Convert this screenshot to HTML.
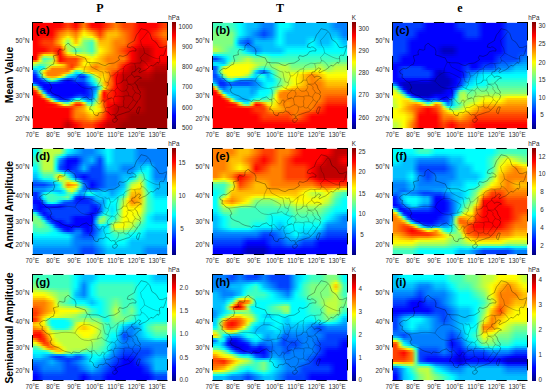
<!DOCTYPE html><html><head><meta charset="utf-8"><style>
*{margin:0;padding:0;box-sizing:border-box}
html,body{width:550px;height:392px;background:#fff;overflow:hidden}
body{position:relative;font-family:"Liberation Sans",sans-serif;color:#2a2a2a}
.t{position:absolute;white-space:nowrap}
.ttl{font-family:"Liberation Serif",serif;font-weight:bold;font-size:12px;color:#000}
.rl{font-weight:bold;font-size:10.35px;line-height:12px;color:#000;transform:translate(-50%,-50%) rotate(-90deg)}
.tk{font-size:6.3px;line-height:8px}
.pn{position:absolute;width:136px;height:107px;overflow:hidden}
.w{position:absolute;left:-4px;top:-2px;width:144px;height:111px;filter:blur(0.55px)}
.w div{position:absolute;left:0;width:144px;height:2px}
.cb{position:absolute;width:4.5px;height:107px}
.ov{position:absolute;left:0;top:0}
.ov polyline{fill:none;stroke-linejoin:round}
.bd{stroke:#000;stroke-width:0.55;stroke-opacity:0.6}
.pv{stroke:#000;stroke-width:0.45;stroke-opacity:0.5}
.fw{fill:none;stroke:#fff;stroke-width:1;stroke-opacity:0.8}
.fb{fill:none;stroke:#000;stroke-width:1}
.pl{position:absolute;font-weight:bold;font-size:11.5px;line-height:13px;color:#000}
</style></head><body><div class="t ttl" style="left:32px;top:1px;width:136px;text-align:center">P</div>
<div class="t ttl" style="left:212px;top:1px;width:136px;text-align:center">T</div>
<div class="t ttl" style="left:392px;top:1px;width:136px;text-align:center">e</div>
<div class="t rl" style="left:9.5px;top:75.2px">Mean Value</div>
<div class="t rl" style="left:9.5px;top:205.3px">Annual Amplitude</div>
<div class="t rl" style="left:9.5px;top:327.8px">Semiannual Amplitude</div>
<div class="pn" style="left:32px;top:22px"><div class="w"><div style="top:0px;background:linear-gradient(90deg,#ff0000 0px,#ff0000 4px,#ff0000 8px,#ff0000 12px,#ff0000 16px,#ff0000 20px,#ff0000 24px,#ff0000 28px,#ff0000 32px,#ff2000 36px,#ff4000 40px,#ff2000 44px,#ff0000 48px,#ff4000 52px,#ff8000 56px,#ff4000 60px,#ff0000 64px,#ff0000 68px,#ff0000 72px,#ff2000 76px,#ff4000 80px,#ff6000 84px,#ff8000 88px,#ff6000 92px,#ff4000 96px,#ff4000 100px,#ff4000 104px,#ff2000 108px,#ff0000 112px,#ff0000 116px,#ff0000 120px,#ff0000 124px,#ff0000 128px,#ff2000 132px,#ff4000 136px,#ff4000 140px,#ff4000 144px)"></div><div style="top:2px;background:linear-gradient(90deg,#ff0000 0px,#ff0000 4px,#ff0000 8px,#ff0000 12px,#ff0000 16px,#ff0000 20px,#ff0000 24px,#ff0000 28px,#ff0000 32px,#ff2000 36px,#ff4000 40px,#ff2000 44px,#ff0000 48px,#ff4000 52px,#ff8000 56px,#ff4000 60px,#ff0000 64px,#ff0000 68px,#ff0000 72px,#ff2000 76px,#ff4000 80px,#ff6000 84px,#ff8000 88px,#ff6000 92px,#ff4000 96px,#ff4000 100px,#ff4000 104px,#ff2000 108px,#ff0000 112px,#ff0000 116px,#ff0000 120px,#ff0000 124px,#ff0000 128px,#ff2000 132px,#ff4000 136px,#ff4000 140px,#ff4000 144px)"></div><div style="top:4px;background:linear-gradient(90deg,#ff0000 0px,#ff0000 4px,#ff0000 8px,#ff0000 12px,#ff0000 16px,#ff0000 20px,#ff0000 24px,#ff0000 28px,#ff0000 32px,#ff2000 36px,#ff4000 40px,#ff2000 44px,#ff0000 48px,#ff4000 52px,#ff8000 56px,#ff4000 60px,#ff0000 64px,#ff0000 68px,#ff0000 72px,#ff2000 76px,#ff4000 80px,#ff6000 84px,#ff8000 88px,#ff6000 92px,#ff4000 96px,#ff4000 100px,#ff4000 104px,#ff2000 108px,#ff0000 112px,#ff0000 116px,#ff0000 120px,#ff0000 124px,#ff0000 128px,#ff2000 132px,#ff4000 136px,#ff4000 140px,#ff4000 144px)"></div><div style="top:6px;background:linear-gradient(90deg,#ff0000 0px,#ff0000 4px,#ff0000 8px,#ff0000 12px,#ff0000 16px,#ff0000 20px,#ff0000 24px,#ff0400 28px,#ff0800 32px,#ff2800 36px,#ff4800 40px,#ff2800 44px,#ff0800 48px,#ff4800 52px,#ff8700 56px,#ff4a00 60px,#ff0c00 64px,#ff0800 68px,#ff0400 72px,#ff2600 76px,#ff4800 80px,#ff6600 84px,#ff8300 88px,#ff6400 92px,#ff4400 96px,#ff4200 100px,#ff4000 104px,#ff2000 108px,#ff0000 112px,#ff0000 116px,#ff0000 120px,#ff0200 124px,#ff0400 128px,#ff2400 132px,#ff4400 136px,#ff4400 140px,#ff4400 144px)"></div><div style="top:8px;background:linear-gradient(90deg,#ff0000 0px,#ff0000 4px,#ff0000 8px,#ff0000 12px,#ff0000 16px,#ff0000 20px,#ff0000 24px,#ff1400 28px,#ff2700 32px,#ff4700 36px,#ff6700 40px,#ff4700 44px,#ff2700 48px,#ff6700 52px,#ffa700 56px,#ff7100 60px,#ff3b00 64px,#ff2700 68px,#ff1400 72px,#ff3d00 76px,#ff6700 80px,#ff7d00 84px,#ff9300 88px,#ff7300 92px,#ff5300 96px,#ff4a00 100px,#ff4000 104px,#ff2000 108px,#ff0000 112px,#ff0000 116px,#ff0000 120px,#ff0a00 124px,#ff1400 128px,#ff3400 132px,#ff5300 136px,#ff5300 140px,#ff5300 144px)"></div><div style="top:10px;background:linear-gradient(90deg,#ff0000 0px,#ff0000 4px,#ff0000 8px,#ff0000 12px,#ff0000 16px,#ff0000 20px,#ff0000 24px,#ff2800 28px,#ff4f00 32px,#ff6f00 36px,#ff8f00 40px,#ff6f00 44px,#ff4f00 48px,#ff8f00 52px,#ffcf00 56px,#ffa300 60px,#ff7700 64px,#ff4f00 68px,#ff2800 72px,#ff5b00 76px,#ff8f00 80px,#ff9b00 84px,#ffa700 88px,#ff8700 92px,#ff6700 96px,#ff5400 100px,#ff4000 104px,#ff2000 108px,#ff0000 112px,#ff0000 116px,#ff0000 120px,#ff1400 124px,#ff2800 128px,#ff4700 132px,#ff6700 136px,#ff6700 140px,#ff6700 144px)"></div><div style="top:12px;background:linear-gradient(90deg,#ff0000 0px,#ff0000 4px,#ff0000 8px,#ff0000 12px,#ff0000 16px,#ff0000 20px,#ff0000 24px,#ff3900 28px,#ff7200 32px,#ff9200 36px,#ffb100 40px,#ff9200 44px,#ff7200 48px,#ffb100 52px,#fff100 56px,#ffce00 60px,#ffab00 64px,#ff7200 68px,#ff3900 72px,#ff7500 76px,#ffb100 80px,#ffb500 84px,#ffb800 88px,#ff9800 92px,#ff7900 96px,#ff5c00 100px,#ff4000 104px,#ff2000 108px,#ff0000 112px,#ff0000 116px,#ff0000 120px,#ff1c00 124px,#ff3900 128px,#ff5900 132px,#ff7900 136px,#ff7900 140px,#ff7900 144px)"></div><div style="top:14px;background:linear-gradient(90deg,#ff0000 0px,#ff0000 4px,#ff0000 8px,#ff0100 12px,#ff0300 16px,#ff0300 20px,#ff0300 24px,#ff4200 28px,#ff8200 32px,#ffa500 36px,#ffc700 40px,#ffa500 44px,#ff8200 48px,#ffc300 52px,#faff05 56px,#ffe700 60px,#ffca00 64px,#ff8800 68px,#ff4500 72px,#ff8200 76px,#ffbf00 80px,#ffbe00 84px,#ffbd00 88px,#ff9e00 92px,#ff8000 96px,#ff6000 100px,#ff4000 104px,#ff2000 108px,#ff0000 112px,#ff0000 116px,#ff0000 120px,#ff1f00 124px,#ff3d00 128px,#ff5d00 132px,#ff7d00 136px,#ff7d00 140px,#ff7d00 144px)"></div><div style="top:16px;background:linear-gradient(90deg,#ff0000 0px,#ff0000 4px,#ff0000 8px,#ff0900 12px,#ff1200 16px,#ff1200 20px,#ff1200 24px,#ff5100 28px,#ff9100 32px,#ffc300 36px,#fff400 40px,#ffc300 44px,#ff9100 48px,#ffda00 52px,#dcff23 56px,#eaff15 60px,#f8ff07 64px,#ffb400 68px,#ff6300 72px,#ff9100 76px,#ffbf00 80px,#ffb600 84px,#ffae00 88px,#ff9700 92px,#ff8000 96px,#ff6000 100px,#ff4000 104px,#ff2000 108px,#ff0000 112px,#ff0000 116px,#ff0000 120px,#ff1700 124px,#ff2e00 128px,#ff4e00 132px,#ff6e00 136px,#ff6e00 140px,#ff6e00 144px)"></div><div style="top:18px;background:linear-gradient(90deg,#ff0000 0px,#ff0000 4px,#ff0000 8px,#ff1300 12px,#ff2500 16px,#ff2500 20px,#ff2500 24px,#ff6500 28px,#ffa500 32px,#ffea00 36px,#cfff30 40px,#ffea00 44px,#ffa500 48px,#fff700 52px,#b4ff4b 56px,#afff50 60px,#aaff55 64px,#ffef00 68px,#ff8a00 72px,#ffa500 76px,#ffbf00 80px,#ffad00 84px,#ff9a00 88px,#ff8d00 92px,#ff8000 96px,#ff6000 100px,#ff4000 104px,#ff2000 108px,#ff0000 112px,#ff0000 116px,#ff0000 120px,#ff0d00 124px,#ff1a00 128px,#ff3a00 132px,#ff5a00 136px,#ff5a00 140px,#ff5a00 144px)"></div><div style="top:20px;background:linear-gradient(90deg,#ff0000 0px,#ff0000 4px,#ff0000 8px,#ff1c00 12px,#ff3700 16px,#ff3700 20px,#ff3700 24px,#ff7700 28px,#ffb700 32px,#f0ff0f 36px,#99ff66 40px,#f0ff0f 44px,#ffb700 48px,#ecff13 52px,#91ff6e 56px,#79ff86 60px,#62ff9d 64px,#d9ff26 68px,#ffae00 72px,#ffb700 76px,#ffbf00 80px,#ffa400 84px,#ff8800 88px,#ff8400 92px,#ff8000 96px,#ff6000 100px,#ff4000 104px,#ff2000 108px,#ff0000 112px,#ff0000 116px,#ff0000 120px,#ff0400 124px,#ff0900 128px,#ff2800 132px,#ff4800 136px,#ff4800 140px,#ff4800 144px)"></div><div style="top:22px;background:linear-gradient(90deg,#ff0000 0px,#ff0000 4px,#ff0000 8px,#ff1f00 12px,#ff3e00 16px,#ff3f00 20px,#ff4000 24px,#ff7d00 28px,#ffba00 32px,#e2ff1d 36px,#81ff7e 40px,#ddff22 44px,#ffc600 48px,#dcff23 52px,#80ff80 56px,#60ff9f 60px,#40ffbf 64px,#beff41 68px,#ffc100 72px,#ffc000 76px,#ffbf00 80px,#ff9f00 84px,#ff8000 88px,#ff7f00 92px,#ff7e00 96px,#ff5e00 100px,#ff3e00 104px,#ff1e00 108px,#fd0000 112px,#fd0000 116px,#fd0000 120px,#fe0000 124px,#ff0000 128px,#ff1f00 132px,#ff3e00 136px,#ff3e00 140px,#ff3e00 144px)"></div><div style="top:24px;background:linear-gradient(90deg,#ff0000 0px,#ff0000 4px,#ff0000 8px,#ff1800 12px,#ff3000 16px,#ff3800 20px,#ff4000 24px,#ff6800 28px,#ff9100 32px,#feff01 36px,#8fff70 40px,#c8ff37 44px,#fffd00 48px,#c0ff3f 52px,#80ff80 56px,#60ff9f 60px,#40ffbf 64px,#b7ff48 68px,#ffcf00 72px,#ffc700 76px,#ffbf00 80px,#ff9f00 84px,#ff8000 88px,#ff7800 92px,#ff7000 96px,#ff5000 100px,#ff3000 104px,#ff1000 108px,#ef0000 112px,#ef0000 116px,#ef0000 120px,#f70000 124px,#ff0000 128px,#ff1800 132px,#ff3000 136px,#ff3000 140px,#ff3000 144px)"></div><div style="top:26px;background:linear-gradient(90deg,#ff0000 0px,#ff0000 4px,#ff0000 8px,#ff0e00 12px,#ff1d00 16px,#ff2e00 20px,#ff4000 24px,#ff4b00 28px,#ff5600 32px,#ffd900 36px,#a2ff5d 40px,#abff54 44px,#b3ff4c 48px,#99ff66 52px,#80ff80 56px,#60ff9f 60px,#40ffbf 64px,#aeff51 68px,#ffe200 72px,#ffd100 76px,#ffbf00 80px,#ff9f00 84px,#ff8000 88px,#ff6e00 92px,#ff5d00 96px,#ff3d00 100px,#ff1d00 104px,#fc0000 108px,#dc0000 112px,#dc0000 116px,#dc0000 120px,#ee0000 124px,#ff0000 128px,#ff0e00 132px,#ff1d00 136px,#ff1d00 140px,#ff1d00 144px)"></div><div style="top:28px;background:linear-gradient(90deg,#ff0000 0px,#ff0000 4px,#ff0000 8px,#ff0500 12px,#ff0a00 16px,#ff2500 20px,#ff4000 24px,#ff2f00 28px,#ff1f00 32px,#ffb400 36px,#b5ff4a 40px,#8fff70 44px,#69ff96 48px,#74ff8b 52px,#80ff80 56px,#60ff9f 60px,#40ffbf 64px,#a5ff5a 68px,#fff500 72px,#ffda00 76px,#ffbf00 80px,#ff9f00 84px,#ff8000 88px,#ff6500 92px,#ff4a00 96px,#ff2a00 100px,#ff0a00 104px,#e90000 108px,#ca0000 112px,#ca0000 116px,#ca0000 120px,#e40000 124px,#ff0000 128px,#ff0500 132px,#ff0a00 136px,#ff0a00 140px,#ff0a00 144px)"></div><div style="top:30px;background:linear-gradient(90deg,#ff0000 0px,#ff0000 4px,#ff0000 8px,#ff0200 12px,#ff0500 16px,#ff2400 20px,#ff4300 24px,#ff2200 28px,#ff0000 32px,#ff9e00 36px,#c2ff3d 40px,#83ff7c 44px,#44ffbb 48px,#63ff9c 52px,#81ff7e 56px,#62ff9d 60px,#42ffbd 64px,#a1ff5e 68px,#fffe00 72px,#ffde00 76px,#ffbf00 80px,#ff9f00 84px,#ff8000 88px,#ff6000 92px,#ff4000 96px,#ff2000 100px,#ff0000 104px,#df0000 108px,#bf0000 112px,#bf0000 116px,#bf0000 120px,#df0000 124px,#ff0000 128px,#ff0000 132px,#ff0000 136px,#ff0000 140px,#ff0000 144px)"></div><div style="top:32px;background:linear-gradient(90deg,#ff0000 0px,#ff0000 4px,#ff0000 8px,#ff2f00 12px,#ff5e00 16px,#ff7100 20px,#ff8300 24px,#ff4200 28px,#ff0000 32px,#ff8400 36px,#f5ff0a 40px,#c3ff3c 44px,#91ff6e 48px,#9cff63 52px,#a8ff57 56px,#88ff77 60px,#68ff97 64px,#baff45 68px,#fff200 72px,#ffd200 76px,#ffb200 80px,#ff9900 84px,#ff8000 88px,#ff6600 92px,#ff4d00 96px,#ff2700 100px,#ff0000 104px,#df0000 108px,#bf0000 112px,#bf0000 116px,#bf0000 120px,#df0000 124px,#ff0000 128px,#ff0000 132px,#ff0000 136px,#ff0000 140px,#ff0000 144px)"></div><div style="top:34px;background:linear-gradient(90deg,#ff0000 0px,#ff0000 4px,#ff0000 8px,#ff7200 12px,#ffe500 16px,#ffe400 20px,#ffe300 24px,#ff7100 28px,#ff0000 32px,#ff5e00 36px,#ffbc00 40px,#ffdb00 44px,#fffa00 48px,#f3ff0c 52px,#e1ff1e 56px,#c2ff3d 60px,#a2ff5d 64px,#e1ff1e 68px,#ffde00 72px,#ffbe00 76px,#ff9f00 80px,#ff8f00 84px,#ff8000 88px,#ff7000 92px,#ff6000 96px,#ff3000 100px,#ff0000 104px,#df0000 108px,#bf0000 112px,#bf0000 116px,#bf0000 120px,#df0000 124px,#ff0000 128px,#ff0000 132px,#ff0000 136px,#ff0000 140px,#ff0000 144px)"></div><div style="top:36px;background:linear-gradient(90deg,#ff0000 0px,#ff0000 4px,#ff0000 8px,#ffb400 12px,#95ff6a 16px,#a9ff56 20px,#bcff43 24px,#ffa100 28px,#ff0000 32px,#ff3800 36px,#ff7100 40px,#ff7d00 44px,#ff8900 48px,#ffb600 52px,#ffe400 56px,#faff05 60px,#daff25 64px,#fff800 68px,#ffcb00 72px,#ffac00 76px,#ff8c00 80px,#ff8600 84px,#ff8000 88px,#ff7900 92px,#ff7300 96px,#ff3a00 100px,#ff0000 104px,#df0000 108px,#bf0000 112px,#bf0000 116px,#bf0000 120px,#df0000 124px,#ff0000 128px,#ff0000 132px,#ff0000 136px,#ff0000 140px,#ff0000 144px)"></div><div style="top:38px;background:linear-gradient(90deg,#ff0000 0px,#ff0000 4px,#ff0000 8px,#ffdf00 12px,#41ffbe 16px,#60ff9f 20px,#80ff7f 24px,#ffbf00 28px,#ff0000 32px,#ff2000 36px,#ff4000 40px,#ff4000 44px,#ff4000 48px,#ff8000 52px,#ffc000 56px,#ffdf00 60px,#ffff00 64px,#ffdf00 68px,#ffbf00 72px,#ff9f00 76px,#ff8000 80px,#ff8000 84px,#ff8000 88px,#ff7f00 92px,#ff7f00 96px,#ff4000 100px,#ff0000 104px,#df0000 108px,#bf0000 112px,#bf0000 116px,#bf0000 120px,#df0000 124px,#ff0000 128px,#ff0000 132px,#ff0000 136px,#ff0000 140px,#ff0000 144px)"></div><div style="top:40px;background:linear-gradient(90deg,#ff7400 0px,#ff7400 4px,#ff7400 8px,#f6ff09 12px,#62ff9d 16px,#88ff77 20px,#aeff51 24px,#ffae00 28px,#ff0c00 32px,#ff2600 36px,#ff4000 40px,#ff4600 44px,#ff4b00 48px,#ff9100 52px,#ffd600 56px,#ffeb00 60px,#ffff00 64px,#ffdf00 68px,#ffbf00 72px,#ff9f00 76px,#ff8000 80px,#ff8000 84px,#ff8000 88px,#ff7400 92px,#ff6800 96px,#ff2e00 100px,#f30000 104px,#d90000 108px,#bf0000 112px,#c50000 116px,#cb0000 120px,#df0000 124px,#f30000 128px,#f30000 132px,#f30000 136px,#f30000 140px,#f30000 144px)"></div><div style="top:42px;background:linear-gradient(90deg,#f2ff0d 0px,#f2ff0d 4px,#d8ff27 8px,#9dff62 12px,#7cff83 16px,#a1ff5e 20px,#cdff32 24px,#ffce00 28px,#ff6b00 32px,#ff6500 36px,#ff4c00 40px,#ff4600 44px,#ff5800 48px,#ffa400 52px,#fff600 56px,#fff700 60px,#ffe500 64px,#ffc600 68px,#ffb900 72px,#ffac00 76px,#ff8f00 80px,#ff8000 84px,#ff8000 88px,#ff6100 92px,#ff4300 96px,#ff1200 100px,#e10000 104px,#d00000 108px,#bf0000 112px,#ce0000 116px,#de0000 120px,#df0000 124px,#e10000 128px,#e10000 132px,#e10000 136px,#e10000 140px,#e10000 144px)"></div><div style="top:44px;background:linear-gradient(90deg,#bfff40 0px,#bfff40 4px,#81ff7e 8px,#48ffb7 12px,#59ffa6 16px,#89ff76 20px,#beff41 24px,#e9ff16 28px,#ffeb00 32px,#ffc000 36px,#ff6200 40px,#ff3a00 44px,#ff5f00 48px,#ffa800 52px,#fff600 56px,#ffef00 60px,#ffb600 64px,#ff9600 68px,#ffac00 72px,#ffbe00 76px,#ffa500 80px,#ff8000 84px,#ff8000 88px,#ff4e00 92px,#ff1c00 96px,#f40000 100px,#cd0000 104px,#c60000 108px,#bf0000 112px,#d80000 116px,#f10000 120px,#df0000 124px,#cd0000 128px,#cd0000 132px,#cd0000 136px,#cd0000 140px,#cd0000 144px)"></div><div style="top:46px;background:linear-gradient(90deg,#4affb5 0px,#4affb5 4px,#31ffce 8px,#00f2ff 12px,#1affe5 16px,#ceff31 20px,#ffc300 24px,#ffbd00 28px,#ffb700 32px,#ffa500 36px,#ff6600 40px,#ff3a00 44px,#ff8d00 48px,#ffcd00 52px,#ffc500 56px,#ffc500 60px,#ff9900 64px,#ff7900 68px,#ff9f00 72px,#ffac00 76px,#ff8e00 80px,#ff8000 84px,#ff8000 88px,#ff4100 92px,#ff0200 96px,#e10000 100px,#c00000 104px,#c00000 108px,#bf0000 112px,#df0000 116px,#fe0000 120px,#df0000 124px,#c00000 128px,#c00000 132px,#c00000 136px,#c00000 140px,#c00000 144px)"></div><div style="top:48px;background:linear-gradient(90deg,#00daff 0px,#00daff 4px,#00e6ff 8px,#00f8ff 12px,#57ffa8 16px,#ffe600 20px,#ff8000 24px,#ff8000 28px,#ff8000 32px,#ff8000 36px,#ff6600 40px,#ff7100 44px,#ffe300 48px,#f4ff0b 52px,#ffd800 56px,#ffc500 60px,#ffa600 64px,#ff8c00 68px,#ffa600 72px,#ffa600 76px,#ff8400 80px,#ff7600 84px,#ff6c00 88px,#ff3100 92px,#f50000 96px,#da0000 100px,#bf0000 104px,#bf0000 108px,#bf0000 112px,#da0000 116px,#f50000 120px,#d80000 124px,#ba0000 128px,#ba0000 132px,#ba0000 136px,#ba0000 140px,#ba0000 144px)"></div><div style="top:50px;background:linear-gradient(90deg,#0065ff 0px,#0065ff 4px,#0098ff 8px,#47ffb8 12px,#fff700 16px,#ff9800 20px,#ff8000 24px,#ff8000 28px,#ff8000 32px,#ff8000 36px,#ff7900 40px,#f1ff0e 44px,#44ffbb 48px,#6bff94 52px,#d8ff27 56px,#ffd900 60px,#ffb900 64px,#ffb300 68px,#ffb900 72px,#ffb900 76px,#ff9400 80px,#ff6300 84px,#ff4700 88px,#ff1600 92px,#e30000 96px,#d10000 100px,#bf0000 104px,#bf0000 108px,#bf0000 112px,#d10000 116px,#e30000 120px,#ca0000 124px,#b10000 128px,#b10000 132px,#b10000 136px,#b10000 140px,#b10000 144px)"></div><div style="top:52px;background:linear-gradient(90deg,#0033ff 0px,#0033ff 4px,#006dff 8px,#41ffbe 12px,#ffd200 16px,#ff8000 20px,#ff8000 24px,#ff8000 28px,#ff8600 32px,#ff9e00 36px,#ffca00 40px,#8eff71 44px,#00ecff 48px,#08fff7 52px,#6fff90 56px,#d5ff2a 60px,#fff100 64px,#ffd200 68px,#ffbf00 72px,#ffc500 76px,#ff9e00 80px,#ff5000 84px,#ff2000 88px,#f70000 92px,#cf0000 96px,#c70000 100px,#bf0000 104px,#bf0000 108px,#bf0000 112px,#c70000 116px,#cf0000 120px,#bb0000 124px,#a70000 128px,#a70000 132px,#a70000 136px,#a70000 140px,#a70000 144px)"></div><div style="top:54px;background:linear-gradient(90deg,#000cff 0px,#000cff 4px,#0032ff 8px,#00deff 12px,#f2ff0d 16px,#ff8000 20px,#ff8000 24px,#ff8000 28px,#ff9900 32px,#feff01 36px,#4affb5 40px,#00f1ff 44px,#00b2ff 48px,#0057ff 52px,#0070ff 56px,#00e9ff 60px,#71ff8e 64px,#f2ff0d 68px,#ffbf00 72px,#ffd900 76px,#ffae00 80px,#ff4200 84px,#ff0400 88px,#e20000 92px,#c10000 96px,#c00000 100px,#bf0000 104px,#bf0000 108px,#bf0000 112px,#c00000 116px,#c10000 120px,#b10000 124px,#a00000 128px,#a00000 132px,#a00000 136px,#a00000 140px,#a00000 144px)"></div><div style="top:56px;background:linear-gradient(90deg,#0000ff 0px,#0000ff 4px,#001aff 8px,#00a0ff 12px,#95ff6a 16px,#ffca00 20px,#ffb100 24px,#ffc300 28px,#fffc00 32px,#89ff76 36px,#00ceff 40px,#00a0ff 44px,#0093ff 48px,#002cff 52px,#002cff 56px,#00a6ff 60px,#33ffcc 64px,#c6ff39 68px,#ffd200 72px,#ffdf00 76px,#ffaf00 80px,#ff4400 84px,#ff0000 88px,#df0000 92px,#bf0000 96px,#bf0000 100px,#bf0000 104px,#bd0000 108px,#bb0000 112px,#bb0000 116px,#bb0000 120px,#ad0000 124px,#9f0000 128px,#9f0000 132px,#9f0000 136px,#9f0000 140px,#9f0000 144px)"></div><div style="top:58px;background:linear-gradient(90deg,#0000ff 0px,#0000ff 4px,#0006ff 8px,#003fff 12px,#00aaff 16px,#4affb5 20px,#b1ff4e 24px,#64ff9b 28px,#00dcff 32px,#0076ff 36px,#0031ff 40px,#003fff 44px,#006cff 48px,#0053ff 52px,#0053ff 56px,#00b9ff 60px,#0cfff3 64px,#78ff87 68px,#f2ff0d 72px,#ffdf00 76px,#ffa300 80px,#ff4d00 84px,#ff0000 88px,#df0000 92px,#bf0000 96px,#bf0000 100px,#bf0000 104px,#b90000 108px,#b20000 112px,#b20000 116px,#b20000 120px,#a90000 124px,#9f0000 128px,#9f0000 132px,#9f0000 136px,#9f0000 140px,#9f0000 144px)"></div><div style="top:60px;background:linear-gradient(90deg,#0019ff 0px,#0019ff 4px,#000cff 8px,#001aff 12px,#004dff 16px,#00ceff 20px,#35ffca 24px,#00e7ff 28px,#0067ff 32px,#001aff 36px,#0000ff 40px,#001aff 44px,#004dff 48px,#004dff 52px,#0053ff 56px,#00adff 60px,#00f3ff 64px,#53ffac 68px,#d3ff2c 72px,#ffd900 76px,#ff9800 80px,#ff5600 84px,#ff0000 88px,#df0000 92px,#bf0000 96px,#bf0000 100px,#bf0000 104px,#b40000 108px,#a90000 112px,#a90000 116px,#a90000 120px,#a40000 124px,#9f0000 128px,#9f0000 132px,#9f0000 136px,#9f0000 140px,#9f0000 144px)"></div><div style="top:62px;background:linear-gradient(90deg,#0067ff 0px,#0067ff 4px,#0033ff 8px,#0006ff 12px,#0013ff 16px,#0031ff 20px,#004aff 24px,#0038ff 28px,#0019ff 32px,#0006ff 36px,#0000ff 40px,#0006ff 44px,#0013ff 48px,#0013ff 52px,#002cff 56px,#0072ff 60px,#00ccff 64px,#2cffd3 68px,#acff53 72px,#ffc500 76px,#ff7c00 80px,#ff5e00 84px,#ff0000 88px,#df0000 92px,#bf0000 96px,#bf0000 100px,#bf0000 104px,#b00000 108px,#a10000 112px,#a10000 116px,#a10000 120px,#a00000 124px,#9f0000 128px,#9f0000 132px,#9f0000 136px,#9f0000 140px,#9f0000 144px)"></div><div style="top:64px;background:linear-gradient(90deg,#00efff 0px,#00efff 4px,#0096ff 8px,#001fff 12px,#0000ff 16px,#0000ff 20px,#0000ff 24px,#0000ff 28px,#0000ff 32px,#0000ff 36px,#0000ff 40px,#0000ff 44px,#0000ff 48px,#0000ff 52px,#001aff 56px,#0053ff 60px,#00a7ff 64px,#01fffe 68px,#87ff78 72px,#ffd200 76px,#ff7a00 80px,#ff5900 84px,#ff0000 88px,#df0000 92px,#bf0000 96px,#bf0000 100px,#bf0000 104px,#b10000 108px,#a30000 112px,#a10000 116px,#9f0000 120px,#9f0000 124px,#9f0000 128px,#9f0000 132px,#9f0000 136px,#9f0000 140px,#9f0000 144px)"></div><div style="top:66px;background:linear-gradient(90deg,#ffaf00 0px,#ffaf00 4px,#a9ff56 8px,#0080ff 12px,#0000ff 16px,#0000ff 20px,#0000ff 24px,#0000ff 28px,#0000ff 32px,#0000ff 36px,#0000ff 40px,#0000ff 44px,#0000ff 48px,#0000ff 52px,#0006ff 56px,#002cff 60px,#0058ff 64px,#009eff 68px,#39ffc6 72px,#f2ff0d 76px,#ff9200 80px,#ff4800 84px,#ff0000 88px,#df0000 92px,#bf0000 96px,#bf0000 100px,#bf0000 104px,#b50000 108px,#ab0000 112px,#a50000 116px,#9f0000 120px,#9f0000 124px,#9f0000 128px,#9f0000 132px,#9f0000 136px,#9f0000 140px,#9f0000 144px)"></div><div style="top:68px;background:linear-gradient(90deg,#ff3300 0px,#ff3300 4px,#ffd400 8px,#00e3ff 12px,#001fff 16px,#0000ff 20px,#0000ff 24px,#0000ff 28px,#0000ff 32px,#0000ff 36px,#0000ff 40px,#0000ff 44px,#0000ff 48px,#0000ff 52px,#0000ff 56px,#0020ff 60px,#0046ff 64px,#008cff 68px,#4bffb4 72px,#ffe700 76px,#ff8600 80px,#ff3400 84px,#ff0000 88px,#df0000 92px,#bf0000 96px,#bf0000 100px,#bf0000 104px,#ba0000 108px,#b50000 112px,#aa0000 116px,#9f0000 120px,#9f0000 124px,#9f0000 128px,#9f0000 132px,#9f0000 136px,#9f0000 140px,#9f0000 144px)"></div><div style="top:70px;background:linear-gradient(90deg,#ff0c00 0px,#ff0c00 4px,#ff4b00 8px,#bbff44 12px,#0080ff 16px,#0000ff 20px,#0000ff 24px,#0000ff 28px,#0000ff 32px,#0000ff 36px,#0000ff 40px,#0000ff 44px,#0000ff 48px,#0000ff 52px,#0000ff 56px,#0020ff 60px,#0059ff 64px,#00b3ff 68px,#d4ff2b 72px,#ff3800 76px,#ff5000 80px,#ff2400 84px,#ff0000 88px,#df0000 92px,#bf0000 96px,#bf0000 100px,#bf0000 104px,#be0000 108px,#bd0000 112px,#ae0000 116px,#9f0000 120px,#9f0000 124px,#9f0000 128px,#9f0000 132px,#9f0000 136px,#9f0000 140px,#9f0000 144px)"></div><div style="top:72px;background:linear-gradient(90deg,#ff0000 0px,#ff0000 4px,#ff1a00 8px,#ffd400 12px,#00e3ff 16px,#0025ff 20px,#0006ff 24px,#0000ff 28px,#0000ff 32px,#0000ff 36px,#0000ff 40px,#0000ff 44px,#0006ff 48px,#000cff 52px,#0006ff 56px,#0020ff 60px,#0060ff 64px,#00ccff 68px,#fff300 72px,#ff0000 76px,#ff3b00 80px,#ff2000 84px,#ff0000 88px,#df0000 92px,#bf0000 96px,#bf0000 100px,#bf0000 104px,#bf0000 108px,#bf0000 112px,#af0000 116px,#9f0000 120px,#9f0000 124px,#9f0000 128px,#9f0000 132px,#9f0000 136px,#9f0000 140px,#9f0000 144px)"></div><div style="top:74px;background:linear-gradient(90deg,#ff0000 0px,#ff0000 4px,#ff0600 8px,#ff4b00 12px,#bbff44 16px,#009aff 20px,#001aff 24px,#0000ff 28px,#0000ff 32px,#0000ff 36px,#0000ff 40px,#0000ff 44px,#001aff 48px,#0033ff 52px,#001aff 56px,#0020ff 60px,#0060ff 64px,#00f3ff 68px,#ffcc00 72px,#ff0000 76px,#ff2b00 80px,#ff2000 84px,#ff0000 88px,#df0000 92px,#bf0000 96px,#bf0000 100px,#bf0000 104px,#bf0000 108px,#bf0000 112px,#af0000 116px,#9f0000 120px,#9f0000 124px,#9f0000 128px,#9f0000 132px,#9f0000 136px,#9f0000 140px,#9f0000 144px)"></div><div style="top:76px;background:linear-gradient(90deg,#ff0000 0px,#ff0000 4px,#ff0000 8px,#ff1a00 12px,#ffce00 16px,#1dffe2 20px,#006aff 24px,#001fff 28px,#0006ff 32px,#0006ff 36px,#000cff 40px,#001fff 44px,#0057ff 48px,#0071ff 52px,#003fff 56px,#0032ff 60px,#006cff 64px,#13ffec 68px,#ffb900 72px,#ff0600 76px,#ff2100 80px,#ff2000 84px,#ff0000 88px,#df0000 92px,#bf0000 96px,#bf0000 100px,#bf0000 104px,#bf0000 108px,#bf0000 112px,#af0000 116px,#9f0000 120px,#9f0000 124px,#9f0000 128px,#9f0000 132px,#9f0000 136px,#9f0000 140px,#9f0000 144px)"></div><div style="top:78px;background:linear-gradient(90deg,#ff0000 0px,#ff0000 4px,#ff0000 8px,#ff0600 12px,#ff3100 16px,#ffbc00 20px,#55ffaa 24px,#0080ff 28px,#001aff 32px,#001aff 36px,#0033ff 40px,#0080ff 44px,#08fff7 48px,#0efff1 52px,#00a0ff 56px,#006dff 60px,#0093ff 64px,#4dffb2 68px,#ffa600 72px,#ff1a00 76px,#ff1200 80px,#ff2000 84px,#ff0000 88px,#df0000 92px,#bf0000 96px,#bf0000 100px,#bf0000 104px,#bf0000 108px,#bf0000 112px,#af0000 116px,#9f0000 120px,#9f0000 124px,#9f0000 128px,#9f0000 132px,#9f0000 136px,#9f0000 140px,#9f0000 144px)"></div><div style="top:80px;background:linear-gradient(90deg,#ff0000 0px,#ff0000 4px,#ff0000 8px,#ff0000 12px,#ff0000 16px,#ff4d00 20px,#e3ff1c 24px,#10ffef 28px,#008fff 32px,#0070ff 36px,#007eff 40px,#00f0ff 44px,#90ff6f 48px,#90ff6f 52px,#11ffee 56px,#00abff 60px,#00beff 64px,#72ff8d 68px,#ffac00 72px,#ff2c00 76px,#ff0c00 80px,#ff1c00 84px,#fb0000 88px,#dd0000 92px,#bf0000 96px,#bf0000 100px,#bf0000 104px,#bf0000 108px,#bf0000 112px,#af0000 116px,#9f0000 120px,#9f0000 124px,#9f0000 128px,#9f0000 132px,#9f0000 136px,#9f0000 140px,#9f0000 144px)"></div><div style="top:82px;background:linear-gradient(90deg,#ff0000 0px,#ff0000 4px,#ff0000 8px,#ff0000 12px,#ff0000 16px,#ff1300 20px,#ff4400 24px,#ff8f00 28px,#efff10 32px,#6fff90 36px,#42ffbd 40px,#eeff11 44px,#ff7000 48px,#ff7000 52px,#fff000 56px,#34ffcb 60px,#21ffde 64px,#adff52 68px,#ffd300 72px,#ff5300 76px,#ff0900 80px,#ff0d00 84px,#ec0000 88px,#d60000 92px,#bf0000 96px,#bf0000 100px,#bf0000 104px,#bf0000 108px,#bf0000 112px,#af0000 116px,#9f0000 120px,#9f0000 124px,#9f0000 128px,#9f0000 132px,#9f0000 136px,#9f0000 140px,#9f0000 144px)"></div><div style="top:84px;background:linear-gradient(90deg,#ff0000 0px,#ff0000 4px,#ff0000 8px,#ff0000 12px,#ff0000 16px,#ff0000 20px,#ff0000 24px,#ff1a00 28px,#ff8000 32px,#fdff02 36px,#caff35 40px,#ff9a00 44px,#ff2600 48px,#ff2c00 52px,#ff9900 56px,#7fff80 60px,#5fffa0 64px,#d2ff2d 68px,#ffd300 72px,#ff5900 76px,#ff0500 80px,#f80000 84px,#d80000 88px,#cc0000 92px,#bf0000 96px,#bf0000 100px,#bf0000 104px,#bf0000 108px,#bf0000 112px,#af0000 116px,#9f0000 120px,#9f0000 124px,#9f0000 128px,#9f0000 132px,#9f0000 136px,#9f0000 140px,#9f0000 144px)"></div><div style="top:86px;background:linear-gradient(90deg,#ff0000 0px,#ff0000 4px,#ff0000 8px,#ff0000 12px,#ff0000 16px,#ff0400 20px,#ff0900 24px,#ff1400 28px,#ff2a00 32px,#ff3e00 36px,#ff4700 40px,#ff4500 44px,#ff6400 48px,#ff7f00 52px,#ffa900 56px,#e4ff1b 60px,#baff45 64px,#f6ff09 68px,#ffd000 72px,#ff6000 76px,#ff0400 80px,#e70000 84px,#c70000 88px,#c30000 92px,#bf0000 96px,#bf0000 100px,#bf0000 104px,#bf0000 108px,#bf0000 112px,#af0000 116px,#9f0000 120px,#9f0000 124px,#9f0000 128px,#9f0000 132px,#9f0000 136px,#9f0000 140px,#9f0000 144px)"></div><div style="top:88px;background:linear-gradient(90deg,#ff0000 0px,#ff0000 4px,#ff0000 8px,#ff0000 12px,#ff0000 16px,#ff0000 20px,#ff0000 24px,#ff0000 28px,#ff0000 32px,#ff0000 36px,#ff0000 40px,#ff3300 44px,#ff7300 48px,#ff9200 52px,#ffb100 56px,#fffc00 60px,#c9ff36 64px,#f0ff0f 68px,#ffe800 72px,#ff7100 76px,#ff0000 80px,#df0000 84px,#bf0000 88px,#bf0000 92px,#bf0000 96px,#bf0000 100px,#be0000 104px,#be0000 108px,#be0000 112px,#af0000 116px,#9f0000 120px,#9f0000 124px,#9f0000 128px,#9f0000 132px,#9f0000 136px,#9f0000 140px,#9f0000 144px)"></div><div style="top:90px;background:linear-gradient(90deg,#ff0000 0px,#ff0000 4px,#ff0000 8px,#ff0000 12px,#ff0000 16px,#ff0000 20px,#ff0000 24px,#ff0000 28px,#ff0000 32px,#ff0000 36px,#ff0000 40px,#ff4000 44px,#ff8000 48px,#ff9700 52px,#ffae00 56px,#ffe600 60px,#e1ff1e 64px,#fffd00 68px,#ffdd00 72px,#ff6f00 76px,#ff0000 80px,#df0000 84px,#bf0000 88px,#bf0000 92px,#bf0000 96px,#bb0000 100px,#b70000 104px,#b70000 108px,#b70000 112px,#ab0000 116px,#9f0000 120px,#9f0000 124px,#9f0000 128px,#9f0000 132px,#9f0000 136px,#9f0000 140px,#9f0000 144px)"></div><div style="top:92px;background:linear-gradient(90deg,#ff0000 0px,#ff0000 4px,#ff0000 8px,#ff0000 12px,#ff0000 16px,#ff0000 20px,#ff0000 24px,#ff0000 28px,#ff0000 32px,#ff0000 36px,#ff0000 40px,#ff4000 44px,#ff8000 48px,#ff8d00 52px,#ff9b00 56px,#ffc800 60px,#fff600 64px,#ffd600 68px,#ffb600 72px,#ff5b00 76px,#ff0000 80px,#df0000 84px,#bf0000 88px,#bf0000 92px,#bf0000 96px,#b60000 100px,#ad0000 104px,#ad0000 108px,#ad0000 112px,#a60000 116px,#9f0000 120px,#9f0000 124px,#9f0000 128px,#9f0000 132px,#9f0000 136px,#9f0000 140px,#9f0000 144px)"></div><div style="top:94px;background:linear-gradient(90deg,#ff0000 0px,#ff0000 4px,#ff0000 8px,#ff0000 12px,#ff0000 16px,#ff0000 20px,#ff0000 24px,#ff0000 28px,#ff0000 32px,#ff0000 36px,#ff0000 40px,#ff4000 44px,#ff8000 48px,#ff8400 52px,#ff8900 56px,#ffad00 60px,#ffd200 64px,#ffb200 68px,#ff9200 72px,#ff4900 76px,#ff0000 80px,#df0000 84px,#bf0000 88px,#bf0000 92px,#bf0000 96px,#b20000 100px,#a40000 104px,#a40000 108px,#a40000 112px,#a20000 116px,#9f0000 120px,#9f0000 124px,#9f0000 128px,#9f0000 132px,#9f0000 136px,#9f0000 140px,#9f0000 144px)"></div><div style="top:96px;background:linear-gradient(90deg,#ff0000 0px,#ff0000 4px,#ff0000 8px,#ff0000 12px,#ff0000 16px,#ff0000 20px,#ff0000 24px,#ff0000 28px,#ff0000 32px,#fe0000 36px,#fe0000 40px,#ff3e00 44px,#ff7d00 48px,#ff7e00 52px,#ff7e00 56px,#ff9d00 60px,#ffbd00 64px,#ff9d00 68px,#ff7d00 72px,#ff3e00 76px,#fe0000 80px,#de0000 84px,#bf0000 88px,#bf0000 92px,#bf0000 96px,#af0000 100px,#9f0000 104px,#9f0000 108px,#9f0000 112px,#9f0000 116px,#9f0000 120px,#9f0000 124px,#9f0000 128px,#9f0000 132px,#9f0000 136px,#9f0000 140px,#9f0000 144px)"></div><div style="top:98px;background:linear-gradient(90deg,#ff0000 0px,#ff0000 4px,#ff0000 8px,#ff0000 12px,#ff0000 16px,#ff0000 20px,#ff0000 24px,#ff0000 28px,#ff0000 32px,#f80000 36px,#f00000 40px,#ff2a00 44px,#ff6200 48px,#ff6900 52px,#ff7100 56px,#ff8900 60px,#ffa200 64px,#ff8200 68px,#ff6200 72px,#ff2a00 76px,#f00000 80px,#d80000 84px,#bf0000 88px,#bc0000 92px,#b80000 96px,#ac0000 100px,#9f0000 104px,#9f0000 108px,#9f0000 112px,#9f0000 116px,#9f0000 120px,#9f0000 124px,#9f0000 128px,#9f0000 132px,#9f0000 136px,#9f0000 140px,#9f0000 144px)"></div><div style="top:100px;background:linear-gradient(90deg,#ff0000 0px,#ff0000 4px,#ff0000 8px,#ff0000 12px,#ff0000 16px,#ff0000 20px,#ff0000 24px,#ff0000 28px,#ff0000 32px,#ee0000 36px,#dd0000 40px,#ff0c00 44px,#ff3b00 48px,#ff4c00 52px,#ff5d00 56px,#ff6c00 60px,#ff7b00 64px,#ff5b00 68px,#ff3b00 72px,#ff0c00 76px,#dd0000 80px,#ce0000 84px,#bf0000 88px,#b70000 92px,#ae0000 96px,#a70000 100px,#9f0000 104px,#9f0000 108px,#9f0000 112px,#9f0000 116px,#9f0000 120px,#9f0000 124px,#9f0000 128px,#9f0000 132px,#9f0000 136px,#9f0000 140px,#9f0000 144px)"></div><div style="top:102px;background:linear-gradient(90deg,#ff0000 0px,#ff0000 4px,#ff0000 8px,#ff0000 12px,#ff0000 16px,#ff0000 20px,#ff0000 24px,#ff0000 28px,#ff0000 32px,#e50000 36px,#ca0000 40px,#f00000 44px,#ff1600 48px,#ff3000 52px,#ff4b00 56px,#ff5000 60px,#ff5600 64px,#ff3600 68px,#ff1600 72px,#f00000 76px,#ca0000 80px,#c50000 84px,#bf0000 88px,#b20000 92px,#a50000 96px,#a20000 100px,#9f0000 104px,#9f0000 108px,#9f0000 112px,#9f0000 116px,#9f0000 120px,#9f0000 124px,#9f0000 128px,#9f0000 132px,#9f0000 136px,#9f0000 140px,#9f0000 144px)"></div><div style="top:104px;background:linear-gradient(90deg,#ff0000 0px,#ff0000 4px,#ff0000 8px,#ff0000 12px,#ff0000 16px,#ff0000 20px,#ff0000 24px,#ff0000 28px,#ff0000 32px,#df0000 36px,#bf0000 40px,#df0000 44px,#ff0000 48px,#ff2000 52px,#ff4000 56px,#ff4000 60px,#ff4000 64px,#ff2000 68px,#ff0000 72px,#df0000 76px,#bf0000 80px,#bf0000 84px,#bf0000 88px,#af0000 92px,#9f0000 96px,#9f0000 100px,#9f0000 104px,#9f0000 108px,#9f0000 112px,#9f0000 116px,#9f0000 120px,#9f0000 124px,#9f0000 128px,#9f0000 132px,#9f0000 136px,#9f0000 140px,#9f0000 144px)"></div><div style="top:106px;background:linear-gradient(90deg,#ff0000 0px,#ff0000 4px,#ff0000 8px,#ff0000 12px,#ff0000 16px,#ff0000 20px,#ff0000 24px,#ff0000 28px,#ff0000 32px,#df0000 36px,#bf0000 40px,#df0000 44px,#ff0000 48px,#ff2000 52px,#ff4000 56px,#ff4000 60px,#ff4000 64px,#ff2000 68px,#ff0000 72px,#df0000 76px,#bf0000 80px,#bf0000 84px,#bf0000 88px,#af0000 92px,#9f0000 96px,#9f0000 100px,#9f0000 104px,#9f0000 108px,#9f0000 112px,#9f0000 116px,#9f0000 120px,#9f0000 124px,#9f0000 128px,#9f0000 132px,#9f0000 136px,#9f0000 140px,#9f0000 144px)"></div><div style="top:108px;background:linear-gradient(90deg,#ff0000 0px,#ff0000 4px,#ff0000 8px,#ff0000 12px,#ff0000 16px,#ff0000 20px,#ff0000 24px,#ff0000 28px,#ff0000 32px,#df0000 36px,#bf0000 40px,#df0000 44px,#ff0000 48px,#ff2000 52px,#ff4000 56px,#ff4000 60px,#ff4000 64px,#ff2000 68px,#ff0000 72px,#df0000 76px,#bf0000 80px,#bf0000 84px,#bf0000 88px,#af0000 92px,#9f0000 96px,#9f0000 100px,#9f0000 104px,#9f0000 108px,#9f0000 112px,#9f0000 116px,#9f0000 120px,#9f0000 124px,#9f0000 128px,#9f0000 132px,#9f0000 136px,#9f0000 140px,#9f0000 144px)"></div><div style="top:110px;background:linear-gradient(90deg,#ff0000 0px,#ff0000 4px,#ff0000 8px,#ff0000 12px,#ff0000 16px,#ff0000 20px,#ff0000 24px,#ff0000 28px,#ff0000 32px,#df0000 36px,#bf0000 40px,#df0000 44px,#ff0000 48px,#ff2000 52px,#ff4000 56px,#ff4000 60px,#ff4000 64px,#ff2000 68px,#ff0000 72px,#df0000 76px,#bf0000 80px,#bf0000 84px,#bf0000 88px,#af0000 92px,#9f0000 96px,#9f0000 100px,#9f0000 104px,#9f0000 108px,#9f0000 112px,#9f0000 116px,#9f0000 120px,#9f0000 124px,#9f0000 128px,#9f0000 132px,#9f0000 136px,#9f0000 140px,#9f0000 144px)"></div></div><svg class="ov" width="136" height="107" viewBox="0 0 136 107"><polyline points="109.1,6.7 114.7,8.1 117.8,11.5 119.9,17.5 124.1,20.4 127.2,25.4 130.3,25.7 135.1,23.6 133.8,27.3 133.0,30.0 131.5,33.6 129.0,33.0 127.4,34.5 127.8,39.4 126.3,41.4 125.5,39.9 124.3,41.4 122.8,42.5 121.1,44.1 118.9,43.3 116.8,45.5 113.4,48.0 110.5,49.1 107.6,50.9 106.8,49.3 108.9,46.9 106.4,45.8 104.3,48.0 102.8,49.6 100.1,50.1 99.5,52.0 101.8,54.4 102.2,55.4 104.9,54.1 107.4,54.6 109.5,56.0 107.4,56.5 104.9,58.5 102.6,61.1 104.9,62.9 106.2,67.1 108.0,69.1 108.3,71.3 107.4,72.2 108.7,73.7 107.6,77.0 106.0,78.6 104.9,80.5 103.5,82.4 102.2,84.5 100.6,86.3 98.7,88.1 97.0,89.7 94.9,90.1 92.4,91.0 90.8,91.5 88.3,92.4 85.6,93.1 84.3,94.4 83.9,95.7 83.3,94.2 82.7,92.8 80.6,92.6 79.4,93.1 77.3,91.7 76.6,90.1 74.8,89.7 73.7,89.0 72.1,90.1 70.8,90.8 69.4,90.4 67.7,90.8 66.5,91.0 66.0,93.5 64.4,93.5 63.1,93.1 61.7,91.7 61.3,89.7 60.2,88.1 58.6,87.2 57.7,87.7 58.1,85.4 59.8,83.1 60.0,79.4 59.4,77.7 57.3,77.5 55.7,75.8 54.4,74.9 52.3,75.6 50.2,76.3 47.3,78.6 45.3,78.6 43.0,78.2 40.9,77.9 39.6,79.8 38.0,78.4 35.1,77.9 32.6,77.2 29.9,76.0 27.0,73.9 23.8,72.9 21.3,71.7 19.1,70.3 18.6,68.6 18.0,67.1 19.9,66.1 18.6,62.9 16.8,60.1 13.9,59.1 11.8,56.5 9.9,55.7 10.5,52.3 8.5,51.7 7.6,49.3 8.7,48.0 11.8,46.3 13.9,46.9 16.6,45.2 19.1,43.0 21.6,42.2 22.0,39.7 22.8,39.1 22.0,36.5 21.3,33.9 24.7,33.0 26.5,32.7 25.9,30.0 27.4,27.3 31.1,28.2 32.8,27.6 33.0,23.6 35.3,22.0 36.3,21.0 37.8,22.9 40.7,24.8 42.6,25.7 44.0,29.1 43.6,33.0 47.1,33.9 50.9,35.3 53.2,35.9 55.2,40.2 59.6,40.8 63.8,40.8 66.5,41.1 70.0,42.8 73.1,43.6 76.9,41.6 82.1,41.1 85.0,39.4 87.5,37.7 86.4,35.6 87.5,33.6 91.0,34.5 95.4,32.7 97.4,29.7 100.8,28.8 103.7,29.1 104.1,27.3 101.2,25.1 99.7,24.8 98.7,25.7 95.2,25.1 96.0,22.3 99.9,20.1 102.6,18.5 102.8,17.2 104.5,12.9 106.8,10.2 109.1,6.7" class="bd"/><polyline points="106.4,84.9 108.3,85.1 107.6,87.4 106.2,91.9 104.7,90.6 104.5,88.6 106.4,84.9" class="bd"/><polyline points="83.9,96.2 85.6,97.1 84.5,99.3 82.7,100.4 80.8,99.7 80.6,97.9 82.1,96.4 83.9,96.2" class="bd"/><polyline points="16.8,60.1 21.1,59.6 25.3,59.3 29.5,58.5 33.6,58.3 37.8,58.5 43.0,59.1" class="pv"/><polyline points="43.0,59.1 45.0,55.2 49.2,51.7 51.9,50.7 52.3,46.6 55.2,40.2" class="pv"/><polyline points="43.0,59.1 46.1,62.4 49.2,64.9 52.3,66.1 56.5,66.6 58.6,66.1 60.0,68.1 60.4,72.2 60.0,75.8 59.4,77.7" class="pv"/><polyline points="51.9,50.7 57.5,50.7 61.7,52.5 65.8,54.6 69.0,56.7 67.9,59.8 65.8,62.9 65.8,64.9" class="pv"/><polyline points="58.6,66.1 60.6,65.4 64.8,65.1 65.8,64.9 67.9,64.1 70.0,63.6 71.7,65.6 74.2,66.8" class="pv"/><polyline points="56.9,40.2 59.6,45.2 62.7,46.6 67.9,49.3 71.0,50.1 71.7,54.6 73.1,59.8 76.2,60.6 78.5,54.6 77.1,49.9 75.2,50.7 72.7,49.3" class="pv"/><polyline points="76.2,60.6 76.4,62.4 74.2,65.6 74.2,66.8" class="pv"/><polyline points="78.5,53.9 80.8,53.9 84.5,50.1 86.0,49.1 88.3,47.4 91.4,46.6 92.9,43.9 96.0,42.5 98.9,41.1 102.6,41.6 105.3,41.1 108.5,41.1 109.5,38.5 108.5,35.3 111.0,33.0 112.6,30.9 111.6,26.0 109.5,23.2 108.5,18.5 111.6,15.2 115.7,9.8" class="pv"/><polyline points="112.6,30.9 116.8,33.3 120.9,35.3 125.1,36.8 127.6,36.5" class="pv"/><polyline points="109.5,38.5 111.6,39.1 114.7,41.9 116.8,45.2" class="pv"/><polyline points="102.8,49.6 103.9,46.6 103.3,43.9 102.6,41.6" class="pv"/><polyline points="84.5,62.1 84.3,56.5 85.8,52.0 86.0,49.1" class="pv"/><polyline points="91.4,46.6 91.8,47.4 91.0,51.2 91.4,54.9 91.2,57.8 89.3,60.6 86.6,61.6 84.5,62.1" class="pv"/><polyline points="74.2,66.8 77.3,68.1 80.4,68.1 82.5,69.1 83.9,67.1 85.6,65.4 84.5,62.1" class="pv"/><polyline points="89.3,60.6 91.8,58.0 94.9,58.3 96.2,62.1 94.9,63.6 96.0,64.9 94.5,67.8 92.9,69.1 89.7,69.3 86.6,67.1 85.6,65.4" class="pv"/><polyline points="94.9,58.3 94.7,56.5 96.6,54.4 99.5,52.5" class="pv"/><polyline points="96.2,62.1 99.1,62.1 101.4,62.1 102.6,61.1" class="pv"/><polyline points="96.2,62.1 99.1,63.1 101.2,64.9 100.8,67.3 102.6,68.6 103.1,70.5 105.3,71.3 107.0,71.7" class="pv"/><polyline points="103.1,70.5 101.2,73.4 100.6,75.3 101.2,77.7 103.3,79.1 104.9,80.3" class="pv"/><polyline points="93.7,67.8 96.0,70.5 97.0,73.9 99.1,74.6 100.6,75.3" class="pv"/><polyline points="97.0,73.9 92.9,73.9 91.8,74.6 92.2,77.0 91.4,79.4 91.8,82.1 91.6,84.0 92.2,85.6 94.3,86.1 96.0,85.4 97.0,83.3 98.5,81.5 100.1,79.4 101.2,77.7" class="pv"/><polyline points="96.0,85.4 98.5,88.3" class="pv"/><polyline points="82.5,74.6 86.6,74.1 89.5,74.6 91.8,74.6" class="pv"/><polyline points="82.5,74.6 84.1,72.2 83.5,69.8 82.7,69.1" class="pv"/><polyline points="82.5,74.6 81.4,77.0 82.1,80.5 82.5,82.8 84.5,83.1 86.2,84.7 88.7,85.1 90.8,84.5 91.6,84.0" class="pv"/><polyline points="86.2,84.7 86.6,87.4 85.6,90.1 83.1,92.8" class="pv"/><polyline points="82.5,82.8 80.0,84.0 77.3,85.6 74.4,85.4 73.1,87.0 74.2,89.0" class="pv"/><polyline points="73.1,86.3 72.1,84.0 71.7,81.5 73.1,79.1 75.2,77.5 77.7,76.3 79.8,75.8 81.4,77.0" class="pv"/><polyline points="59.4,77.7 61.9,76.3 63.3,77.7 65.2,80.3 66.9,82.1 69.0,81.0 70.0,78.2 72.1,78.2 72.1,80.5" class="pv"/><polyline points="79.8,75.8 76.2,77.0 75.2,74.6 75.8,72.2 78.3,69.8 80.4,68.1" class="pv"/><rect x="0.5" y="0.5" width="135" height="106" class="fw"/><path d="M0.3 0.5H10.7M0.3 106.5H10.7M21.1 0.5H31.5M21.1 106.5H31.5M41.9 0.5H52.3M41.9 106.5H52.3M62.7 0.5H73.1M62.7 106.5H73.1M83.5 0.5H93.9M83.5 106.5H93.9M104.3 0.5H114.7M104.3 106.5H114.7M125.1 0.5H135.5M125.1 106.5H135.5M0.5 0.0V18.5M135.5 0.0V18.5M0.5 33.9V48.0M135.5 33.9V48.0M0.5 61.1V73.4M135.5 61.1V73.4M0.5 85.1V96.4M135.5 85.1V96.4" class="fb"/></svg></div>
<div class="cb" style="left:171.5px;top:22px;background:linear-gradient(180deg,#800000 0.00%,#9f0000 3.12%,#bf0000 6.25%,#df0000 9.38%,#ff0000 12.50%,#ff2000 15.62%,#ff4000 18.75%,#ff6000 21.88%,#ff8000 25.00%,#ff9f00 28.12%,#ffbf00 31.25%,#ffdf00 34.38%,#ffff00 37.50%,#dfff20 40.62%,#bfff40 43.75%,#9fff60 46.88%,#80ff80 50.00%,#60ff9f 53.12%,#40ffbf 56.25%,#20ffdf 59.38%,#00ffff 62.50%,#00dfff 65.62%,#00bfff 68.75%,#009fff 71.88%,#0080ff 75.00%,#0060ff 78.12%,#0040ff 81.25%,#0020ff 84.38%,#0000ff 87.50%,#0000df 90.62%,#0000bf 93.75%,#00009f 96.88%,#000080 100.00%)"></div>
<div class="t tk" style="left:163.8px;top:14.4px;width:20px;text-align:center">hPa</div>
<div class="t tk" style="left:178.6px;top:22.5px;width:14.0px;text-align:right">1000</div>
<div class="t tk" style="left:178.6px;top:42.9px;width:14.0px;text-align:right">900</div>
<div class="t tk" style="left:178.6px;top:63.1px;width:14.0px;text-align:right">800</div>
<div class="t tk" style="left:178.6px;top:83.4px;width:14.0px;text-align:right">700</div>
<div class="t tk" style="left:178.6px;top:103.7px;width:14.0px;text-align:right">600</div>
<div class="t tk" style="left:178.6px;top:124.0px;width:14.0px;text-align:right">500</div>
<div class="t tk" style="left:15.5px;top:37.0px;width:14px;text-align:right">50°N</div>
<div class="t tk" style="left:15.5px;top:65.8px;width:14px;text-align:right">40°N</div>
<div class="t tk" style="left:15.5px;top:91.8px;width:14px;text-align:right">30°N</div>
<div class="t tk" style="left:15.5px;top:114.9px;width:14px;text-align:right">20°N</div>
<div class="t tk" style="left:17.4px;top:130.8px;width:30px;text-align:center">70°E</div>
<div class="t tk" style="left:38.2px;top:130.8px;width:30px;text-align:center">80°E</div>
<div class="t tk" style="left:59.0px;top:130.8px;width:30px;text-align:center">90°E</div>
<div class="t tk" style="left:79.8px;top:130.8px;width:30px;text-align:center">100°E</div>
<div class="t tk" style="left:100.6px;top:130.8px;width:30px;text-align:center">110°E</div>
<div class="t tk" style="left:121.3px;top:130.8px;width:30px;text-align:center">120°E</div>
<div class="t tk" style="left:142.2px;top:130.8px;width:30px;text-align:center">130°E</div>
<div class="t pl" style="left:35.5px;top:23.5px">(a)</div>
<div class="pn" style="left:212px;top:22px"><div class="w"><div style="top:0px;background:linear-gradient(90deg,#40ffbf 0px,#40ffbf 4px,#40ffbf 8px,#40ffbf 12px,#40ffbf 16px,#40ffbf 20px,#40ffbf 24px,#20ffdf 28px,#00ffff 32px,#00dfff 36px,#00bfff 40px,#00bfff 44px,#00bfff 48px,#009fff 52px,#0080ff 56px,#0080ff 60px,#0080ff 64px,#00bfff 68px,#00ffff 72px,#00ffff 76px,#00ffff 80px,#00dfff 84px,#00bfff 88px,#00bfff 92px,#00bfff 96px,#00bfff 100px,#00bfff 104px,#00bfff 108px,#00bfff 112px,#00bfff 116px,#00bfff 120px,#009fff 124px,#0080ff 128px,#0080ff 132px,#0080ff 136px,#0080ff 140px,#0080ff 144px)"></div><div style="top:2px;background:linear-gradient(90deg,#40ffbf 0px,#40ffbf 4px,#40ffbf 8px,#40ffbf 12px,#40ffbf 16px,#40ffbf 20px,#40ffbf 24px,#20ffdf 28px,#00ffff 32px,#00dfff 36px,#00bfff 40px,#00bfff 44px,#00bfff 48px,#009fff 52px,#0080ff 56px,#0080ff 60px,#0080ff 64px,#00bfff 68px,#00ffff 72px,#00ffff 76px,#00ffff 80px,#00dfff 84px,#00bfff 88px,#00bfff 92px,#00bfff 96px,#00bfff 100px,#00bfff 104px,#00bfff 108px,#00bfff 112px,#00bfff 116px,#00bfff 120px,#009fff 124px,#0080ff 128px,#0080ff 132px,#0080ff 136px,#0080ff 140px,#0080ff 144px)"></div><div style="top:4px;background:linear-gradient(90deg,#40ffbf 0px,#40ffbf 4px,#40ffbf 8px,#40ffbf 12px,#40ffbf 16px,#40ffbf 20px,#40ffbf 24px,#20ffdf 28px,#00ffff 32px,#00dfff 36px,#00bfff 40px,#00bfff 44px,#00bfff 48px,#009fff 52px,#0080ff 56px,#0080ff 60px,#0080ff 64px,#00bfff 68px,#00ffff 72px,#00ffff 76px,#00ffff 80px,#00dfff 84px,#00bfff 88px,#00bfff 92px,#00bfff 96px,#00bfff 100px,#00bfff 104px,#00bfff 108px,#00bfff 112px,#00bfff 116px,#00bfff 120px,#009fff 124px,#0080ff 128px,#0080ff 132px,#0080ff 136px,#0080ff 140px,#0080ff 144px)"></div><div style="top:6px;background:linear-gradient(90deg,#44ffbb 0px,#44ffbb 4px,#44ffbb 8px,#44ffbb 12px,#44ffbb 16px,#44ffbb 20px,#44ffbb 24px,#22ffdd 28px,#00ffff 32px,#00dfff 36px,#00bfff 40px,#00bdff 44px,#00bbff 48px,#009bff 52px,#007cff 56px,#007eff 60px,#0080ff 64px,#00bfff 68px,#00ffff 72px,#00fdff 76px,#00fbff 80px,#00ddff 84px,#00bfff 88px,#00bfff 92px,#00bfff 96px,#00bfff 100px,#00bfff 104px,#00bfff 108px,#00bfff 112px,#00bfff 116px,#00bfff 120px,#00a1ff 124px,#0083ff 128px,#0081ff 132px,#0080ff 136px,#0080ff 140px,#0080ff 144px)"></div><div style="top:8px;background:linear-gradient(90deg,#53ffac 0px,#53ffac 4px,#53ffac 8px,#53ffac 12px,#53ffac 16px,#53ffac 20px,#53ffac 24px,#2affd5 28px,#00ffff 32px,#00dfff 36px,#00bfff 40px,#00b5ff 44px,#00acff 48px,#008cff 52px,#006cff 56px,#0076ff 60px,#0080ff 64px,#00bfff 68px,#00ffff 72px,#00f5ff 76px,#00ebff 80px,#00d5ff 84px,#00bfff 88px,#00bfff 92px,#00bfff 96px,#00bfff 100px,#00bfff 104px,#00bfff 108px,#00bfff 112px,#00bfff 116px,#00bfff 120px,#00a9ff 124px,#0093ff 128px,#0089ff 132px,#0080ff 136px,#0080ff 140px,#0080ff 144px)"></div><div style="top:10px;background:linear-gradient(90deg,#67ff98 0px,#67ff98 4px,#67ff98 8px,#67ff98 12px,#67ff98 16px,#67ff98 20px,#67ff98 24px,#34ffcb 28px,#00ffff 32px,#00dfff 36px,#00bfff 40px,#00abff 44px,#0098ff 48px,#0078ff 52px,#0058ff 56px,#006cff 60px,#0080ff 64px,#00bfff 68px,#00ffff 72px,#00ebff 76px,#00d7ff 80px,#00cbff 84px,#00bfff 88px,#00bfff 92px,#00bfff 96px,#00bfff 100px,#00bfff 104px,#00bfff 108px,#00bfff 112px,#00bfff 116px,#00bfff 120px,#00b3ff 124px,#00a7ff 128px,#0093ff 132px,#0080ff 136px,#0080ff 140px,#0080ff 144px)"></div><div style="top:12px;background:linear-gradient(90deg,#79ff86 0px,#79ff86 4px,#79ff86 8px,#79ff86 12px,#79ff86 16px,#79ff86 20px,#79ff86 24px,#3cffc3 28px,#00ffff 32px,#00dfff 36px,#00bfff 40px,#00a3ff 44px,#0086ff 48px,#0067ff 52px,#0047ff 56px,#0063ff 60px,#0080ff 64px,#00bfff 68px,#00ffff 72px,#00e3ff 76px,#00c6ff 80px,#00c3ff 84px,#00bfff 88px,#00bfff 92px,#00bfff 96px,#00bfff 100px,#00bfff 104px,#00bfff 108px,#00bfff 112px,#00bfff 116px,#00bfff 120px,#00bcff 124px,#00b8ff 128px,#009cff 132px,#0080ff 136px,#0080ff 140px,#0080ff 144px)"></div><div style="top:14px;background:linear-gradient(90deg,#80ff80 0px,#80ff80 4px,#80ff80 8px,#80ff80 12px,#80ff80 16px,#80ff80 20px,#80ff80 24px,#3dffc2 28px,#00faff 32px,#00daff 36px,#00baff 40px,#009eff 44px,#0082ff 48px,#0064ff 52px,#0045ff 56px,#0064ff 60px,#0082ff 64px,#00c1ff 68px,#00ffff 72px,#00dfff 76px,#00bfff 80px,#00bfff 84px,#00bfff 88px,#00bfff 92px,#00bfff 96px,#00c1ff 100px,#00c2ff 104px,#00c1ff 108px,#00bfff 112px,#00bfff 116px,#00bfff 120px,#00c1ff 124px,#00c2ff 128px,#00a2ff 132px,#0082ff 136px,#0082ff 140px,#0082ff 144px)"></div><div style="top:16px;background:linear-gradient(90deg,#80ff80 0px,#80ff80 4px,#80ff80 8px,#80ff80 12px,#80ff80 16px,#80ff80 20px,#80ff80 24px,#2effd1 28px,#00dcff 32px,#00bcff 36px,#009cff 40px,#0097ff 44px,#0091ff 48px,#007aff 52px,#0063ff 56px,#007aff 60px,#0091ff 64px,#00c8ff 68px,#00ffff 72px,#00dfff 76px,#00bfff 80px,#00bfff 84px,#00bfff 88px,#00bfff 92px,#00bfff 96px,#00c8ff 100px,#00d1ff 104px,#00c8ff 108px,#00bfff 112px,#00bfff 116px,#00bfff 120px,#00c8ff 124px,#00d1ff 128px,#00b1ff 132px,#0091ff 136px,#0091ff 140px,#0091ff 144px)"></div><div style="top:18px;background:linear-gradient(90deg,#80ff80 0px,#80ff80 4px,#80ff80 8px,#80ff80 12px,#80ff80 16px,#80ff80 20px,#80ff80 24px,#1affe5 28px,#00b4ff 32px,#0095ff 36px,#0075ff 40px,#008dff 44px,#00a5ff 48px,#0098ff 52px,#008aff 56px,#0098ff 60px,#00a5ff 64px,#00d2ff 68px,#00ffff 72px,#00dfff 76px,#00bfff 80px,#00bfff 84px,#00bfff 88px,#00bfff 92px,#00bfff 96px,#00d2ff 100px,#00e5ff 104px,#00d2ff 108px,#00bfff 112px,#00bfff 116px,#00bfff 120px,#00d2ff 124px,#00e5ff 128px,#00c5ff 132px,#00a5ff 136px,#00a5ff 140px,#00a5ff 144px)"></div><div style="top:20px;background:linear-gradient(90deg,#80ff80 0px,#80ff80 4px,#80ff80 8px,#80ff80 12px,#80ff80 16px,#80ff80 20px,#80ff80 24px,#09fff6 28px,#0091ff 32px,#0071ff 36px,#0051ff 40px,#0084ff 44px,#00b7ff 48px,#00b2ff 52px,#00aeff 56px,#00b2ff 60px,#00b7ff 64px,#00dbff 68px,#00ffff 72px,#00dfff 76px,#00bfff 80px,#00bfff 84px,#00bfff 88px,#00bfff 92px,#00bfff 96px,#00dbff 100px,#00f6ff 104px,#00dbff 108px,#00bfff 112px,#00bfff 116px,#00bfff 120px,#00dbff 124px,#00f6ff 128px,#00d7ff 132px,#00b7ff 136px,#00b7ff 140px,#00b7ff 144px)"></div><div style="top:22px;background:linear-gradient(90deg,#81ff7e 0px,#81ff7e 4px,#81ff7e 8px,#80ff7f 12px,#80ff80 16px,#7fff80 20px,#7eff81 24px,#02fffd 28px,#0084ff 32px,#0064ff 36px,#0043ff 40px,#0080ff 44px,#00beff 48px,#00beff 52px,#00bfff 56px,#00bfff 60px,#00bfff 64px,#00deff 68px,#00fdff 72px,#00dfff 76px,#00c1ff 80px,#00c1ff 84px,#00c1ff 88px,#00c1ff 92px,#00c1ff 96px,#00e0ff 100px,#00ffff 104px,#00e0ff 108px,#00c1ff 112px,#00c1ff 116px,#00c1ff 120px,#00e0ff 124px,#00ffff 128px,#00e0ff 132px,#00c1ff 136px,#00c1ff 140px,#00c1ff 144px)"></div><div style="top:24px;background:linear-gradient(90deg,#8fff70 0px,#8fff70 4px,#8fff70 8px,#87ff78 12px,#80ff80 16px,#78ff87 20px,#70ff8f 24px,#10ffef 28px,#00aeff 32px,#0086ff 36px,#005fff 40px,#0087ff 44px,#00b0ff 48px,#00b7ff 52px,#00bfff 56px,#00bfff 60px,#00bfff 64px,#00d7ff 68px,#00efff 72px,#00dfff 76px,#00cfff 80px,#00cfff 84px,#00cfff 88px,#00cfff 92px,#00cfff 96px,#00e7ff 100px,#00ffff 104px,#00e7ff 108px,#00cfff 112px,#00cfff 116px,#00cfff 120px,#00e7ff 124px,#00ffff 128px,#00e7ff 132px,#00cfff 136px,#00cfff 140px,#00cfff 144px)"></div><div style="top:26px;background:linear-gradient(90deg,#a2ff5d 0px,#a2ff5d 4px,#a2ff5d 8px,#91ff6e 12px,#80ff80 16px,#6eff91 20px,#5dffa2 24px,#23ffdc 28px,#00e8ff 32px,#00b7ff 36px,#0086ff 40px,#0091ff 44px,#009cff 48px,#00aeff 52px,#00bfff 56px,#00bfff 60px,#00bfff 64px,#00ceff 68px,#00dcff 72px,#00dfff 76px,#00e2ff 80px,#00e2ff 84px,#00e2ff 88px,#00e2ff 92px,#00e2ff 96px,#00f1ff 100px,#00ffff 104px,#00f1ff 108px,#00e2ff 112px,#00e2ff 116px,#00e2ff 120px,#00f1ff 124px,#00ffff 128px,#00f1ff 132px,#00e2ff 136px,#00e2ff 140px,#00e2ff 144px)"></div><div style="top:28px;background:linear-gradient(90deg,#b5ff4a 0px,#b5ff4a 4px,#b5ff4a 8px,#9aff65 12px,#80ff80 16px,#65ff9a 20px,#4affb5 24px,#35ffca 28px,#21ffde 32px,#00e5ff 36px,#00abff 40px,#009aff 44px,#008aff 48px,#00a5ff 52px,#00bfff 56px,#00bfff 60px,#00bfff 64px,#00c4ff 68px,#00caff 72px,#00dfff 76px,#00f5ff 80px,#00f5ff 84px,#00f5ff 88px,#00f5ff 92px,#00f5ff 96px,#00faff 100px,#00ffff 104px,#00faff 108px,#00f5ff 112px,#00f5ff 116px,#00f5ff 120px,#00faff 124px,#00ffff 128px,#00faff 132px,#00f5ff 136px,#00f5ff 140px,#00f5ff 144px)"></div><div style="top:30px;background:linear-gradient(90deg,#bbff44 0px,#bbff44 4px,#bbff44 8px,#9cff63 12px,#7eff81 16px,#5fffa0 20px,#40ffbf 24px,#40ffbf 28px,#40ffbf 32px,#02fffd 36px,#00c2ff 40px,#00a2ff 44px,#0082ff 48px,#00a2ff 52px,#00c1ff 56px,#00c1ff 60px,#00c1ff 64px,#00c1ff 68px,#00c1ff 72px,#00e0ff 76px,#01fffe 80px,#01fffe 84px,#01fffe 88px,#01fffe 92px,#01fffe 96px,#01fffe 100px,#01fffe 104px,#01fffe 108px,#01fffe 112px,#01fffe 116px,#01fffe 120px,#01fffe 124px,#01fffe 128px,#01fffe 132px,#01fffe 136px,#01fffe 140px,#01fffe 144px)"></div><div style="top:32px;background:linear-gradient(90deg,#6eff91 0px,#6eff91 4px,#6eff91 8px,#63ff9c 12px,#57ffa8 16px,#4bffb4 20px,#40ffbf 24px,#46ffb9 28px,#4dffb2 32px,#22ffdd 36px,#00f5ff 40px,#00d5ff 44px,#00b5ff 48px,#00cfff 52px,#00e8ff 56px,#00e1ff 60px,#00daff 64px,#00daff 68px,#00daff 72px,#00f3ff 76px,#0dfff2 80px,#0dfff2 84px,#0dfff2 88px,#0dfff2 92px,#0dfff2 96px,#0dfff2 100px,#0dfff2 104px,#0dfff2 108px,#0dfff2 112px,#0dfff2 116px,#0dfff2 120px,#0dfff2 124px,#0dfff2 128px,#0dfff2 132px,#0dfff2 136px,#0dfff2 140px,#0dfff2 144px)"></div><div style="top:34px;background:linear-gradient(90deg,#00faff 0px,#00faff 4px,#00faff 8px,#0cfff3 12px,#1effe1 16px,#2fffd0 20px,#40ffbf 24px,#50ffaf 28px,#60ff9f 32px,#52ffad 36px,#43ffbc 40px,#23ffdc 44px,#03fffc 48px,#13ffec 52px,#22ffdd 56px,#12ffed 60px,#02fffd 64px,#02fffd 68px,#02fffd 72px,#11ffee 76px,#21ffde 80px,#21ffde 84px,#21ffde 88px,#21ffde 92px,#21ffde 96px,#21ffde 100px,#21ffde 104px,#21ffde 108px,#21ffde 112px,#21ffde 116px,#21ffde 120px,#21ffde 124px,#21ffde 128px,#21ffde 132px,#21ffde 136px,#21ffde 140px,#21ffde 144px)"></div><div style="top:36px;background:linear-gradient(90deg,#0089ff 0px,#0089ff 4px,#0089ff 8px,#00b6ff 12px,#00e4ff 16px,#12ffed 20px,#40ffbf 24px,#5affa5 28px,#73ff8c 32px,#81ff7e 36px,#8eff71 40px,#6fff90 44px,#4fffb0 48px,#55ffaa 52px,#5bffa4 56px,#41ffbe 60px,#27ffd8 64px,#27ffd8 68px,#27ffd8 72px,#2dffd2 76px,#34ffcb 80px,#34ffcb 84px,#34ffcb 88px,#34ffcb 92px,#34ffcb 96px,#34ffcb 100px,#34ffcb 104px,#34ffcb 108px,#34ffcb 112px,#34ffcb 116px,#34ffcb 120px,#34ffcb 124px,#34ffcb 128px,#34ffcb 132px,#34ffcb 136px,#34ffcb 140px,#34ffcb 144px)"></div><div style="top:38px;background:linear-gradient(90deg,#0040ff 0px,#0040ff 4px,#0040ff 8px,#0080ff 12px,#00c0ff 16px,#00ffff 20px,#40ffbf 24px,#60ff9f 28px,#7fff80 32px,#9fff60 36px,#bfff40 40px,#9fff60 44px,#7fff80 48px,#7fff80 52px,#7fff80 56px,#5fffa0 60px,#40ffbf 64px,#40ffbf 68px,#40ffbf 72px,#40ffbf 76px,#40ffbf 80px,#40ffbf 84px,#40ffbf 88px,#40ffbf 92px,#40ffbf 96px,#40ffbf 100px,#40ffbf 104px,#40ffbf 108px,#40ffbf 112px,#40ffbf 116px,#40ffbf 120px,#40ffbf 124px,#40ffbf 128px,#40ffbf 132px,#40ffbf 136px,#40ffbf 140px,#40ffbf 144px)"></div><div style="top:40px;background:linear-gradient(90deg,#0085ff 0px,#0085ff 4px,#0085ff 8px,#009cff 12px,#00b4ff 16px,#0cfff3 20px,#62ff9d 24px,#7dff82 28px,#97ff68 32px,#b1ff4e 36px,#cbff34 40px,#abff54 44px,#8bff74 48px,#8bff74 52px,#8bff74 56px,#6bff94 60px,#4bffb4 64px,#4bffb4 68px,#4bffb4 72px,#4bffb4 76px,#4bffb4 80px,#4bffb4 84px,#4bffb4 88px,#4bffb4 92px,#4bffb4 96px,#4bffb4 100px,#4bffb4 104px,#51ffae 108px,#57ffa8 112px,#51ffae 116px,#4bffb4 120px,#51ffae 124px,#57ffa8 128px,#57ffa8 132px,#57ffa8 136px,#57ffa8 140px,#57ffa8 144px)"></div><div style="top:42px;background:linear-gradient(90deg,#00deff 0px,#00deff 4px,#00e4ff 8px,#00cfff 12px,#00baff 16px,#32ffcd 20px,#a8ff57 24px,#bcff43 28px,#caff35 32px,#d7ff28 36px,#e4ff1b 40px,#cbff34 44px,#abff54 48px,#9eff61 52px,#98ff67 56px,#7eff81 60px,#6bff94 64px,#72ff8d 68px,#72ff8d 72px,#72ff8d 76px,#6eff91 80px,#5effa1 84px,#5effa1 88px,#5effa1 92px,#5effa1 96px,#5effa1 100px,#5effa1 104px,#6dff92 108px,#7cff83 112px,#6dff92 116px,#5effa1 120px,#6dff92 124px,#7cff83 128px,#7cff83 132px,#7cff83 136px,#7cff83 140px,#7cff83 144px)"></div><div style="top:44px;background:linear-gradient(90deg,#00d6ff 0px,#00d6ff 4px,#00e9ff 8px,#00f2ff 12px,#00fbff 16px,#6fff90 20px,#dfff20 24px,#f1ff0e 28px,#f4ff0b 32px,#f7ff08 36px,#f9ff06 40px,#e9ff16 44px,#c5ff3a 48px,#9fff60 52px,#8cff73 56px,#83ff7c 60px,#89ff76 64px,#9cff63 68px,#a0ff5f 72px,#a0ff5f 76px,#97ff68 80px,#71ff8e 84px,#71ff8e 88px,#71ff8e 92px,#71ff8e 96px,#71ff8e 100px,#71ff8e 104px,#8aff75 108px,#a3ff5c 112px,#8aff75 116px,#71ff8e 120px,#8aff75 124px,#a3ff5c 128px,#a3ff5c 132px,#a3ff5c 136px,#a3ff5c 140px,#a3ff5c 144px)"></div><div style="top:46px;background:linear-gradient(90deg,#004cff 0px,#004cff 4px,#006cff 8px,#14ffeb 12px,#baff45 16px,#e6ff19 20px,#f9ff06 24px,#ffff00 28px,#ffff00 32px,#ffff00 36px,#ffff00 40px,#e5ff1a 44px,#acff53 48px,#6cff93 52px,#4cffb3 56px,#66ff99 60px,#86ff79 64px,#a6ff59 68px,#bfff40 72px,#bfff40 76px,#b2ff4d 80px,#7fff80 84px,#7fff80 88px,#7fff80 92px,#7fff80 96px,#7fff80 100px,#7fff80 104px,#9eff61 108px,#bdff42 112px,#9eff61 116px,#7fff80 120px,#9eff61 124px,#bdff42 128px,#bdff42 132px,#bdff42 136px,#bdff42 140px,#bdff42 144px)"></div><div style="top:48px;background:linear-gradient(90deg,#0040ff 0px,#0040ff 4px,#0066ff 8px,#2cffd3 12px,#e5ff1a 16px,#ffff00 20px,#ffff00 24px,#ffff00 28px,#ffff00 32px,#ffff00 36px,#ffff00 40px,#cdff32 44px,#74ff8b 48px,#2effd1 52px,#0efff1 56px,#3bffc4 60px,#6dff92 64px,#93ff6c 68px,#b9ff46 72px,#bfff40 76px,#b6ff49 80px,#93ff6c 84px,#93ff6c 88px,#98ff67 92px,#9dff62 96px,#a2ff5d 100px,#a6ff59 104px,#bdff42 108px,#d3ff2c 112px,#b3ff4c 116px,#93ff6c 120px,#aeff51 124px,#c9ff36 128px,#c9ff36 132px,#c9ff36 136px,#c9ff36 140px,#c9ff36 144px)"></div><div style="top:50px;background:linear-gradient(90deg,#0040ff 0px,#0040ff 4px,#0079ff 8px,#53ffac 12px,#f9ff06 16px,#ffff00 20px,#ffff00 24px,#ffff00 28px,#ffff00 32px,#ffff00 36px,#ffff00 40px,#92ff6d 44px,#00eaff 48px,#0091ff 52px,#0071ff 56px,#00c4ff 60px,#32ffcd 64px,#6cff93 68px,#a6ff59 72px,#bfff40 76px,#beff41 80px,#b8ff47 84px,#b8ff47 88px,#c6ff39 92px,#d4ff2b 96px,#e2ff1d 100px,#f0ff0f 104px,#f3ff0c 108px,#f7ff08 112px,#d7ff28 116px,#b8ff47 120px,#c9ff36 124px,#dbff24 128px,#dbff24 132px,#dbff24 136px,#dbff24 140px,#dbff24 144px)"></div><div style="top:52px;background:linear-gradient(90deg,#0040ff 0px,#0040ff 4px,#0073ff 8px,#3bffc4 12px,#e6ff19 16px,#ffff00 20px,#ffff00 24px,#ffff00 28px,#ffff00 32px,#f9ff06 36px,#ecff13 40px,#6dff92 44px,#00c5ff 48px,#008bff 52px,#006bff 56px,#00a6ff 60px,#1affe5 64px,#60ff9f 68px,#9fff60 72px,#bfff40 76px,#c6ff39 80px,#dfff20 84px,#dfff20 88px,#f6ff09 92px,#fff000 96px,#ffd800 100px,#ffc000 104px,#ffd000 108px,#ffe000 112px,#feff01 116px,#dfff20 120px,#e7ff18 124px,#efff10 128px,#efff10 132px,#efff10 136px,#efff10 140px,#efff10 144px)"></div><div style="top:54px;background:linear-gradient(90deg,#0040ff 0px,#0040ff 4px,#004cff 8px,#00c4ff 12px,#98ff67 16px,#ffff00 20px,#ffff00 24px,#ffff00 28px,#ffff00 32px,#e5ff1a 36px,#b2ff4d 40px,#32ffcd 44px,#00d9ff 48px,#15ffea 52px,#00f4ff 56px,#00b9ff 60px,#06fff9 64px,#60ff9f 68px,#9fff60 72px,#bfff40 76px,#cbff34 80px,#fbff04 84px,#fbff04 88px,#ffe400 92px,#ffc500 96px,#ffa600 100px,#ff8700 104px,#ffa500 108px,#ffc300 112px,#ffe300 116px,#fbff04 120px,#fcff03 124px,#fdff02 128px,#fdff02 132px,#fdff02 136px,#fdff02 140px,#fdff02 144px)"></div><div style="top:56px;background:linear-gradient(90deg,#004cff 0px,#004cff 4px,#0046ff 8px,#008dff 12px,#48ffb7 16px,#ceff31 20px,#daff25 24px,#c1ff3e 28px,#b5ff4a 32px,#9bff64 36px,#68ff97 40px,#01fffe 44px,#00d3ff 48px,#2dffd2 52px,#1affe5 56px,#00c5ff 60px,#00f9ff 64px,#53ffac 68px,#93ff6c 72px,#b9ff46 76px,#caff35 80px,#fbff04 84px,#ffff00 88px,#ffdf00 92px,#ffbf00 96px,#ff9f00 100px,#ff8000 104px,#ff9b00 108px,#ffb700 112px,#ffd700 116px,#fff700 120px,#fff700 124px,#fff700 128px,#fff700 132px,#fff700 136px,#fff700 140px,#fff700 144px)"></div><div style="top:58px;background:linear-gradient(90deg,#0073ff 0px,#0073ff 4px,#0059ff 8px,#0052ff 12px,#0097ff 16px,#31ffce 20px,#65ff9a 24px,#00fdff 28px,#00caff 32px,#00c3ff 36px,#00b7ff 40px,#009eff 44px,#00acff 48px,#00f2ff 52px,#06fff9 56px,#00d9ff 60px,#00e5ff 64px,#2cffd3 68px,#6cff93 72px,#a6ff59 76px,#c7ff38 80px,#f2ff0d 84px,#ffff00 88px,#ffdf00 92px,#ffbf00 96px,#ff9f00 100px,#ff8000 104px,#ff9300 108px,#ffa600 112px,#ffc500 116px,#ffe500 120px,#ffe500 124px,#ffe500 128px,#ffe500 132px,#ffe500 136px,#ffe500 140px,#ffe500 144px)"></div><div style="top:60px;background:linear-gradient(90deg,#0098ff 0px,#0098ff 4px,#006cff 8px,#003aff 12px,#0053ff 16px,#00daff 20px,#0efff1 24px,#00a7ff 28px,#0073ff 32px,#0073ff 36px,#0073ff 40px,#0079ff 44px,#0099ff 48px,#00d3ff 52px,#00f9ff 56px,#00e5ff 60px,#00e5ff 64px,#20ffdf 68px,#60ff9f 72px,#9fff60 76px,#c3ff3c 80px,#e8ff17 84px,#ffff00 88px,#ffdf00 92px,#ffbf00 96px,#ff9f00 100px,#ff8000 104px,#ff8900 108px,#ff9200 112px,#ffb200 116px,#ffd200 120px,#ffd200 124px,#ffd200 128px,#ffd200 132px,#ffd200 136px,#ffd200 140px,#ffd200 144px)"></div><div style="top:62px;background:linear-gradient(90deg,#00e6ff 0px,#00e6ff 4px,#0093ff 8px,#0026ff 12px,#002cff 16px,#0065ff 20px,#0071ff 24px,#0058ff 28px,#004cff 32px,#004cff 36px,#004cff 40px,#0066ff 44px,#0086ff 48px,#00acff 52px,#00e5ff 56px,#00f9ff 60px,#00f9ff 64px,#20ffdf 68px,#60ff9f 72px,#9fff60 76px,#c0ff3f 80px,#e1ff1e 84px,#ffff00 88px,#ffdf00 92px,#ffbf00 96px,#ff9f00 100px,#ff8000 104px,#ff8100 108px,#ff8300 112px,#ffa200 116px,#ffc200 120px,#ffc200 124px,#ffc200 128px,#ffc200 132px,#ffc200 136px,#ffc200 140px,#ffc200 144px)"></div><div style="top:64px;background:linear-gradient(90deg,#63ff9c 0px,#63ff9c 4px,#00ddff 8px,#0032ff 12px,#002cff 16px,#0052ff 20px,#0058ff 24px,#0058ff 28px,#0058ff 32px,#0058ff 36px,#0058ff 40px,#006cff 44px,#0086ff 48px,#00a6ff 52px,#00dfff 56px,#00ffff 60px,#06fff9 64px,#2cffd3 68px,#6cff93 72px,#acff53 76px,#cdff32 80px,#efff10 84px,#fff200 88px,#ffd600 92px,#ffb900 96px,#ff9c00 100px,#ff7f00 104px,#ff7f00 108px,#ff7f00 112px,#ff9c00 116px,#ffb900 120px,#ffb900 124px,#ffb900 128px,#ffb900 132px,#ffb900 136px,#ffb900 140px,#ffb900 144px)"></div><div style="top:66px;background:linear-gradient(90deg,#ff6300 0px,#ff6300 4px,#a1ff5e 8px,#006dff 12px,#0053ff 16px,#008dff 20px,#00a7ff 24px,#00a7ff 28px,#00a7ff 32px,#00a7ff 36px,#00a7ff 40px,#0093ff 44px,#0099ff 48px,#00b9ff 52px,#00dfff 56px,#00ffff 60px,#1affe5 64px,#53ffac 68px,#93ff6c 72px,#d3ff2c 76px,#f6ff09 80px,#ffe400 84px,#ffd000 88px,#ffbc00 92px,#ffa800 96px,#ff9400 100px,#ff8000 104px,#ff8000 108px,#ff8000 112px,#ff9400 116px,#ffa800 120px,#ffa800 124px,#ffa800 128px,#ffa800 132px,#ffa800 136px,#ffa800 140px,#ffa800 144px)"></div><div style="top:68px;background:linear-gradient(90deg,#ff0000 0px,#ff0000 4px,#ffe700 8px,#00caff 12px,#0072ff 16px,#009fff 20px,#00bfff 24px,#00bfff 28px,#00bfff 32px,#00bfff 36px,#00bfff 40px,#009fff 44px,#00a6ff 48px,#00ccff 52px,#00e5ff 56px,#00ffff 60px,#20ffdf 64px,#72ff8d 68px,#c4ff3b 72px,#feff01 76px,#ffde00 80px,#ffb300 84px,#ffa800 88px,#ff9e00 92px,#ff9400 96px,#ff8a00 100px,#ff8000 104px,#ff8000 108px,#ff8000 112px,#ff8a00 116px,#ff9400 120px,#ff9400 124px,#ff9400 128px,#ff9400 132px,#ff9400 136px,#ff9400 140px,#ff9400 144px)"></div><div style="top:70px;background:linear-gradient(90deg,#ff0000 0px,#ff0000 4px,#ff3800 8px,#b5ff4a 12px,#00adff 16px,#009fff 20px,#00bfff 24px,#00bfff 28px,#00bfff 32px,#00bfff 36px,#00bfff 40px,#009fff 44px,#00b9ff 48px,#00f3ff 52px,#00f9ff 56px,#00ffff 60px,#20ffdf 64px,#adff52 68px,#ffc400 72px,#ff9e00 76px,#ff9600 80px,#ff8b00 84px,#ff8800 88px,#ff8600 92px,#ff8400 96px,#ff8200 100px,#ff8000 104px,#ff8000 108px,#ff8000 112px,#ff8200 116px,#ff8400 120px,#ff8400 124px,#ff8400 128px,#ff8400 132px,#ff8400 136px,#ff8400 140px,#ff8400 144px)"></div><div style="top:72px;background:linear-gradient(90deg,#ff0000 0px,#ff0000 4px,#ff0000 8px,#ffce00 12px,#0afff5 16px,#00b8ff 20px,#00bfff 24px,#00bfff 28px,#00bfff 32px,#00bfff 36px,#00bfff 40px,#00a6ff 44px,#00c5ff 48px,#00ffff 52px,#00ffff 56px,#06fff9 60px,#2cffd3 64px,#ccff33 68px,#ff9900 72px,#ff8000 76px,#ff8000 80px,#ff8000 84px,#ff8000 88px,#ff8000 92px,#ff8000 96px,#ff8000 100px,#ff8000 104px,#ff8000 108px,#ff8000 112px,#ff7d00 116px,#ff7b00 120px,#ff7b00 124px,#ff7b00 128px,#ff7b00 132px,#ff7b00 136px,#ff7b00 140px,#ff7b00 144px)"></div><div style="top:74px;background:linear-gradient(90deg,#ff0000 0px,#ff0000 4px,#ff0000 8px,#ff3100 12px,#f5ff0a 16px,#07fff8 20px,#00bfff 24px,#00bfff 28px,#00bfff 32px,#00bfff 36px,#00bfff 40px,#00b9ff 44px,#00d9ff 48px,#00ffff 52px,#00ffff 56px,#1affe5 60px,#53ffac 64px,#f3ff0c 68px,#ff8600 72px,#ff8000 76px,#ff8000 80px,#ff8000 84px,#ff8000 88px,#ff8000 92px,#ff8000 96px,#ff8000 100px,#ff8000 104px,#ff8000 108px,#ff8000 112px,#ff7500 116px,#ff6a00 120px,#ff6a00 124px,#ff6a00 128px,#ff6a00 132px,#ff6a00 136px,#ff6a00 140px,#ff6a00 144px)"></div><div style="top:76px;background:linear-gradient(90deg,#ff0000 0px,#ff0000 4px,#ff0000 8px,#ff0000 12px,#ff9a00 16px,#70ff8f 20px,#00f1ff 24px,#00c5ff 28px,#00b9ff 32px,#00b9ff 36px,#00bfff 40px,#00ccff 44px,#00f2ff 48px,#0cfff3 52px,#0cfff3 56px,#2cffd3 60px,#6cff93 64px,#ffff00 68px,#ff8600 72px,#ff8000 76px,#ff8000 80px,#ff8000 84px,#ff8000 88px,#ff8000 92px,#ff8000 96px,#ff8000 100px,#ff8000 104px,#ff8000 108px,#ff8000 112px,#ff6b00 116px,#ff5600 120px,#ff5600 124px,#ff5600 128px,#ff5600 132px,#ff5600 136px,#ff5600 140px,#ff5600 144px)"></div><div style="top:78px;background:linear-gradient(90deg,#ff0000 0px,#ff0000 4px,#ff0000 8px,#ff0000 12px,#ff2500 16px,#ff9000 20px,#8eff71 24px,#00d9ff 28px,#00a6ff 32px,#00a6ff 36px,#00bfff 40px,#00f3ff 44px,#2dffd2 48px,#33ffcc 52px,#33ffcc 56px,#53ffac 60px,#93ff6c 64px,#ffff00 68px,#ff9900 72px,#ff8000 76px,#ff8000 80px,#ff8000 84px,#ff8000 88px,#ff8000 92px,#ff8000 96px,#ff8000 100px,#ff8000 104px,#ff8000 108px,#ff8000 112px,#ff6300 116px,#ff4600 120px,#ff4600 124px,#ff4600 128px,#ff4600 132px,#ff4600 136px,#ff4600 140px,#ff4600 144px)"></div><div style="top:80px;background:linear-gradient(90deg,#ff0000 0px,#ff0000 4px,#ff0000 8px,#ff0000 12px,#ff0000 16px,#ff3300 20px,#fdff02 24px,#43ffbc 28px,#00e9ff 32px,#00beff 36px,#00ccff 40px,#31ffce 44px,#96ff69 48px,#90ff6f 52px,#7eff81 56px,#7fff80 60px,#acff53 64px,#fff900 68px,#ff9f00 72px,#ff8000 76px,#ff8400 80px,#ff8000 84px,#ff8000 88px,#ff8000 92px,#ff8000 96px,#ff8000 100px,#ff8000 104px,#ff7e00 108px,#ff7c00 112px,#ff5c00 116px,#ff3c00 120px,#ff3c00 124px,#ff3c00 128px,#ff3c00 132px,#ff3c00 136px,#ff3c00 140px,#ff3c00 144px)"></div><div style="top:82px;background:linear-gradient(90deg,#ff0000 0px,#ff0000 4px,#ff0000 8px,#ff0000 12px,#ff0000 16px,#ff0c00 20px,#ff3e00 24px,#ff8300 28px,#d5ff2a 32px,#21ffde 36px,#00f3ff 40px,#ceff31 44px,#ff5600 48px,#ff7000 52px,#ffbd00 56px,#e0ff1f 60px,#d3ff2c 64px,#ffe500 68px,#ff9f00 72px,#ff8000 76px,#ff9400 80px,#ff8000 84px,#ff8000 88px,#ff8000 92px,#ff8000 96px,#ff8000 100px,#ff8000 104px,#ff7600 108px,#ff6c00 112px,#ff4d00 116px,#ff2d00 120px,#ff2d00 124px,#ff2d00 128px,#ff2d00 132px,#ff2d00 136px,#ff2d00 140px,#ff2d00 144px)"></div><div style="top:84px;background:linear-gradient(90deg,#ff0000 0px,#ff0000 4px,#ff0000 8px,#ff0000 12px,#ff0000 16px,#ff0000 20px,#ff0000 24px,#ff1a00 28px,#ffb400 32px,#96ff69 36px,#63ff9c 40px,#ffce00 44px,#ff0000 48px,#ff1a00 52px,#ff6d00 56px,#ffe600 60px,#ebff14 64px,#ffdf00 68px,#ff9f00 72px,#ff8000 76px,#ff9400 80px,#ff8000 84px,#ff8000 88px,#ff8000 92px,#ff8000 96px,#ff8000 100px,#ff8000 104px,#ff6c00 108px,#ff5900 112px,#ff3900 116px,#ff1900 120px,#ff1900 124px,#ff1900 128px,#ff1900 132px,#ff1900 136px,#ff1900 140px,#ff1900 144px)"></div><div style="top:86px;background:linear-gradient(90deg,#ff0000 0px,#ff0000 4px,#ff0000 8px,#ff0000 12px,#ff0000 16px,#ff0700 20px,#ff0f00 24px,#ff1600 28px,#ff2f00 32px,#ff4a00 36px,#ff5300 40px,#ff3f00 44px,#ff2b00 48px,#ff2e00 52px,#ff4700 56px,#ff9a00 60px,#ffe300 64px,#ffd800 68px,#ffaf00 72px,#ff8e00 76px,#ff8200 80px,#ff8000 84px,#ff8000 88px,#ff8000 92px,#ff8000 96px,#ff8000 100px,#ff8000 104px,#ff6300 108px,#ff4700 112px,#ff2700 116px,#ff0700 120px,#ff0700 124px,#ff0700 128px,#ff0700 132px,#ff0700 136px,#ff0700 140px,#ff0700 144px)"></div><div style="top:88px;background:linear-gradient(90deg,#ff0000 0px,#ff0000 4px,#ff0000 8px,#ff0000 12px,#ff0000 16px,#ff0000 20px,#ff0000 24px,#ff0000 28px,#ff0000 32px,#ff0000 36px,#ff0000 40px,#ff1900 44px,#ff3100 48px,#ff3200 52px,#ff3900 56px,#ff7e00 60px,#ffc200 64px,#ffc200 68px,#ffb500 72px,#ff9600 76px,#ff7e00 80px,#ff7e00 84px,#ff8000 88px,#ff7e00 92px,#ff7d00 96px,#ff7c00 100px,#ff7b00 104px,#ff5c00 108px,#ff3d00 112px,#ff1f00 116px,#ff0000 120px,#ff0000 124px,#ff0000 128px,#ff0000 132px,#ff0000 136px,#ff0000 140px,#ff0000 144px)"></div><div style="top:90px;background:linear-gradient(90deg,#ff0000 0px,#ff0000 4px,#ff0000 8px,#ff0000 12px,#ff0000 16px,#ff0000 20px,#ff0000 24px,#ff0000 28px,#ff0000 32px,#ff0000 36px,#ff0000 40px,#ff1700 44px,#ff2f00 48px,#ff3700 52px,#ff4000 56px,#ff6f00 60px,#ff9d00 64px,#ff9d00 68px,#ff9d00 72px,#ff8600 76px,#ff6f00 80px,#ff7700 84px,#ff8000 88px,#ff7700 92px,#ff6f00 96px,#ff6600 100px,#ff5e00 104px,#ff4600 108px,#ff2f00 112px,#ff1700 116px,#ff0000 120px,#ff0000 124px,#ff0000 128px,#ff0000 132px,#ff0000 136px,#ff0000 140px,#ff0000 144px)"></div><div style="top:92px;background:linear-gradient(90deg,#ff0000 0px,#ff0000 4px,#ff0000 8px,#ff0000 12px,#ff0000 16px,#ff0000 20px,#ff0000 24px,#ff0000 28px,#ff0000 32px,#ff0000 36px,#ff0000 40px,#ff0e00 44px,#ff1b00 48px,#ff2d00 52px,#ff4000 56px,#ff5b00 60px,#ff7600 64px,#ff7600 68px,#ff7600 72px,#ff6900 76px,#ff5b00 80px,#ff6d00 84px,#ff8000 88px,#ff6d00 92px,#ff5b00 96px,#ff4900 100px,#ff3600 104px,#ff2900 108px,#ff1b00 112px,#ff0e00 116px,#ff0000 120px,#ff0000 124px,#ff0000 128px,#ff0000 132px,#ff0000 136px,#ff0000 140px,#ff0000 144px)"></div><div style="top:94px;background:linear-gradient(90deg,#ff0000 0px,#ff0000 4px,#ff0000 8px,#ff0000 12px,#ff0000 16px,#ff0000 20px,#ff0000 24px,#ff0000 28px,#ff0000 32px,#ff0000 36px,#ff0000 40px,#ff0500 44px,#ff0900 48px,#ff2400 52px,#ff4000 56px,#ff4900 60px,#ff5200 64px,#ff5200 68px,#ff5200 72px,#ff4d00 76px,#ff4900 80px,#ff6400 84px,#ff8000 88px,#ff6400 92px,#ff4900 96px,#ff2e00 100px,#ff1200 104px,#ff0e00 108px,#ff0900 112px,#ff0500 116px,#ff0000 120px,#ff0000 124px,#ff0000 128px,#ff0000 132px,#ff0000 136px,#ff0000 140px,#ff0000 144px)"></div><div style="top:96px;background:linear-gradient(90deg,#ff0000 0px,#ff0000 4px,#ff0000 8px,#ff0000 12px,#ff0000 16px,#ff0000 20px,#ff0000 24px,#ff0000 28px,#ff0000 32px,#ff0000 36px,#ff0000 40px,#ff0000 44px,#ff0000 48px,#ff1f00 52px,#ff3e00 56px,#ff3e00 60px,#ff3e00 64px,#ff3e00 68px,#ff3e00 72px,#ff3e00 76px,#ff3e00 80px,#ff5e00 84px,#ff7d00 88px,#ff5e00 92px,#ff3e00 96px,#ff1f00 100px,#ff0000 104px,#ff0000 108px,#ff0000 112px,#ff0000 116px,#ff0000 120px,#ff0000 124px,#ff0000 128px,#ff0000 132px,#ff0000 136px,#ff0000 140px,#ff0000 144px)"></div><div style="top:98px;background:linear-gradient(90deg,#ff0000 0px,#ff0000 4px,#ff0000 8px,#ff0000 12px,#ff0000 16px,#ff0000 20px,#ff0000 24px,#ff0000 28px,#ff0000 32px,#ff0000 36px,#ff0000 40px,#ff0000 44px,#ff0000 48px,#ff1800 52px,#ff3100 56px,#ff3100 60px,#ff3100 64px,#ff3100 68px,#ff3100 72px,#ff3100 76px,#ff3100 80px,#ff4900 84px,#ff6200 88px,#ff4900 92px,#ff3100 96px,#ff1800 100px,#ff0000 104px,#ff0000 108px,#ff0000 112px,#ff0000 116px,#ff0000 120px,#ff0000 124px,#ff0000 128px,#ff0000 132px,#ff0000 136px,#ff0000 140px,#ff0000 144px)"></div><div style="top:100px;background:linear-gradient(90deg,#ff0000 0px,#ff0000 4px,#ff0000 8px,#ff0000 12px,#ff0000 16px,#ff0000 20px,#ff0000 24px,#ff0000 28px,#ff0000 32px,#ff0000 36px,#ff0000 40px,#ff0000 44px,#ff0000 48px,#ff0f00 52px,#ff1e00 56px,#ff1e00 60px,#ff1e00 64px,#ff1e00 68px,#ff1e00 72px,#ff1e00 76px,#ff1e00 80px,#ff2c00 84px,#ff3b00 88px,#ff2c00 92px,#ff1e00 96px,#ff0f00 100px,#ff0000 104px,#ff0000 108px,#ff0000 112px,#ff0000 116px,#ff0000 120px,#ff0000 124px,#ff0000 128px,#ff0000 132px,#ff0000 136px,#ff0000 140px,#ff0000 144px)"></div><div style="top:102px;background:linear-gradient(90deg,#ff0000 0px,#ff0000 4px,#ff0000 8px,#ff0000 12px,#ff0000 16px,#ff0000 20px,#ff0000 24px,#ff0000 28px,#ff0000 32px,#ff0000 36px,#ff0000 40px,#ff0000 44px,#ff0000 48px,#ff0500 52px,#ff0b00 56px,#ff0b00 60px,#ff0b00 64px,#ff0b00 68px,#ff0b00 72px,#ff0b00 76px,#ff0b00 80px,#ff1000 84px,#ff1600 88px,#ff1000 92px,#ff0b00 96px,#ff0500 100px,#ff0000 104px,#ff0000 108px,#ff0000 112px,#ff0000 116px,#ff0000 120px,#ff0000 124px,#ff0000 128px,#ff0000 132px,#ff0000 136px,#ff0000 140px,#ff0000 144px)"></div><div style="top:104px;background:linear-gradient(90deg,#ff0000 0px,#ff0000 4px,#ff0000 8px,#ff0000 12px,#ff0000 16px,#ff0000 20px,#ff0000 24px,#ff0000 28px,#ff0000 32px,#ff0000 36px,#ff0000 40px,#ff0000 44px,#ff0000 48px,#ff0000 52px,#ff0000 56px,#ff0000 60px,#ff0000 64px,#ff0000 68px,#ff0000 72px,#ff0000 76px,#ff0000 80px,#ff0000 84px,#ff0000 88px,#ff0000 92px,#ff0000 96px,#ff0000 100px,#ff0000 104px,#ff0000 108px,#ff0000 112px,#ff0000 116px,#ff0000 120px,#ff0000 124px,#ff0000 128px,#ff0000 132px,#ff0000 136px,#ff0000 140px,#ff0000 144px)"></div><div style="top:106px;background:linear-gradient(90deg,#ff0000 0px,#ff0000 4px,#ff0000 8px,#ff0000 12px,#ff0000 16px,#ff0000 20px,#ff0000 24px,#ff0000 28px,#ff0000 32px,#ff0000 36px,#ff0000 40px,#ff0000 44px,#ff0000 48px,#ff0000 52px,#ff0000 56px,#ff0000 60px,#ff0000 64px,#ff0000 68px,#ff0000 72px,#ff0000 76px,#ff0000 80px,#ff0000 84px,#ff0000 88px,#ff0000 92px,#ff0000 96px,#ff0000 100px,#ff0000 104px,#ff0000 108px,#ff0000 112px,#ff0000 116px,#ff0000 120px,#ff0000 124px,#ff0000 128px,#ff0000 132px,#ff0000 136px,#ff0000 140px,#ff0000 144px)"></div><div style="top:108px;background:linear-gradient(90deg,#ff0000 0px,#ff0000 4px,#ff0000 8px,#ff0000 12px,#ff0000 16px,#ff0000 20px,#ff0000 24px,#ff0000 28px,#ff0000 32px,#ff0000 36px,#ff0000 40px,#ff0000 44px,#ff0000 48px,#ff0000 52px,#ff0000 56px,#ff0000 60px,#ff0000 64px,#ff0000 68px,#ff0000 72px,#ff0000 76px,#ff0000 80px,#ff0000 84px,#ff0000 88px,#ff0000 92px,#ff0000 96px,#ff0000 100px,#ff0000 104px,#ff0000 108px,#ff0000 112px,#ff0000 116px,#ff0000 120px,#ff0000 124px,#ff0000 128px,#ff0000 132px,#ff0000 136px,#ff0000 140px,#ff0000 144px)"></div><div style="top:110px;background:linear-gradient(90deg,#ff0000 0px,#ff0000 4px,#ff0000 8px,#ff0000 12px,#ff0000 16px,#ff0000 20px,#ff0000 24px,#ff0000 28px,#ff0000 32px,#ff0000 36px,#ff0000 40px,#ff0000 44px,#ff0000 48px,#ff0000 52px,#ff0000 56px,#ff0000 60px,#ff0000 64px,#ff0000 68px,#ff0000 72px,#ff0000 76px,#ff0000 80px,#ff0000 84px,#ff0000 88px,#ff0000 92px,#ff0000 96px,#ff0000 100px,#ff0000 104px,#ff0000 108px,#ff0000 112px,#ff0000 116px,#ff0000 120px,#ff0000 124px,#ff0000 128px,#ff0000 132px,#ff0000 136px,#ff0000 140px,#ff0000 144px)"></div></div><svg class="ov" width="136" height="107" viewBox="0 0 136 107"><polyline points="109.1,6.7 114.7,8.1 117.8,11.5 119.9,17.5 124.1,20.4 127.2,25.4 130.3,25.7 135.1,23.6 133.8,27.3 133.0,30.0 131.5,33.6 129.0,33.0 127.4,34.5 127.8,39.4 126.3,41.4 125.5,39.9 124.3,41.4 122.8,42.5 121.1,44.1 118.9,43.3 116.8,45.5 113.4,48.0 110.5,49.1 107.6,50.9 106.8,49.3 108.9,46.9 106.4,45.8 104.3,48.0 102.8,49.6 100.1,50.1 99.5,52.0 101.8,54.4 102.2,55.4 104.9,54.1 107.4,54.6 109.5,56.0 107.4,56.5 104.9,58.5 102.6,61.1 104.9,62.9 106.2,67.1 108.0,69.1 108.3,71.3 107.4,72.2 108.7,73.7 107.6,77.0 106.0,78.6 104.9,80.5 103.5,82.4 102.2,84.5 100.6,86.3 98.7,88.1 97.0,89.7 94.9,90.1 92.4,91.0 90.8,91.5 88.3,92.4 85.6,93.1 84.3,94.4 83.9,95.7 83.3,94.2 82.7,92.8 80.6,92.6 79.4,93.1 77.3,91.7 76.6,90.1 74.8,89.7 73.7,89.0 72.1,90.1 70.8,90.8 69.4,90.4 67.7,90.8 66.5,91.0 66.0,93.5 64.4,93.5 63.1,93.1 61.7,91.7 61.3,89.7 60.2,88.1 58.6,87.2 57.7,87.7 58.1,85.4 59.8,83.1 60.0,79.4 59.4,77.7 57.3,77.5 55.7,75.8 54.4,74.9 52.3,75.6 50.2,76.3 47.3,78.6 45.3,78.6 43.0,78.2 40.9,77.9 39.6,79.8 38.0,78.4 35.1,77.9 32.6,77.2 29.9,76.0 27.0,73.9 23.8,72.9 21.3,71.7 19.1,70.3 18.6,68.6 18.0,67.1 19.9,66.1 18.6,62.9 16.8,60.1 13.9,59.1 11.8,56.5 9.9,55.7 10.5,52.3 8.5,51.7 7.6,49.3 8.7,48.0 11.8,46.3 13.9,46.9 16.6,45.2 19.1,43.0 21.6,42.2 22.0,39.7 22.8,39.1 22.0,36.5 21.3,33.9 24.7,33.0 26.5,32.7 25.9,30.0 27.4,27.3 31.1,28.2 32.8,27.6 33.0,23.6 35.3,22.0 36.3,21.0 37.8,22.9 40.7,24.8 42.6,25.7 44.0,29.1 43.6,33.0 47.1,33.9 50.9,35.3 53.2,35.9 55.2,40.2 59.6,40.8 63.8,40.8 66.5,41.1 70.0,42.8 73.1,43.6 76.9,41.6 82.1,41.1 85.0,39.4 87.5,37.7 86.4,35.6 87.5,33.6 91.0,34.5 95.4,32.7 97.4,29.7 100.8,28.8 103.7,29.1 104.1,27.3 101.2,25.1 99.7,24.8 98.7,25.7 95.2,25.1 96.0,22.3 99.9,20.1 102.6,18.5 102.8,17.2 104.5,12.9 106.8,10.2 109.1,6.7" class="bd"/><polyline points="106.4,84.9 108.3,85.1 107.6,87.4 106.2,91.9 104.7,90.6 104.5,88.6 106.4,84.9" class="bd"/><polyline points="83.9,96.2 85.6,97.1 84.5,99.3 82.7,100.4 80.8,99.7 80.6,97.9 82.1,96.4 83.9,96.2" class="bd"/><polyline points="16.8,60.1 21.1,59.6 25.3,59.3 29.5,58.5 33.6,58.3 37.8,58.5 43.0,59.1" class="pv"/><polyline points="43.0,59.1 45.0,55.2 49.2,51.7 51.9,50.7 52.3,46.6 55.2,40.2" class="pv"/><polyline points="43.0,59.1 46.1,62.4 49.2,64.9 52.3,66.1 56.5,66.6 58.6,66.1 60.0,68.1 60.4,72.2 60.0,75.8 59.4,77.7" class="pv"/><polyline points="51.9,50.7 57.5,50.7 61.7,52.5 65.8,54.6 69.0,56.7 67.9,59.8 65.8,62.9 65.8,64.9" class="pv"/><polyline points="58.6,66.1 60.6,65.4 64.8,65.1 65.8,64.9 67.9,64.1 70.0,63.6 71.7,65.6 74.2,66.8" class="pv"/><polyline points="56.9,40.2 59.6,45.2 62.7,46.6 67.9,49.3 71.0,50.1 71.7,54.6 73.1,59.8 76.2,60.6 78.5,54.6 77.1,49.9 75.2,50.7 72.7,49.3" class="pv"/><polyline points="76.2,60.6 76.4,62.4 74.2,65.6 74.2,66.8" class="pv"/><polyline points="78.5,53.9 80.8,53.9 84.5,50.1 86.0,49.1 88.3,47.4 91.4,46.6 92.9,43.9 96.0,42.5 98.9,41.1 102.6,41.6 105.3,41.1 108.5,41.1 109.5,38.5 108.5,35.3 111.0,33.0 112.6,30.9 111.6,26.0 109.5,23.2 108.5,18.5 111.6,15.2 115.7,9.8" class="pv"/><polyline points="112.6,30.9 116.8,33.3 120.9,35.3 125.1,36.8 127.6,36.5" class="pv"/><polyline points="109.5,38.5 111.6,39.1 114.7,41.9 116.8,45.2" class="pv"/><polyline points="102.8,49.6 103.9,46.6 103.3,43.9 102.6,41.6" class="pv"/><polyline points="84.5,62.1 84.3,56.5 85.8,52.0 86.0,49.1" class="pv"/><polyline points="91.4,46.6 91.8,47.4 91.0,51.2 91.4,54.9 91.2,57.8 89.3,60.6 86.6,61.6 84.5,62.1" class="pv"/><polyline points="74.2,66.8 77.3,68.1 80.4,68.1 82.5,69.1 83.9,67.1 85.6,65.4 84.5,62.1" class="pv"/><polyline points="89.3,60.6 91.8,58.0 94.9,58.3 96.2,62.1 94.9,63.6 96.0,64.9 94.5,67.8 92.9,69.1 89.7,69.3 86.6,67.1 85.6,65.4" class="pv"/><polyline points="94.9,58.3 94.7,56.5 96.6,54.4 99.5,52.5" class="pv"/><polyline points="96.2,62.1 99.1,62.1 101.4,62.1 102.6,61.1" class="pv"/><polyline points="96.2,62.1 99.1,63.1 101.2,64.9 100.8,67.3 102.6,68.6 103.1,70.5 105.3,71.3 107.0,71.7" class="pv"/><polyline points="103.1,70.5 101.2,73.4 100.6,75.3 101.2,77.7 103.3,79.1 104.9,80.3" class="pv"/><polyline points="93.7,67.8 96.0,70.5 97.0,73.9 99.1,74.6 100.6,75.3" class="pv"/><polyline points="97.0,73.9 92.9,73.9 91.8,74.6 92.2,77.0 91.4,79.4 91.8,82.1 91.6,84.0 92.2,85.6 94.3,86.1 96.0,85.4 97.0,83.3 98.5,81.5 100.1,79.4 101.2,77.7" class="pv"/><polyline points="96.0,85.4 98.5,88.3" class="pv"/><polyline points="82.5,74.6 86.6,74.1 89.5,74.6 91.8,74.6" class="pv"/><polyline points="82.5,74.6 84.1,72.2 83.5,69.8 82.7,69.1" class="pv"/><polyline points="82.5,74.6 81.4,77.0 82.1,80.5 82.5,82.8 84.5,83.1 86.2,84.7 88.7,85.1 90.8,84.5 91.6,84.0" class="pv"/><polyline points="86.2,84.7 86.6,87.4 85.6,90.1 83.1,92.8" class="pv"/><polyline points="82.5,82.8 80.0,84.0 77.3,85.6 74.4,85.4 73.1,87.0 74.2,89.0" class="pv"/><polyline points="73.1,86.3 72.1,84.0 71.7,81.5 73.1,79.1 75.2,77.5 77.7,76.3 79.8,75.8 81.4,77.0" class="pv"/><polyline points="59.4,77.7 61.9,76.3 63.3,77.7 65.2,80.3 66.9,82.1 69.0,81.0 70.0,78.2 72.1,78.2 72.1,80.5" class="pv"/><polyline points="79.8,75.8 76.2,77.0 75.2,74.6 75.8,72.2 78.3,69.8 80.4,68.1" class="pv"/><rect x="0.5" y="0.5" width="135" height="106" class="fw"/><path d="M0.3 0.5H10.7M0.3 106.5H10.7M21.1 0.5H31.5M21.1 106.5H31.5M41.9 0.5H52.3M41.9 106.5H52.3M62.7 0.5H73.1M62.7 106.5H73.1M83.5 0.5H93.9M83.5 106.5H93.9M104.3 0.5H114.7M104.3 106.5H114.7M125.1 0.5H135.5M125.1 106.5H135.5M0.5 0.0V18.5M135.5 0.0V18.5M0.5 33.9V48.0M135.5 33.9V48.0M0.5 61.1V73.4M135.5 61.1V73.4M0.5 85.1V96.4M135.5 85.1V96.4" class="fb"/></svg></div>
<div class="cb" style="left:351.5px;top:22px;background:linear-gradient(180deg,#800000 0.00%,#9f0000 3.12%,#bf0000 6.25%,#df0000 9.38%,#ff0000 12.50%,#ff2000 15.62%,#ff4000 18.75%,#ff6000 21.88%,#ff8000 25.00%,#ff9f00 28.12%,#ffbf00 31.25%,#ffdf00 34.38%,#ffff00 37.50%,#dfff20 40.62%,#bfff40 43.75%,#9fff60 46.88%,#80ff80 50.00%,#60ff9f 53.12%,#40ffbf 56.25%,#20ffdf 59.38%,#00ffff 62.50%,#00dfff 65.62%,#00bfff 68.75%,#009fff 71.88%,#0080ff 75.00%,#0060ff 78.12%,#0040ff 81.25%,#0020ff 84.38%,#0000ff 87.50%,#0000df 90.62%,#0000bf 93.75%,#00009f 96.88%,#000080 100.00%)"></div>
<div class="t tk" style="left:343.8px;top:14.4px;width:20px;text-align:center">K</div>
<div class="t tk" style="left:358.6px;top:24.8px;width:10.5px;text-align:center">300</div>
<div class="t tk" style="left:358.6px;top:47.2px;width:10.5px;text-align:center">290</div>
<div class="t tk" style="left:358.6px;top:69.3px;width:10.5px;text-align:center">280</div>
<div class="t tk" style="left:358.6px;top:91.4px;width:10.5px;text-align:center">270</div>
<div class="t tk" style="left:358.6px;top:113.8px;width:10.5px;text-align:center">260</div>
<div class="t tk" style="left:195.5px;top:37.0px;width:14px;text-align:right">50°N</div>
<div class="t tk" style="left:195.5px;top:65.8px;width:14px;text-align:right">40°N</div>
<div class="t tk" style="left:195.5px;top:91.8px;width:14px;text-align:right">30°N</div>
<div class="t tk" style="left:195.5px;top:114.9px;width:14px;text-align:right">20°N</div>
<div class="t tk" style="left:197.3px;top:130.8px;width:30px;text-align:center">70°E</div>
<div class="t tk" style="left:218.2px;top:130.8px;width:30px;text-align:center">80°E</div>
<div class="t tk" style="left:238.9px;top:130.8px;width:30px;text-align:center">90°E</div>
<div class="t tk" style="left:259.8px;top:130.8px;width:30px;text-align:center">100°E</div>
<div class="t tk" style="left:280.6px;top:130.8px;width:30px;text-align:center">110°E</div>
<div class="t tk" style="left:301.4px;top:130.8px;width:30px;text-align:center">120°E</div>
<div class="t tk" style="left:322.1px;top:130.8px;width:30px;text-align:center">130°E</div>
<div class="t pl" style="left:215.5px;top:23.5px">(b)</div>
<div class="pn" style="left:392px;top:22px"><div class="w"><div style="top:0px;background:linear-gradient(90deg,#0040ff 0px,#0040ff 4px,#0040ff 8px,#0040ff 12px,#0040ff 16px,#0040ff 20px,#0040ff 24px,#0040ff 28px,#0040ff 32px,#0020ff 36px,#0000ff 40px,#0000ff 44px,#0000ff 48px,#0000ff 52px,#0000ff 56px,#0000ff 60px,#0000ff 64px,#0020ff 68px,#0040ff 72px,#0040ff 76px,#0040ff 80px,#0040ff 84px,#0040ff 88px,#0020ff 92px,#0000ff 96px,#0000ff 100px,#0000ff 104px,#0000ff 108px,#0000ff 112px,#0020ff 116px,#0040ff 120px,#0040ff 124px,#0040ff 128px,#0040ff 132px,#0040ff 136px,#0040ff 140px,#0040ff 144px)"></div><div style="top:2px;background:linear-gradient(90deg,#0040ff 0px,#0040ff 4px,#0040ff 8px,#0040ff 12px,#0040ff 16px,#0040ff 20px,#0040ff 24px,#0040ff 28px,#0040ff 32px,#0020ff 36px,#0000ff 40px,#0000ff 44px,#0000ff 48px,#0000ff 52px,#0000ff 56px,#0000ff 60px,#0000ff 64px,#0020ff 68px,#0040ff 72px,#0040ff 76px,#0040ff 80px,#0040ff 84px,#0040ff 88px,#0020ff 92px,#0000ff 96px,#0000ff 100px,#0000ff 104px,#0000ff 108px,#0000ff 112px,#0020ff 116px,#0040ff 120px,#0040ff 124px,#0040ff 128px,#0040ff 132px,#0040ff 136px,#0040ff 140px,#0040ff 144px)"></div><div style="top:4px;background:linear-gradient(90deg,#0040ff 0px,#0040ff 4px,#0040ff 8px,#0040ff 12px,#0040ff 16px,#0040ff 20px,#0040ff 24px,#0040ff 28px,#0040ff 32px,#0020ff 36px,#0000ff 40px,#0000ff 44px,#0000ff 48px,#0000ff 52px,#0000ff 56px,#0000ff 60px,#0000ff 64px,#0020ff 68px,#0040ff 72px,#0040ff 76px,#0040ff 80px,#0040ff 84px,#0040ff 88px,#0020ff 92px,#0000ff 96px,#0000ff 100px,#0000ff 104px,#0000ff 108px,#0000ff 112px,#0020ff 116px,#0040ff 120px,#0040ff 124px,#0040ff 128px,#0040ff 132px,#0040ff 136px,#0040ff 140px,#0040ff 144px)"></div><div style="top:6px;background:linear-gradient(90deg,#0040ff 0px,#0040ff 4px,#0040ff 8px,#0040ff 12px,#0040ff 16px,#0040ff 20px,#0040ff 24px,#003eff 28px,#003cff 32px,#001eff 36px,#0000ff 40px,#0000ff 44px,#0000ff 48px,#0000ff 52px,#0000ff 56px,#0000ff 60px,#0000ff 64px,#001eff 68px,#003cff 72px,#003eff 76px,#0040ff 80px,#0040ff 84px,#0040ff 88px,#0020ff 92px,#0000ff 96px,#0000ff 100px,#0000ff 104px,#0000ff 108px,#0000ff 112px,#0020ff 116px,#0040ff 120px,#0040ff 124px,#0040ff 128px,#0040ff 132px,#0040ff 136px,#0040ff 140px,#0040ff 144px)"></div><div style="top:8px;background:linear-gradient(90deg,#0040ff 0px,#0040ff 4px,#0040ff 8px,#0040ff 12px,#0040ff 16px,#0040ff 20px,#0040ff 24px,#0036ff 28px,#002cff 32px,#0016ff 36px,#0000ff 40px,#0000ff 44px,#0000ff 48px,#0000ff 52px,#0000ff 56px,#0000ff 60px,#0000ff 64px,#0016ff 68px,#002cff 72px,#0036ff 76px,#0040ff 80px,#0040ff 84px,#0040ff 88px,#0020ff 92px,#0000ff 96px,#0000ff 100px,#0000ff 104px,#0000ff 108px,#0000ff 112px,#0020ff 116px,#0040ff 120px,#0040ff 124px,#0040ff 128px,#0040ff 132px,#0040ff 136px,#0040ff 140px,#0040ff 144px)"></div><div style="top:10px;background:linear-gradient(90deg,#0040ff 0px,#0040ff 4px,#0040ff 8px,#0040ff 12px,#0040ff 16px,#0040ff 20px,#0040ff 24px,#002cff 28px,#0018ff 32px,#000cff 36px,#0000ff 40px,#0000ff 44px,#0000ff 48px,#0000ff 52px,#0000ff 56px,#0000ff 60px,#0000ff 64px,#000cff 68px,#0018ff 72px,#002cff 76px,#0040ff 80px,#0040ff 84px,#0040ff 88px,#0020ff 92px,#0000ff 96px,#0000ff 100px,#0000ff 104px,#0000ff 108px,#0000ff 112px,#0020ff 116px,#0040ff 120px,#0040ff 124px,#0040ff 128px,#0040ff 132px,#0040ff 136px,#0040ff 140px,#0040ff 144px)"></div><div style="top:12px;background:linear-gradient(90deg,#0040ff 0px,#0040ff 4px,#0040ff 8px,#0040ff 12px,#0040ff 16px,#0040ff 20px,#0040ff 24px,#0023ff 28px,#0007ff 32px,#0003ff 36px,#0000ff 40px,#0000ff 44px,#0000ff 48px,#0000ff 52px,#0000ff 56px,#0000ff 60px,#0000ff 64px,#0003ff 68px,#0007ff 72px,#0023ff 76px,#0040ff 80px,#0040ff 84px,#0040ff 88px,#0020ff 92px,#0000ff 96px,#0000ff 100px,#0000ff 104px,#0000ff 108px,#0000ff 112px,#0020ff 116px,#0040ff 120px,#0040ff 124px,#0040ff 128px,#0040ff 132px,#0040ff 136px,#0040ff 140px,#0040ff 144px)"></div><div style="top:14px;background:linear-gradient(90deg,#0040ff 0px,#0040ff 4px,#0040ff 8px,#0040ff 12px,#0040ff 16px,#003eff 20px,#003dff 24px,#001fff 28px,#0000ff 32px,#0000ff 36px,#0000ff 40px,#0000ff 44px,#0000ff 48px,#0000ff 52px,#0000ff 56px,#0000ff 60px,#0000ff 64px,#0000ff 68px,#0000ff 72px,#001fff 76px,#003dff 80px,#003dff 84px,#003dff 88px,#001fff 92px,#0000ff 96px,#0000ff 100px,#0000ff 104px,#0000ff 108px,#0000ff 112px,#0020ff 116px,#0040ff 120px,#0040ff 124px,#0040ff 128px,#0040ff 132px,#0040ff 136px,#0040ff 140px,#0040ff 144px)"></div><div style="top:16px;background:linear-gradient(90deg,#0040ff 0px,#0040ff 4px,#0040ff 8px,#0040ff 12px,#0040ff 16px,#0037ff 20px,#002eff 24px,#0017ff 28px,#0000ff 32px,#0000ff 36px,#0000ff 40px,#0000ff 44px,#0000ff 48px,#0000ff 52px,#0000ff 56px,#0000ff 60px,#0000ff 64px,#0000ff 68px,#0000ff 72px,#0017ff 76px,#002eff 80px,#002eff 84px,#002eff 88px,#0017ff 92px,#0000ff 96px,#0000ff 100px,#0000ff 104px,#0000ff 108px,#0000ff 112px,#0020ff 116px,#0040ff 120px,#0040ff 124px,#0040ff 128px,#0040ff 132px,#0040ff 136px,#0040ff 140px,#0040ff 144px)"></div><div style="top:18px;background:linear-gradient(90deg,#0040ff 0px,#0040ff 4px,#0040ff 8px,#0040ff 12px,#0040ff 16px,#002dff 20px,#001aff 24px,#000dff 28px,#0000ff 32px,#0000ff 36px,#0000ff 40px,#0000ff 44px,#0000ff 48px,#0000ff 52px,#0000ff 56px,#0000ff 60px,#0000ff 64px,#0000ff 68px,#0000ff 72px,#000dff 76px,#001aff 80px,#001aff 84px,#001aff 88px,#000dff 92px,#0000ff 96px,#0000ff 100px,#0000ff 104px,#0000ff 108px,#0000ff 112px,#0020ff 116px,#0040ff 120px,#0040ff 124px,#0040ff 128px,#0040ff 132px,#0040ff 136px,#0040ff 140px,#0040ff 144px)"></div><div style="top:20px;background:linear-gradient(90deg,#0040ff 0px,#0040ff 4px,#0040ff 8px,#0040ff 12px,#0040ff 16px,#0024ff 20px,#0009ff 24px,#0004ff 28px,#0000ff 32px,#0000ff 36px,#0000ff 40px,#0000ff 44px,#0000ff 48px,#0000ff 52px,#0000ff 56px,#0000ff 60px,#0000ff 64px,#0000ff 68px,#0000ff 72px,#0004ff 76px,#0009ff 80px,#0009ff 84px,#0009ff 88px,#0004ff 92px,#0000ff 96px,#0000ff 100px,#0000ff 104px,#0000ff 108px,#0000ff 112px,#0020ff 116px,#0040ff 120px,#0040ff 124px,#0040ff 128px,#0040ff 132px,#0040ff 136px,#0040ff 140px,#0040ff 144px)"></div><div style="top:22px;background:linear-gradient(90deg,#0040ff 0px,#0040ff 4px,#0040ff 8px,#0040ff 12px,#0040ff 16px,#0020ff 20px,#0000ff 24px,#0000ff 28px,#0000ff 32px,#0000ff 36px,#0000ff 40px,#0000ff 44px,#0000ff 48px,#0000fe 52px,#0000fd 56px,#0000fd 60px,#0000fd 64px,#0000fe 68px,#0000ff 72px,#0000ff 76px,#0000ff 80px,#0000ff 84px,#0000ff 88px,#0000ff 92px,#0000ff 96px,#0000ff 100px,#0000ff 104px,#0000ff 108px,#0000ff 112px,#0020ff 116px,#0040ff 120px,#0040ff 124px,#0040ff 128px,#0040ff 132px,#0040ff 136px,#0040ff 140px,#0040ff 144px)"></div><div style="top:24px;background:linear-gradient(90deg,#0040ff 0px,#0040ff 4px,#0040ff 8px,#0040ff 12px,#0040ff 16px,#0020ff 20px,#0000ff 24px,#0000ff 28px,#0000ff 32px,#0000ff 36px,#0000ff 40px,#0000ff 44px,#0000ff 48px,#0000f7 52px,#0000ef 56px,#0000ef 60px,#0000ef 64px,#0000f7 68px,#0000ff 72px,#0000ff 76px,#0000ff 80px,#0000ff 84px,#0000ff 88px,#0000ff 92px,#0000ff 96px,#0000ff 100px,#0000ff 104px,#0000ff 108px,#0000ff 112px,#0020ff 116px,#0040ff 120px,#0040ff 124px,#0040ff 128px,#0040ff 132px,#0040ff 136px,#0040ff 140px,#0040ff 144px)"></div><div style="top:26px;background:linear-gradient(90deg,#0040ff 0px,#0040ff 4px,#0040ff 8px,#0040ff 12px,#0040ff 16px,#0020ff 20px,#0000ff 24px,#0000ff 28px,#0000ff 32px,#0000ff 36px,#0000ff 40px,#0000ff 44px,#0000ff 48px,#0000ee 52px,#0000dc 56px,#0000dc 60px,#0000dc 64px,#0000ee 68px,#0000ff 72px,#0000ff 76px,#0000ff 80px,#0000ff 84px,#0000ff 88px,#0000ff 92px,#0000ff 96px,#0000ff 100px,#0000ff 104px,#0000ff 108px,#0000ff 112px,#0020ff 116px,#0040ff 120px,#0040ff 124px,#0040ff 128px,#0040ff 132px,#0040ff 136px,#0040ff 140px,#0040ff 144px)"></div><div style="top:28px;background:linear-gradient(90deg,#0040ff 0px,#0040ff 4px,#0040ff 8px,#0040ff 12px,#0040ff 16px,#0020ff 20px,#0000ff 24px,#0000ff 28px,#0000ff 32px,#0000ff 36px,#0000ff 40px,#0000ff 44px,#0000ff 48px,#0000e4 52px,#0000ca 56px,#0000ca 60px,#0000ca 64px,#0000e4 68px,#0000ff 72px,#0000ff 76px,#0000ff 80px,#0000ff 84px,#0000ff 88px,#0000ff 92px,#0000ff 96px,#0000ff 100px,#0000ff 104px,#0000ff 108px,#0000ff 112px,#0020ff 116px,#0040ff 120px,#0040ff 124px,#0040ff 128px,#0040ff 132px,#0040ff 136px,#0040ff 140px,#0040ff 144px)"></div><div style="top:30px;background:linear-gradient(90deg,#0040ff 0px,#0040ff 4px,#0040ff 8px,#003fff 12px,#003fff 16px,#0020ff 20px,#0000ff 24px,#0000ff 28px,#0000ff 32px,#0000ff 36px,#0000ff 40px,#0000ff 44px,#0000ff 48px,#0000df 52px,#0000c0 56px,#0000c0 60px,#0000c0 64px,#0000df 68px,#0000ff 72px,#0000ff 76px,#0000ff 80px,#0000ff 84px,#0000ff 88px,#0000ff 92px,#0000ff 96px,#0000ff 100px,#0000ff 104px,#0000ff 108px,#0001ff 112px,#0020ff 116px,#0040ff 120px,#0040ff 124px,#0040ff 128px,#0040ff 132px,#0040ff 136px,#0040ff 140px,#0040ff 144px)"></div><div style="top:32px;background:linear-gradient(90deg,#0040ff 0px,#0040ff 4px,#0040ff 8px,#0039ff 12px,#0032ff 16px,#0019ff 20px,#0000ff 24px,#0000ff 28px,#0000ff 32px,#0000ff 36px,#0000ff 40px,#0000ff 44px,#0000ff 48px,#0000e6 52px,#0000cd 56px,#0000cd 60px,#0000cd 64px,#0000e6 68px,#0000ff 72px,#0000ff 76px,#0000ff 80px,#0000ff 84px,#0000ff 88px,#0000ff 92px,#0000ff 96px,#0000ff 100px,#0000ff 104px,#0007ff 108px,#000dff 112px,#0027ff 116px,#0040ff 120px,#0040ff 124px,#0040ff 128px,#0046ff 132px,#004dff 136px,#004dff 140px,#004dff 144px)"></div><div style="top:34px;background:linear-gradient(90deg,#0040ff 0px,#0040ff 4px,#0040ff 8px,#002fff 12px,#001fff 16px,#0010ff 20px,#0000ff 24px,#0000ff 28px,#0000ff 32px,#0000ff 36px,#0000ff 40px,#0000ff 44px,#0000ff 48px,#0000ef 52px,#0000e0 56px,#0000e0 60px,#0000e0 64px,#0000ef 68px,#0000ff 72px,#0000ff 76px,#0000ff 80px,#0000ff 84px,#0000ff 88px,#0000ff 92px,#0000ff 96px,#0000ff 100px,#0000ff 104px,#0010ff 108px,#0021ff 112px,#0030ff 116px,#0040ff 120px,#0040ff 124px,#0040ff 128px,#0050ff 132px,#0060ff 136px,#0060ff 140px,#0060ff 144px)"></div><div style="top:36px;background:linear-gradient(90deg,#0040ff 0px,#0040ff 4px,#0040ff 8px,#0026ff 12px,#000cff 16px,#0006ff 20px,#0000ff 24px,#0000ff 28px,#0000ff 32px,#0000ff 36px,#0000ff 40px,#0000ff 44px,#0000ff 48px,#0000f9 52px,#0000f3 56px,#0000f3 60px,#0000f3 64px,#0000f9 68px,#0000ff 72px,#0000ff 76px,#0000ff 80px,#0000ff 84px,#0000ff 88px,#0000ff 92px,#0000ff 96px,#0000ff 100px,#0000ff 104px,#001aff 108px,#0034ff 112px,#003aff 116px,#0040ff 120px,#0040ff 124px,#0040ff 128px,#005aff 132px,#0073ff 136px,#0073ff 140px,#0073ff 144px)"></div><div style="top:38px;background:linear-gradient(90deg,#0040ff 0px,#0040ff 4px,#0040ff 8px,#0020ff 12px,#0000ff 16px,#0000ff 20px,#0000ff 24px,#0000ff 28px,#0000ff 32px,#0000ff 36px,#0000ff 40px,#0000ff 44px,#0000ff 48px,#0000ff 52px,#0000ff 56px,#0000ff 60px,#0000ff 64px,#0000ff 68px,#0000ff 72px,#0000ff 76px,#0000ff 80px,#0000ff 84px,#0000ff 88px,#0000ff 92px,#0000ff 96px,#0000ff 100px,#0000ff 104px,#0020ff 108px,#0040ff 112px,#0040ff 116px,#0040ff 120px,#0040ff 124px,#0040ff 128px,#0060ff 132px,#007fff 136px,#007fff 140px,#007fff 144px)"></div><div style="top:40px;background:linear-gradient(90deg,#0034ff 0px,#0034ff 4px,#0034ff 8px,#001aff 12px,#0000ff 16px,#0000ff 20px,#0000ff 24px,#0000ff 28px,#0000ff 32px,#0000ff 36px,#0000ff 40px,#0000ff 44px,#0000ff 48px,#0000ff 52px,#0000ff 56px,#0000ff 60px,#0000ff 64px,#0000ff 68px,#0000ff 72px,#0000ff 76px,#0000ff 80px,#0000ff 84px,#0000ff 88px,#0006ff 92px,#000cff 96px,#000cff 100px,#000cff 104px,#002bff 108px,#004bff 112px,#004bff 116px,#004bff 120px,#0051ff 124px,#0057ff 128px,#0071ff 132px,#008bff 136px,#008bff 140px,#008bff 144px)"></div><div style="top:42px;background:linear-gradient(90deg,#001bff 0px,#001bff 4px,#001bff 8px,#000dff 12px,#0000ff 16px,#0000ff 20px,#0000ff 24px,#0000ff 28px,#0000ff 32px,#0000ff 36px,#0000ff 40px,#0000ff 44px,#0000ff 48px,#0000ff 52px,#0000ff 56px,#0000ff 60px,#0000ff 64px,#0000ff 68px,#0000ff 72px,#0006ff 76px,#000aff 80px,#0000ff 84px,#0000ff 88px,#000fff 92px,#001eff 96px,#001eff 100px,#001eff 104px,#003eff 108px,#005eff 112px,#005eff 116px,#005eff 120px,#006dff 124px,#007cff 128px,#008dff 132px,#009eff 136px,#009eff 140px,#009eff 144px)"></div><div style="top:44px;background:linear-gradient(90deg,#0006ff 0px,#0006ff 4px,#0006ff 8px,#0007ff 12px,#0007ff 16px,#0007ff 20px,#0007ff 24px,#0007ff 28px,#0007ff 32px,#0004ff 36px,#0000ff 40px,#0000ff 44px,#0000ff 48px,#0000ff 52px,#0000ff 56px,#0000ff 60px,#0000ff 64px,#0000ff 68px,#0000ff 72px,#0013ff 76px,#001fff 80px,#0000ff 84px,#0000ff 88px,#0019ff 92px,#0032ff 96px,#0032ff 100px,#0032ff 104px,#0051ff 108px,#0071ff 112px,#0071ff 116px,#0071ff 120px,#008aff 124px,#00a3ff 128px,#00aaff 132px,#00b1ff 136px,#00b1ff 140px,#00b1ff 144px)"></div><div style="top:46px;background:linear-gradient(90deg,#0000ff 0px,#0000ff 4px,#0000ff 8px,#001aff 12px,#0033ff 16px,#0033ff 20px,#0033ff 24px,#0033ff 28px,#0033ff 32px,#001aff 36px,#0000ff 40px,#0000ff 44px,#0000ff 48px,#0000ff 52px,#0000ff 56px,#0000ff 60px,#0000ff 64px,#0000ff 68px,#0000ff 72px,#0020ff 76px,#0033ff 80px,#0000ff 84px,#0000ff 88px,#001fff 92px,#003fff 96px,#003fff 100px,#003fff 104px,#005fff 108px,#007fff 112px,#007fff 116px,#007fff 120px,#009eff 124px,#00bdff 128px,#00beff 132px,#00beff 136px,#00beff 140px,#00beff 144px)"></div><div style="top:48px;background:linear-gradient(90deg,#0000ff 0px,#0000ff 4px,#0000ff 8px,#0020ff 12px,#0040ff 16px,#0040ff 20px,#0040ff 24px,#0040ff 28px,#0040ff 32px,#0026ff 36px,#000cff 40px,#0006ff 44px,#0000f9 48px,#0000f3 52px,#0000f9 56px,#0000ff 60px,#0000ff 64px,#0000ff 68px,#0000ff 72px,#0020ff 76px,#003cff 80px,#0018ff 84px,#001dff 88px,#003dff 92px,#005dff 96px,#005dff 100px,#005dff 104px,#0078ff 108px,#0093ff 112px,#0093ff 116px,#0093ff 120px,#00aeff 124px,#00c9ff 128px,#00c9ff 132px,#00c9ff 136px,#00c9ff 140px,#00c9ff 144px)"></div><div style="top:50px;background:linear-gradient(90deg,#0000ff 0px,#0000ff 4px,#0000ff 8px,#0020ff 12px,#0040ff 16px,#0040ff 20px,#0040ff 24px,#0040ff 28px,#0040ff 32px,#003aff 36px,#0033ff 40px,#001aff 44px,#0000e5 48px,#0000cc 52px,#0000e5 56px,#0000ff 60px,#0000ff 64px,#0000ff 68px,#0000ff 72px,#0020ff 76px,#0053ff 80px,#0046ff 84px,#0054ff 88px,#0074ff 92px,#0094ff 96px,#0094ff 100px,#0094ff 104px,#00a6ff 108px,#00b8ff 112px,#00b8ff 116px,#00b8ff 120px,#00c9ff 124px,#00dbff 128px,#00dbff 132px,#00dbff 136px,#00dbff 140px,#00dbff 144px)"></div><div style="top:52px;background:linear-gradient(90deg,#0000ff 0px,#0000ff 4px,#0000ff 8px,#0020ff 12px,#0040ff 16px,#0040ff 20px,#0040ff 24px,#0040ff 28px,#0040ff 32px,#0040ff 36px,#0040ff 40px,#0020ff 44px,#0000df 48px,#0000bf 52px,#0000d9 56px,#0000f9 60px,#0000ff 64px,#0000ff 68px,#0000ff 72px,#0020ff 76px,#0060ff 80px,#0077ff 84px,#008fff 88px,#00afff 92px,#00ceff 96px,#00ceff 100px,#00ceff 104px,#00d7ff 108px,#00dfff 112px,#00dfff 116px,#00dfff 120px,#00e7ff 124px,#00efff 128px,#00efff 132px,#00efff 136px,#00efff 140px,#00efff 144px)"></div><div style="top:54px;background:linear-gradient(90deg,#0000ff 0px,#0000ff 4px,#0000ff 8px,#0020ff 12px,#0040ff 16px,#0040ff 20px,#0040ff 24px,#0040ff 28px,#0040ff 32px,#0040ff 36px,#0040ff 40px,#0020ff 44px,#0000df 48px,#0000bf 52px,#0000c5 56px,#0000e5 60px,#0000ff 64px,#0000ff 68px,#0000ff 72px,#0020ff 76px,#0065ff 80px,#009aff 84px,#00b9ff 88px,#00d9ff 92px,#00f9ff 96px,#00f9ff 100px,#00f9ff 104px,#00faff 108px,#00fbff 112px,#00fbff 116px,#00fbff 120px,#00fcff 124px,#00fdff 128px,#00fdff 132px,#00fdff 136px,#00fdff 140px,#00fdff 144px)"></div><div style="top:56px;background:linear-gradient(90deg,#0000ff 0px,#0000ff 4px,#0000ff 8px,#001aff 12px,#0033ff 16px,#0033ff 20px,#0033ff 24px,#0033ff 28px,#0033ff 32px,#0033ff 36px,#0033ff 40px,#0014ff 44px,#0000d9 48px,#0000bf 52px,#0000bf 56px,#0000d9 60px,#0000f9 64px,#0000ff 68px,#0006ff 72px,#002cff 76px,#0071ff 80px,#00a7ff 84px,#00c7ff 88px,#00e3ff 92px,#00ffff 96px,#04fffb 100px,#08fff7 104px,#08fff7 108px,#08fff7 112px,#08fff7 116px,#08fff7 120px,#08fff7 124px,#08fff7 128px,#08fff7 132px,#08fff7 136px,#08fff7 140px,#08fff7 144px)"></div><div style="top:58px;background:linear-gradient(90deg,#0000ff 0px,#0000ff 4px,#0000ff 8px,#0006ff 12px,#000cff 16px,#000cff 20px,#000cff 24px,#000cff 28px,#000cff 32px,#000cff 36px,#000cff 40px,#0000eb 44px,#0000c5 48px,#0000bf 52px,#0000bf 56px,#0000c5 60px,#0000e5 64px,#0000ff 68px,#001aff 72px,#0053ff 76px,#0094ff 80px,#00b9ff 84px,#00d9ff 88px,#00ecff 92px,#00ffff 96px,#0dfff2 100px,#1affe5 104px,#1affe5 108px,#1affe5 112px,#1affe5 116px,#1affe5 120px,#1affe5 124px,#1affe5 128px,#1affe5 132px,#1affe5 136px,#1affe5 140px,#1affe5 144px)"></div><div style="top:60px;background:linear-gradient(90deg,#0019ff 0px,#0019ff 4px,#000cff 8px,#0000f9 12px,#0000f3 16px,#0000f3 20px,#0000f3 24px,#0000f3 28px,#0000f3 32px,#0000f3 36px,#0000f3 40px,#0000d9 44px,#0000bf 48px,#0000bf 52px,#0000bf 56px,#0000bf 60px,#0000df 64px,#0000ff 68px,#0020ff 72px,#0066ff 76px,#00acff 80px,#00cdff 84px,#00edff 88px,#00f6ff 92px,#00ffff 96px,#17ffe8 100px,#2dffd2 104px,#2dffd2 108px,#2dffd2 112px,#2dffd2 116px,#2dffd2 120px,#2dffd2 124px,#2dffd2 128px,#2dffd2 132px,#2dffd2 136px,#2dffd2 140px,#2dffd2 144px)"></div><div style="top:62px;background:linear-gradient(90deg,#0067ff 0px,#0067ff 4px,#0033ff 8px,#0000e5 12px,#0000cc 16px,#0000cc 20px,#0000cc 24px,#0000cc 28px,#0000cc 32px,#0000cc 36px,#0000cc 40px,#0000c5 44px,#0000bf 48px,#0000bf 52px,#0000bf 56px,#0000bf 60px,#0000df 64px,#0000ff 68px,#0020ff 72px,#0079ff 76px,#00ceff 80px,#00dcff 84px,#00fcff 88px,#00fdff 92px,#00ffff 96px,#1effe1 100px,#3dffc2 104px,#3dffc2 108px,#3dffc2 112px,#3dffc2 116px,#3dffc2 120px,#3dffc2 124px,#3dffc2 128px,#3dffc2 132px,#3dffc2 136px,#3dffc2 140px,#3dffc2 144px)"></div><div style="top:64px;background:linear-gradient(90deg,#00bdff 0px,#00bdff 4px,#0071ff 8px,#0000f8 12px,#0000c5 16px,#0000bf 20px,#0000bf 24px,#0000bf 28px,#0000bf 32px,#0000bf 36px,#0000bf 40px,#0000bf 44px,#0000bf 48px,#0000bf 52px,#0000bf 56px,#0000c5 60px,#0000e5 64px,#0006ff 68px,#0032ff 72px,#0092ff 76px,#00e0ff 80px,#00ecff 84px,#0dfff2 88px,#0dfff2 92px,#0dfff2 96px,#29ffd6 100px,#46ffb9 104px,#46ffb9 108px,#46ffb9 112px,#46ffb9 116px,#46ffb9 120px,#46ffb9 124px,#46ffb9 128px,#46ffb9 132px,#46ffb9 136px,#46ffb9 140px,#46ffb9 144px)"></div><div style="top:66px;background:linear-gradient(90deg,#81ff7e 0px,#81ff7e 4px,#0efff1 8px,#0047ff 12px,#0000d9 16px,#0000bf 20px,#0000bf 24px,#0000bf 28px,#0000bf 32px,#0000bf 36px,#0000bf 40px,#0000bf 44px,#0000bf 48px,#0000bf 52px,#0000bf 56px,#0000d9 60px,#0000f9 64px,#001aff 68px,#006dff 72px,#00cdff 76px,#00f7ff 80px,#0ffff0 84px,#2fffd0 88px,#2fffd0 92px,#2fffd0 96px,#43ffbc 100px,#57ffa8 104px,#57ffa8 108px,#57ffa8 112px,#57ffa8 116px,#57ffa8 120px,#57ffa8 124px,#57ffa8 128px,#57ffa8 132px,#57ffa8 136px,#57ffa8 140px,#57ffa8 144px)"></div><div style="top:68px;background:linear-gradient(90deg,#ccff33 0px,#ccff33 4px,#5fffa0 8px,#0091ff 12px,#0000fe 16px,#0000c5 20px,#0000bf 24px,#0000bf 28px,#0000bf 32px,#0000bf 36px,#0000bf 40px,#0000bf 44px,#0000bf 48px,#0000bf 52px,#0000c5 56px,#0000e5 60px,#0000ff 64px,#0039ff 68px,#00b1ff 72px,#05fffa 76px,#13ffec 80px,#37ffc8 84px,#57ffa8 88px,#57ffa8 92px,#57ffa8 96px,#61ff9e 100px,#6bff94 104px,#6bff94 108px,#6bff94 112px,#6bff94 116px,#6bff94 120px,#6bff94 124px,#6bff94 128px,#6bff94 132px,#6bff94 136px,#6bff94 140px,#6bff94 144px)"></div><div style="top:70px;background:linear-gradient(90deg,#f3ff0c 0px,#f3ff0c 4px,#c0ff3f 8px,#2effd1 12px,#0061ff 16px,#0000d9 20px,#0000bf 24px,#0000bf 28px,#0000bf 32px,#0000bf 36px,#0000bf 40px,#0000bf 44px,#0000bf 48px,#0000bf 52px,#0000d9 56px,#0000f9 60px,#0000ff 64px,#0087ff 68px,#4effb1 72px,#7aff85 76px,#49ffb6 80px,#57ffa8 84px,#77ff88 88px,#77ff88 92px,#77ff88 96px,#79ff86 100px,#7bff84 104px,#7bff84 108px,#7bff84 112px,#7bff84 116px,#7bff84 120px,#7bff84 124px,#7bff84 128px,#7bff84 132px,#7bff84 136px,#7bff84 140px,#7bff84 144px)"></div><div style="top:72px;background:linear-gradient(90deg,#ffff00 0px,#ffff00 4px,#e5ff1a 8px,#7fff80 12px,#00b7ff 16px,#000bff 20px,#0000d2 24px,#0000c5 28px,#0000bf 32px,#0000bf 36px,#0000bf 40px,#0000c5 44px,#0000cc 48px,#0000cc 52px,#0000e5 56px,#0000ff 60px,#0006ff 64px,#00acff 68px,#86ff79 72px,#a6ff59 76px,#64ff9b 80px,#65ff9a 84px,#84ff7b 88px,#87ff78 92px,#89ff76 96px,#89ff76 100px,#89ff76 104px,#89ff76 108px,#89ff76 112px,#8cff73 116px,#8eff71 120px,#8eff71 124px,#8eff71 128px,#8eff71 132px,#8eff71 136px,#8eff71 140px,#8eff71 144px)"></div><div style="top:74px;background:linear-gradient(90deg,#ffff00 0px,#ffff00 4px,#f9ff06 8px,#e0ff1f 12px,#68ff97 16px,#0094ff 20px,#000dff 24px,#0000d9 28px,#0000bf 32px,#0000bf 36px,#0000bf 40px,#0000d9 44px,#0000f3 48px,#0000f3 52px,#0000f9 56px,#0000ff 60px,#001aff 64px,#00d3ff 68px,#99ff66 72px,#b9ff46 76px,#87ff78 80px,#75ff8a 84px,#95ff6a 88px,#9fff60 92px,#aaff55 96px,#aaff55 100px,#aaff55 104px,#aaff55 108px,#aaff55 112px,#b5ff4a 116px,#bfff40 120px,#bfff40 124px,#bfff40 128px,#bfff40 132px,#bfff40 136px,#bfff40 140px,#bfff40 144px)"></div><div style="top:76px;background:linear-gradient(90deg,#f3ff0c 0px,#f3ff0c 4px,#f9ff06 8px,#ffff00 12px,#b8ff47 16px,#04fffb 20px,#006aff 24px,#001eff 28px,#0000f1 32px,#0000de 36px,#0000d8 40px,#0000f8 44px,#0013ff 48px,#0006ff 52px,#0000ff 56px,#0006ff 60px,#0039ff 64px,#00f2ff 68px,#9fff60 72px,#bfff40 76px,#94ff6b 80px,#89ff76 84px,#a9ff56 88px,#bdff42 92px,#d2ff2d 96px,#d2ff2d 100px,#d2ff2d 104px,#d2ff2d 108px,#d2ff2d 112px,#e6ff19 116px,#fbff04 120px,#fbff04 124px,#fbff04 128px,#fbff04 132px,#fbff04 136px,#fbff04 140px,#fbff04 144px)"></div><div style="top:78px;background:linear-gradient(90deg,#ccff33 0px,#ccff33 4px,#e5ff1a 8px,#ffff00 12px,#fff800 16px,#dbff24 20px,#55ffaa 24px,#00e1ff 28px,#008eff 32px,#0041ff 36px,#0027ff 40px,#0047ff 44px,#004dff 48px,#001aff 52px,#0000ff 56px,#001aff 60px,#0087ff 64px,#2dffd2 68px,#9fff60 72px,#bfff40 76px,#98ff67 80px,#9aff65 84px,#b9ff46 88px,#d6ff29 92px,#f3ff0c 96px,#f3ff0c 100px,#f3ff0c 104px,#f3ff0c 108px,#f3ff0c 112px,#ffee00 116px,#ffd100 120px,#ffd100 124px,#ffd100 128px,#ffd100 132px,#ffd100 136px,#ffd100 140px,#ffd100 144px)"></div><div style="top:80px;background:linear-gradient(90deg,#bfff40 0px,#bfff40 4px,#dfff20 8px,#ffff00 12px,#ffdf00 16px,#ffd900 20px,#c4ff3b 24px,#64ff9b 28px,#11ffee 32px,#00aaff 36px,#0071ff 40px,#00a4ff 44px,#00c9ff 48px,#0089ff 52px,#003eff 56px,#0032ff 60px,#00a6ff 64px,#3affc5 68px,#93ff6c 72px,#b9ff46 76px,#9fff60 80px,#a6ff59 84px,#c6ff39 88px,#e6ff19 92px,#fff800 96px,#fff800 100px,#fff800 104px,#fff800 108px,#fff800 112px,#ffda00 116px,#ffbc00 120px,#ffbc00 124px,#ffbc00 128px,#ffbc00 132px,#ffbc00 136px,#ffbc00 140px,#ffbc00 144px)"></div><div style="top:82px;background:linear-gradient(90deg,#bfff40 0px,#bfff40 4px,#dfff20 8px,#ffff00 12px,#ffdf00 16px,#ffc500 20px,#ffc400 24px,#ffc300 28px,#fff000 32px,#95ff6a 36px,#0efff1 40px,#7bff84 44px,#ffe800 48px,#d6ff29 52px,#02fffd 56px,#006dff 60px,#00b9ff 64px,#26ffd9 68px,#6cff93 72px,#a6ff59 76px,#b5ff4a 80px,#c5ff3a 84px,#e5ff1a 88px,#fff900 92px,#ffd900 96px,#ffd900 100px,#ffd900 104px,#ffd900 108px,#ffd900 112px,#ffc300 116px,#ffac00 120px,#ffac00 124px,#ffac00 128px,#ffac00 132px,#ffac00 136px,#ffac00 140px,#ffac00 144px)"></div><div style="top:84px;background:linear-gradient(90deg,#b3ff4c 0px,#b3ff4c 4px,#d3ff2c 8px,#f9ff06 12px,#ffdf00 16px,#ffb900 20px,#ff9900 24px,#ff7900 28px,#ff8d00 32px,#ffed00 36px,#96ff69 40px,#f7ff08 44px,#ff7300 48px,#ffad00 52px,#52ffad 56px,#008cff 60px,#00c5ff 64px,#20ffdf 68px,#60ff9f 72px,#a6ff59 76px,#ccff33 80px,#edff12 84px,#fff100 88px,#ffd100 92px,#ffb100 96px,#ffb100 100px,#ffb100 104px,#ffb100 108px,#ffb100 112px,#ffa500 116px,#ff9800 120px,#ff9800 124px,#ff9800 128px,#ff9800 132px,#ff9800 136px,#ff9800 140px,#ff9800 144px)"></div><div style="top:86px;background:linear-gradient(90deg,#baff45 0px,#baff45 4px,#cdff32 8px,#fcff03 12px,#ffd200 16px,#ffa300 20px,#ff8300 24px,#ff6b00 28px,#ff5a00 32px,#ff4f00 36px,#ff4900 40px,#ff5500 44px,#ff5900 48px,#ff8300 52px,#ceff31 56px,#26ffd9 60px,#16ffe9 64px,#4dffb2 68px,#80ff7f 72px,#c2ff3d 76px,#f1ff0e 80px,#ffee00 84px,#ffce00 88px,#ffae00 92px,#ff8e00 96px,#ff8e00 100px,#ff8e00 104px,#ff8e00 108px,#ff8e00 112px,#ff8b00 116px,#ff8700 120px,#ff8700 124px,#ff8700 128px,#ff8700 132px,#ff8700 136px,#ff8700 140px,#ff8700 144px)"></div><div style="top:88px;background:linear-gradient(90deg,#e5ff1a 0px,#e5ff1a 4px,#ecff13 8px,#ffed00 12px,#ffc700 16px,#ffa100 20px,#ff8100 24px,#ff6000 28px,#ff3e00 32px,#ff1f00 36px,#ff0000 40px,#ff1f00 44px,#ff3e00 48px,#ff7700 52px,#ffdd00 56px,#aaff55 60px,#67ff98 64px,#8bff74 68px,#b0ff4f 72px,#dcff23 76px,#fffb00 80px,#ffda00 84px,#ffbb00 88px,#ff9c00 92px,#ff7d00 96px,#ff7d00 100px,#ff7d00 104px,#ff7d00 108px,#ff7d00 112px,#ff7d00 116px,#ff7d00 120px,#ff7d00 124px,#ff7d00 128px,#ff7d00 132px,#ff7d00 136px,#ff7d00 140px,#ff7d00 144px)"></div><div style="top:90px;background:linear-gradient(90deg,#ffff00 0px,#ffff00 4px,#ffff00 8px,#ffe800 12px,#ffd000 16px,#ffb000 20px,#ff9000 24px,#ff6000 28px,#ff2f00 32px,#ff1700 36px,#ff0000 40px,#ff1700 44px,#ff2f00 48px,#ff6f00 52px,#ffae00 56px,#fff500 60px,#c3ff3c 64px,#d2ff2d 68px,#e1ff1e 72px,#fffd00 76px,#ffdd00 80px,#ffbd00 84px,#ff9d00 88px,#ff8600 92px,#ff6f00 96px,#ff6f00 100px,#ff6f00 104px,#ff6f00 108px,#ff6f00 112px,#ff6f00 116px,#ff6f00 120px,#ff6f00 124px,#ff6f00 128px,#ff6f00 132px,#ff6f00 136px,#ff6f00 140px,#ff6f00 144px)"></div><div style="top:92px;background:linear-gradient(90deg,#ffff00 0px,#ffff00 4px,#ffff00 8px,#fff100 12px,#ffe400 16px,#ffc400 20px,#ffa400 24px,#ff6000 28px,#ff1b00 32px,#ff0e00 36px,#ff0000 40px,#ff0e00 44px,#ff1b00 48px,#ff5b00 52px,#ff9b00 56px,#ffc400 60px,#ffec00 64px,#fff100 68px,#fff600 72px,#ffd600 76px,#ffb600 80px,#ff9600 84px,#ff7600 88px,#ff6900 92px,#ff5b00 96px,#ff5b00 100px,#ff5b00 104px,#ff5b00 108px,#ff5b00 112px,#ff5b00 116px,#ff5b00 120px,#ff5b00 124px,#ff5b00 128px,#ff5b00 132px,#ff5b00 136px,#ff5b00 140px,#ff5b00 144px)"></div><div style="top:94px;background:linear-gradient(90deg,#ffff00 0px,#ffff00 4px,#ffff00 8px,#fffa00 12px,#fff600 16px,#ffd600 20px,#ffb600 24px,#ff6000 28px,#ff0900 32px,#ff0500 36px,#ff0000 40px,#ff0500 44px,#ff0900 48px,#ff4900 52px,#ff8900 56px,#ff9600 60px,#ffa400 64px,#ffbb00 68px,#ffd200 72px,#ffb200 76px,#ff9200 80px,#ff7200 84px,#ff5200 88px,#ff4d00 92px,#ff4900 96px,#ff4900 100px,#ff4900 104px,#ff4900 108px,#ff4900 112px,#ff4900 116px,#ff4900 120px,#ff4900 124px,#ff4900 128px,#ff4900 132px,#ff4900 136px,#ff4900 140px,#ff4900 144px)"></div><div style="top:96px;background:linear-gradient(90deg,#feff01 0px,#feff01 4px,#feff01 8px,#feff01 12px,#ffff00 16px,#ffde00 20px,#ffbe00 24px,#ff5f00 28px,#ff0000 32px,#ff0000 36px,#ff0000 40px,#ff0000 44px,#ff0000 48px,#ff3f00 52px,#ff7e00 56px,#ff7e00 60px,#ff7d00 64px,#ff9d00 68px,#ffbd00 72px,#ff9d00 76px,#ff7e00 80px,#ff5e00 84px,#ff3e00 88px,#ff3e00 92px,#ff3e00 96px,#ff3e00 100px,#ff3e00 104px,#ff3e00 108px,#ff3e00 112px,#ff3e00 116px,#ff3e00 120px,#ff3e00 124px,#ff3e00 128px,#ff3e00 132px,#ff3e00 136px,#ff3e00 140px,#ff3e00 144px)"></div><div style="top:98px;background:linear-gradient(90deg,#f0ff0f 0px,#f0ff0f 4px,#f0ff0f 8px,#f8ff07 12px,#ffff00 16px,#ffd800 20px,#ffb000 24px,#ff5800 28px,#ff0000 32px,#ff0000 36px,#ff0000 40px,#ff0000 44px,#ff0000 48px,#ff3800 52px,#ff7100 56px,#ff6900 60px,#ff6200 64px,#ff8200 68px,#ffa200 72px,#ff8900 76px,#ff7100 80px,#ff5100 84px,#ff3100 88px,#ff3100 92px,#ff3100 96px,#ff3100 100px,#ff3100 104px,#ff3100 108px,#ff3100 112px,#ff3100 116px,#ff3100 120px,#ff3100 124px,#ff3100 128px,#ff3100 132px,#ff3100 136px,#ff3100 140px,#ff3100 144px)"></div><div style="top:100px;background:linear-gradient(90deg,#ddff22 0px,#ddff22 4px,#ddff22 8px,#eeff11 12px,#ffff00 16px,#ffce00 20px,#ff9d00 24px,#ff4f00 28px,#ff0000 32px,#ff0000 36px,#ff0000 40px,#ff0000 44px,#ff0000 48px,#ff2f00 52px,#ff5d00 56px,#ff4c00 60px,#ff3b00 64px,#ff5b00 68px,#ff7b00 72px,#ff6c00 76px,#ff5d00 80px,#ff3d00 84px,#ff1e00 88px,#ff1e00 92px,#ff1e00 96px,#ff1e00 100px,#ff1e00 104px,#ff1e00 108px,#ff1e00 112px,#ff1e00 116px,#ff1e00 120px,#ff1e00 124px,#ff1e00 128px,#ff1e00 132px,#ff1e00 136px,#ff1e00 140px,#ff1e00 144px)"></div><div style="top:102px;background:linear-gradient(90deg,#caff35 0px,#caff35 4px,#caff35 8px,#e5ff1a 12px,#ffff00 16px,#ffc500 20px,#ff8a00 24px,#ff4500 28px,#ff0000 32px,#ff0000 36px,#ff0000 40px,#ff0000 44px,#ff0000 48px,#ff2500 52px,#ff4b00 56px,#ff3000 60px,#ff1600 64px,#ff3600 68px,#ff5600 72px,#ff5000 76px,#ff4b00 80px,#ff2b00 84px,#ff0b00 88px,#ff0b00 92px,#ff0b00 96px,#ff0b00 100px,#ff0b00 104px,#ff0b00 108px,#ff0b00 112px,#ff0b00 116px,#ff0b00 120px,#ff0b00 124px,#ff0b00 128px,#ff0b00 132px,#ff0b00 136px,#ff0b00 140px,#ff0b00 144px)"></div><div style="top:104px;background:linear-gradient(90deg,#bfff40 0px,#bfff40 4px,#bfff40 8px,#dfff20 12px,#ffff00 16px,#ffbf00 20px,#ff8000 24px,#ff4000 28px,#ff0000 32px,#ff0000 36px,#ff0000 40px,#ff0000 44px,#ff0000 48px,#ff2000 52px,#ff4000 56px,#ff2000 60px,#ff0000 64px,#ff2000 68px,#ff4000 72px,#ff4000 76px,#ff4000 80px,#ff2000 84px,#ff0000 88px,#ff0000 92px,#ff0000 96px,#ff0000 100px,#ff0000 104px,#ff0000 108px,#ff0000 112px,#ff0000 116px,#ff0000 120px,#ff0000 124px,#ff0000 128px,#ff0000 132px,#ff0000 136px,#ff0000 140px,#ff0000 144px)"></div><div style="top:106px;background:linear-gradient(90deg,#bfff40 0px,#bfff40 4px,#bfff40 8px,#dfff20 12px,#ffff00 16px,#ffbf00 20px,#ff8000 24px,#ff4000 28px,#ff0000 32px,#ff0000 36px,#ff0000 40px,#ff0000 44px,#ff0000 48px,#ff2000 52px,#ff4000 56px,#ff2000 60px,#ff0000 64px,#ff2000 68px,#ff4000 72px,#ff4000 76px,#ff4000 80px,#ff2000 84px,#ff0000 88px,#ff0000 92px,#ff0000 96px,#ff0000 100px,#ff0000 104px,#ff0000 108px,#ff0000 112px,#ff0000 116px,#ff0000 120px,#ff0000 124px,#ff0000 128px,#ff0000 132px,#ff0000 136px,#ff0000 140px,#ff0000 144px)"></div><div style="top:108px;background:linear-gradient(90deg,#bfff40 0px,#bfff40 4px,#bfff40 8px,#dfff20 12px,#ffff00 16px,#ffbf00 20px,#ff8000 24px,#ff4000 28px,#ff0000 32px,#ff0000 36px,#ff0000 40px,#ff0000 44px,#ff0000 48px,#ff2000 52px,#ff4000 56px,#ff2000 60px,#ff0000 64px,#ff2000 68px,#ff4000 72px,#ff4000 76px,#ff4000 80px,#ff2000 84px,#ff0000 88px,#ff0000 92px,#ff0000 96px,#ff0000 100px,#ff0000 104px,#ff0000 108px,#ff0000 112px,#ff0000 116px,#ff0000 120px,#ff0000 124px,#ff0000 128px,#ff0000 132px,#ff0000 136px,#ff0000 140px,#ff0000 144px)"></div><div style="top:110px;background:linear-gradient(90deg,#bfff40 0px,#bfff40 4px,#bfff40 8px,#dfff20 12px,#ffff00 16px,#ffbf00 20px,#ff8000 24px,#ff4000 28px,#ff0000 32px,#ff0000 36px,#ff0000 40px,#ff0000 44px,#ff0000 48px,#ff2000 52px,#ff4000 56px,#ff2000 60px,#ff0000 64px,#ff2000 68px,#ff4000 72px,#ff4000 76px,#ff4000 80px,#ff2000 84px,#ff0000 88px,#ff0000 92px,#ff0000 96px,#ff0000 100px,#ff0000 104px,#ff0000 108px,#ff0000 112px,#ff0000 116px,#ff0000 120px,#ff0000 124px,#ff0000 128px,#ff0000 132px,#ff0000 136px,#ff0000 140px,#ff0000 144px)"></div></div><svg class="ov" width="136" height="107" viewBox="0 0 136 107"><polyline points="109.1,6.7 114.7,8.1 117.8,11.5 119.9,17.5 124.1,20.4 127.2,25.4 130.3,25.7 135.1,23.6 133.8,27.3 133.0,30.0 131.5,33.6 129.0,33.0 127.4,34.5 127.8,39.4 126.3,41.4 125.5,39.9 124.3,41.4 122.8,42.5 121.1,44.1 118.9,43.3 116.8,45.5 113.4,48.0 110.5,49.1 107.6,50.9 106.8,49.3 108.9,46.9 106.4,45.8 104.3,48.0 102.8,49.6 100.1,50.1 99.5,52.0 101.8,54.4 102.2,55.4 104.9,54.1 107.4,54.6 109.5,56.0 107.4,56.5 104.9,58.5 102.6,61.1 104.9,62.9 106.2,67.1 108.0,69.1 108.3,71.3 107.4,72.2 108.7,73.7 107.6,77.0 106.0,78.6 104.9,80.5 103.5,82.4 102.2,84.5 100.6,86.3 98.7,88.1 97.0,89.7 94.9,90.1 92.4,91.0 90.8,91.5 88.3,92.4 85.6,93.1 84.3,94.4 83.9,95.7 83.3,94.2 82.7,92.8 80.6,92.6 79.4,93.1 77.3,91.7 76.6,90.1 74.8,89.7 73.7,89.0 72.1,90.1 70.8,90.8 69.4,90.4 67.7,90.8 66.5,91.0 66.0,93.5 64.4,93.5 63.1,93.1 61.7,91.7 61.3,89.7 60.2,88.1 58.6,87.2 57.7,87.7 58.1,85.4 59.8,83.1 60.0,79.4 59.4,77.7 57.3,77.5 55.7,75.8 54.4,74.9 52.3,75.6 50.2,76.3 47.3,78.6 45.3,78.6 43.0,78.2 40.9,77.9 39.6,79.8 38.0,78.4 35.1,77.9 32.6,77.2 29.9,76.0 27.0,73.9 23.8,72.9 21.3,71.7 19.1,70.3 18.6,68.6 18.0,67.1 19.9,66.1 18.6,62.9 16.8,60.1 13.9,59.1 11.8,56.5 9.9,55.7 10.5,52.3 8.5,51.7 7.6,49.3 8.7,48.0 11.8,46.3 13.9,46.9 16.6,45.2 19.1,43.0 21.6,42.2 22.0,39.7 22.8,39.1 22.0,36.5 21.3,33.9 24.7,33.0 26.5,32.7 25.9,30.0 27.4,27.3 31.1,28.2 32.8,27.6 33.0,23.6 35.3,22.0 36.3,21.0 37.8,22.9 40.7,24.8 42.6,25.7 44.0,29.1 43.6,33.0 47.1,33.9 50.9,35.3 53.2,35.9 55.2,40.2 59.6,40.8 63.8,40.8 66.5,41.1 70.0,42.8 73.1,43.6 76.9,41.6 82.1,41.1 85.0,39.4 87.5,37.7 86.4,35.6 87.5,33.6 91.0,34.5 95.4,32.7 97.4,29.7 100.8,28.8 103.7,29.1 104.1,27.3 101.2,25.1 99.7,24.8 98.7,25.7 95.2,25.1 96.0,22.3 99.9,20.1 102.6,18.5 102.8,17.2 104.5,12.9 106.8,10.2 109.1,6.7" class="bd"/><polyline points="106.4,84.9 108.3,85.1 107.6,87.4 106.2,91.9 104.7,90.6 104.5,88.6 106.4,84.9" class="bd"/><polyline points="83.9,96.2 85.6,97.1 84.5,99.3 82.7,100.4 80.8,99.7 80.6,97.9 82.1,96.4 83.9,96.2" class="bd"/><polyline points="16.8,60.1 21.1,59.6 25.3,59.3 29.5,58.5 33.6,58.3 37.8,58.5 43.0,59.1" class="pv"/><polyline points="43.0,59.1 45.0,55.2 49.2,51.7 51.9,50.7 52.3,46.6 55.2,40.2" class="pv"/><polyline points="43.0,59.1 46.1,62.4 49.2,64.9 52.3,66.1 56.5,66.6 58.6,66.1 60.0,68.1 60.4,72.2 60.0,75.8 59.4,77.7" class="pv"/><polyline points="51.9,50.7 57.5,50.7 61.7,52.5 65.8,54.6 69.0,56.7 67.9,59.8 65.8,62.9 65.8,64.9" class="pv"/><polyline points="58.6,66.1 60.6,65.4 64.8,65.1 65.8,64.9 67.9,64.1 70.0,63.6 71.7,65.6 74.2,66.8" class="pv"/><polyline points="56.9,40.2 59.6,45.2 62.7,46.6 67.9,49.3 71.0,50.1 71.7,54.6 73.1,59.8 76.2,60.6 78.5,54.6 77.1,49.9 75.2,50.7 72.7,49.3" class="pv"/><polyline points="76.2,60.6 76.4,62.4 74.2,65.6 74.2,66.8" class="pv"/><polyline points="78.5,53.9 80.8,53.9 84.5,50.1 86.0,49.1 88.3,47.4 91.4,46.6 92.9,43.9 96.0,42.5 98.9,41.1 102.6,41.6 105.3,41.1 108.5,41.1 109.5,38.5 108.5,35.3 111.0,33.0 112.6,30.9 111.6,26.0 109.5,23.2 108.5,18.5 111.6,15.2 115.7,9.8" class="pv"/><polyline points="112.6,30.9 116.8,33.3 120.9,35.3 125.1,36.8 127.6,36.5" class="pv"/><polyline points="109.5,38.5 111.6,39.1 114.7,41.9 116.8,45.2" class="pv"/><polyline points="102.8,49.6 103.9,46.6 103.3,43.9 102.6,41.6" class="pv"/><polyline points="84.5,62.1 84.3,56.5 85.8,52.0 86.0,49.1" class="pv"/><polyline points="91.4,46.6 91.8,47.4 91.0,51.2 91.4,54.9 91.2,57.8 89.3,60.6 86.6,61.6 84.5,62.1" class="pv"/><polyline points="74.2,66.8 77.3,68.1 80.4,68.1 82.5,69.1 83.9,67.1 85.6,65.4 84.5,62.1" class="pv"/><polyline points="89.3,60.6 91.8,58.0 94.9,58.3 96.2,62.1 94.9,63.6 96.0,64.9 94.5,67.8 92.9,69.1 89.7,69.3 86.6,67.1 85.6,65.4" class="pv"/><polyline points="94.9,58.3 94.7,56.5 96.6,54.4 99.5,52.5" class="pv"/><polyline points="96.2,62.1 99.1,62.1 101.4,62.1 102.6,61.1" class="pv"/><polyline points="96.2,62.1 99.1,63.1 101.2,64.9 100.8,67.3 102.6,68.6 103.1,70.5 105.3,71.3 107.0,71.7" class="pv"/><polyline points="103.1,70.5 101.2,73.4 100.6,75.3 101.2,77.7 103.3,79.1 104.9,80.3" class="pv"/><polyline points="93.7,67.8 96.0,70.5 97.0,73.9 99.1,74.6 100.6,75.3" class="pv"/><polyline points="97.0,73.9 92.9,73.9 91.8,74.6 92.2,77.0 91.4,79.4 91.8,82.1 91.6,84.0 92.2,85.6 94.3,86.1 96.0,85.4 97.0,83.3 98.5,81.5 100.1,79.4 101.2,77.7" class="pv"/><polyline points="96.0,85.4 98.5,88.3" class="pv"/><polyline points="82.5,74.6 86.6,74.1 89.5,74.6 91.8,74.6" class="pv"/><polyline points="82.5,74.6 84.1,72.2 83.5,69.8 82.7,69.1" class="pv"/><polyline points="82.5,74.6 81.4,77.0 82.1,80.5 82.5,82.8 84.5,83.1 86.2,84.7 88.7,85.1 90.8,84.5 91.6,84.0" class="pv"/><polyline points="86.2,84.7 86.6,87.4 85.6,90.1 83.1,92.8" class="pv"/><polyline points="82.5,82.8 80.0,84.0 77.3,85.6 74.4,85.4 73.1,87.0 74.2,89.0" class="pv"/><polyline points="73.1,86.3 72.1,84.0 71.7,81.5 73.1,79.1 75.2,77.5 77.7,76.3 79.8,75.8 81.4,77.0" class="pv"/><polyline points="59.4,77.7 61.9,76.3 63.3,77.7 65.2,80.3 66.9,82.1 69.0,81.0 70.0,78.2 72.1,78.2 72.1,80.5" class="pv"/><polyline points="79.8,75.8 76.2,77.0 75.2,74.6 75.8,72.2 78.3,69.8 80.4,68.1" class="pv"/><rect x="0.5" y="0.5" width="135" height="106" class="fw"/><path d="M0.3 0.5H10.7M0.3 106.5H10.7M21.1 0.5H31.5M21.1 106.5H31.5M41.9 0.5H52.3M41.9 106.5H52.3M62.7 0.5H73.1M62.7 106.5H73.1M83.5 0.5H93.9M83.5 106.5H93.9M104.3 0.5H114.7M104.3 106.5H114.7M125.1 0.5H135.5M125.1 106.5H135.5M0.5 0.0V18.5M135.5 0.0V18.5M0.5 33.9V48.0M135.5 33.9V48.0M0.5 61.1V73.4M135.5 61.1V73.4M0.5 85.1V96.4M135.5 85.1V96.4" class="fb"/></svg></div>
<div class="cb" style="left:531.5px;top:22px;background:linear-gradient(180deg,#800000 0.00%,#9f0000 3.12%,#bf0000 6.25%,#df0000 9.38%,#ff0000 12.50%,#ff2000 15.62%,#ff4000 18.75%,#ff6000 21.88%,#ff8000 25.00%,#ff9f00 28.12%,#ffbf00 31.25%,#ffdf00 34.38%,#ffff00 37.50%,#dfff20 40.62%,#bfff40 43.75%,#9fff60 46.88%,#80ff80 50.00%,#60ff9f 53.12%,#40ffbf 56.25%,#20ffdf 59.38%,#00ffff 62.50%,#00dfff 65.62%,#00bfff 68.75%,#009fff 71.88%,#0080ff 75.00%,#0060ff 78.12%,#0040ff 81.25%,#0020ff 84.38%,#0000ff 87.50%,#0000df 90.62%,#0000bf 93.75%,#00009f 96.88%,#000080 100.00%)"></div>
<div class="t tk" style="left:523.8px;top:14.4px;width:20px;text-align:center">hPa</div>
<div class="t tk" style="left:538.6px;top:21.7px;width:7.0px;text-align:center">30</div>
<div class="t tk" style="left:538.6px;top:40.1px;width:7.0px;text-align:center">25</div>
<div class="t tk" style="left:538.6px;top:58.5px;width:7.0px;text-align:center">20</div>
<div class="t tk" style="left:538.6px;top:76.3px;width:7.0px;text-align:center">15</div>
<div class="t tk" style="left:538.6px;top:93.8px;width:7.0px;text-align:center">10</div>
<div class="t tk" style="left:538.6px;top:110.7px;width:7.0px;text-align:center">5</div>
<div class="t tk" style="left:375.5px;top:37.0px;width:14px;text-align:right">50°N</div>
<div class="t tk" style="left:375.5px;top:65.8px;width:14px;text-align:right">40°N</div>
<div class="t tk" style="left:375.5px;top:91.8px;width:14px;text-align:right">30°N</div>
<div class="t tk" style="left:375.5px;top:114.9px;width:14px;text-align:right">20°N</div>
<div class="t tk" style="left:377.4px;top:130.8px;width:30px;text-align:center">70°E</div>
<div class="t tk" style="left:398.2px;top:130.8px;width:30px;text-align:center">80°E</div>
<div class="t tk" style="left:419.0px;top:130.8px;width:30px;text-align:center">90°E</div>
<div class="t tk" style="left:439.8px;top:130.8px;width:30px;text-align:center">100°E</div>
<div class="t tk" style="left:460.6px;top:130.8px;width:30px;text-align:center">110°E</div>
<div class="t tk" style="left:481.4px;top:130.8px;width:30px;text-align:center">120°E</div>
<div class="t tk" style="left:502.2px;top:130.8px;width:30px;text-align:center">130°E</div>
<div class="t pl" style="left:395.5px;top:23.5px">(c)</div>
<div class="pn" style="left:32px;top:148px"><div class="w"><div style="top:0px;background:linear-gradient(90deg,#00ffff 0px,#00ffff 4px,#00ffff 8px,#60ff9f 12px,#bfff40 16px,#bfff40 20px,#bfff40 24px,#bfff40 28px,#bfff40 32px,#60ff9f 36px,#00ffff 40px,#00dfff 44px,#00bfff 48px,#009fff 52px,#0080ff 56px,#0080ff 60px,#0080ff 64px,#009fff 68px,#00bfff 72px,#00dfff 76px,#00ffff 80px,#00dfff 84px,#00bfff 88px,#00bfff 92px,#00bfff 96px,#00bfff 100px,#00bfff 104px,#009fff 108px,#0080ff 112px,#0080ff 116px,#0080ff 120px,#0080ff 124px,#0080ff 128px,#0080ff 132px,#0080ff 136px,#0080ff 140px,#0080ff 144px)"></div><div style="top:2px;background:linear-gradient(90deg,#00ffff 0px,#00ffff 4px,#00ffff 8px,#60ff9f 12px,#bfff40 16px,#bfff40 20px,#bfff40 24px,#bfff40 28px,#bfff40 32px,#60ff9f 36px,#00ffff 40px,#00dfff 44px,#00bfff 48px,#009fff 52px,#0080ff 56px,#0080ff 60px,#0080ff 64px,#009fff 68px,#00bfff 72px,#00dfff 76px,#00ffff 80px,#00dfff 84px,#00bfff 88px,#00bfff 92px,#00bfff 96px,#00bfff 100px,#00bfff 104px,#009fff 108px,#0080ff 112px,#0080ff 116px,#0080ff 120px,#0080ff 124px,#0080ff 128px,#0080ff 132px,#0080ff 136px,#0080ff 140px,#0080ff 144px)"></div><div style="top:4px;background:linear-gradient(90deg,#00ffff 0px,#00ffff 4px,#00ffff 8px,#60ff9f 12px,#bfff40 16px,#bfff40 20px,#bfff40 24px,#bfff40 28px,#bfff40 32px,#60ff9f 36px,#00ffff 40px,#00dfff 44px,#00bfff 48px,#009fff 52px,#0080ff 56px,#0080ff 60px,#0080ff 64px,#009fff 68px,#00bfff 72px,#00dfff 76px,#00ffff 80px,#00dfff 84px,#00bfff 88px,#00bfff 92px,#00bfff 96px,#00bfff 100px,#00bfff 104px,#009fff 108px,#0080ff 112px,#0080ff 116px,#0080ff 120px,#0080ff 124px,#0080ff 128px,#0080ff 132px,#0080ff 136px,#0080ff 140px,#0080ff 144px)"></div><div style="top:6px;background:linear-gradient(90deg,#04fffb 0px,#04fffb 4px,#04fffb 8px,#62ff9d 12px,#bfff40 16px,#bfff40 20px,#bfff40 24px,#b5ff4a 28px,#abff54 32px,#4effb1 36px,#00efff 40px,#00d1ff 44px,#00b3ff 48px,#0099ff 52px,#0080ff 56px,#0081ff 60px,#0083ff 64px,#009dff 68px,#00b7ff 72px,#00dbff 76px,#00ffff 80px,#00dfff 84px,#00bfff 88px,#00bfff 92px,#00bfff 96px,#00bfff 100px,#00bfff 104px,#009fff 108px,#0080ff 112px,#0080ff 116px,#0080ff 120px,#0080ff 124px,#0080ff 128px,#0080ff 132px,#0080ff 136px,#0080ff 140px,#0080ff 144px)"></div><div style="top:8px;background:linear-gradient(90deg,#14ffeb 0px,#14ffeb 4px,#14ffeb 8px,#69ff96 12px,#bfff40 16px,#bfff40 20px,#bfff40 24px,#8eff71 28px,#5dffa2 32px,#07fff8 36px,#00b0ff 40px,#009aff 44px,#0084ff 48px,#0082ff 52px,#0080ff 56px,#0089ff 60px,#0093ff 64px,#0096ff 68px,#0098ff 72px,#00cbff 76px,#00ffff 80px,#00dfff 84px,#00bfff 88px,#00bfff 92px,#00bfff 96px,#00bfff 100px,#00bfff 104px,#009fff 108px,#0080ff 112px,#0080ff 116px,#0080ff 120px,#0080ff 124px,#0080ff 128px,#0080ff 132px,#0080ff 136px,#0080ff 140px,#0080ff 144px)"></div><div style="top:10px;background:linear-gradient(90deg,#28ffd7 0px,#28ffd7 4px,#28ffd7 8px,#73ff8c 12px,#bfff40 16px,#bfff40 20px,#bfff40 24px,#5cffa3 28px,#00f8ff 32px,#00adff 36px,#0061ff 40px,#0055ff 44px,#0049ff 48px,#0064ff 52px,#0080ff 56px,#0093ff 60px,#00a7ff 64px,#008cff 68px,#0070ff 72px,#00b8ff 76px,#00ffff 80px,#00dfff 84px,#00bfff 88px,#00bfff 92px,#00bfff 96px,#00bfff 100px,#00bfff 104px,#009fff 108px,#0080ff 112px,#0080ff 116px,#0080ff 120px,#0080ff 124px,#0080ff 128px,#0080ff 132px,#0080ff 136px,#0080ff 140px,#0080ff 144px)"></div><div style="top:12px;background:linear-gradient(90deg,#39ffc6 0px,#39ffc6 4px,#39ffc6 8px,#7cff83 12px,#bfff40 16px,#bfff40 20px,#bfff40 24px,#31ffce 28px,#00a2ff 32px,#005fff 36px,#001cff 40px,#0018ff 44px,#0015ff 48px,#004aff 52px,#0080ff 56px,#009cff 60px,#00b8ff 64px,#0083ff 68px,#004eff 72px,#00a6ff 76px,#00ffff 80px,#00dfff 84px,#00bfff 88px,#00bfff 92px,#00bfff 96px,#00bfff 100px,#00bfff 104px,#009fff 108px,#0080ff 112px,#0080ff 116px,#0080ff 120px,#0080ff 124px,#0080ff 128px,#0080ff 132px,#0080ff 136px,#0080ff 140px,#0080ff 144px)"></div><div style="top:14px;background:linear-gradient(90deg,#3dffc2 0px,#3dffc2 4px,#3dffc2 8px,#7eff81 12px,#bfff40 16px,#bfff40 20px,#bfff40 24px,#1fffe0 28px,#007dff 32px,#003eff 36px,#0000ff 40px,#0001ff 44px,#0003ff 48px,#0042ff 52px,#0082ff 56px,#009eff 60px,#00baff 64px,#007dff 68px,#0040ff 72px,#009eff 76px,#00fcff 80px,#00deff 84px,#00bfff 88px,#00beff 92px,#00bdff 96px,#00bdff 100px,#00bdff 104px,#009fff 108px,#0082ff 112px,#0084ff 116px,#0085ff 120px,#0082ff 124px,#0080ff 128px,#0080ff 132px,#0080ff 136px,#0080ff 140px,#0080ff 144px)"></div><div style="top:16px;background:linear-gradient(90deg,#2effd1 0px,#2effd1 4px,#2effd1 8px,#77ff88 12px,#bfff40 16px,#bfff40 20px,#bfff40 24px,#17ffe8 28px,#006eff 32px,#0037ff 36px,#0000ff 40px,#0009ff 44px,#0012ff 48px,#0051ff 52px,#0091ff 56px,#0097ff 60px,#009cff 64px,#006eff 68px,#0040ff 72px,#0097ff 76px,#00edff 80px,#00d6ff 84px,#00bfff 88px,#00b6ff 92px,#00aeff 96px,#00aeff 100px,#00aeff 104px,#009fff 108px,#0091ff 112px,#009aff 116px,#00a3ff 120px,#0091ff 124px,#0080ff 128px,#0080ff 132px,#0080ff 136px,#0080ff 140px,#0080ff 144px)"></div><div style="top:18px;background:linear-gradient(90deg,#1affe5 0px,#1affe5 4px,#1affe5 8px,#6dff92 12px,#bfff40 16px,#bfff40 20px,#bfff40 24px,#0dfff2 28px,#005aff 32px,#002dff 36px,#0000ff 40px,#0013ff 44px,#0025ff 48px,#0065ff 52px,#00a5ff 56px,#008dff 60px,#0075ff 64px,#005aff 68px,#0040ff 72px,#008dff 76px,#00daff 80px,#00ccff 84px,#00bfff 88px,#00adff 92px,#009aff 96px,#009aff 100px,#009aff 104px,#009fff 108px,#00a5ff 112px,#00b7ff 116px,#00caff 120px,#00a5ff 124px,#0080ff 128px,#0080ff 132px,#0080ff 136px,#0080ff 140px,#0080ff 144px)"></div><div style="top:20px;background:linear-gradient(90deg,#09fff6 0px,#09fff6 4px,#09fff6 8px,#64ff9b 12px,#bfff40 16px,#bfff40 20px,#bfff40 24px,#04fffb 28px,#0048ff 32px,#0024ff 36px,#0000ff 40px,#001cff 44px,#0037ff 48px,#0077ff 52px,#00b7ff 56px,#0084ff 60px,#0051ff 64px,#0048ff 68px,#0040ff 72px,#0084ff 76px,#00c8ff 80px,#00c4ff 84px,#00bfff 88px,#00a4ff 92px,#0088ff 96px,#0088ff 100px,#0088ff 104px,#009fff 108px,#00b7ff 112px,#00d2ff 116px,#00eeff 120px,#00b7ff 124px,#0080ff 128px,#0080ff 132px,#0080ff 136px,#0080ff 140px,#0080ff 144px)"></div><div style="top:22px;background:linear-gradient(90deg,#00fdff 0px,#00fdff 4px,#00fdff 8px,#5dffa2 12px,#bcff43 16px,#bcff43 20px,#bcff43 24px,#05fffa 28px,#004dff 32px,#002aff 36px,#0008ff 40px,#0024ff 44px,#0040ff 48px,#007dff 52px,#00baff 56px,#007dff 60px,#0040ff 64px,#0040ff 68px,#0040ff 72px,#007fff 76px,#00beff 80px,#00beff 84px,#00beff 88px,#009fff 92px,#0081ff 96px,#0081ff 100px,#0081ff 104px,#00a3ff 108px,#00c4ff 112px,#00e2ff 116px,#00ffff 120px,#00bfff 124px,#0080ff 128px,#0080ff 132px,#0080ff 136px,#0080ff 140px,#0080ff 144px)"></div><div style="top:24px;background:linear-gradient(90deg,#00efff 0px,#00efff 4px,#00efff 8px,#48ffb7 12px,#a0ff5f 16px,#a0ff5f 20px,#a0ff5f 24px,#2fffd0 28px,#00bcff 32px,#0085ff 36px,#004eff 40px,#0047ff 44px,#0040ff 48px,#0068ff 52px,#0091ff 56px,#0068ff 60px,#0040ff 64px,#0040ff 68px,#0040ff 72px,#0078ff 76px,#00b0ff 80px,#00b0ff 84px,#00b0ff 88px,#009fff 92px,#008fff 96px,#008fff 100px,#008fff 104px,#00beff 108px,#00eeff 112px,#00f6ff 116px,#00ffff 120px,#00bfff 124px,#0080ff 128px,#0080ff 132px,#0080ff 136px,#0080ff 140px,#0080ff 144px)"></div><div style="top:26px;background:linear-gradient(90deg,#00dcff 0px,#00dcff 4px,#00dcff 8px,#2bffd4 12px,#79ff86 16px,#79ff86 20px,#79ff86 24px,#69ff96 28px,#59ffa6 32px,#04fffb 36px,#00afff 40px,#0077ff 44px,#0040ff 48px,#004bff 52px,#0056ff 56px,#004bff 60px,#0040ff 64px,#0040ff 68px,#0040ff 72px,#006eff 76px,#009cff 80px,#009cff 84px,#009cff 88px,#009fff 92px,#00a2ff 96px,#00a2ff 100px,#00a2ff 104px,#00e5ff 108px,#29ffd6 112px,#15ffea 116px,#00ffff 120px,#00bfff 124px,#0080ff 128px,#0080ff 132px,#0080ff 136px,#0080ff 140px,#0080ff 144px)"></div><div style="top:28px;background:linear-gradient(90deg,#00caff 0px,#00caff 4px,#00caff 8px,#0ffff0 12px,#54ffab 16px,#54ffab 20px,#54ffab 24px,#a0ff5f 28px,#ecff13 32px,#7cff83 36px,#0cfff3 40px,#00a5ff 44px,#0040ff 48px,#002fff 52px,#001fff 56px,#002fff 60px,#0040ff 64px,#0040ff 68px,#0040ff 72px,#0065ff 76px,#008aff 80px,#008aff 84px,#008aff 88px,#009fff 92px,#00b5ff 96px,#00b5ff 100px,#00b5ff 104px,#0bfff4 108px,#61ff9e 112px,#30ffcf 116px,#00ffff 120px,#00bfff 124px,#0080ff 128px,#0080ff 132px,#0080ff 136px,#0080ff 140px,#0080ff 144px)"></div><div style="top:30px;background:linear-gradient(90deg,#00beff 0px,#00beff 4px,#00beff 8px,#00fdff 12px,#3dffc2 16px,#3dffc2 20px,#3effc1 24px,#bdff42 28px,#ffc300 32px,#bfff40 36px,#43ffbc 40px,#00c4ff 44px,#0045ff 48px,#0023ff 52px,#0001ff 56px,#0020ff 60px,#003fff 64px,#003fff 68px,#0040ff 72px,#0060ff 76px,#0080ff 80px,#0080ff 84px,#0080ff 88px,#009fff 92px,#00bfff 96px,#00c1ff 100px,#00c2ff 104px,#22ffdd 108px,#81ff7e 112px,#40ffbf 116px,#00ffff 120px,#00c0ff 124px,#0080ff 128px,#0080ff 132px,#0080ff 136px,#0080ff 140px,#0080ff 144px)"></div><div style="top:32px;background:linear-gradient(90deg,#00a4ff 0px,#00a4ff 4px,#00a4ff 8px,#00d7ff 12px,#0afff5 16px,#11ffee 20px,#17ffe8 24px,#89ff76 28px,#fbff04 32px,#bfff40 36px,#83ff7c 40px,#18ffe7 44px,#00acff 48px,#0063ff 52px,#001bff 56px,#0027ff 60px,#0032ff 64px,#0039ff 68px,#0040ff 72px,#0060ff 76px,#0080ff 80px,#0080ff 84px,#0080ff 88px,#009fff 92px,#00bfff 96px,#00daff 100px,#00f5ff 104px,#48ffb7 108px,#9aff65 112px,#4dffb2 116px,#00ffff 120px,#00c6ff 124px,#008dff 128px,#008dff 132px,#008dff 136px,#008dff 140px,#008dff 144px)"></div><div style="top:34px;background:linear-gradient(90deg,#007eff 0px,#007eff 4px,#007eff 8px,#009dff 12px,#00bcff 16px,#00ccff 20px,#00ddff 24px,#3dffc2 28px,#9cff63 32px,#bfff40 36px,#e3ff1c 40px,#94ff6b 44px,#46ffb9 48px,#00c3ff 52px,#0041ff 56px,#0030ff 60px,#001fff 64px,#002fff 68px,#0040ff 72px,#0060ff 76px,#0080ff 80px,#0080ff 84px,#0080ff 88px,#009fff 92px,#00bfff 96px,#02fffd 100px,#43ffbc 104px,#82ff7d 108px,#c1ff3e 112px,#60ff9f 116px,#00ffff 120px,#00d0ff 124px,#00a0ff 128px,#00a0ff 132px,#00a0ff 136px,#00a0ff 140px,#00a0ff 144px)"></div><div style="top:36px;background:linear-gradient(90deg,#0058ff 0px,#0058ff 4px,#0058ff 8px,#0064ff 12px,#0071ff 16px,#008aff 20px,#00a4ff 24px,#00f0ff 28px,#3dffc2 32px,#bfff40 36px,#ffbc00 40px,#ffef00 44px,#ddff22 48px,#23ffdc 52px,#0067ff 56px,#003aff 60px,#000cff 64px,#0026ff 68px,#0040ff 72px,#0060ff 76px,#0080ff 80px,#0080ff 84px,#0080ff 88px,#009fff 92px,#00bfff 96px,#27ffd8 100px,#8eff71 104px,#bbff44 108px,#e7ff18 112px,#73ff8c 116px,#00ffff 120px,#00d9ff 124px,#00b3ff 128px,#00b3ff 132px,#00b3ff 136px,#00b3ff 140px,#00b3ff 144px)"></div><div style="top:38px;background:linear-gradient(90deg,#0040ff 0px,#0040ff 4px,#0040ff 8px,#0040ff 12px,#0040ff 16px,#0060ff 20px,#0080ff 24px,#00c0ff 28px,#01fffe 32px,#bfff40 36px,#ff8000 40px,#ffa000 44px,#ffc000 48px,#5fffa0 52px,#007fff 56px,#0040ff 60px,#0000ff 64px,#0020ff 68px,#0040ff 72px,#0060ff 76px,#0080ff 80px,#0080ff 84px,#0080ff 88px,#009fff 92px,#00bfff 96px,#40ffbf 100px,#bfff40 104px,#dfff20 108px,#ffff00 112px,#7fff80 116px,#00ffff 120px,#00dfff 124px,#00bfff 128px,#00bfff 132px,#00bfff 136px,#00bfff 140px,#00bfff 144px)"></div><div style="top:40px;background:linear-gradient(90deg,#0062ff 0px,#0062ff 4px,#0062ff 8px,#0068ff 12px,#006eff 16px,#0088ff 20px,#00a2ff 24px,#00d6ff 28px,#0cfff3 32px,#a8ff57 36px,#ffb900 40px,#ffd900 44px,#fff900 48px,#3dffc2 52px,#0074ff 56px,#0040ff 60px,#000cff 64px,#002bff 68px,#004bff 72px,#0065ff 76px,#0080ff 80px,#0085ff 84px,#008bff 88px,#00abff 92px,#00cbff 96px,#51ffae 100px,#d6ff29 104px,#f0ff0f 108px,#fff300 112px,#8bff74 116px,#0cfff3 120px,#00e5ff 124px,#00bfff 128px,#00bfff 132px,#00bfff 136px,#00bfff 140px,#00bfff 144px)"></div><div style="top:42px;background:linear-gradient(90deg,#0089ff 0px,#0089ff 4px,#0089ff 8px,#008eff 12px,#0094ff 16px,#00aeff 20px,#00c2ff 24px,#00d6ff 28px,#00f1ff 32px,#55ffaa 36px,#dfff20 40px,#ecff13 44px,#acff53 48px,#00f0ff 52px,#006eff 56px,#0066ff 60px,#0045ff 64px,#0058ff 68px,#0078ff 72px,#0085ff 76px,#008fff 80px,#008fff 84px,#009eff 88px,#00beff 92px,#00deff 96px,#6dff92 100px,#fcff03 104px,#fff100 108px,#ffe100 112px,#9eff61 116px,#1effe1 120px,#00eeff 124px,#00bfff 128px,#00bfff 132px,#00bfff 136px,#00bfff 140px,#00bfff 144px)"></div><div style="top:44px;background:linear-gradient(90deg,#007bff 0px,#007bff 4px,#0078ff 8px,#007dff 12px,#008aff 16px,#00b0ff 20px,#00c2ff 24px,#00b4ff 28px,#00b6ff 32px,#00f6ff 36px,#9aff65 40px,#e9ff16 44px,#75ff8a 48px,#00b0ff 52px,#0082ff 56px,#00b6ff 60px,#00a1ff 64px,#0097ff 68px,#00b0ff 72px,#00b6ff 76px,#00adff 80px,#0098ff 84px,#00b1ff 88px,#00d1ff 92px,#00f1ff 96px,#8aff75 100px,#ffdc00 104px,#ffd400 108px,#ffcd00 112px,#b1ff4e 116px,#32ffcd 120px,#00f8ff 124px,#00bfff 128px,#00bfff 132px,#00bfff 136px,#00bfff 140px,#00bfff 144px)"></div><div style="top:46px;background:linear-gradient(90deg,#0040ff 0px,#0040ff 4px,#0026ff 8px,#006dff 12px,#00e7ff 16px,#0efff1 20px,#15ffea 24px,#00f4ff 28px,#00daff 32px,#00ecff 36px,#58ffa7 40px,#7eff81 44px,#0bfff4 48px,#009fff 52px,#00b9ff 56px,#1affe5 60px,#14ffeb 64px,#00d9ff 68px,#00c5ff 72px,#00dfff 76px,#00ccff 80px,#009fff 84px,#00beff 88px,#00deff 92px,#00feff 96px,#9eff61 100px,#ffc100 104px,#ffc100 108px,#ffc000 112px,#beff41 116px,#3fffc0 120px,#00ffff 124px,#00bfff 128px,#00bfff 132px,#00bfff 136px,#00bfff 140px,#00bfff 144px)"></div><div style="top:48px;background:linear-gradient(90deg,#0040ff 0px,#0040ff 4px,#0020ff 8px,#0079ff 12px,#1affe5 16px,#40ffbf 20px,#40ffbf 24px,#26ffd9 28px,#0cfff3 32px,#13ffec 36px,#4cffb3 40px,#2dffd2 44px,#00baff 48px,#0080ff 52px,#00a0ff 56px,#00f4ff 60px,#00faff 64px,#00d9ff 68px,#00c5ff 72px,#00d9ff 76px,#00d0ff 80px,#00aeff 84px,#00c9ff 88px,#00f3ff 92px,#1dffe2 96px,#b3ff4c 100px,#ffb600 104px,#ffba00 108px,#ffbf00 112px,#bfff40 116px,#40ffbf 120px,#05fffa 124px,#00c9ff 128px,#00c9ff 132px,#00c9ff 136px,#00c9ff 140px,#00c9ff 144px)"></div><div style="top:50px;background:linear-gradient(90deg,#0040ff 0px,#0040ff 4px,#0020ff 8px,#0066ff 12px,#06fff9 16px,#40ffbf 20px,#40ffbf 24px,#3affc5 28px,#33ffcc 32px,#4dffb2 36px,#73ff8c 40px,#00f2ff 44px,#0045ff 48px,#001fff 52px,#003fff 56px,#006bff 60px,#0085ff 64px,#00c5ff 68px,#00d9ff 72px,#00c5ff 76px,#00d7ff 80px,#00c9ff 84px,#00dbff 88px,#18ffe7 92px,#54ffab 96px,#d7ff28 100px,#ffa300 104px,#ffb100 108px,#ffbf00 112px,#bfff40 116px,#40ffbf 120px,#0efff1 124px,#00dbff 128px,#00dbff 132px,#00dbff 136px,#00dbff 140px,#00dbff 144px)"></div><div style="top:52px;background:linear-gradient(90deg,#0033ff 0px,#0033ff 4px,#001aff 8px,#004dff 12px,#00e6ff 16px,#3affc5 20px,#40ffbf 24px,#3affc5 28px,#27ffd8 32px,#2effd1 36px,#42ffbd 40px,#00c0ff 44px,#0020ff 48px,#0006ff 52px,#0020ff 56px,#003aff 60px,#0059ff 64px,#00b3ff 68px,#00d3ff 72px,#00b9ff 76px,#00e4ff 80px,#00e7ff 84px,#00efff 88px,#3fffc0 92px,#8fff70 96px,#feff01 100px,#ff9000 104px,#ffa700 108px,#ffbf00 112px,#bfff40 116px,#40ffbf 120px,#18ffe7 124px,#00efff 128px,#00efff 132px,#00efff 136px,#00efff 140px,#00efff 144px)"></div><div style="top:54px;background:linear-gradient(90deg,#000cff 0px,#000cff 4px,#0006ff 8px,#0013ff 12px,#0098ff 16px,#26ffd9 20px,#40ffbf 24px,#26ffd9 28px,#00d8ff 32px,#0091ff 36px,#007eff 40px,#005fff 44px,#0020ff 48px,#001aff 52px,#0020ff 56px,#0026ff 60px,#0046ff 64px,#008cff 68px,#00acff 72px,#00a6ff 76px,#00f9ff 80px,#00fcff 84px,#00fdff 88px,#5cffa3 92px,#b9ff46 96px,#ffe300 100px,#ff8100 104px,#ffa000 108px,#ffbf00 112px,#bfff40 116px,#40ffbf 120px,#1fffe0 124px,#00fdff 128px,#00fdff 132px,#00fdff 136px,#00fdff 140px,#00fdff 144px)"></div><div style="top:56px;background:linear-gradient(90deg,#000cff 0px,#000cff 4px,#0006ff 8px,#0000ff 12px,#0067ff 16px,#00e7ff 20px,#02fffd 24px,#00e7ff 28px,#009aff 32px,#0053ff 36px,#0040ff 40px,#0040ff 44px,#0026ff 48px,#0026ff 52px,#0026ff 56px,#0026ff 60px,#003aff 64px,#006dff 68px,#0093ff 72px,#00a6ff 76px,#00fdff 80px,#00fbff 84px,#00ffff 88px,#64ff9b 92px,#c7ff38 96px,#ffe300 100px,#ff8f00 104px,#ffab00 108px,#ffc700 112px,#bbff44 116px,#40ffbf 120px,#20ffdf 124px,#00ffff 128px,#00ffff 132px,#00ffff 136px,#00ffff 140px,#00ffff 144px)"></div><div style="top:58px;background:linear-gradient(90deg,#0033ff 0px,#0033ff 4px,#001aff 8px,#0000ff 12px,#0019ff 16px,#0038ff 20px,#003eff 24px,#0038ff 28px,#0025ff 32px,#002cff 36px,#0040ff 40px,#0040ff 44px,#003aff 48px,#003aff 52px,#003aff 56px,#003aff 60px,#0026ff 64px,#0032ff 68px,#006cff 72px,#00b9ff 76px,#00faff 80px,#00f2ff 84px,#00ffff 88px,#6cff93 92px,#d9ff26 96px,#ffec00 100px,#ffb300 104px,#ffc600 108px,#ffd900 112px,#b2ff4d 116px,#40ffbf 120px,#20ffdf 124px,#00ffff 128px,#00ffff 132px,#00ffff 136px,#00ffff 140px,#00ffff 144px)"></div><div style="top:60px;background:linear-gradient(90deg,#0040ff 0px,#0040ff 4px,#0020ff 8px,#0000ff 12px,#0006ff 16px,#000cff 20px,#000cff 24px,#000cff 28px,#000cff 32px,#0026ff 36px,#0040ff 40px,#0040ff 44px,#0040ff 48px,#0040ff 52px,#0040ff 56px,#0040ff 60px,#0020ff 64px,#001aff 68px,#0059ff 72px,#00bfff 76px,#00fbff 80px,#00e8ff 84px,#00ffff 88px,#76ff89 92px,#edff12 96px,#fff600 100px,#ffda00 104px,#ffe400 108px,#ffed00 112px,#a9ff56 116px,#40ffbf 120px,#20ffdf 124px,#00ffff 128px,#00ffff 132px,#00ffff 136px,#00ffff 140px,#00ffff 144px)"></div><div style="top:62px;background:linear-gradient(90deg,#0040ff 0px,#0040ff 4px,#0020ff 8px,#0000ff 12px,#001aff 16px,#0033ff 20px,#0033ff 24px,#0033ff 28px,#0033ff 32px,#003aff 36px,#0040ff 40px,#0040ff 44px,#0040ff 48px,#0040ff 52px,#0040ff 56px,#0040ff 60px,#0020ff 64px,#0006ff 68px,#0046ff 72px,#00bfff 76px,#08fff7 80px,#00e1ff 84px,#00ffff 88px,#7eff81 92px,#fcff03 96px,#fffd00 100px,#fff900 104px,#fffa00 108px,#fffc00 112px,#a1ff5e 116px,#40ffbf 120px,#20ffdf 124px,#00ffff 128px,#00ffff 132px,#00ffff 136px,#00ffff 140px,#00ffff 144px)"></div><div style="top:64px;background:linear-gradient(90deg,#007eff 0px,#007eff 4px,#0051ff 8px,#0013ff 12px,#001aff 16px,#003aff 20px,#0040ff 24px,#0040ff 28px,#0040ff 32px,#0040ff 36px,#0040ff 40px,#0040ff 44px,#0040ff 48px,#0040ff 52px,#0040ff 56px,#003aff 60px,#001aff 64px,#0006ff 68px,#004cff 72px,#00ccff 76px,#12ffed 80px,#00e2ff 84px,#06fff9 88px,#83ff7c 92px,#ffff00 96px,#ffff00 100px,#ffff00 104px,#fcff03 108px,#f9ff06 112px,#99ff66 116px,#39ffc6 120px,#19ffe6 124px,#00f9ff 128px,#00f9ff 132px,#00f9ff 136px,#00f9ff 140px,#00f9ff 144px)"></div><div style="top:66px;background:linear-gradient(90deg,#42ffbd 0px,#42ffbd 4px,#00edff 8px,#004dff 12px,#0006ff 16px,#0026ff 20px,#0040ff 24px,#0040ff 28px,#0040ff 32px,#0040ff 36px,#0040ff 40px,#0040ff 44px,#0040ff 48px,#0040ff 52px,#0040ff 56px,#0026ff 60px,#0006ff 64px,#001aff 68px,#0073ff 72px,#00f3ff 76px,#21ffde 80px,#00ebff 84px,#17ffe8 88px,#8bff74 92px,#ffff00 96px,#ffff00 100px,#ffff00 104px,#f3ff0c 108px,#e8ff17 112px,#88ff77 116px,#28ffd7 120px,#08fff7 124px,#00e8ff 128px,#00e8ff 132px,#00e8ff 136px,#00e8ff 140px,#00e8ff 144px)"></div><div style="top:68px;background:linear-gradient(90deg,#80ff80 0px,#80ff80 4px,#32ffcd 8px,#008bff 12px,#0019ff 16px,#001aff 20px,#003aff 24px,#0040ff 28px,#0040ff 32px,#0040ff 36px,#0040ff 40px,#003aff 44px,#0033ff 48px,#0033ff 52px,#0033ff 56px,#001aff 60px,#0000ff 64px,#0032ff 68px,#00abff 72px,#1fffe0 76px,#2bffd4 80px,#00f5ff 84px,#2bffd4 88px,#95ff6a 92px,#ffff00 96px,#ffff00 100px,#ffff00 104px,#e9ff16 108px,#d4ff2b 112px,#74ff8b 116px,#14ffeb 120px,#00f4ff 124px,#00d4ff 128px,#00d4ff 132px,#00d4ff 136px,#00d4ff 140px,#00d4ff 144px)"></div><div style="top:70px;background:linear-gradient(90deg,#80ff80 0px,#80ff80 4px,#6dff92 8px,#15ffea 12px,#0067ff 16px,#0006ff 20px,#0026ff 24px,#0040ff 28px,#0040ff 32px,#0040ff 36px,#0040ff 40px,#0026ff 44px,#000cff 48px,#000cff 52px,#000cff 56px,#0006ff 60px,#0000ff 64px,#006dff 68px,#34ffcb 72px,#80ff7f 76px,#3bffc4 80px,#00fdff 84px,#3bffc4 88px,#9dff62 92px,#ffff00 96px,#ffff00 100px,#ffff00 104px,#e1ff1e 108px,#c4ff3b 112px,#64ff9b 116px,#04fffb 120px,#00e4ff 124px,#00c4ff 128px,#00c4ff 132px,#00c4ff 136px,#00c4ff 140px,#00c4ff 144px)"></div><div style="top:72px;background:linear-gradient(90deg,#80ff80 0px,#80ff80 4px,#80ff80 8px,#4cffb3 12px,#00a5ff 16px,#001fff 20px,#0020ff 24px,#0033ff 28px,#0033ff 32px,#003aff 36px,#0040ff 40px,#0020ff 44px,#0000ff 48px,#0000ff 52px,#0000ff 56px,#0000ff 60px,#0000ff 64px,#008cff 68px,#6cff93 72px,#99ff66 76px,#38ffc7 80px,#0cfff3 84px,#4effb1 88px,#a7ff58 92px,#ffff00 96px,#fdff02 100px,#faff05 104px,#d8ff27 108px,#b5ff4a 112px,#5bffa4 116px,#00ffff 120px,#00e2ff 124px,#00c4ff 128px,#00c4ff 132px,#00c4ff 136px,#00c4ff 140px,#00c4ff 144px)"></div><div style="top:74px;background:linear-gradient(90deg,#80ff80 0px,#80ff80 4px,#80ff80 8px,#73ff8c 12px,#1bffe4 16px,#0080ff 20px,#0020ff 24px,#000cff 28px,#000cff 32px,#0026ff 36px,#0040ff 40px,#0020ff 44px,#0000ff 48px,#0000ff 52px,#0000ff 56px,#0000ff 60px,#0000ff 64px,#00b3ff 68px,#93ff6c 72px,#86ff79 76px,#1fffe0 80px,#35ffca 84px,#7fff80 88px,#bfff40 92px,#ffff00 96px,#f4ff0b 100px,#eaff15 104px,#bfff40 108px,#95ff6a 112px,#4affb5 116px,#00ffff 120px,#00eaff 124px,#00d4ff 128px,#00d4ff 132px,#00d4ff 136px,#00d4ff 140px,#00d4ff 144px)"></div><div style="top:76px;background:linear-gradient(90deg,#73ff8c 0px,#73ff8c 4px,#79ff86 8px,#80ff80 12px,#46ffb9 16px,#00beff 20px,#0045ff 24px,#000cff 28px,#0000ff 32px,#001aff 36px,#0033ff 40px,#001aff 44px,#0000ff 48px,#0000ff 52px,#0000ff 56px,#0000ff 60px,#0006ff 64px,#00b3ff 68px,#7aff85 72px,#61ff9e 76px,#0efff1 80px,#67ff98 84px,#bbff44 88px,#ddff22 92px,#ffff00 96px,#eaff15 100px,#d6ff29 104px,#a2ff5d 108px,#6dff92 112px,#37ffc8 116px,#00ffff 120px,#00f4ff 124px,#00e8ff 128px,#00e8ff 132px,#00e8ff 136px,#00e8ff 140px,#00e8ff 144px)"></div><div style="top:78px;background:linear-gradient(90deg,#4cffb3 0px,#4cffb3 4px,#66ff99 8px,#80ff80 12px,#59ffa6 16px,#21ffde 20px,#00baff 24px,#0033ff 28px,#0000ff 32px,#0006ff 36px,#000cff 40px,#0006ff 44px,#0000ff 48px,#0000ff 52px,#0000ff 56px,#0000ff 60px,#001aff 64px,#008cff 68px,#05fffa 72px,#00feff 76px,#00e5ff 80px,#91ff6e 84px,#edff12 88px,#f6ff09 92px,#ffff00 96px,#e2ff1d 100px,#c5ff3a 104px,#88ff77 108px,#4bffb4 112px,#26ffd9 116px,#00ffff 120px,#00fcff 124px,#00f9ff 128px,#00f9ff 132px,#00f9ff 136px,#00f9ff 140px,#00f9ff 144px)"></div><div style="top:80px;background:linear-gradient(90deg,#40ffbf 0px,#40ffbf 4px,#59ffa6 8px,#73ff8c 12px,#59ffa6 16px,#40ffbf 20px,#00ebff 24px,#005fff 28px,#0019ff 32px,#0006ff 36px,#0000ff 40px,#0006ff 44px,#0013ff 48px,#0013ff 52px,#0006ff 56px,#0000ff 60px,#0020ff 64px,#0079ff 68px,#00d3ff 72px,#00dfff 76px,#00e2ff 80px,#98ff67 84px,#f4ff0b 88px,#f4ff0b 92px,#f4ff0b 96px,#d5ff2a 100px,#b5ff4a 104px,#78ff87 108px,#3cffc3 112px,#1cffe3 116px,#00fbff 120px,#00fbff 124px,#00fbff 128px,#00fbff 132px,#00fbff 136px,#00fbff 140px,#00fbff 144px)"></div><div style="top:82px;background:linear-gradient(90deg,#40ffbf 0px,#40ffbf 4px,#46ffb9 8px,#4cffb3 12px,#46ffb9 16px,#40ffbf 20px,#14ffeb 24px,#00c0ff 28px,#0067ff 32px,#001aff 36px,#0000ff 40px,#001aff 44px,#004dff 48px,#004dff 52px,#001aff 56px,#0000ff 60px,#0020ff 64px,#0066ff 68px,#00acff 72px,#00dfff 76px,#00feff 80px,#79ff86 84px,#c6ff39 88px,#c6ff39 92px,#c6ff39 96px,#a6ff59 100px,#86ff79 104px,#59ffa6 108px,#2dffd2 112px,#0dfff2 116px,#00ecff 120px,#00ecff 124px,#00ecff 128px,#00ecff 132px,#00ecff 136px,#00ecff 140px,#00ecff 144px)"></div><div style="top:84px;background:linear-gradient(90deg,#33ffcc 0px,#33ffcc 4px,#3affc5 8px,#40ffbf 12px,#40ffbf 16px,#3affc5 20px,#1affe5 24px,#00e5ff 28px,#0092ff 32px,#0039ff 36px,#0013ff 40px,#002cff 44px,#006cff 48px,#006cff 52px,#0026ff 56px,#0000ff 60px,#0020ff 64px,#0060ff 68px,#009fff 72px,#00dfff 76px,#05fffa 80px,#52ffad 84px,#8bff74 88px,#8bff74 92px,#8bff74 96px,#6bff94 100px,#4bffb4 104px,#32ffcd 108px,#19ffe6 112px,#00f8ff 116px,#00d8ff 120px,#00d8ff 124px,#00d8ff 128px,#00d8ff 132px,#00d8ff 136px,#00d8ff 140px,#00d8ff 144px)"></div><div style="top:86px;background:linear-gradient(90deg,#0dfff2 0px,#0dfff2 4px,#1dffe2 8px,#2bffd4 12px,#29ffd6 16px,#18ffe7 20px,#04fffb 24px,#00fbff 28px,#00e1ff 32px,#00b4ff 36px,#008eff 40px,#0079ff 44px,#0085ff 48px,#007aff 52px,#0039ff 56px,#0017ff 60px,#002aff 64px,#006cff 68px,#00afff 72px,#00e2ff 76px,#04fffb 80px,#2fffd0 84px,#56ffa9 88px,#56ffa9 92px,#56ffa9 96px,#36ffc9 100px,#16ffe9 104px,#0ffff0 108px,#07fff8 112px,#00e7ff 116px,#00c7ff 120px,#00c7ff 124px,#00c7ff 128px,#00c7ff 132px,#00c7ff 136px,#00c7ff 140px,#00c7ff 144px)"></div><div style="top:88px;background:linear-gradient(90deg,#00fdff 0px,#00fdff 4px,#05fffa 8px,#0bfff4 12px,#0bfff4 16px,#05fffa 20px,#00fdff 24px,#00fdff 28px,#00f7ff 32px,#00eaff 36px,#00ddff 40px,#00abff 44px,#0086ff 48px,#006dff 52px,#0042ff 56px,#0035ff 60px,#003bff 64px,#007aff 68px,#00b9ff 72px,#00dfff 76px,#00ffff 80px,#1fffe0 84px,#3dffc2 88px,#3dffc2 92px,#3dffc2 96px,#1effe1 100px,#00fdff 104px,#00fdff 108px,#00fdff 112px,#00deff 116px,#00bfff 120px,#00bfff 124px,#00bfff 128px,#00bfff 132px,#00bfff 136px,#00bfff 140px,#00bfff 144px)"></div><div style="top:90px;background:linear-gradient(90deg,#00eeff 0px,#00eeff 4px,#00eeff 8px,#00eeff 12px,#00eeff 16px,#00eeff 20px,#00eeff 24px,#00eeff 28px,#00eeff 32px,#00eeff 36px,#00eeff 40px,#00b7ff 44px,#0080ff 48px,#0068ff 52px,#0051ff 56px,#0051ff 60px,#0051ff 64px,#0088ff 68px,#00bfff 72px,#00dfff 76px,#00ffff 80px,#17ffe8 84px,#2fffd0 88px,#2fffd0 92px,#2fffd0 96px,#0ffff0 100px,#00eeff 104px,#00eeff 108px,#00eeff 112px,#00d7ff 116px,#00bfff 120px,#00bfff 124px,#00bfff 128px,#00bfff 132px,#00bfff 136px,#00bfff 140px,#00bfff 144px)"></div><div style="top:92px;background:linear-gradient(90deg,#00daff 0px,#00daff 4px,#00daff 8px,#00daff 12px,#00daff 16px,#00daff 20px,#00daff 24px,#00daff 28px,#00daff 32px,#00daff 36px,#00daff 40px,#00adff 44px,#0080ff 48px,#0072ff 52px,#0064ff 56px,#0064ff 60px,#0064ff 64px,#0092ff 68px,#00bfff 72px,#00dfff 76px,#00ffff 80px,#0efff1 84px,#1bffe4 88px,#1bffe4 92px,#1bffe4 96px,#00faff 100px,#00daff 104px,#00daff 108px,#00daff 112px,#00cdff 116px,#00bfff 120px,#00bfff 124px,#00bfff 128px,#00bfff 132px,#00bfff 136px,#00bfff 140px,#00bfff 144px)"></div><div style="top:94px;background:linear-gradient(90deg,#00c8ff 0px,#00c8ff 4px,#00c8ff 8px,#00c8ff 12px,#00c8ff 16px,#00c8ff 20px,#00c8ff 24px,#00c8ff 28px,#00c8ff 32px,#00c8ff 36px,#00c8ff 40px,#00a4ff 44px,#0080ff 48px,#007bff 52px,#0076ff 56px,#0076ff 60px,#0076ff 64px,#009bff 68px,#00bfff 72px,#00dfff 76px,#00ffff 80px,#05fffa 84px,#09fff6 88px,#09fff6 92px,#09fff6 96px,#00e8ff 100px,#00c8ff 104px,#00c8ff 108px,#00c8ff 112px,#00c4ff 116px,#00bfff 120px,#00bfff 124px,#00bfff 128px,#00bfff 132px,#00bfff 136px,#00bfff 140px,#00bfff 144px)"></div><div style="top:96px;background:linear-gradient(90deg,#00beff 0px,#00beff 4px,#00beff 8px,#00beff 12px,#00beff 16px,#00beff 20px,#00beff 24px,#00beff 28px,#00beff 32px,#00beff 36px,#00beff 40px,#009fff 44px,#0080ff 48px,#007fff 52px,#007eff 56px,#007eff 60px,#007eff 64px,#009eff 68px,#00beff 72px,#00deff 76px,#00feff 80px,#00feff 84px,#00feff 88px,#00feff 92px,#00feff 96px,#00deff 100px,#00bfff 104px,#00bfff 108px,#00bfff 112px,#00bfff 116px,#00beff 120px,#00beff 124px,#00beff 128px,#00beff 132px,#00beff 136px,#00beff 140px,#00beff 144px)"></div><div style="top:98px;background:linear-gradient(90deg,#00b0ff 0px,#00b0ff 4px,#00b0ff 8px,#00b0ff 12px,#00b0ff 16px,#00b0ff 20px,#00b0ff 24px,#00b0ff 28px,#00b0ff 32px,#00b0ff 36px,#00b0ff 40px,#0098ff 44px,#0080ff 48px,#0078ff 52px,#0071ff 56px,#0071ff 60px,#0071ff 64px,#0091ff 68px,#00b0ff 72px,#00d0ff 76px,#00f0ff 80px,#00f0ff 84px,#00f0ff 88px,#00f0ff 92px,#00f0ff 96px,#00d8ff 100px,#00bfff 104px,#00bfff 108px,#00bfff 112px,#00b8ff 116px,#00b0ff 120px,#00b0ff 124px,#00b0ff 128px,#00b0ff 132px,#00b0ff 136px,#00b0ff 140px,#00b0ff 144px)"></div><div style="top:100px;background:linear-gradient(90deg,#009dff 0px,#009dff 4px,#009dff 8px,#009dff 12px,#009dff 16px,#009dff 20px,#009dff 24px,#009dff 28px,#009dff 32px,#009dff 36px,#009dff 40px,#008eff 44px,#0080ff 48px,#006eff 52px,#005dff 56px,#005dff 60px,#005dff 64px,#007dff 68px,#009dff 72px,#00bdff 76px,#00ddff 80px,#00ddff 84px,#00ddff 88px,#00ddff 92px,#00ddff 96px,#00ceff 100px,#00bfff 104px,#00bfff 108px,#00bfff 112px,#00aeff 116px,#009dff 120px,#009dff 124px,#009dff 128px,#009dff 132px,#009dff 136px,#009dff 140px,#009dff 144px)"></div><div style="top:102px;background:linear-gradient(90deg,#008aff 0px,#008aff 4px,#008aff 8px,#008aff 12px,#008aff 16px,#008aff 20px,#008aff 24px,#008aff 28px,#008aff 32px,#008aff 36px,#008aff 40px,#0085ff 44px,#0080ff 48px,#0065ff 52px,#004bff 56px,#004bff 60px,#004bff 64px,#006bff 68px,#008aff 72px,#00aaff 76px,#00caff 80px,#00caff 84px,#00caff 88px,#00caff 92px,#00caff 96px,#00c5ff 100px,#00bfff 104px,#00bfff 108px,#00bfff 112px,#00a5ff 116px,#008aff 120px,#008aff 124px,#008aff 128px,#008aff 132px,#008aff 136px,#008aff 140px,#008aff 144px)"></div><div style="top:104px;background:linear-gradient(90deg,#0080ff 0px,#0080ff 4px,#0080ff 8px,#0080ff 12px,#0080ff 16px,#0080ff 20px,#0080ff 24px,#0080ff 28px,#0080ff 32px,#0080ff 36px,#0080ff 40px,#0080ff 44px,#0080ff 48px,#0060ff 52px,#0040ff 56px,#0040ff 60px,#0040ff 64px,#0060ff 68px,#0080ff 72px,#009fff 76px,#00bfff 80px,#00bfff 84px,#00bfff 88px,#00bfff 92px,#00bfff 96px,#00bfff 100px,#00bfff 104px,#00bfff 108px,#00bfff 112px,#009fff 116px,#0080ff 120px,#0080ff 124px,#0080ff 128px,#0080ff 132px,#0080ff 136px,#0080ff 140px,#0080ff 144px)"></div><div style="top:106px;background:linear-gradient(90deg,#0080ff 0px,#0080ff 4px,#0080ff 8px,#0080ff 12px,#0080ff 16px,#0080ff 20px,#0080ff 24px,#0080ff 28px,#0080ff 32px,#0080ff 36px,#0080ff 40px,#0080ff 44px,#0080ff 48px,#0060ff 52px,#0040ff 56px,#0040ff 60px,#0040ff 64px,#0060ff 68px,#0080ff 72px,#009fff 76px,#00bfff 80px,#00bfff 84px,#00bfff 88px,#00bfff 92px,#00bfff 96px,#00bfff 100px,#00bfff 104px,#00bfff 108px,#00bfff 112px,#009fff 116px,#0080ff 120px,#0080ff 124px,#0080ff 128px,#0080ff 132px,#0080ff 136px,#0080ff 140px,#0080ff 144px)"></div><div style="top:108px;background:linear-gradient(90deg,#0080ff 0px,#0080ff 4px,#0080ff 8px,#0080ff 12px,#0080ff 16px,#0080ff 20px,#0080ff 24px,#0080ff 28px,#0080ff 32px,#0080ff 36px,#0080ff 40px,#0080ff 44px,#0080ff 48px,#0060ff 52px,#0040ff 56px,#0040ff 60px,#0040ff 64px,#0060ff 68px,#0080ff 72px,#009fff 76px,#00bfff 80px,#00bfff 84px,#00bfff 88px,#00bfff 92px,#00bfff 96px,#00bfff 100px,#00bfff 104px,#00bfff 108px,#00bfff 112px,#009fff 116px,#0080ff 120px,#0080ff 124px,#0080ff 128px,#0080ff 132px,#0080ff 136px,#0080ff 140px,#0080ff 144px)"></div><div style="top:110px;background:linear-gradient(90deg,#0080ff 0px,#0080ff 4px,#0080ff 8px,#0080ff 12px,#0080ff 16px,#0080ff 20px,#0080ff 24px,#0080ff 28px,#0080ff 32px,#0080ff 36px,#0080ff 40px,#0080ff 44px,#0080ff 48px,#0060ff 52px,#0040ff 56px,#0040ff 60px,#0040ff 64px,#0060ff 68px,#0080ff 72px,#009fff 76px,#00bfff 80px,#00bfff 84px,#00bfff 88px,#00bfff 92px,#00bfff 96px,#00bfff 100px,#00bfff 104px,#00bfff 108px,#00bfff 112px,#009fff 116px,#0080ff 120px,#0080ff 124px,#0080ff 128px,#0080ff 132px,#0080ff 136px,#0080ff 140px,#0080ff 144px)"></div></div><svg class="ov" width="136" height="107" viewBox="0 0 136 107"><polyline points="109.1,6.7 114.7,8.1 117.8,11.5 119.9,17.5 124.1,20.4 127.2,25.4 130.3,25.7 135.1,23.6 133.8,27.3 133.0,30.0 131.5,33.6 129.0,33.0 127.4,34.5 127.8,39.4 126.3,41.4 125.5,39.9 124.3,41.4 122.8,42.5 121.1,44.1 118.9,43.3 116.8,45.5 113.4,48.0 110.5,49.1 107.6,50.9 106.8,49.3 108.9,46.9 106.4,45.8 104.3,48.0 102.8,49.6 100.1,50.1 99.5,52.0 101.8,54.4 102.2,55.4 104.9,54.1 107.4,54.6 109.5,56.0 107.4,56.5 104.9,58.5 102.6,61.1 104.9,62.9 106.2,67.1 108.0,69.1 108.3,71.3 107.4,72.2 108.7,73.7 107.6,77.0 106.0,78.6 104.9,80.5 103.5,82.4 102.2,84.5 100.6,86.3 98.7,88.1 97.0,89.7 94.9,90.1 92.4,91.0 90.8,91.5 88.3,92.4 85.6,93.1 84.3,94.4 83.9,95.7 83.3,94.2 82.7,92.8 80.6,92.6 79.4,93.1 77.3,91.7 76.6,90.1 74.8,89.7 73.7,89.0 72.1,90.1 70.8,90.8 69.4,90.4 67.7,90.8 66.5,91.0 66.0,93.5 64.4,93.5 63.1,93.1 61.7,91.7 61.3,89.7 60.2,88.1 58.6,87.2 57.7,87.7 58.1,85.4 59.8,83.1 60.0,79.4 59.4,77.7 57.3,77.5 55.7,75.8 54.4,74.9 52.3,75.6 50.2,76.3 47.3,78.6 45.3,78.6 43.0,78.2 40.9,77.9 39.6,79.8 38.0,78.4 35.1,77.9 32.6,77.2 29.9,76.0 27.0,73.9 23.8,72.9 21.3,71.7 19.1,70.3 18.6,68.6 18.0,67.1 19.9,66.1 18.6,62.9 16.8,60.1 13.9,59.1 11.8,56.5 9.9,55.7 10.5,52.3 8.5,51.7 7.6,49.3 8.7,48.0 11.8,46.3 13.9,46.9 16.6,45.2 19.1,43.0 21.6,42.2 22.0,39.7 22.8,39.1 22.0,36.5 21.3,33.9 24.7,33.0 26.5,32.7 25.9,30.0 27.4,27.3 31.1,28.2 32.8,27.6 33.0,23.6 35.3,22.0 36.3,21.0 37.8,22.9 40.7,24.8 42.6,25.7 44.0,29.1 43.6,33.0 47.1,33.9 50.9,35.3 53.2,35.9 55.2,40.2 59.6,40.8 63.8,40.8 66.5,41.1 70.0,42.8 73.1,43.6 76.9,41.6 82.1,41.1 85.0,39.4 87.5,37.7 86.4,35.6 87.5,33.6 91.0,34.5 95.4,32.7 97.4,29.7 100.8,28.8 103.7,29.1 104.1,27.3 101.2,25.1 99.7,24.8 98.7,25.7 95.2,25.1 96.0,22.3 99.9,20.1 102.6,18.5 102.8,17.2 104.5,12.9 106.8,10.2 109.1,6.7" class="bd"/><polyline points="106.4,84.9 108.3,85.1 107.6,87.4 106.2,91.9 104.7,90.6 104.5,88.6 106.4,84.9" class="bd"/><polyline points="83.9,96.2 85.6,97.1 84.5,99.3 82.7,100.4 80.8,99.7 80.6,97.9 82.1,96.4 83.9,96.2" class="bd"/><polyline points="16.8,60.1 21.1,59.6 25.3,59.3 29.5,58.5 33.6,58.3 37.8,58.5 43.0,59.1" class="pv"/><polyline points="43.0,59.1 45.0,55.2 49.2,51.7 51.9,50.7 52.3,46.6 55.2,40.2" class="pv"/><polyline points="43.0,59.1 46.1,62.4 49.2,64.9 52.3,66.1 56.5,66.6 58.6,66.1 60.0,68.1 60.4,72.2 60.0,75.8 59.4,77.7" class="pv"/><polyline points="51.9,50.7 57.5,50.7 61.7,52.5 65.8,54.6 69.0,56.7 67.9,59.8 65.8,62.9 65.8,64.9" class="pv"/><polyline points="58.6,66.1 60.6,65.4 64.8,65.1 65.8,64.9 67.9,64.1 70.0,63.6 71.7,65.6 74.2,66.8" class="pv"/><polyline points="56.9,40.2 59.6,45.2 62.7,46.6 67.9,49.3 71.0,50.1 71.7,54.6 73.1,59.8 76.2,60.6 78.5,54.6 77.1,49.9 75.2,50.7 72.7,49.3" class="pv"/><polyline points="76.2,60.6 76.4,62.4 74.2,65.6 74.2,66.8" class="pv"/><polyline points="78.5,53.9 80.8,53.9 84.5,50.1 86.0,49.1 88.3,47.4 91.4,46.6 92.9,43.9 96.0,42.5 98.9,41.1 102.6,41.6 105.3,41.1 108.5,41.1 109.5,38.5 108.5,35.3 111.0,33.0 112.6,30.9 111.6,26.0 109.5,23.2 108.5,18.5 111.6,15.2 115.7,9.8" class="pv"/><polyline points="112.6,30.9 116.8,33.3 120.9,35.3 125.1,36.8 127.6,36.5" class="pv"/><polyline points="109.5,38.5 111.6,39.1 114.7,41.9 116.8,45.2" class="pv"/><polyline points="102.8,49.6 103.9,46.6 103.3,43.9 102.6,41.6" class="pv"/><polyline points="84.5,62.1 84.3,56.5 85.8,52.0 86.0,49.1" class="pv"/><polyline points="91.4,46.6 91.8,47.4 91.0,51.2 91.4,54.9 91.2,57.8 89.3,60.6 86.6,61.6 84.5,62.1" class="pv"/><polyline points="74.2,66.8 77.3,68.1 80.4,68.1 82.5,69.1 83.9,67.1 85.6,65.4 84.5,62.1" class="pv"/><polyline points="89.3,60.6 91.8,58.0 94.9,58.3 96.2,62.1 94.9,63.6 96.0,64.9 94.5,67.8 92.9,69.1 89.7,69.3 86.6,67.1 85.6,65.4" class="pv"/><polyline points="94.9,58.3 94.7,56.5 96.6,54.4 99.5,52.5" class="pv"/><polyline points="96.2,62.1 99.1,62.1 101.4,62.1 102.6,61.1" class="pv"/><polyline points="96.2,62.1 99.1,63.1 101.2,64.9 100.8,67.3 102.6,68.6 103.1,70.5 105.3,71.3 107.0,71.7" class="pv"/><polyline points="103.1,70.5 101.2,73.4 100.6,75.3 101.2,77.7 103.3,79.1 104.9,80.3" class="pv"/><polyline points="93.7,67.8 96.0,70.5 97.0,73.9 99.1,74.6 100.6,75.3" class="pv"/><polyline points="97.0,73.9 92.9,73.9 91.8,74.6 92.2,77.0 91.4,79.4 91.8,82.1 91.6,84.0 92.2,85.6 94.3,86.1 96.0,85.4 97.0,83.3 98.5,81.5 100.1,79.4 101.2,77.7" class="pv"/><polyline points="96.0,85.4 98.5,88.3" class="pv"/><polyline points="82.5,74.6 86.6,74.1 89.5,74.6 91.8,74.6" class="pv"/><polyline points="82.5,74.6 84.1,72.2 83.5,69.8 82.7,69.1" class="pv"/><polyline points="82.5,74.6 81.4,77.0 82.1,80.5 82.5,82.8 84.5,83.1 86.2,84.7 88.7,85.1 90.8,84.5 91.6,84.0" class="pv"/><polyline points="86.2,84.7 86.6,87.4 85.6,90.1 83.1,92.8" class="pv"/><polyline points="82.5,82.8 80.0,84.0 77.3,85.6 74.4,85.4 73.1,87.0 74.2,89.0" class="pv"/><polyline points="73.1,86.3 72.1,84.0 71.7,81.5 73.1,79.1 75.2,77.5 77.7,76.3 79.8,75.8 81.4,77.0" class="pv"/><polyline points="59.4,77.7 61.9,76.3 63.3,77.7 65.2,80.3 66.9,82.1 69.0,81.0 70.0,78.2 72.1,78.2 72.1,80.5" class="pv"/><polyline points="79.8,75.8 76.2,77.0 75.2,74.6 75.8,72.2 78.3,69.8 80.4,68.1" class="pv"/><rect x="0.5" y="0.5" width="135" height="106" class="fw"/><path d="M0.3 0.5H10.7M0.3 106.5H10.7M21.1 0.5H31.5M21.1 106.5H31.5M41.9 0.5H52.3M41.9 106.5H52.3M62.7 0.5H73.1M62.7 106.5H73.1M83.5 0.5H93.9M83.5 106.5H93.9M104.3 0.5H114.7M104.3 106.5H114.7M125.1 0.5H135.5M125.1 106.5H135.5M0.5 0.0V18.5M135.5 0.0V18.5M0.5 33.9V48.0M135.5 33.9V48.0M0.5 61.1V73.4M135.5 61.1V73.4M0.5 85.1V96.4M135.5 85.1V96.4" class="fb"/></svg></div>
<div class="cb" style="left:171.5px;top:148px;background:linear-gradient(180deg,#800000 0.00%,#9f0000 3.12%,#bf0000 6.25%,#df0000 9.38%,#ff0000 12.50%,#ff2000 15.62%,#ff4000 18.75%,#ff6000 21.88%,#ff8000 25.00%,#ff9f00 28.12%,#ffbf00 31.25%,#ffdf00 34.38%,#ffff00 37.50%,#dfff20 40.62%,#bfff40 43.75%,#9fff60 46.88%,#80ff80 50.00%,#60ff9f 53.12%,#40ffbf 56.25%,#20ffdf 59.38%,#00ffff 62.50%,#00dfff 65.62%,#00bfff 68.75%,#009fff 71.88%,#0080ff 75.00%,#0060ff 78.12%,#0040ff 81.25%,#0020ff 84.38%,#0000ff 87.50%,#0000df 90.62%,#0000bf 93.75%,#00009f 96.88%,#000080 100.00%)"></div>
<div class="t tk" style="left:163.8px;top:140.4px;width:20px;text-align:center">hPa</div>
<div class="t tk" style="left:178.6px;top:159.0px;width:7.0px;text-align:center">15</div>
<div class="t tk" style="left:178.6px;top:192.1px;width:7.0px;text-align:center">10</div>
<div class="t tk" style="left:178.6px;top:225.0px;width:7.0px;text-align:center">5</div>
<div class="t tk" style="left:15.5px;top:163.0px;width:14px;text-align:right">50°N</div>
<div class="t tk" style="left:15.5px;top:191.8px;width:14px;text-align:right">40°N</div>
<div class="t tk" style="left:15.5px;top:217.8px;width:14px;text-align:right">30°N</div>
<div class="t tk" style="left:15.5px;top:240.9px;width:14px;text-align:right">20°N</div>
<div class="t tk" style="left:17.4px;top:256.8px;width:30px;text-align:center">70°E</div>
<div class="t tk" style="left:38.2px;top:256.8px;width:30px;text-align:center">80°E</div>
<div class="t tk" style="left:59.0px;top:256.8px;width:30px;text-align:center">90°E</div>
<div class="t tk" style="left:79.8px;top:256.8px;width:30px;text-align:center">100°E</div>
<div class="t tk" style="left:100.6px;top:256.8px;width:30px;text-align:center">110°E</div>
<div class="t tk" style="left:121.3px;top:256.8px;width:30px;text-align:center">120°E</div>
<div class="t tk" style="left:142.2px;top:256.8px;width:30px;text-align:center">130°E</div>
<div class="t pl" style="left:35.5px;top:149.5px">(d)</div>
<div class="pn" style="left:212px;top:148px"><div class="w"><div style="top:0px;background:linear-gradient(90deg,#ff8000 0px,#ff8000 4px,#ff8000 8px,#ff8000 12px,#ff8000 16px,#ff8000 20px,#ff8000 24px,#ff9f00 28px,#ffbf00 32px,#ffbf00 36px,#ffbf00 40px,#ff9f00 44px,#ff8000 48px,#ff6000 52px,#ff4000 56px,#ff4000 60px,#ff4000 64px,#ff6000 68px,#ff8000 72px,#ff8000 76px,#ff8000 80px,#ff6000 84px,#ff4000 88px,#ff2000 92px,#ff0000 96px,#ff0000 100px,#ff0000 104px,#ff0000 108px,#ff0000 112px,#ff0000 116px,#ff0000 120px,#df0000 124px,#bf0000 128px,#bf0000 132px,#bf0000 136px,#bf0000 140px,#bf0000 144px)"></div><div style="top:2px;background:linear-gradient(90deg,#ff8000 0px,#ff8000 4px,#ff8000 8px,#ff8000 12px,#ff8000 16px,#ff8000 20px,#ff8000 24px,#ff9f00 28px,#ffbf00 32px,#ffbf00 36px,#ffbf00 40px,#ff9f00 44px,#ff8000 48px,#ff6000 52px,#ff4000 56px,#ff4000 60px,#ff4000 64px,#ff6000 68px,#ff8000 72px,#ff8000 76px,#ff8000 80px,#ff6000 84px,#ff4000 88px,#ff2000 92px,#ff0000 96px,#ff0000 100px,#ff0000 104px,#ff0000 108px,#ff0000 112px,#ff0000 116px,#ff0000 120px,#df0000 124px,#bf0000 128px,#bf0000 132px,#bf0000 136px,#bf0000 140px,#bf0000 144px)"></div><div style="top:4px;background:linear-gradient(90deg,#ff8000 0px,#ff8000 4px,#ff8000 8px,#ff8000 12px,#ff8000 16px,#ff8000 20px,#ff8000 24px,#ff9f00 28px,#ffbf00 32px,#ffbf00 36px,#ffbf00 40px,#ff9f00 44px,#ff8000 48px,#ff6000 52px,#ff4000 56px,#ff4000 60px,#ff4000 64px,#ff6000 68px,#ff8000 72px,#ff8000 76px,#ff8000 80px,#ff6000 84px,#ff4000 88px,#ff2000 92px,#ff0000 96px,#ff0000 100px,#ff0000 104px,#ff0000 108px,#ff0000 112px,#ff0000 116px,#ff0000 120px,#df0000 124px,#bf0000 128px,#bf0000 132px,#bf0000 136px,#bf0000 140px,#bf0000 144px)"></div><div style="top:6px;background:linear-gradient(90deg,#ff8000 0px,#ff8000 4px,#ff8000 8px,#ff8000 12px,#ff8000 16px,#ff8100 20px,#ff8300 24px,#ffa100 28px,#ffbf00 32px,#ffbd00 36px,#ffbb00 40px,#ff9b00 44px,#ff7c00 48px,#ff5c00 52px,#ff3c00 56px,#ff3e00 60px,#ff4000 64px,#ff6000 68px,#ff8000 72px,#ff7e00 76px,#ff7c00 80px,#ff5c00 84px,#ff3c00 88px,#ff1e00 92px,#ff0000 96px,#ff0000 100px,#ff0000 104px,#ff0000 108px,#ff0000 112px,#fd0000 116px,#fb0000 120px,#dd0000 124px,#bf0000 128px,#c10000 132px,#c30000 136px,#c30000 140px,#c30000 144px)"></div><div style="top:8px;background:linear-gradient(90deg,#ff8000 0px,#ff8000 4px,#ff8000 8px,#ff8000 12px,#ff8000 16px,#ff8900 20px,#ff9300 24px,#ffa900 28px,#ffbf00 32px,#ffb500 36px,#ffac00 40px,#ff8c00 44px,#ff6c00 48px,#ff4c00 52px,#ff2c00 56px,#ff3600 60px,#ff4000 64px,#ff6000 68px,#ff8000 72px,#ff7600 76px,#ff6c00 80px,#ff4c00 84px,#ff2c00 88px,#ff1600 92px,#ff0000 96px,#ff0000 100px,#ff0000 104px,#ff0000 108px,#ff0000 112px,#f50000 116px,#eb0000 120px,#d50000 124px,#bf0000 128px,#c90000 132px,#d30000 136px,#d30000 140px,#d30000 144px)"></div><div style="top:10px;background:linear-gradient(90deg,#ff8000 0px,#ff8000 4px,#ff8000 8px,#ff8000 12px,#ff8000 16px,#ff9300 20px,#ffa700 24px,#ffb300 28px,#ffbf00 32px,#ffab00 36px,#ff9800 40px,#ff7800 44px,#ff5800 48px,#ff3800 52px,#ff1800 56px,#ff2c00 60px,#ff4000 64px,#ff6000 68px,#ff8000 72px,#ff6c00 76px,#ff5800 80px,#ff3800 84px,#ff1800 88px,#ff0c00 92px,#ff0000 96px,#ff0000 100px,#ff0000 104px,#ff0000 108px,#ff0000 112px,#eb0000 116px,#d70000 120px,#cb0000 124px,#bf0000 128px,#d30000 132px,#e70000 136px,#e70000 140px,#e70000 144px)"></div><div style="top:12px;background:linear-gradient(90deg,#ff8000 0px,#ff8000 4px,#ff8000 8px,#ff8000 12px,#ff8000 16px,#ff9c00 20px,#ffb800 24px,#ffbc00 28px,#ffbf00 32px,#ffa300 36px,#ff8600 40px,#ff6700 44px,#ff4700 48px,#ff2700 52px,#ff0700 56px,#ff2300 60px,#ff4000 64px,#ff6000 68px,#ff8000 72px,#ff6300 76px,#ff4700 80px,#ff2700 84px,#ff0700 88px,#ff0300 92px,#ff0000 96px,#ff0000 100px,#ff0000 104px,#ff0000 108px,#ff0000 112px,#e30000 116px,#c60000 120px,#c30000 124px,#bf0000 128px,#dc0000 132px,#f80000 136px,#f80000 140px,#f80000 144px)"></div><div style="top:14px;background:linear-gradient(90deg,#ff8000 0px,#ff8000 4px,#ff8000 8px,#ff8000 12px,#ff8000 16px,#ff9f00 20px,#ffbf00 24px,#ffc100 28px,#ffc200 32px,#ffa200 36px,#ff8200 40px,#ff6000 44px,#ff3d00 48px,#ff2000 52px,#ff0300 56px,#ff2300 60px,#ff4200 64px,#ff6100 68px,#ff8000 72px,#ff6000 76px,#ff4000 80px,#ff2100 84px,#ff0300 88px,#ff0300 92px,#ff0300 96px,#ff0100 100px,#ff0000 104px,#fe0000 108px,#fc0000 112px,#de0000 116px,#bf0000 120px,#bf0000 124px,#bf0000 128px,#de0000 132px,#fc0000 136px,#fc0000 140px,#fc0000 144px)"></div><div style="top:16px;background:linear-gradient(90deg,#ff8000 0px,#ff8000 4px,#ff8000 8px,#ff8000 12px,#ff8000 16px,#ff9f00 20px,#ffbf00 24px,#ffc800 28px,#ffd100 32px,#ffb100 36px,#ff9100 40px,#ff6000 44px,#ff2e00 48px,#ff2000 52px,#ff1200 56px,#ff3100 60px,#ff5100 64px,#ff6800 68px,#ff8000 72px,#ff6000 76px,#ff4000 80px,#ff2900 84px,#ff1200 88px,#ff1200 92px,#ff1200 96px,#ff0900 100px,#ff0000 104px,#f60000 108px,#ed0000 112px,#d60000 116px,#bf0000 120px,#bf0000 124px,#bf0000 128px,#d60000 132px,#ed0000 136px,#ed0000 140px,#ed0000 144px)"></div><div style="top:18px;background:linear-gradient(90deg,#ff8000 0px,#ff8000 4px,#ff8000 8px,#ff8000 12px,#ff8000 16px,#ff9f00 20px,#ffbf00 24px,#ffd200 28px,#ffe500 32px,#ffc500 36px,#ffa500 40px,#ff6000 44px,#ff1a00 48px,#ff2000 52px,#ff2500 56px,#ff4500 60px,#ff6500 64px,#ff7200 68px,#ff8000 72px,#ff6000 76px,#ff4000 80px,#ff3300 84px,#ff2500 88px,#ff2500 92px,#ff2500 96px,#ff1300 100px,#ff0000 104px,#ec0000 108px,#da0000 112px,#cc0000 116px,#bf0000 120px,#bf0000 124px,#bf0000 128px,#cc0000 132px,#da0000 136px,#da0000 140px,#da0000 144px)"></div><div style="top:20px;background:linear-gradient(90deg,#ff8000 0px,#ff8000 4px,#ff8000 8px,#ff8000 12px,#ff8000 16px,#ff9f00 20px,#ffbf00 24px,#ffdb00 28px,#fff600 32px,#ffd700 36px,#ffb700 40px,#ff6000 44px,#ff0900 48px,#ff2000 52px,#ff3700 56px,#ff5700 60px,#ff7700 64px,#ff7b00 68px,#ff8000 72px,#ff6000 76px,#ff4000 80px,#ff3b00 84px,#ff3700 88px,#ff3700 92px,#ff3700 96px,#ff1c00 100px,#ff0000 104px,#e30000 108px,#c80000 112px,#c40000 116px,#bf0000 120px,#bf0000 124px,#bf0000 128px,#c40000 132px,#c80000 136px,#c80000 140px,#c80000 144px)"></div><div style="top:22px;background:linear-gradient(90deg,#ff8000 0px,#ff8000 4px,#ff8000 8px,#ff8000 12px,#ff8100 16px,#ff9f00 20px,#ffbe00 24px,#ffdb00 28px,#fff900 32px,#ffda00 36px,#ffbc00 40px,#ff6000 44px,#ff0300 48px,#ff2200 52px,#ff4100 56px,#ff6000 60px,#ff8000 64px,#ff8000 68px,#ff8000 72px,#ff6000 76px,#ff4000 80px,#ff4000 84px,#ff4000 88px,#ff4000 92px,#ff4000 96px,#ff2000 100px,#ff0000 104px,#df0000 108px,#bf0000 112px,#bf0000 116px,#bf0000 120px,#bf0000 124px,#bf0000 128px,#bf0000 132px,#bf0000 136px,#bf0000 140px,#bf0000 144px)"></div><div style="top:24px;background:linear-gradient(90deg,#ff8000 0px,#ff8000 4px,#ff8000 8px,#ff8700 12px,#ff8f00 16px,#ff9f00 20px,#ffb000 24px,#ffb800 28px,#ffc100 32px,#ffb100 36px,#ffa000 40px,#ff6000 44px,#ff1f00 48px,#ff3700 52px,#ff4f00 56px,#ff6700 60px,#ff8000 64px,#ff8000 68px,#ff8000 72px,#ff6000 76px,#ff4000 80px,#ff4000 84px,#ff4000 88px,#ff4000 92px,#ff4000 96px,#ff2000 100px,#ff0000 104px,#df0000 108px,#bf0000 112px,#bf0000 116px,#bf0000 120px,#bf0000 124px,#bf0000 128px,#bf0000 132px,#bf0000 136px,#bf0000 140px,#bf0000 144px)"></div><div style="top:26px;background:linear-gradient(90deg,#ff8000 0px,#ff8000 4px,#ff8000 8px,#ff9100 12px,#ffa200 16px,#ff9f00 20px,#ff9c00 24px,#ff8800 28px,#ff7300 32px,#ff7600 36px,#ff7900 40px,#ff6000 44px,#ff4600 48px,#ff5400 52px,#ff6300 56px,#ff7100 60px,#ff8000 64px,#ff8000 68px,#ff8000 72px,#ff6000 76px,#ff4000 80px,#ff4000 84px,#ff4000 88px,#ff4000 92px,#ff4000 96px,#ff2000 100px,#ff0000 104px,#df0000 108px,#bf0000 112px,#bf0000 116px,#bf0000 120px,#bf0000 124px,#bf0000 128px,#bf0000 132px,#bf0000 136px,#bf0000 140px,#bf0000 144px)"></div><div style="top:28px;background:linear-gradient(90deg,#ff8000 0px,#ff8000 4px,#ff8000 8px,#ff9a00 12px,#ffb500 16px,#ff9f00 20px,#ff8a00 24px,#ff5a00 28px,#ff2900 32px,#ff3f00 36px,#ff5400 40px,#ff6000 44px,#ff6b00 48px,#ff7000 52px,#ff7500 56px,#ff7a00 60px,#ff8000 64px,#ff8000 68px,#ff8000 72px,#ff6000 76px,#ff4000 80px,#ff4000 84px,#ff4000 88px,#ff4000 92px,#ff4000 96px,#ff2000 100px,#ff0000 104px,#df0000 108px,#bf0000 112px,#bf0000 116px,#bf0000 120px,#bf0000 124px,#bf0000 128px,#bf0000 132px,#bf0000 136px,#bf0000 140px,#bf0000 144px)"></div><div style="top:30px;background:linear-gradient(90deg,#ff8300 0px,#ff8300 4px,#ff8300 8px,#ffa200 12px,#ffc200 16px,#ffa200 20px,#ff8100 24px,#ff4100 28px,#ff0100 32px,#ff2100 36px,#ff4000 40px,#ff6000 44px,#ff8000 48px,#ff8000 52px,#ff8000 56px,#ff8000 60px,#ff8000 64px,#ff8000 68px,#ff8000 72px,#ff6000 76px,#ff4000 80px,#ff4000 84px,#ff4000 88px,#ff4000 92px,#ff4000 96px,#ff2100 100px,#ff0100 104px,#e00000 108px,#c10000 112px,#c10000 116px,#c10000 120px,#c10000 124px,#c10000 128px,#c10000 132px,#c10000 136px,#c10000 140px,#c10000 144px)"></div><div style="top:32px;background:linear-gradient(90deg,#ffc300 0px,#ffc300 4px,#ffc300 8px,#ffdc00 12px,#fff500 16px,#ffcf00 20px,#ffa800 24px,#ff5b00 28px,#ff0d00 32px,#ff2d00 36px,#ff4d00 40px,#ff6d00 44px,#ff8d00 48px,#ff8d00 52px,#ff8d00 56px,#ff8600 60px,#ff8000 64px,#ff8000 68px,#ff8000 72px,#ff6600 76px,#ff4d00 80px,#ff4d00 84px,#ff4d00 88px,#ff4d00 92px,#ff4d00 96px,#ff3400 100px,#ff1b00 104px,#fa0000 108px,#da0000 112px,#da0000 116px,#da0000 120px,#da0000 124px,#da0000 128px,#da0000 132px,#da0000 136px,#da0000 140px,#da0000 144px)"></div><div style="top:34px;background:linear-gradient(90deg,#dbff24 0px,#dbff24 4px,#dbff24 8px,#ccff33 12px,#bcff43 16px,#ecff13 20px,#ffe100 24px,#ff8100 28px,#ff2100 32px,#ff4100 36px,#ff6000 40px,#ff8000 44px,#ffa000 48px,#ffa000 52px,#ffa000 56px,#ff9000 60px,#ff8000 64px,#ff8000 68px,#ff8000 72px,#ff7000 76px,#ff6000 80px,#ff6000 84px,#ff6000 88px,#ff6000 92px,#ff6000 96px,#ff5100 100px,#ff4100 104px,#ff2100 108px,#ff0200 112px,#ff0200 116px,#ff0200 120px,#ff0200 124px,#ff0200 128px,#ff0200 132px,#ff0200 136px,#ff0200 140px,#ff0200 144px)"></div><div style="top:36px;background:linear-gradient(90deg,#7dff82 0px,#7dff82 4px,#7dff82 8px,#77ff88 12px,#71ff8e 16px,#aaff55 20px,#e4ff1b 24px,#ffa700 28px,#ff3400 32px,#ff5300 36px,#ff7300 40px,#ff9300 44px,#ffb300 48px,#ffb300 52px,#ffb300 56px,#ff9900 60px,#ff8000 64px,#ff8000 68px,#ff8000 72px,#ff7900 76px,#ff7300 80px,#ff7300 84px,#ff7300 88px,#ff7300 92px,#ff7300 96px,#ff6d00 100px,#ff6700 104px,#ff4700 108px,#ff2700 112px,#ff2700 116px,#ff2700 120px,#ff2700 124px,#ff2700 128px,#ff2700 132px,#ff2700 136px,#ff2700 140px,#ff2700 144px)"></div><div style="top:38px;background:linear-gradient(90deg,#40ffbf 0px,#40ffbf 4px,#40ffbf 8px,#40ffbf 12px,#40ffbf 16px,#80ff7f 20px,#c0ff3f 24px,#ffbf00 28px,#ff4000 32px,#ff6000 36px,#ff7f00 40px,#ff9f00 44px,#ffbf00 48px,#ffbf00 52px,#ffbf00 56px,#ff9f00 60px,#ff8000 64px,#ff8000 68px,#ff8000 72px,#ff7f00 76px,#ff7f00 80px,#ff7f00 84px,#ff7f00 88px,#ff7f00 92px,#ff7f00 96px,#ff7f00 100px,#ff7f00 104px,#ff5f00 108px,#ff4000 112px,#ff4000 116px,#ff4000 120px,#ff4000 124px,#ff4000 128px,#ff4000 132px,#ff4000 136px,#ff4000 140px,#ff4000 144px)"></div><div style="top:40px;background:linear-gradient(90deg,#34ffcb 0px,#34ffcb 4px,#34ffcb 8px,#3affc5 12px,#40ffbf 16px,#8bff74 20px,#d6ff29 24px,#ffbf00 28px,#ff5700 32px,#ff7100 36px,#ff8b00 40px,#ffa500 44px,#ffbf00 48px,#ffbf00 52px,#ffbf00 56px,#ffa500 60px,#ff8b00 64px,#ff8b00 68px,#ff8b00 72px,#ff8b00 76px,#ff8b00 80px,#ff8b00 84px,#ff8b00 88px,#ff9100 92px,#ff9700 96px,#ff9c00 100px,#ffa200 104px,#ff8800 108px,#ff6e00 112px,#ff6800 116px,#ff6200 120px,#ff6e00 124px,#ff7a00 128px,#ff7f00 132px,#ff8500 136px,#ff8500 140px,#ff8500 144px)"></div><div style="top:42px;background:linear-gradient(90deg,#21ffde 0px,#21ffde 4px,#21ffde 8px,#31ffce 12px,#40ffbf 16px,#9eff61 20px,#fcff03 24px,#ffbf00 28px,#ff7c00 32px,#ff8d00 36px,#ff9e00 40px,#ffaf00 44px,#ffbf00 48px,#ffbf00 52px,#ffbf00 56px,#ffaf00 60px,#ff9e00 64px,#ff9e00 68px,#ff9e00 72px,#ff9e00 76px,#ff9e00 80px,#ff9e00 84px,#ff9e00 88px,#ffad00 92px,#ffbc00 96px,#ffcb00 100px,#ffda00 104px,#ffca00 108px,#ffb900 112px,#ffaa00 116px,#ff9b00 120px,#ffb900 124px,#ffd700 128px,#ffe700 132px,#fff600 136px,#fff600 140px,#fff600 144px)"></div><div style="top:44px;background:linear-gradient(90deg,#0efff1 0px,#0efff1 4px,#0efff1 8px,#27ffd8 12px,#40ffbf 16px,#b1ff4e 20px,#ffdc00 24px,#ffbf00 28px,#ffa300 32px,#ffaa00 36px,#ffb100 40px,#ffb800 44px,#ffbf00 48px,#ffbf00 52px,#ffbf00 56px,#ffb800 60px,#ffb100 64px,#ffb100 68px,#ffb100 72px,#ffb100 76px,#ffb100 80px,#ffb100 84px,#ffb100 88px,#ffca00 92px,#ffe300 96px,#fffc00 100px,#eaff15 104px,#f1ff0e 108px,#f8ff07 112px,#ffed00 116px,#ffd500 120px,#f8ff07 124px,#c6ff39 128px,#adff52 132px,#95ff6a 136px,#95ff6a 140px,#95ff6a 144px)"></div><div style="top:46px;background:linear-gradient(90deg,#01fffe 0px,#01fffe 4px,#01fffe 8px,#20ffdf 12px,#40ffbf 16px,#beff41 20px,#ffc100 24px,#ffbf00 28px,#ffbd00 32px,#ffbe00 36px,#ffbe00 40px,#ffbf00 44px,#ffbf00 48px,#ffbf00 52px,#ffbf00 56px,#ffbf00 60px,#ffbe00 64px,#ffbe00 68px,#ffbe00 72px,#ffbe00 76px,#ffbe00 80px,#ffbe00 84px,#ffbe00 88px,#ffde00 92px,#fffd00 96px,#e2ff1d 100px,#c2ff3d 104px,#c3ff3c 108px,#c3ff3c 112px,#e2ff1d 116px,#fffc00 120px,#c3ff3c 124px,#84ff7b 128px,#65ff9a 132px,#45ffba 136px,#45ffba 140px,#45ffba 144px)"></div><div style="top:48px;background:linear-gradient(90deg,#00ffff 0px,#00ffff 4px,#00ffff 8px,#33ffcc 12px,#67ff98 16px,#d8ff27 20px,#ffb600 24px,#ffba00 28px,#ffbf00 32px,#ffc400 36px,#ffc900 40px,#ffd300 44px,#ffdc00 48px,#ffdc00 52px,#ffdc00 56px,#ffdc00 60px,#ffdc00 64px,#ffd800 68px,#ffd300 72px,#ffd300 76px,#ffd300 80px,#ffce00 84px,#ffc900 88px,#ffe400 92px,#ffff00 96px,#e4ff1b 100px,#c9ff36 104px,#c9ff36 108px,#c9ff36 112px,#dfff20 116px,#f5ff0a 120px,#b6ff49 124px,#76ff89 128px,#56ffa9 132px,#36ffc9 136px,#36ffc9 140px,#36ffc9 144px)"></div><div style="top:50px;background:linear-gradient(90deg,#00ffff 0px,#00ffff 4px,#00ffff 8px,#58ffa7 12px,#b0ff4f 16px,#fff900 20px,#ffa300 24px,#ffb100 28px,#ffbf00 32px,#ffcd00 36px,#ffdb00 40px,#fff700 44px,#ebff14 48px,#ebff14 52px,#ebff14 56px,#ebff14 60px,#ebff14 64px,#f9ff06 68px,#fff700 72px,#fff700 76px,#fff700 80px,#ffe900 84px,#ffdb00 88px,#ffed00 92px,#ffff00 96px,#edff12 100px,#dbff24 104px,#dbff24 108px,#dbff24 112px,#dfff20 116px,#e3ff1c 120px,#a3ff5c 124px,#63ff9c 128px,#44ffbb 132px,#24ffdb 136px,#24ffdb 140px,#24ffdb 144px)"></div><div style="top:52px;background:linear-gradient(90deg,#00ffff 0px,#00ffff 4px,#00ffff 8px,#7fff80 12px,#feff01 16px,#ffc800 20px,#ff9000 24px,#ffa700 28px,#ffbf00 32px,#ffd700 36px,#ffef00 40px,#e0ff1f 44px,#b0ff4f 48px,#b0ff4f 52px,#b0ff4f 56px,#b0ff4f 60px,#b0ff4f 64px,#c8ff37 68px,#e0ff1f 72px,#e0ff1f 76px,#e0ff1f 80px,#f7ff08 84px,#ffef00 88px,#fff700 92px,#ffff00 96px,#f7ff08 100px,#efff10 104px,#efff10 108px,#efff10 112px,#dfff20 116px,#cfff30 120px,#90ff6f 124px,#50ffaf 128px,#30ffcf 132px,#10ffef 136px,#10ffef 140px,#10ffef 144px)"></div><div style="top:54px;background:linear-gradient(90deg,#00ffff 0px,#00ffff 4px,#00ffff 8px,#9bff64 12px,#ffc700 16px,#ffa400 20px,#ff8100 24px,#ffa000 28px,#ffbf00 32px,#ffde00 36px,#fffd00 40px,#c3ff3c 44px,#85ff7a 48px,#85ff7a 52px,#85ff7a 56px,#85ff7a 60px,#85ff7a 64px,#a4ff5b 68px,#c3ff3c 72px,#c3ff3c 76px,#c3ff3c 80px,#e2ff1d 84px,#fffd00 88px,#fffe00 92px,#ffff00 96px,#feff01 100px,#fdff02 104px,#fdff02 108px,#fdff02 112px,#dfff20 116px,#c1ff3e 120px,#81ff7e 124px,#42ffbd 128px,#22ffdd 132px,#02fffd 136px,#02fffd 140px,#02fffd 144px)"></div><div style="top:56px;background:linear-gradient(90deg,#00ffff 0px,#00ffff 4px,#00ffff 8px,#93ff6c 12px,#ffd700 16px,#ffbb00 20px,#ff9f00 24px,#ffbf00 28px,#ffdf00 32px,#fffb00 36px,#e7ff18 40px,#afff50 44px,#78ff87 48px,#78ff87 52px,#78ff87 56px,#78ff87 60px,#78ff87 64px,#93ff6c 68px,#afff50 72px,#afff50 76px,#afff50 80px,#cfff30 84px,#efff10 88px,#efff10 92px,#efff10 96px,#efff10 100px,#efff10 104px,#efff10 108px,#efff10 112px,#cfff30 116px,#afff50 120px,#74ff8b 124px,#38ffc7 128px,#1cffe3 132px,#00ffff 136px,#00ffff 140px,#00ffff 144px)"></div><div style="top:58px;background:linear-gradient(90deg,#00ffff 0px,#00ffff 4px,#00ffff 8px,#79ff86 12px,#f2ff0d 16px,#fff900 20px,#ffe600 24px,#f8ff07 28px,#d8ff27 32px,#c5ff3a 36px,#b2ff4d 40px,#8cff73 44px,#66ff99 48px,#66ff99 52px,#66ff99 56px,#66ff99 60px,#66ff99 64px,#79ff86 68px,#8cff73 72px,#8cff73 76px,#8cff73 80px,#acff53 84px,#ccff33 88px,#ccff33 92px,#ccff33 96px,#ccff33 100px,#ccff33 104px,#ccff33 108px,#ccff33 112px,#acff53 116px,#8cff73 120px,#59ffa6 124px,#26ffd9 128px,#13ffec 132px,#00ffff 136px,#00ffff 140px,#00ffff 144px)"></div><div style="top:60px;background:linear-gradient(90deg,#00ffff 0px,#00ffff 4px,#00ffff 8px,#5bffa4 12px,#b6ff49 16px,#c0ff3f 20px,#c9ff36 24px,#a9ff56 28px,#89ff76 32px,#80ff7f 36px,#77ff88 40px,#64ff9b 44px,#52ffad 48px,#52ffad 52px,#52ffad 56px,#52ffad 60px,#52ffad 64px,#5bffa4 68px,#64ff9b 72px,#64ff9b 76px,#64ff9b 80px,#84ff7b 84px,#a4ff5b 88px,#a4ff5b 92px,#a4ff5b 96px,#a4ff5b 100px,#a4ff5b 104px,#a4ff5b 108px,#a4ff5b 112px,#84ff7b 116px,#64ff9b 120px,#3bffc4 124px,#12ffed 128px,#09fff6 132px,#00ffff 136px,#00ffff 140px,#00ffff 144px)"></div><div style="top:62px;background:linear-gradient(90deg,#00ffff 0px,#00ffff 4px,#00ffff 8px,#44ffbb 12px,#89ff76 16px,#8aff75 20px,#8cff73 24px,#6cff93 28px,#4cffb3 32px,#4bffb4 36px,#49ffb6 40px,#46ffb9 44px,#43ffbc 48px,#43ffbc 52px,#43ffbc 56px,#43ffbc 60px,#43ffbc 64px,#44ffbb 68px,#46ffb9 72px,#46ffb9 76px,#46ffb9 80px,#66ff99 84px,#86ff79 88px,#86ff79 92px,#86ff79 96px,#86ff79 100px,#86ff79 104px,#86ff79 108px,#86ff79 112px,#66ff99 116px,#46ffb9 120px,#25ffda 124px,#03fffc 128px,#02fffd 132px,#00ffff 136px,#00ffff 140px,#00ffff 144px)"></div><div style="top:64px;background:linear-gradient(90deg,#00f9ff 0px,#00f9ff 4px,#00f9ff 8px,#36ffc9 12px,#73ff8c 16px,#76ff89 20px,#79ff86 24px,#5cffa3 28px,#40ffbf 32px,#40ffbf 36px,#40ffbf 40px,#40ffbf 44px,#40ffbf 48px,#40ffbf 52px,#40ffbf 56px,#3dffc2 60px,#39ffc6 64px,#39ffc6 68px,#39ffc6 72px,#39ffc6 76px,#39ffc6 80px,#59ffa6 84px,#79ff86 88px,#79ff86 92px,#79ff86 96px,#79ff86 100px,#79ff86 104px,#79ff86 108px,#79ff86 112px,#59ffa6 116px,#39ffc6 120px,#19ffe6 124px,#00f9ff 128px,#00f5ff 132px,#00f2ff 136px,#00f2ff 140px,#00f2ff 144px)"></div><div style="top:66px;background:linear-gradient(90deg,#00e8ff 0px,#00e8ff 4px,#00e8ff 8px,#1dffe2 12px,#51ffae 16px,#5cffa3 20px,#68ff97 24px,#54ffab 28px,#40ffbf 32px,#40ffbf 36px,#40ffbf 40px,#40ffbf 44px,#40ffbf 48px,#40ffbf 52px,#40ffbf 56px,#34ffcb 60px,#28ffd7 64px,#28ffd7 68px,#28ffd7 72px,#28ffd7 76px,#28ffd7 80px,#48ffb7 84px,#68ff97 88px,#68ff97 92px,#68ff97 96px,#68ff97 100px,#68ff97 104px,#68ff97 108px,#68ff97 112px,#48ffb7 116px,#28ffd7 120px,#08fff7 124px,#00e8ff 128px,#00dcff 132px,#00d0ff 136px,#00d0ff 140px,#00d0ff 144px)"></div><div style="top:68px;background:linear-gradient(90deg,#00d4ff 0px,#00d4ff 4px,#00d4ff 8px,#00feff 12px,#29ffd6 16px,#3fffc0 20px,#54ffab 24px,#4affb5 28px,#40ffbf 32px,#40ffbf 36px,#40ffbf 40px,#40ffbf 44px,#40ffbf 48px,#40ffbf 52px,#40ffbf 56px,#2affd5 60px,#14ffeb 64px,#14ffeb 68px,#14ffeb 72px,#14ffeb 76px,#14ffeb 80px,#34ffcb 84px,#54ffab 88px,#54ffab 92px,#54ffab 96px,#54ffab 100px,#54ffab 104px,#54ffab 108px,#54ffab 112px,#34ffcb 116px,#14ffeb 120px,#00f4ff 124px,#00d4ff 128px,#00beff 132px,#00a8ff 136px,#00a8ff 140px,#00a8ff 144px)"></div><div style="top:70px;background:linear-gradient(90deg,#00c4ff 0px,#00c4ff 4px,#00c4ff 8px,#00e6ff 12px,#09fff6 16px,#27ffd8 20px,#44ffbb 24px,#42ffbd 28px,#40ffbf 32px,#40ffbf 36px,#40ffbf 40px,#40ffbf 44px,#40ffbf 48px,#40ffbf 52px,#40ffbf 56px,#22ffdd 60px,#04fffb 64px,#04fffb 68px,#04fffb 72px,#04fffb 76px,#04fffb 80px,#24ffdb 84px,#44ffbb 88px,#44ffbb 92px,#44ffbb 96px,#44ffbb 100px,#44ffbb 104px,#44ffbb 108px,#44ffbb 112px,#24ffdb 116px,#04fffb 120px,#00e4ff 124px,#00c4ff 128px,#00a6ff 132px,#0088ff 136px,#0088ff 140px,#0088ff 144px)"></div><div style="top:72px;background:linear-gradient(90deg,#00bfff 0px,#00bfff 4px,#00bfff 8px,#00dfff 12px,#00ffff 16px,#20ffdf 20px,#40ffbf 24px,#40ffbf 28px,#40ffbf 32px,#40ffbf 36px,#40ffbf 40px,#3dffc2 44px,#3bffc4 48px,#3bffc4 52px,#3bffc4 56px,#1dffe2 60px,#00ffff 64px,#00fdff 68px,#00faff 72px,#00fdff 76px,#00ffff 80px,#1dffe2 84px,#3bffc4 88px,#3bffc4 92px,#3bffc4 96px,#3bffc4 100px,#3bffc4 104px,#3bffc4 108px,#3bffc4 112px,#19ffe6 116px,#00f5ff 120px,#00d8ff 124px,#00baff 128px,#009dff 132px,#0080ff 136px,#0080ff 140px,#0080ff 144px)"></div><div style="top:74px;background:linear-gradient(90deg,#00bfff 0px,#00bfff 4px,#00bfff 8px,#00dfff 12px,#00ffff 16px,#20ffdf 20px,#40ffbf 24px,#40ffbf 28px,#40ffbf 32px,#40ffbf 36px,#40ffbf 40px,#35ffca 44px,#2bffd4 48px,#2bffd4 52px,#2bffd4 56px,#15ffea 60px,#00ffff 64px,#00f4ff 68px,#00eaff 72px,#00f4ff 76px,#00ffff 80px,#15ffea 84px,#2bffd4 88px,#2bffd4 92px,#2bffd4 96px,#2bffd4 100px,#2bffd4 104px,#2bffd4 108px,#2bffd4 112px,#00ffff 116px,#00d5ff 120px,#00bfff 124px,#00aaff 128px,#0095ff 132px,#0080ff 136px,#0080ff 140px,#0080ff 144px)"></div><div style="top:76px;background:linear-gradient(90deg,#00bfff 0px,#00bfff 4px,#00bfff 8px,#00dfff 12px,#00ffff 16px,#20ffdf 20px,#40ffbf 24px,#40ffbf 28px,#40ffbf 32px,#40ffbf 36px,#40ffbf 40px,#2bffd4 44px,#17ffe8 48px,#17ffe8 52px,#17ffe8 56px,#0bfff4 60px,#00ffff 64px,#00eaff 68px,#00d6ff 72px,#00eaff 76px,#00ffff 80px,#0bfff4 84px,#17ffe8 88px,#17ffe8 92px,#17ffe8 96px,#17ffe8 100px,#17ffe8 104px,#17ffe8 108px,#17ffe8 112px,#00e1ff 116px,#00adff 120px,#00a2ff 124px,#0096ff 128px,#008bff 132px,#0080ff 136px,#0080ff 140px,#0080ff 144px)"></div><div style="top:78px;background:linear-gradient(90deg,#00bfff 0px,#00bfff 4px,#00bfff 8px,#00dfff 12px,#00ffff 16px,#20ffdf 20px,#40ffbf 24px,#40ffbf 28px,#40ffbf 32px,#40ffbf 36px,#40ffbf 40px,#23ffdc 44px,#06fff9 48px,#06fff9 52px,#06fff9 56px,#03fffc 60px,#00ffff 64px,#00e2ff 68px,#00c5ff 72px,#00e2ff 76px,#00ffff 80px,#03fffc 84px,#06fff9 88px,#06fff9 92px,#06fff9 96px,#06fff9 100px,#06fff9 104px,#06fff9 108px,#06fff9 112px,#00c8ff 116px,#008bff 120px,#0088ff 124px,#0085ff 128px,#0082ff 132px,#0080ff 136px,#0080ff 140px,#0080ff 144px)"></div><div style="top:80px;background:linear-gradient(90deg,#00bcff 0px,#00bcff 4px,#00bcff 8px,#00daff 12px,#00f8ff 16px,#17ffe8 20px,#35ffca 24px,#35ffca 28px,#35ffca 32px,#35ffca 36px,#35ffca 40px,#17ffe8 44px,#00f8ff 48px,#00f6ff 52px,#00f4ff 56px,#00f4ff 60px,#00f4ff 64px,#00d8ff 68px,#00bcff 72px,#00dcff 76px,#00fbff 80px,#00fdff 84px,#00ffff 88px,#00fdff 92px,#00fbff 96px,#00fbff 100px,#00fbff 104px,#00faff 108px,#00f8ff 112px,#00baff 116px,#007cff 120px,#007cff 124px,#007cff 128px,#007cff 132px,#007cff 136px,#007cff 140px,#007cff 144px)"></div><div style="top:82px;background:linear-gradient(90deg,#00acff 0px,#00acff 4px,#00acff 8px,#00c3ff 12px,#00d9ff 16px,#00efff 20px,#07fff8 24px,#07fff8 28px,#07fff8 32px,#07fff8 36px,#07fff8 40px,#00efff 44px,#00d9ff 48px,#00cfff 52px,#00c6ff 56px,#00c6ff 60px,#00c6ff 64px,#00b9ff 68px,#00acff 72px,#00ccff 76px,#00ecff 80px,#00f5ff 84px,#00ffff 88px,#00f5ff 92px,#00ecff 96px,#00ecff 100px,#00ecff 104px,#00e2ff 108px,#00d9ff 112px,#00a3ff 116px,#006cff 120px,#006cff 124px,#006cff 128px,#006cff 132px,#006cff 136px,#006cff 140px,#006cff 144px)"></div><div style="top:84px;background:linear-gradient(90deg,#0098ff 0px,#0098ff 4px,#0098ff 8px,#00a5ff 12px,#00b1ff 16px,#00beff 20px,#00caff 24px,#00caff 28px,#00caff 32px,#00caff 36px,#00caff 40px,#00beff 44px,#00b1ff 48px,#009eff 52px,#008bff 56px,#008bff 60px,#008bff 64px,#0092ff 68px,#0098ff 72px,#00b8ff 76px,#00d8ff 80px,#00ecff 84px,#00ffff 88px,#00ecff 92px,#00d8ff 96px,#00d8ff 100px,#00d8ff 104px,#00c5ff 108px,#00b1ff 112px,#0085ff 116px,#0059ff 120px,#0059ff 124px,#0059ff 128px,#0059ff 132px,#0059ff 136px,#0059ff 140px,#0059ff 144px)"></div><div style="top:86px;background:linear-gradient(90deg,#0087ff 0px,#0087ff 4px,#0087ff 8px,#008bff 12px,#008eff 16px,#0092ff 20px,#0096ff 24px,#0096ff 28px,#0096ff 32px,#0096ff 36px,#0096ff 40px,#0092ff 44px,#008eff 48px,#0072ff 52px,#0056ff 56px,#0056ff 60px,#0056ff 64px,#006fff 68px,#0087ff 72px,#00a7ff 76px,#00c7ff 80px,#00e3ff 84px,#00ffff 88px,#00e3ff 92px,#00c7ff 96px,#00c7ff 100px,#00c7ff 104px,#00abff 108px,#008eff 112px,#006bff 116px,#0047ff 120px,#0047ff 124px,#0047ff 128px,#0047ff 132px,#0047ff 136px,#0047ff 140px,#0047ff 144px)"></div><div style="top:88px;background:linear-gradient(90deg,#007dff 0px,#007dff 4px,#007dff 8px,#007dff 12px,#007dff 16px,#007dff 20px,#007dff 24px,#007dff 28px,#007dff 32px,#007cff 36px,#007bff 40px,#007bff 44px,#007bff 48px,#005cff 52px,#003dff 56px,#003fff 60px,#0040ff 64px,#005eff 68px,#007dff 72px,#009dff 76px,#00bdff 80px,#00dcff 84px,#00faff 88px,#00daff 92px,#00bbff 96px,#00bbff 100px,#00bbff 104px,#009bff 108px,#007bff 112px,#005cff 116px,#003dff 120px,#003dff 124px,#003dff 128px,#003dff 132px,#003dff 136px,#003dff 140px,#003dff 144px)"></div><div style="top:90px;background:linear-gradient(90deg,#006fff 0px,#006fff 4px,#006fff 8px,#006fff 12px,#006fff 16px,#006fff 20px,#006fff 24px,#006fff 28px,#006fff 32px,#0066ff 36px,#005eff 40px,#005eff 44px,#005eff 48px,#0046ff 52px,#002fff 56px,#0037ff 60px,#0040ff 64px,#0057ff 68px,#006fff 72px,#008eff 76px,#00aeff 80px,#00c6ff 84px,#00ddff 88px,#00bdff 92px,#009dff 96px,#009dff 100px,#009dff 104px,#007eff 108px,#005eff 112px,#0046ff 116px,#002fff 120px,#002fff 124px,#002fff 128px,#002fff 132px,#002fff 136px,#002fff 140px,#002fff 144px)"></div><div style="top:92px;background:linear-gradient(90deg,#005bff 0px,#005bff 4px,#005bff 8px,#005bff 12px,#005bff 16px,#005bff 20px,#005bff 24px,#005bff 28px,#005bff 32px,#0049ff 36px,#0036ff 40px,#0036ff 44px,#0036ff 48px,#0029ff 52px,#001bff 56px,#002dff 60px,#0040ff 64px,#004dff 68px,#005bff 72px,#007bff 76px,#009bff 80px,#00a8ff 84px,#00b6ff 88px,#0096ff 92px,#0076ff 96px,#0076ff 100px,#0076ff 104px,#0056ff 108px,#0036ff 112px,#0029ff 116px,#001bff 120px,#001bff 124px,#001bff 128px,#001bff 132px,#001bff 136px,#001bff 140px,#001bff 144px)"></div><div style="top:94px;background:linear-gradient(90deg,#0049ff 0px,#0049ff 4px,#0049ff 8px,#0049ff 12px,#0049ff 16px,#0049ff 20px,#0049ff 24px,#0049ff 28px,#0049ff 32px,#002eff 36px,#0012ff 40px,#0012ff 44px,#0012ff 48px,#000eff 52px,#0009ff 56px,#0024ff 60px,#0040ff 64px,#0044ff 68px,#0049ff 72px,#0069ff 76px,#0089ff 80px,#008dff 84px,#0092ff 88px,#0072ff 92px,#0052ff 96px,#0052ff 100px,#0052ff 104px,#0032ff 108px,#0012ff 112px,#000eff 116px,#0009ff 120px,#0009ff 124px,#0009ff 128px,#0009ff 132px,#0009ff 136px,#0009ff 140px,#0009ff 144px)"></div><div style="top:96px;background:linear-gradient(90deg,#003eff 0px,#003eff 4px,#003eff 8px,#003eff 12px,#003eff 16px,#003eff 20px,#003eff 24px,#003eff 28px,#003eff 32px,#001fff 36px,#0000fe 40px,#0000fe 44px,#0000fe 48px,#0000fe 52px,#0000fe 56px,#001fff 60px,#003eff 64px,#003eff 68px,#003eff 72px,#005eff 76px,#007dff 80px,#007dff 84px,#007dff 88px,#005eff 92px,#003eff 96px,#003eff 100px,#003eff 104px,#001fff 108px,#0000ff 112px,#0000ff 116px,#0000ff 120px,#0000ff 124px,#0000ff 128px,#0000ff 132px,#0000ff 136px,#0000ff 140px,#0000ff 144px)"></div><div style="top:98px;background:linear-gradient(90deg,#0031ff 0px,#0031ff 4px,#0031ff 8px,#0031ff 12px,#0031ff 16px,#0031ff 20px,#0031ff 24px,#0031ff 28px,#0031ff 32px,#0011ff 36px,#0000f0 40px,#0000f0 44px,#0000f0 48px,#0000f0 52px,#0000f0 56px,#0011ff 60px,#0031ff 64px,#0031ff 68px,#0031ff 72px,#0049ff 76px,#0062ff 80px,#0062ff 84px,#0062ff 88px,#0049ff 92px,#0031ff 96px,#0031ff 100px,#0031ff 104px,#0018ff 108px,#0000ff 112px,#0000ff 116px,#0000ff 120px,#0000ff 124px,#0000ff 128px,#0000ff 132px,#0000ff 136px,#0000ff 140px,#0000ff 144px)"></div><div style="top:100px;background:linear-gradient(90deg,#001eff 0px,#001eff 4px,#001eff 8px,#001eff 12px,#001eff 16px,#001eff 20px,#001eff 24px,#001eff 28px,#001eff 32px,#0000fd 36px,#0000dd 40px,#0000dd 44px,#0000dd 48px,#0000dd 52px,#0000dd 56px,#0000fd 60px,#001eff 64px,#001eff 68px,#001eff 72px,#002cff 76px,#003bff 80px,#003bff 84px,#003bff 88px,#002cff 92px,#001eff 96px,#001eff 100px,#001eff 104px,#000fff 108px,#0000ff 112px,#0000ff 116px,#0000ff 120px,#0000ff 124px,#0000ff 128px,#0000ff 132px,#0000ff 136px,#0000ff 140px,#0000ff 144px)"></div><div style="top:102px;background:linear-gradient(90deg,#000bff 0px,#000bff 4px,#000bff 8px,#000bff 12px,#000bff 16px,#000bff 20px,#000bff 24px,#000bff 28px,#000bff 32px,#0000ea 36px,#0000ca 40px,#0000ca 44px,#0000ca 48px,#0000ca 52px,#0000ca 56px,#0000ea 60px,#000bff 64px,#000bff 68px,#000bff 72px,#0010ff 76px,#0016ff 80px,#0016ff 84px,#0016ff 88px,#0010ff 92px,#000bff 96px,#000bff 100px,#000bff 104px,#0005ff 108px,#0000ff 112px,#0000ff 116px,#0000ff 120px,#0000ff 124px,#0000ff 128px,#0000ff 132px,#0000ff 136px,#0000ff 140px,#0000ff 144px)"></div><div style="top:104px;background:linear-gradient(90deg,#0000ff 0px,#0000ff 4px,#0000ff 8px,#0000ff 12px,#0000ff 16px,#0000ff 20px,#0000ff 24px,#0000ff 28px,#0000ff 32px,#0000df 36px,#0000bf 40px,#0000bf 44px,#0000bf 48px,#0000bf 52px,#0000bf 56px,#0000df 60px,#0000ff 64px,#0000ff 68px,#0000ff 72px,#0000ff 76px,#0000ff 80px,#0000ff 84px,#0000ff 88px,#0000ff 92px,#0000ff 96px,#0000ff 100px,#0000ff 104px,#0000ff 108px,#0000ff 112px,#0000ff 116px,#0000ff 120px,#0000ff 124px,#0000ff 128px,#0000ff 132px,#0000ff 136px,#0000ff 140px,#0000ff 144px)"></div><div style="top:106px;background:linear-gradient(90deg,#0000ff 0px,#0000ff 4px,#0000ff 8px,#0000ff 12px,#0000ff 16px,#0000ff 20px,#0000ff 24px,#0000ff 28px,#0000ff 32px,#0000df 36px,#0000bf 40px,#0000bf 44px,#0000bf 48px,#0000bf 52px,#0000bf 56px,#0000df 60px,#0000ff 64px,#0000ff 68px,#0000ff 72px,#0000ff 76px,#0000ff 80px,#0000ff 84px,#0000ff 88px,#0000ff 92px,#0000ff 96px,#0000ff 100px,#0000ff 104px,#0000ff 108px,#0000ff 112px,#0000ff 116px,#0000ff 120px,#0000ff 124px,#0000ff 128px,#0000ff 132px,#0000ff 136px,#0000ff 140px,#0000ff 144px)"></div><div style="top:108px;background:linear-gradient(90deg,#0000ff 0px,#0000ff 4px,#0000ff 8px,#0000ff 12px,#0000ff 16px,#0000ff 20px,#0000ff 24px,#0000ff 28px,#0000ff 32px,#0000df 36px,#0000bf 40px,#0000bf 44px,#0000bf 48px,#0000bf 52px,#0000bf 56px,#0000df 60px,#0000ff 64px,#0000ff 68px,#0000ff 72px,#0000ff 76px,#0000ff 80px,#0000ff 84px,#0000ff 88px,#0000ff 92px,#0000ff 96px,#0000ff 100px,#0000ff 104px,#0000ff 108px,#0000ff 112px,#0000ff 116px,#0000ff 120px,#0000ff 124px,#0000ff 128px,#0000ff 132px,#0000ff 136px,#0000ff 140px,#0000ff 144px)"></div><div style="top:110px;background:linear-gradient(90deg,#0000ff 0px,#0000ff 4px,#0000ff 8px,#0000ff 12px,#0000ff 16px,#0000ff 20px,#0000ff 24px,#0000ff 28px,#0000ff 32px,#0000df 36px,#0000bf 40px,#0000bf 44px,#0000bf 48px,#0000bf 52px,#0000bf 56px,#0000df 60px,#0000ff 64px,#0000ff 68px,#0000ff 72px,#0000ff 76px,#0000ff 80px,#0000ff 84px,#0000ff 88px,#0000ff 92px,#0000ff 96px,#0000ff 100px,#0000ff 104px,#0000ff 108px,#0000ff 112px,#0000ff 116px,#0000ff 120px,#0000ff 124px,#0000ff 128px,#0000ff 132px,#0000ff 136px,#0000ff 140px,#0000ff 144px)"></div></div><svg class="ov" width="136" height="107" viewBox="0 0 136 107"><polyline points="109.1,6.7 114.7,8.1 117.8,11.5 119.9,17.5 124.1,20.4 127.2,25.4 130.3,25.7 135.1,23.6 133.8,27.3 133.0,30.0 131.5,33.6 129.0,33.0 127.4,34.5 127.8,39.4 126.3,41.4 125.5,39.9 124.3,41.4 122.8,42.5 121.1,44.1 118.9,43.3 116.8,45.5 113.4,48.0 110.5,49.1 107.6,50.9 106.8,49.3 108.9,46.9 106.4,45.8 104.3,48.0 102.8,49.6 100.1,50.1 99.5,52.0 101.8,54.4 102.2,55.4 104.9,54.1 107.4,54.6 109.5,56.0 107.4,56.5 104.9,58.5 102.6,61.1 104.9,62.9 106.2,67.1 108.0,69.1 108.3,71.3 107.4,72.2 108.7,73.7 107.6,77.0 106.0,78.6 104.9,80.5 103.5,82.4 102.2,84.5 100.6,86.3 98.7,88.1 97.0,89.7 94.9,90.1 92.4,91.0 90.8,91.5 88.3,92.4 85.6,93.1 84.3,94.4 83.9,95.7 83.3,94.2 82.7,92.8 80.6,92.6 79.4,93.1 77.3,91.7 76.6,90.1 74.8,89.7 73.7,89.0 72.1,90.1 70.8,90.8 69.4,90.4 67.7,90.8 66.5,91.0 66.0,93.5 64.4,93.5 63.1,93.1 61.7,91.7 61.3,89.7 60.2,88.1 58.6,87.2 57.7,87.7 58.1,85.4 59.8,83.1 60.0,79.4 59.4,77.7 57.3,77.5 55.7,75.8 54.4,74.9 52.3,75.6 50.2,76.3 47.3,78.6 45.3,78.6 43.0,78.2 40.9,77.9 39.6,79.8 38.0,78.4 35.1,77.9 32.6,77.2 29.9,76.0 27.0,73.9 23.8,72.9 21.3,71.7 19.1,70.3 18.6,68.6 18.0,67.1 19.9,66.1 18.6,62.9 16.8,60.1 13.9,59.1 11.8,56.5 9.9,55.7 10.5,52.3 8.5,51.7 7.6,49.3 8.7,48.0 11.8,46.3 13.9,46.9 16.6,45.2 19.1,43.0 21.6,42.2 22.0,39.7 22.8,39.1 22.0,36.5 21.3,33.9 24.7,33.0 26.5,32.7 25.9,30.0 27.4,27.3 31.1,28.2 32.8,27.6 33.0,23.6 35.3,22.0 36.3,21.0 37.8,22.9 40.7,24.8 42.6,25.7 44.0,29.1 43.6,33.0 47.1,33.9 50.9,35.3 53.2,35.9 55.2,40.2 59.6,40.8 63.8,40.8 66.5,41.1 70.0,42.8 73.1,43.6 76.9,41.6 82.1,41.1 85.0,39.4 87.5,37.7 86.4,35.6 87.5,33.6 91.0,34.5 95.4,32.7 97.4,29.7 100.8,28.8 103.7,29.1 104.1,27.3 101.2,25.1 99.7,24.8 98.7,25.7 95.2,25.1 96.0,22.3 99.9,20.1 102.6,18.5 102.8,17.2 104.5,12.9 106.8,10.2 109.1,6.7" class="bd"/><polyline points="106.4,84.9 108.3,85.1 107.6,87.4 106.2,91.9 104.7,90.6 104.5,88.6 106.4,84.9" class="bd"/><polyline points="83.9,96.2 85.6,97.1 84.5,99.3 82.7,100.4 80.8,99.7 80.6,97.9 82.1,96.4 83.9,96.2" class="bd"/><polyline points="16.8,60.1 21.1,59.6 25.3,59.3 29.5,58.5 33.6,58.3 37.8,58.5 43.0,59.1" class="pv"/><polyline points="43.0,59.1 45.0,55.2 49.2,51.7 51.9,50.7 52.3,46.6 55.2,40.2" class="pv"/><polyline points="43.0,59.1 46.1,62.4 49.2,64.9 52.3,66.1 56.5,66.6 58.6,66.1 60.0,68.1 60.4,72.2 60.0,75.8 59.4,77.7" class="pv"/><polyline points="51.9,50.7 57.5,50.7 61.7,52.5 65.8,54.6 69.0,56.7 67.9,59.8 65.8,62.9 65.8,64.9" class="pv"/><polyline points="58.6,66.1 60.6,65.4 64.8,65.1 65.8,64.9 67.9,64.1 70.0,63.6 71.7,65.6 74.2,66.8" class="pv"/><polyline points="56.9,40.2 59.6,45.2 62.7,46.6 67.9,49.3 71.0,50.1 71.7,54.6 73.1,59.8 76.2,60.6 78.5,54.6 77.1,49.9 75.2,50.7 72.7,49.3" class="pv"/><polyline points="76.2,60.6 76.4,62.4 74.2,65.6 74.2,66.8" class="pv"/><polyline points="78.5,53.9 80.8,53.9 84.5,50.1 86.0,49.1 88.3,47.4 91.4,46.6 92.9,43.9 96.0,42.5 98.9,41.1 102.6,41.6 105.3,41.1 108.5,41.1 109.5,38.5 108.5,35.3 111.0,33.0 112.6,30.9 111.6,26.0 109.5,23.2 108.5,18.5 111.6,15.2 115.7,9.8" class="pv"/><polyline points="112.6,30.9 116.8,33.3 120.9,35.3 125.1,36.8 127.6,36.5" class="pv"/><polyline points="109.5,38.5 111.6,39.1 114.7,41.9 116.8,45.2" class="pv"/><polyline points="102.8,49.6 103.9,46.6 103.3,43.9 102.6,41.6" class="pv"/><polyline points="84.5,62.1 84.3,56.5 85.8,52.0 86.0,49.1" class="pv"/><polyline points="91.4,46.6 91.8,47.4 91.0,51.2 91.4,54.9 91.2,57.8 89.3,60.6 86.6,61.6 84.5,62.1" class="pv"/><polyline points="74.2,66.8 77.3,68.1 80.4,68.1 82.5,69.1 83.9,67.1 85.6,65.4 84.5,62.1" class="pv"/><polyline points="89.3,60.6 91.8,58.0 94.9,58.3 96.2,62.1 94.9,63.6 96.0,64.9 94.5,67.8 92.9,69.1 89.7,69.3 86.6,67.1 85.6,65.4" class="pv"/><polyline points="94.9,58.3 94.7,56.5 96.6,54.4 99.5,52.5" class="pv"/><polyline points="96.2,62.1 99.1,62.1 101.4,62.1 102.6,61.1" class="pv"/><polyline points="96.2,62.1 99.1,63.1 101.2,64.9 100.8,67.3 102.6,68.6 103.1,70.5 105.3,71.3 107.0,71.7" class="pv"/><polyline points="103.1,70.5 101.2,73.4 100.6,75.3 101.2,77.7 103.3,79.1 104.9,80.3" class="pv"/><polyline points="93.7,67.8 96.0,70.5 97.0,73.9 99.1,74.6 100.6,75.3" class="pv"/><polyline points="97.0,73.9 92.9,73.9 91.8,74.6 92.2,77.0 91.4,79.4 91.8,82.1 91.6,84.0 92.2,85.6 94.3,86.1 96.0,85.4 97.0,83.3 98.5,81.5 100.1,79.4 101.2,77.7" class="pv"/><polyline points="96.0,85.4 98.5,88.3" class="pv"/><polyline points="82.5,74.6 86.6,74.1 89.5,74.6 91.8,74.6" class="pv"/><polyline points="82.5,74.6 84.1,72.2 83.5,69.8 82.7,69.1" class="pv"/><polyline points="82.5,74.6 81.4,77.0 82.1,80.5 82.5,82.8 84.5,83.1 86.2,84.7 88.7,85.1 90.8,84.5 91.6,84.0" class="pv"/><polyline points="86.2,84.7 86.6,87.4 85.6,90.1 83.1,92.8" class="pv"/><polyline points="82.5,82.8 80.0,84.0 77.3,85.6 74.4,85.4 73.1,87.0 74.2,89.0" class="pv"/><polyline points="73.1,86.3 72.1,84.0 71.7,81.5 73.1,79.1 75.2,77.5 77.7,76.3 79.8,75.8 81.4,77.0" class="pv"/><polyline points="59.4,77.7 61.9,76.3 63.3,77.7 65.2,80.3 66.9,82.1 69.0,81.0 70.0,78.2 72.1,78.2 72.1,80.5" class="pv"/><polyline points="79.8,75.8 76.2,77.0 75.2,74.6 75.8,72.2 78.3,69.8 80.4,68.1" class="pv"/><rect x="0.5" y="0.5" width="135" height="106" class="fw"/><path d="M0.3 0.5H10.7M0.3 106.5H10.7M21.1 0.5H31.5M21.1 106.5H31.5M41.9 0.5H52.3M41.9 106.5H52.3M62.7 0.5H73.1M62.7 106.5H73.1M83.5 0.5H93.9M83.5 106.5H93.9M104.3 0.5H114.7M104.3 106.5H114.7M125.1 0.5H135.5M125.1 106.5H135.5M0.5 0.0V18.5M135.5 0.0V18.5M0.5 33.9V48.0M135.5 33.9V48.0M0.5 61.1V73.4M135.5 61.1V73.4M0.5 85.1V96.4M135.5 85.1V96.4" class="fb"/></svg></div>
<div class="cb" style="left:351.5px;top:148px;background:linear-gradient(180deg,#800000 0.00%,#9f0000 3.12%,#bf0000 6.25%,#df0000 9.38%,#ff0000 12.50%,#ff2000 15.62%,#ff4000 18.75%,#ff6000 21.88%,#ff8000 25.00%,#ff9f00 28.12%,#ffbf00 31.25%,#ffdf00 34.38%,#ffff00 37.50%,#dfff20 40.62%,#bfff40 43.75%,#9fff60 46.88%,#80ff80 50.00%,#60ff9f 53.12%,#40ffbf 56.25%,#20ffdf 59.38%,#00ffff 62.50%,#00dfff 65.62%,#00bfff 68.75%,#009fff 71.88%,#0080ff 75.00%,#0060ff 78.12%,#0040ff 81.25%,#0020ff 84.38%,#0000ff 87.50%,#0000df 90.62%,#0000bf 93.75%,#00009f 96.88%,#000080 100.00%)"></div>
<div class="t tk" style="left:343.8px;top:140.4px;width:20px;text-align:center">K</div>
<div class="t tk" style="left:358.6px;top:148.3px;width:7.0px;text-align:center">25</div>
<div class="t tk" style="left:358.6px;top:168.2px;width:7.0px;text-align:center">20</div>
<div class="t tk" style="left:358.6px;top:189.7px;width:7.0px;text-align:center">15</div>
<div class="t tk" style="left:358.6px;top:210.2px;width:7.0px;text-align:center">10</div>
<div class="t tk" style="left:358.6px;top:231.1px;width:7.0px;text-align:center">5</div>
<div class="t tk" style="left:195.5px;top:163.0px;width:14px;text-align:right">50°N</div>
<div class="t tk" style="left:195.5px;top:191.8px;width:14px;text-align:right">40°N</div>
<div class="t tk" style="left:195.5px;top:217.8px;width:14px;text-align:right">30°N</div>
<div class="t tk" style="left:195.5px;top:240.9px;width:14px;text-align:right">20°N</div>
<div class="t tk" style="left:197.3px;top:256.8px;width:30px;text-align:center">70°E</div>
<div class="t tk" style="left:218.2px;top:256.8px;width:30px;text-align:center">80°E</div>
<div class="t tk" style="left:238.9px;top:256.8px;width:30px;text-align:center">90°E</div>
<div class="t tk" style="left:259.8px;top:256.8px;width:30px;text-align:center">100°E</div>
<div class="t tk" style="left:280.6px;top:256.8px;width:30px;text-align:center">110°E</div>
<div class="t tk" style="left:301.4px;top:256.8px;width:30px;text-align:center">120°E</div>
<div class="t tk" style="left:322.1px;top:256.8px;width:30px;text-align:center">130°E</div>
<div class="t pl" style="left:215.5px;top:149.5px">(e)</div>
<div class="pn" style="left:392px;top:148px"><div class="w"><div style="top:0px;background:linear-gradient(90deg,#00ffff 0px,#00ffff 4px,#00ffff 8px,#00ffff 12px,#00ffff 16px,#00ffff 20px,#00ffff 24px,#20ffdf 28px,#40ffbf 32px,#40ffbf 36px,#40ffbf 40px,#20ffdf 44px,#00ffff 48px,#00ffff 52px,#00ffff 56px,#00ffff 60px,#00ffff 64px,#00ffff 68px,#00ffff 72px,#00ffff 76px,#00ffff 80px,#00ffff 84px,#00ffff 88px,#00ffff 92px,#00ffff 96px,#00ffff 100px,#00ffff 104px,#20ffdf 108px,#40ffbf 112px,#40ffbf 116px,#40ffbf 120px,#40ffbf 124px,#40ffbf 128px,#40ffbf 132px,#40ffbf 136px,#40ffbf 140px,#40ffbf 144px)"></div><div style="top:2px;background:linear-gradient(90deg,#00ffff 0px,#00ffff 4px,#00ffff 8px,#00ffff 12px,#00ffff 16px,#00ffff 20px,#00ffff 24px,#20ffdf 28px,#40ffbf 32px,#40ffbf 36px,#40ffbf 40px,#20ffdf 44px,#00ffff 48px,#00ffff 52px,#00ffff 56px,#00ffff 60px,#00ffff 64px,#00ffff 68px,#00ffff 72px,#00ffff 76px,#00ffff 80px,#00ffff 84px,#00ffff 88px,#00ffff 92px,#00ffff 96px,#00ffff 100px,#00ffff 104px,#20ffdf 108px,#40ffbf 112px,#40ffbf 116px,#40ffbf 120px,#40ffbf 124px,#40ffbf 128px,#40ffbf 132px,#40ffbf 136px,#40ffbf 140px,#40ffbf 144px)"></div><div style="top:4px;background:linear-gradient(90deg,#00ffff 0px,#00ffff 4px,#00ffff 8px,#00ffff 12px,#00ffff 16px,#00ffff 20px,#00ffff 24px,#20ffdf 28px,#40ffbf 32px,#40ffbf 36px,#40ffbf 40px,#20ffdf 44px,#00ffff 48px,#00ffff 52px,#00ffff 56px,#00ffff 60px,#00ffff 64px,#00ffff 68px,#00ffff 72px,#00ffff 76px,#00ffff 80px,#00ffff 84px,#00ffff 88px,#00ffff 92px,#00ffff 96px,#00ffff 100px,#00ffff 104px,#20ffdf 108px,#40ffbf 112px,#40ffbf 116px,#40ffbf 120px,#40ffbf 124px,#40ffbf 128px,#40ffbf 132px,#40ffbf 136px,#40ffbf 140px,#40ffbf 144px)"></div><div style="top:6px;background:linear-gradient(90deg,#00ffff 0px,#00ffff 4px,#00ffff 8px,#00fdff 12px,#00fbff 16px,#00fbff 20px,#00fbff 24px,#18ffe7 28px,#34ffcb 32px,#34ffcb 36px,#34ffcb 40px,#16ffe9 44px,#00f7ff 48px,#00f7ff 52px,#00f7ff 56px,#00f9ff 60px,#00fbff 64px,#00fbff 68px,#00fbff 72px,#00fdff 76px,#00ffff 80px,#00ffff 84px,#00ffff 88px,#00ffff 92px,#00ffff 96px,#02fffd 100px,#04fffb 104px,#26ffd9 108px,#48ffb7 112px,#4affb5 116px,#4cffb3 120px,#4affb5 124px,#48ffb7 128px,#46ffb9 132px,#44ffbb 136px,#44ffbb 140px,#44ffbb 144px)"></div><div style="top:8px;background:linear-gradient(90deg,#00ffff 0px,#00ffff 4px,#00ffff 8px,#00f5ff 12px,#00ebff 16px,#00ebff 20px,#00ebff 24px,#00f7ff 28px,#05fffa 32px,#05fffa 36px,#05fffa 40px,#00eeff 44px,#00d8ff 48px,#00d8ff 52px,#00d8ff 56px,#00e1ff 60px,#00ebff 64px,#00ebff 68px,#00ebff 72px,#00f5ff 76px,#00ffff 80px,#00ffff 84px,#00ffff 88px,#00ffff 92px,#00ffff 96px,#0afff5 100px,#14ffeb 104px,#3dffc2 108px,#67ff98 112px,#71ff8e 116px,#7bff84 120px,#71ff8e 124px,#67ff98 128px,#5dffa2 132px,#53ffac 136px,#53ffac 140px,#53ffac 144px)"></div><div style="top:10px;background:linear-gradient(90deg,#00ffff 0px,#00ffff 4px,#00ffff 8px,#00ebff 12px,#00d7ff 16px,#00d7ff 20px,#00d7ff 24px,#00d0ff 28px,#00c8ff 32px,#00c8ff 36px,#00c8ff 40px,#00bcff 44px,#00b0ff 48px,#00b0ff 52px,#00b0ff 56px,#00c4ff 60px,#00d7ff 64px,#00d7ff 68px,#00d7ff 72px,#00ebff 76px,#00ffff 80px,#00ffff 84px,#00ffff 88px,#00ffff 92px,#00ffff 96px,#14ffeb 100px,#28ffd7 104px,#5bffa4 108px,#8fff70 112px,#a3ff5c 116px,#b6ff49 120px,#a3ff5c 124px,#8fff70 128px,#7bff84 132px,#67ff98 136px,#67ff98 140px,#67ff98 144px)"></div><div style="top:12px;background:linear-gradient(90deg,#00ffff 0px,#00ffff 4px,#00ffff 8px,#00e3ff 12px,#00c6ff 16px,#00c6ff 20px,#00c6ff 24px,#00adff 28px,#0094ff 32px,#0094ff 36px,#0094ff 40px,#0091ff 44px,#008dff 48px,#008dff 52px,#008dff 56px,#00aaff 60px,#00c6ff 64px,#00c6ff 68px,#00c6ff 72px,#00e3ff 76px,#00ffff 80px,#00ffff 84px,#00ffff 88px,#00ffff 92px,#00ffff 96px,#1cffe3 100px,#39ffc6 104px,#75ff8a 108px,#b1ff4e 112px,#ceff31 116px,#eaff15 120px,#ceff31 124px,#b1ff4e 128px,#95ff6a 132px,#79ff86 136px,#79ff86 140px,#79ff86 144px)"></div><div style="top:14px;background:linear-gradient(90deg,#00fcff 0px,#00fcff 4px,#00fcff 8px,#00deff 12px,#00bfff 16px,#00bfff 20px,#00bfff 24px,#009eff 28px,#007dff 32px,#007dff 36px,#007dff 40px,#007dff 44px,#007dff 48px,#007dff 52px,#007dff 56px,#009dff 60px,#00bdff 64px,#00beff 68px,#00bfff 72px,#00deff 76px,#00fcff 80px,#00feff 84px,#00ffff 88px,#00ffff 92px,#00ffff 96px,#20ffdf 100px,#40ffbf 104px,#81ff7e 108px,#c2ff3d 112px,#e2ff1d 116px,#fffc00 120px,#e5ff1a 124px,#c7ff38 128px,#a8ff57 132px,#88ff77 136px,#88ff77 140px,#88ff77 144px)"></div><div style="top:16px;background:linear-gradient(90deg,#00edff 0px,#00edff 4px,#00edff 8px,#00d6ff 12px,#00bfff 16px,#00bfff 20px,#00bfff 24px,#0097ff 28px,#006eff 32px,#006eff 36px,#006eff 40px,#006eff 44px,#006eff 48px,#006eff 52px,#006eff 56px,#008eff 60px,#00aeff 64px,#00b6ff 68px,#00bfff 72px,#00d6ff 76px,#00edff 80px,#00f6ff 84px,#00ffff 88px,#00ffff 92px,#00ffff 96px,#20ffdf 100px,#40ffbf 104px,#88ff77 108px,#d1ff2e 112px,#f1ff0e 116px,#ffed00 120px,#fffc00 124px,#f4ff0b 128px,#d4ff2b 132px,#b4ff4b 136px,#b4ff4b 140px,#b4ff4b 144px)"></div><div style="top:18px;background:linear-gradient(90deg,#00daff 0px,#00daff 4px,#00daff 8px,#00ccff 12px,#00bfff 16px,#00bfff 20px,#00bfff 24px,#008dff 28px,#005aff 32px,#005aff 36px,#005aff 40px,#005aff 44px,#005aff 48px,#005aff 52px,#005aff 56px,#007aff 60px,#009aff 64px,#00adff 68px,#00bfff 72px,#00ccff 76px,#00daff 80px,#00ecff 84px,#00ffff 88px,#00ffff 92px,#00ffff 96px,#20ffdf 100px,#40ffbf 104px,#92ff6d 108px,#e5ff1a 112px,#fffa00 116px,#ffda00 120px,#ffd400 124px,#ffcf00 128px,#ffef00 132px,#efff10 136px,#efff10 140px,#efff10 144px)"></div><div style="top:20px;background:linear-gradient(90deg,#00c8ff 0px,#00c8ff 4px,#00c8ff 8px,#00c4ff 12px,#00bfff 16px,#00bfff 20px,#00bfff 24px,#0084ff 28px,#0048ff 32px,#0048ff 36px,#0048ff 40px,#0048ff 44px,#0048ff 48px,#0048ff 52px,#0048ff 56px,#0068ff 60px,#0088ff 64px,#00a4ff 68px,#00bfff 72px,#00c4ff 76px,#00c8ff 80px,#00e3ff 84px,#00ffff 88px,#00ffff 92px,#00ffff 96px,#20ffdf 100px,#40ffbf 104px,#9bff64 108px,#f6ff09 112px,#ffe800 116px,#ffc800 120px,#ffb000 124px,#ff9900 128px,#ffb900 132px,#ffd900 136px,#ffd900 140px,#ffd900 144px)"></div><div style="top:22px;background:linear-gradient(90deg,#00bfff 0px,#00bfff 4px,#00bfff 8px,#00bfff 12px,#00bfff 16px,#00c0ff 20px,#00c1ff 24px,#0081ff 28px,#0041ff 32px,#0041ff 36px,#0040ff 40px,#0041ff 44px,#0041ff 48px,#0041ff 52px,#0041ff 56px,#0060ff 60px,#0080ff 64px,#009fff 68px,#00bfff 72px,#00bfff 76px,#00bfff 80px,#00deff 84px,#00fdff 88px,#00feff 92px,#00ffff 96px,#21ffde 100px,#41ffbe 104px,#a1ff5e 108px,#fffd00 112px,#ffde00 116px,#ffbe00 120px,#ff9f00 124px,#ff8000 128px,#ff9f00 132px,#ffbe00 136px,#ffbe00 140px,#ffbe00 144px)"></div><div style="top:24px;background:linear-gradient(90deg,#00bfff 0px,#00bfff 4px,#00bfff 8px,#00bfff 12px,#00bfff 16px,#00c7ff 20px,#00cfff 24px,#008fff 28px,#004fff 32px,#0048ff 36px,#0040ff 40px,#0048ff 44px,#004fff 48px,#004fff 52px,#004fff 56px,#0067ff 60px,#0080ff 64px,#009fff 68px,#00bfff 72px,#00bfff 76px,#00bfff 80px,#00d7ff 84px,#00efff 88px,#00f7ff 92px,#00ffff 96px,#28ffd7 100px,#4fffb0 104px,#afff50 108px,#ffef00 112px,#ffd000 116px,#ffb000 120px,#ff9800 124px,#ff8000 128px,#ff9800 132px,#ffb000 136px,#ffb000 140px,#ffb000 144px)"></div><div style="top:26px;background:linear-gradient(90deg,#00bfff 0px,#00bfff 4px,#00bfff 8px,#00bfff 12px,#00bfff 16px,#00d1ff 20px,#00e2ff 24px,#00a2ff 28px,#0063ff 32px,#0051ff 36px,#0040ff 40px,#0051ff 44px,#0063ff 48px,#0063ff 52px,#0063ff 56px,#0071ff 60px,#0080ff 64px,#009fff 68px,#00bfff 72px,#00bfff 76px,#00bfff 80px,#00ceff 84px,#00dcff 88px,#00eeff 92px,#00ffff 96px,#31ffce 100px,#63ff9c 104px,#c2ff3d 108px,#ffdc00 112px,#ffbc00 116px,#ff9c00 120px,#ff8e00 124px,#ff8000 128px,#ff8e00 132px,#ff9c00 136px,#ff9c00 140px,#ff9c00 144px)"></div><div style="top:28px;background:linear-gradient(90deg,#00bfff 0px,#00bfff 4px,#00bfff 8px,#00bfff 12px,#00bfff 16px,#00daff 20px,#00f5ff 24px,#00b5ff 28px,#0075ff 32px,#005aff 36px,#0040ff 40px,#005aff 44px,#0075ff 48px,#0075ff 52px,#0075ff 56px,#007aff 60px,#0080ff 64px,#009fff 68px,#00bfff 72px,#00bfff 76px,#00bfff 80px,#00c4ff 84px,#00caff 88px,#00e4ff 92px,#00ffff 96px,#3bffc4 100px,#75ff8a 104px,#d5ff2a 108px,#ffca00 112px,#ffaa00 116px,#ff8a00 120px,#ff8500 124px,#ff8000 128px,#ff8500 132px,#ff8a00 136px,#ff8a00 140px,#ff8a00 144px)"></div><div style="top:30px;background:linear-gradient(90deg,#00bfff 0px,#00bfff 4px,#00bfff 8px,#00bfff 12px,#00bfff 16px,#00deff 20px,#00feff 24px,#00bfff 28px,#0080ff 32px,#0060ff 36px,#0040ff 40px,#0060ff 44px,#0080ff 48px,#0080ff 52px,#0080ff 56px,#0080ff 60px,#0080ff 64px,#00a0ff 68px,#00bfff 72px,#00c0ff 76px,#00c0ff 80px,#00c0ff 84px,#00c0ff 88px,#00e0ff 92px,#01fffe 96px,#41ffbe 100px,#81ff7e 104px,#e0ff1f 108px,#ffbf00 112px,#ff9f00 116px,#ff8000 120px,#ff8000 124px,#ff8000 128px,#ff8000 132px,#ff8000 136px,#ff8000 140px,#ff8000 144px)"></div><div style="top:32px;background:linear-gradient(90deg,#00b2ff 0px,#00b2ff 4px,#00b2ff 8px,#00b2ff 12px,#00b2ff 16px,#00d2ff 20px,#00f2ff 24px,#00b9ff 28px,#0080ff 32px,#0066ff 36px,#004dff 40px,#0066ff 44px,#0080ff 48px,#0080ff 52px,#0080ff 56px,#0086ff 60px,#008dff 64px,#00a6ff 68px,#00bfff 72px,#00c6ff 76px,#00cdff 80px,#00cdff 84px,#00cdff 88px,#00f3ff 92px,#1bffe4 96px,#5bffa4 100px,#9aff65 104px,#edff12 108px,#ffbf00 112px,#ff9f00 116px,#ff8000 120px,#ff8600 124px,#ff8d00 128px,#ff8d00 132px,#ff8d00 136px,#ff8d00 140px,#ff8d00 144px)"></div><div style="top:34px;background:linear-gradient(90deg,#009fff 0px,#009fff 4px,#009fff 8px,#009fff 12px,#009fff 16px,#00beff 20px,#00deff 24px,#00afff 28px,#0080ff 32px,#0070ff 36px,#0060ff 40px,#0070ff 44px,#0080ff 48px,#0080ff 52px,#0080ff 56px,#0090ff 60px,#00a0ff 64px,#00b0ff 68px,#00bfff 72px,#00d0ff 76px,#00e0ff 80px,#00e0ff 84px,#00e0ff 88px,#11ffee 92px,#41ffbe 96px,#81ff7e 100px,#c1ff3e 104px,#fffe00 108px,#ffbf00 112px,#ff9f00 116px,#ff8000 120px,#ff9000 124px,#ffa000 128px,#ffa000 132px,#ffa000 136px,#ffa000 140px,#ffa000 144px)"></div><div style="top:36px;background:linear-gradient(90deg,#008cff 0px,#008cff 4px,#008cff 8px,#008cff 12px,#008cff 16px,#00acff 20px,#00cbff 24px,#00a5ff 28px,#0080ff 32px,#0079ff 36px,#0073ff 40px,#0079ff 44px,#0080ff 48px,#0080ff 52px,#0080ff 56px,#0099ff 60px,#00b3ff 64px,#00b9ff 68px,#00bfff 72px,#00d9ff 76px,#00f3ff 80px,#00f3ff 84px,#00f3ff 88px,#2dffd2 92px,#67ff98 96px,#a7ff58 100px,#e7ff18 104px,#ffeb00 108px,#ffbf00 112px,#ff9f00 116px,#ff8000 120px,#ff9900 124px,#ffb300 128px,#ffb300 132px,#ffb300 136px,#ffb300 140px,#ffb300 144px)"></div><div style="top:38px;background:linear-gradient(90deg,#0080ff 0px,#0080ff 4px,#0080ff 8px,#0080ff 12px,#0080ff 16px,#009fff 20px,#00bfff 24px,#009fff 28px,#0080ff 32px,#007fff 36px,#007fff 40px,#007fff 44px,#0080ff 48px,#0080ff 52px,#0080ff 56px,#009fff 60px,#00bfff 64px,#00bfff 68px,#00bfff 72px,#00dfff 76px,#00ffff 80px,#00ffff 84px,#00ffff 88px,#40ffbf 92px,#7fff80 96px,#bfff40 100px,#ffff00 104px,#ffdf00 108px,#ffbf00 112px,#ff9f00 116px,#ff8000 120px,#ff9f00 124px,#ffbf00 128px,#ffbf00 132px,#ffbf00 136px,#ffbf00 140px,#ffbf00 144px)"></div><div style="top:40px;background:linear-gradient(90deg,#0080ff 0px,#0080ff 4px,#0080ff 8px,#0080ff 12px,#0080ff 16px,#009fff 20px,#00bfff 24px,#00a5ff 28px,#008bff 32px,#008bff 36px,#008bff 40px,#008bff 44px,#008bff 48px,#008bff 52px,#008bff 56px,#00abff 60px,#00cbff 64px,#00cbff 68px,#00cbff 72px,#00e5ff 76px,#00ffff 80px,#0cfff3 84px,#17ffe8 88px,#5dffa2 92px,#a2ff5d 96px,#e2ff1d 100px,#ffdc00 104px,#ffc200 108px,#ffa800 112px,#ff9400 116px,#ff8000 120px,#ff9a00 124px,#ffb400 128px,#ffb400 132px,#ffb400 136px,#ffb400 140px,#ffb400 144px)"></div><div style="top:42px;background:linear-gradient(90deg,#008cff 0px,#008cff 4px,#0086ff 8px,#0079ff 12px,#0073ff 16px,#0093ff 20px,#00b2ff 24px,#009fff 28px,#008bff 32px,#008bff 36px,#008bff 40px,#0091ff 44px,#0098ff 48px,#0098ff 52px,#009eff 56px,#00beff 60px,#00d8ff 64px,#00d8ff 68px,#00d8ff 72px,#00ebff 76px,#00ffff 80px,#1effe1 84px,#3dffc2 88px,#8cff73 92px,#daff25 96px,#ffe400 100px,#ffa400 104px,#ff9300 108px,#ff8300 112px,#ff8100 116px,#ff8000 120px,#ff9000 124px,#ffa100 128px,#ffa100 132px,#ffa100 136px,#ffa100 140px,#ffa100 144px)"></div><div style="top:44px;background:linear-gradient(90deg,#009eff 0px,#009eff 4px,#008bff 8px,#0070ff 12px,#0068ff 16px,#0081ff 20px,#0099ff 24px,#0087ff 28px,#0071ff 32px,#006dff 36px,#006dff 40px,#007dff 44px,#008cff 48px,#008cff 52px,#009fff 56px,#00bfff 60px,#00cfff 64px,#00d3ff 68px,#00d3ff 72px,#00e9ff 76px,#00ffff 80px,#32ffcd 84px,#63ff9c 88px,#bcff43 92px,#ffea00 96px,#ffaa00 100px,#ff6a00 104px,#ff6300 108px,#ff5c00 112px,#ff6e00 116px,#ff8000 120px,#ff8700 124px,#ff8e00 128px,#ff8e00 132px,#ff8e00 136px,#ff8e00 140px,#ff8e00 144px)"></div><div style="top:46px;background:linear-gradient(90deg,#008cff 0px,#008cff 4px,#006cff 8px,#0079ff 12px,#00a7ff 16px,#0093ff 20px,#0080ff 24px,#0079ff 28px,#0059ff 32px,#0040ff 36px,#0040ff 40px,#0046ff 44px,#004cff 48px,#004cff 52px,#006cff 56px,#008cff 60px,#00a6ff 64px,#00bfff 68px,#00bfff 72px,#00dfff 76px,#00ffff 80px,#3fffc0 84px,#7eff81 88px,#ddff22 92px,#ffc200 96px,#ff8200 100px,#ff4300 104px,#ff4200 108px,#ff4200 112px,#ff6100 116px,#ff8000 120px,#ff8000 124px,#ff8000 128px,#ff8000 132px,#ff8000 136px,#ff8000 140px,#ff8000 144px)"></div><div style="top:48px;background:linear-gradient(90deg,#0067ff 0px,#0067ff 4px,#0053ff 8px,#0080ff 12px,#00c5ff 16px,#00b2ff 20px,#0098ff 24px,#0098ff 28px,#0078ff 32px,#0058ff 36px,#0058ff 40px,#0046ff 44px,#0033ff 48px,#0033ff 52px,#0053ff 56px,#0079ff 60px,#009fff 64px,#00bfff 68px,#00bfff 72px,#00dfff 76px,#07fff8 80px,#49ffb6 84px,#89ff76 88px,#f3ff0c 92px,#ffa200 96px,#ff6c00 100px,#ff3600 104px,#ff3600 108px,#ff3600 112px,#ff5600 116px,#ff7600 120px,#ff7600 124px,#ff7600 128px,#ff7600 132px,#ff7600 136px,#ff7600 140px,#ff7600 144px)"></div><div style="top:50px;background:linear-gradient(90deg,#0019ff 0px,#0019ff 4px,#002cff 8px,#0080ff 12px,#00d9ff 16px,#00ecff 20px,#00e6ff 24px,#00e6ff 28px,#00c6ff 32px,#00a7ff 36px,#00a7ff 40px,#0059ff 44px,#000cff 48px,#000cff 52px,#002cff 56px,#0066ff 60px,#009fff 64px,#00bfff 68px,#00bfff 72px,#00dfff 76px,#1affe5 80px,#5cffa3 84px,#9cff63 88px,#ffe700 92px,#ff6b00 96px,#ff4700 100px,#ff2400 104px,#ff2400 108px,#ff2400 112px,#ff4400 116px,#ff6300 120px,#ff6300 124px,#ff6300 128px,#ff6300 132px,#ff6300 136px,#ff6300 140px,#ff6300 144px)"></div><div style="top:52px;background:linear-gradient(90deg,#0000ff 0px,#0000ff 4px,#0020ff 8px,#0079ff 12px,#00d9ff 16px,#00ffff 20px,#00ffff 24px,#00ffff 28px,#00dfff 32px,#00bfff 36px,#00bfff 40px,#0060ff 44px,#0000ff 48px,#0000ff 52px,#001aff 56px,#0053ff 60px,#0093ff 64px,#00b9ff 68px,#00c5ff 72px,#00ebff 76px,#2dffd2 80px,#6fff90 84px,#afff50 88px,#ffc000 92px,#ff3100 96px,#ff2000 100px,#ff1000 104px,#ff1000 108px,#ff1000 112px,#ff3000 116px,#ff5000 120px,#ff5000 124px,#ff5000 128px,#ff5000 132px,#ff5000 136px,#ff5000 140px,#ff5000 144px)"></div><div style="top:54px;background:linear-gradient(90deg,#0000ff 0px,#0000ff 4px,#0020ff 8px,#0066ff 12px,#00c5ff 16px,#00ffff 20px,#00ffff 24px,#00ffff 28px,#00dfff 32px,#00bfff 36px,#00bfff 40px,#0060ff 44px,#0000ff 48px,#0000ff 52px,#0006ff 56px,#002cff 60px,#006cff 64px,#00a6ff 68px,#00d9ff 72px,#14ffeb 76px,#4fffb0 80px,#7eff81 84px,#bdff42 88px,#ffa300 92px,#ff0600 96px,#ff0400 100px,#ff0200 104px,#ff0200 108px,#ff0200 112px,#ff2200 116px,#ff4200 120px,#ff4200 124px,#ff4200 128px,#ff4200 132px,#ff4200 136px,#ff4200 140px,#ff4200 144px)"></div><div style="top:56px;background:linear-gradient(90deg,#0000ff 0px,#0000ff 4px,#001aff 8px,#0053ff 12px,#00adff 16px,#00ecff 20px,#00f9ff 24px,#00f9ff 28px,#00d3ff 32px,#00b3ff 36px,#00b3ff 40px,#0059ff 44px,#0000ff 48px,#0000ff 52px,#0000ff 56px,#0020ff 60px,#0060ff 64px,#009fff 68px,#00dfff 72px,#26ffd9 76px,#63ff9c 80px,#8bff74 84px,#d7ff28 88px,#ff9300 92px,#ff0000 96px,#ff0000 100px,#ff0000 104px,#ff0000 108px,#ff0000 112px,#ff1c00 116px,#ff3800 120px,#ff3c00 124px,#ff4000 128px,#ff4000 132px,#ff4000 136px,#ff4000 140px,#ff4000 144px)"></div><div style="top:58px;background:linear-gradient(90deg,#0000ff 0px,#0000ff 4px,#0006ff 8px,#002cff 12px,#0072ff 16px,#00b2ff 20px,#00e5ff 24px,#00e5ff 28px,#00acff 32px,#008cff 36px,#008cff 40px,#0046ff 44px,#0000ff 48px,#0000ff 52px,#0000ff 56px,#0020ff 60px,#0060ff 64px,#009fff 68px,#00dfff 72px,#3affc5 76px,#82ff7d 80px,#a6ff59 84px,#fff200 88px,#ff7900 92px,#ff0000 96px,#ff0000 100px,#ff0000 104px,#ff0000 108px,#ff0000 112px,#ff1300 116px,#ff2600 120px,#ff3300 124px,#ff4000 128px,#ff4000 132px,#ff4000 136px,#ff4000 140px,#ff4000 144px)"></div><div style="top:60px;background:linear-gradient(90deg,#0056ff 0px,#0056ff 4px,#002bff 8px,#001aff 12px,#004dff 16px,#0087ff 20px,#00c0ff 24px,#00c0ff 28px,#008dff 32px,#0073ff 36px,#0073ff 40px,#003aff 44px,#0000ff 48px,#0000ff 52px,#0000ff 56px,#0020ff 60px,#0060ff 64px,#009fff 68px,#00e5ff 72px,#4cffb3 76px,#96ff69 80px,#c4ff3b 84px,#ffb600 88px,#ff5b00 92px,#ff0000 96px,#ff0000 100px,#ff0000 104px,#ff0000 108px,#ff0000 112px,#ff0900 116px,#ff1200 120px,#ff2900 124px,#ff4000 128px,#ff4000 132px,#ff4000 136px,#ff4000 140px,#ff4000 144px)"></div><div style="top:62px;background:linear-gradient(90deg,#69ff96 0px,#69ff96 4px,#00b4ff 8px,#0006ff 12px,#0013ff 16px,#0039ff 20px,#005fff 24px,#005fff 28px,#0052ff 32px,#004cff 36px,#004cff 40px,#0026ff 44px,#0000ff 48px,#0000ff 52px,#0000ff 56px,#0020ff 60px,#0060ff 64px,#009fff 68px,#00f9ff 72px,#73ff8c 76px,#b5ff4a 80px,#daff25 84px,#ff8900 88px,#ff4400 92px,#ff0000 96px,#ff0000 100px,#ff0000 104px,#ff0000 108px,#ff0000 112px,#ff0200 116px,#ff0300 120px,#ff2100 124px,#ff4000 128px,#ff4000 132px,#ff4000 136px,#ff4000 140px,#ff4000 144px)"></div><div style="top:64px;background:linear-gradient(90deg,#e4ff1b 0px,#e4ff1b 4px,#24ffdb 8px,#0038ff 12px,#0006ff 16px,#001aff 20px,#0033ff 24px,#0033ff 28px,#0033ff 32px,#0033ff 36px,#0033ff 40px,#001aff 44px,#0000ff 48px,#0000ff 52px,#0006ff 56px,#0026ff 60px,#0060ff 64px,#00a6ff 68px,#0cfff3 72px,#92ff6d 76px,#d1ff2e 80px,#e9ff16 84px,#ff7900 88px,#ff3d00 92px,#ff0000 96px,#ff0000 100px,#ff0000 104px,#ff0000 108px,#ff0000 112px,#ff0000 116px,#ff0000 120px,#ff2000 124px,#ff4000 128px,#ff4300 132px,#ff4600 136px,#ff4600 140px,#ff4600 144px)"></div><div style="top:66px;background:linear-gradient(90deg,#ffa500 0px,#ffa500 4px,#fbff04 8px,#00e7ff 12px,#001aff 16px,#0006ff 20px,#000cff 24px,#000cff 28px,#000cff 32px,#000cff 36px,#000cff 40px,#0006ff 44px,#0000ff 48px,#0000ff 52px,#001aff 56px,#003aff 60px,#0060ff 64px,#00b9ff 68px,#33ffcc 72px,#cdff32 76px,#fff800 80px,#fffc00 84px,#ff6800 88px,#ff3400 92px,#ff0000 96px,#ff0000 100px,#ff0000 104px,#ff0000 108px,#ff0000 112px,#ff0000 116px,#ff0000 120px,#ff2000 124px,#ff4000 128px,#ff4b00 132px,#ff5700 136px,#ff5700 140px,#ff5700 144px)"></div><div style="top:68px;background:linear-gradient(90deg,#ff8000 0px,#ff8000 4px,#ffb300 8px,#57ffa8 12px,#0057ff 16px,#000cff 20px,#0000ff 24px,#0000ff 28px,#0000ff 32px,#0000ff 36px,#0000ff 40px,#0000ff 44px,#0000ff 48px,#0006ff 52px,#0026ff 56px,#0046ff 60px,#006cff 64px,#00eaff 68px,#7eff81 72px,#f8ff07 76px,#ffdc00 80px,#ffde00 84px,#ff5400 88px,#ff2a00 92px,#ff0000 96px,#ff0000 100px,#ff0000 104px,#ff0000 108px,#ff0000 112px,#ff0000 116px,#ff0000 120px,#ff2000 124px,#ff4000 128px,#ff5500 132px,#ff6b00 136px,#ff6b00 140px,#ff6b00 144px)"></div><div style="top:70px;background:linear-gradient(90deg,#ff8000 0px,#ff8000 4px,#ff8c00 8px,#fff700 12px,#08fff7 16px,#0033ff 20px,#0000ff 24px,#0000ff 28px,#0000ff 32px,#0000ff 36px,#0000ff 40px,#0000ff 44px,#0000ff 48px,#001aff 52px,#003aff 56px,#0059ff 60px,#0093ff 64px,#74ff8b 68px,#ffbd00 72px,#ffb800 76px,#ffc600 80px,#ffc600 84px,#ff4400 88px,#ff2200 92px,#ff0000 96px,#ff0000 100px,#ff0000 104px,#ff0000 108px,#ff0000 112px,#ff0000 116px,#ff0000 120px,#ff2000 124px,#ff4000 128px,#ff5d00 132px,#ff7b00 136px,#ff7b00 140px,#ff7b00 144px)"></div><div style="top:72px;background:linear-gradient(90deg,#ff8000 0px,#ff8000 4px,#ff8000 8px,#ffb300 12px,#77ff88 16px,#0084ff 20px,#001fff 24px,#0006ff 28px,#0000ff 32px,#0000ff 36px,#0000ff 40px,#0000ff 44px,#0006ff 48px,#0026ff 52px,#0040ff 56px,#0060ff 60px,#00a6ff 64px,#a6ff59 68px,#ff7900 72px,#ff9300 76px,#ffb100 80px,#ffb300 84px,#ff3b00 88px,#ff1d00 92px,#ff0000 96px,#ff0000 100px,#ff0000 104px,#ff0000 108px,#ff0000 112px,#ff0200 116px,#ff0500 120px,#ff2500 124px,#ff4500 128px,#ff6200 132px,#ff8000 136px,#ff8000 140px,#ff8000 144px)"></div><div style="top:74px;background:linear-gradient(90deg,#ff8000 0px,#ff8000 4px,#ff8000 8px,#ff8c00 12px,#ffd700 16px,#5bffa4 20px,#0080ff 24px,#001aff 28px,#0000ff 32px,#0000ff 36px,#0000ff 40px,#0000ff 44px,#001aff 48px,#003aff 52px,#0040ff 56px,#0060ff 60px,#00b9ff 64px,#b9ff46 68px,#ff6600 72px,#ff6c00 76px,#ff8500 80px,#ff8a00 84px,#ff2b00 88px,#ff1500 92px,#ff0000 96px,#ff0000 100px,#ff0000 104px,#ff0000 108px,#ff0000 112px,#ff0b00 116px,#ff1500 120px,#ff3500 124px,#ff5500 128px,#ff6a00 132px,#ff8000 136px,#ff8000 140px,#ff8000 144px)"></div><div style="top:76px;background:linear-gradient(90deg,#ff8000 0px,#ff8000 4px,#ff8000 8px,#ff7900 12px,#ff8d00 16px,#d7ff28 20px,#00fcff 24px,#0076ff 28px,#0031ff 32px,#0013ff 36px,#000cff 40px,#000cff 44px,#002cff 48px,#004cff 52px,#004cff 56px,#006cff 60px,#00c5ff 64px,#b3ff4c 68px,#ff7200 72px,#ff6600 76px,#ff6b00 80px,#ff5900 84px,#ff1700 88px,#ff0b00 92px,#ff0000 96px,#ff0000 100px,#ff0000 104px,#ff0000 108px,#ff0000 112px,#ff1500 116px,#ff2900 120px,#ff4900 124px,#ff6900 128px,#ff7400 132px,#ff8000 136px,#ff8000 140px,#ff8000 144px)"></div><div style="top:78px;background:linear-gradient(90deg,#ff8000 0px,#ff8000 4px,#ff8000 8px,#ff6600 12px,#ff5200 16px,#ff7700 20px,#ffdc00 24px,#89ff76 28px,#00ceff 32px,#004dff 36px,#0033ff 40px,#0033ff 44px,#0053ff 48px,#0073ff 52px,#0073ff 56px,#0093ff 60px,#00d9ff 64px,#8cff73 68px,#ffad00 72px,#ff7900 76px,#ff5e00 80px,#ff2f00 84px,#ff0600 88px,#ff0300 92px,#ff0000 96px,#ff0000 100px,#ff0000 104px,#ff0000 108px,#ff0000 112px,#ff1d00 116px,#ff3a00 120px,#ff5a00 124px,#ff7a00 128px,#ff7d00 132px,#ff8000 136px,#ff8000 140px,#ff8000 144px)"></div><div style="top:80px;background:linear-gradient(90deg,#ff8000 0px,#ff8000 4px,#ff8000 8px,#ff6000 12px,#ff4000 16px,#ff3a00 20px,#ff6700 24px,#ffed00 28px,#50ffaf 32px,#00bcff 36px,#008aff 40px,#0096ff 44px,#00c2ff 48px,#00c3ff 52px,#00a5ff 56px,#00b2ff 60px,#00ebff 64px,#79ff86 68px,#ffd200 72px,#ff8600 76px,#ff5500 80px,#ff2300 84px,#ff0400 88px,#ff0400 92px,#ff0400 96px,#ff0400 100px,#ff0400 104px,#ff0500 108px,#ff0700 112px,#ff2500 116px,#ff4300 120px,#ff6300 124px,#ff8300 128px,#ff8300 132px,#ff8300 136px,#ff8300 140px,#ff8300 144px)"></div><div style="top:82px;background:linear-gradient(90deg,#ff8000 0px,#ff8000 4px,#ff8000 8px,#ff6000 12px,#ff4000 16px,#ff2600 20px,#ff1900 24px,#ff5100 28px,#ffb000 32px,#e2ff1d 36px,#75ff8a 40px,#a9ff56 44px,#fcff03 48px,#9bff64 52px,#1bffe4 56px,#00ecff 60px,#14ffeb 64px,#66ff99 68px,#f2ff0d 72px,#ff9900 76px,#ff4800 80px,#ff3300 84px,#ff1300 88px,#ff1300 92px,#ff1300 96px,#ff1300 100px,#ff1300 104px,#ff1d00 108px,#ff2600 112px,#ff3c00 116px,#ff5300 120px,#ff7300 124px,#ff9300 128px,#ff9300 132px,#ff9300 136px,#ff9300 140px,#ff9300 144px)"></div><div style="top:84px;background:linear-gradient(90deg,#ff8000 0px,#ff8000 4px,#ff8000 8px,#ff6600 12px,#ff4600 16px,#ff2000 20px,#ff0000 24px,#ff1a00 28px,#ff4d00 32px,#ff9a00 36px,#fdff02 40px,#ffd400 44px,#ff9300 48px,#f2ff0d 52px,#52ffad 56px,#06fff9 60px,#20ffdf 64px,#60ff9f 68px,#d9ff26 72px,#ff9f00 76px,#ff4300 80px,#ff4700 84px,#ff2700 88px,#ff2700 92px,#ff2700 96px,#ff2700 100px,#ff2700 104px,#ff3a00 108px,#ff4e00 112px,#ff5a00 116px,#ff6700 120px,#ff8600 124px,#ffa600 128px,#ffa600 132px,#ffa600 136px,#ffa600 140px,#ffa600 144px)"></div><div style="top:86px;background:linear-gradient(90deg,#ff9600 0px,#ff9600 4px,#ff9600 8px,#ff8700 12px,#ff6900 16px,#ff3900 20px,#ff1900 24px,#ff1d00 28px,#ff2500 32px,#ff3700 36px,#ff4d00 40px,#ff6500 44px,#ff8900 48px,#ffcf00 52px,#c5ff3a 56px,#6bff94 60px,#5affa5 64px,#78ff87 68px,#acff53 72px,#ffc300 76px,#ff5100 80px,#ff5800 84px,#ff3800 88px,#ff3800 92px,#ff3800 96px,#ff3800 100px,#ff3800 104px,#ff5400 108px,#ff7100 112px,#ff7400 116px,#ff7800 120px,#ff9800 124px,#ffb800 128px,#ffb800 132px,#ffb800 136px,#ffb800 140px,#ffb800 144px)"></div><div style="top:88px;background:linear-gradient(90deg,#ffb400 0px,#ffb400 4px,#ffb400 8px,#ff9c00 12px,#ff7d00 16px,#ff5800 20px,#ff3900 24px,#ff3a00 28px,#ff3a00 32px,#ff3a00 36px,#ff3a00 40px,#ff5900 44px,#ff7f00 48px,#ffaa00 52px,#ffe300 56px,#d0ff2f 60px,#9eff61 64px,#92ff6d 68px,#8cff73 72px,#ffef00 76px,#ff7600 80px,#ff6700 84px,#ff4700 88px,#ff4700 92px,#ff4700 96px,#ff4700 100px,#ff4700 104px,#ff6500 108px,#ff8400 112px,#ff8500 116px,#ff8600 120px,#ffa500 124px,#ffc400 128px,#ffc400 132px,#ffc400 136px,#ffc400 140px,#ffc400 144px)"></div><div style="top:90px;background:linear-gradient(90deg,#ffd000 0px,#ffd000 4px,#ffd000 8px,#ffb900 12px,#ffa100 16px,#ff8a00 20px,#ff7200 24px,#ff7b00 28px,#ff8300 32px,#ff8300 36px,#ff8300 40px,#ff9b00 44px,#ffb200 48px,#ffca00 52px,#ffe100 56px,#e6ff19 60px,#aeff51 64px,#97ff68 68px,#80ff80 72px,#e6ff19 76px,#ffb200 80px,#ff9200 84px,#ff7200 88px,#ff7200 92px,#ff7200 96px,#ff7200 100px,#ff7200 104px,#ff8a00 108px,#ffa100 112px,#ffaa00 116px,#ffb200 120px,#ffca00 124px,#ffe100 128px,#ffe100 132px,#ffe100 136px,#ffe100 140px,#ffe100 144px)"></div><div style="top:92px;background:linear-gradient(90deg,#ffe400 0px,#ffe400 4px,#ffe400 8px,#ffd600 12px,#ffc900 16px,#ffbb00 20px,#ffad00 24px,#ffc000 28px,#ffd200 32px,#ffd200 36px,#ffd200 40px,#ffdf00 44px,#ffed00 48px,#fffb00 52px,#f6ff09 56px,#c8ff37 60px,#9bff64 64px,#8dff72 68px,#80ff80 72px,#c8ff37 76px,#ffed00 80px,#ffcd00 84px,#ffad00 88px,#ffad00 92px,#ffad00 96px,#ffad00 100px,#ffad00 104px,#ffbb00 108px,#ffc900 112px,#ffdb00 116px,#ffed00 120px,#fffb00 124px,#f6ff09 128px,#f6ff09 132px,#f6ff09 136px,#f6ff09 140px,#f6ff09 144px)"></div><div style="top:94px;background:linear-gradient(90deg,#fff600 0px,#fff600 4px,#fff600 8px,#fff100 12px,#ffed00 16px,#ffe800 20px,#ffe400 24px,#ffff00 28px,#e4ff1b 32px,#e4ff1b 36px,#e4ff1b 40px,#dfff20 44px,#dbff24 48px,#d6ff29 52px,#d2ff2d 56px,#adff52 60px,#89ff76 64px,#84ff7b 68px,#80ff80 72px,#adff52 76px,#dbff24 80px,#fbff04 84px,#ffe400 88px,#ffe400 92px,#ffe400 96px,#ffe400 100px,#ffe400 104px,#ffe800 108px,#ffed00 112px,#f6ff09 116px,#dbff24 120px,#d6ff29 124px,#d2ff2d 128px,#d2ff2d 132px,#d2ff2d 136px,#d2ff2d 140px,#d2ff2d 144px)"></div><div style="top:96px;background:linear-gradient(90deg,#fbff04 0px,#fbff04 4px,#fbff04 8px,#fbff04 12px,#fbff04 16px,#fbff04 20px,#fbff04 24px,#dbff24 28px,#bbff44 32px,#bbff44 36px,#bbff44 40px,#bbff44 44px,#bbff44 48px,#bbff44 52px,#bbff44 56px,#9cff63 60px,#7dff82 64px,#7cff83 68px,#7cff83 72px,#9bff64 76px,#baff45 80px,#d9ff26 84px,#f7ff08 88px,#f7ff08 92px,#f6ff09 96px,#f6ff09 100px,#f6ff09 104px,#f6ff09 108px,#f6ff09 112px,#d7ff28 116px,#b8ff47 120px,#b8ff47 124px,#b9ff46 128px,#b9ff46 132px,#b9ff46 136px,#b9ff46 140px,#b9ff46 144px)"></div><div style="top:98px;background:linear-gradient(90deg,#d3ff2c 0px,#d3ff2c 4px,#d3ff2c 8px,#d3ff2c 12px,#d3ff2c 16px,#d3ff2c 20px,#d3ff2c 24px,#b3ff4c 28px,#93ff6c 32px,#93ff6c 36px,#93ff6c 40px,#93ff6c 44px,#93ff6c 48px,#93ff6c 52px,#93ff6c 56px,#7aff85 60px,#62ff9d 64px,#5affa5 68px,#53ffac 72px,#6cff93 76px,#84ff7b 80px,#95ff6a 84px,#a6ff59 88px,#9fff60 92px,#97ff68 96px,#97ff68 100px,#97ff68 104px,#97ff68 108px,#97ff68 112px,#7fff80 116px,#66ff99 120px,#6eff91 124px,#75ff8a 128px,#75ff8a 132px,#75ff8a 136px,#75ff8a 140px,#75ff8a 144px)"></div><div style="top:100px;background:linear-gradient(90deg,#98ff67 0px,#98ff67 4px,#98ff67 8px,#98ff67 12px,#98ff67 16px,#98ff67 20px,#98ff67 24px,#79ff86 28px,#59ffa6 32px,#59ffa6 36px,#59ffa6 40px,#59ffa6 44px,#59ffa6 48px,#59ffa6 52px,#59ffa6 56px,#4affb5 60px,#3bffc4 64px,#2affd5 68px,#19ffe6 72px,#28ffd7 76px,#36ffc9 80px,#34ffcb 84px,#32ffcd 88px,#21ffde 92px,#10ffef 96px,#10ffef 100px,#10ffef 104px,#10ffef 108px,#10ffef 112px,#01fffe 116px,#00f1ff 120px,#03fffc 124px,#14ffeb 128px,#14ffeb 132px,#14ffeb 136px,#14ffeb 140px,#14ffeb 144px)"></div><div style="top:102px;background:linear-gradient(90deg,#61ff9e 0px,#61ff9e 4px,#61ff9e 8px,#61ff9e 12px,#61ff9e 16px,#61ff9e 20px,#61ff9e 24px,#41ffbe 28px,#21ffde 32px,#21ffde 36px,#21ffde 40px,#21ffde 44px,#21ffde 48px,#21ffde 52px,#21ffde 56px,#1bffe4 60px,#16ffe9 64px,#00faff 68px,#00e0ff 72px,#00e6ff 76px,#00ebff 80px,#00d6ff 84px,#00c1ff 88px,#00a7ff 92px,#008cff 96px,#008cff 100px,#008cff 104px,#008cff 108px,#008cff 112px,#0087ff 116px,#0081ff 120px,#009cff 124px,#00b6ff 128px,#00b6ff 132px,#00b6ff 136px,#00b6ff 140px,#00b6ff 144px)"></div><div style="top:104px;background:linear-gradient(90deg,#40ffbf 0px,#40ffbf 4px,#40ffbf 8px,#40ffbf 12px,#40ffbf 16px,#40ffbf 20px,#40ffbf 24px,#20ffdf 28px,#00ffff 32px,#00ffff 36px,#00ffff 40px,#00ffff 44px,#00ffff 48px,#00ffff 52px,#00ffff 56px,#00ffff 60px,#00ffff 64px,#00dfff 68px,#00bfff 72px,#00bfff 76px,#00bfff 80px,#009fff 84px,#0080ff 88px,#0060ff 92px,#0040ff 96px,#0040ff 100px,#0040ff 104px,#0040ff 108px,#0040ff 112px,#0040ff 116px,#0040ff 120px,#0060ff 124px,#0080ff 128px,#0080ff 132px,#0080ff 136px,#0080ff 140px,#0080ff 144px)"></div><div style="top:106px;background:linear-gradient(90deg,#40ffbf 0px,#40ffbf 4px,#40ffbf 8px,#40ffbf 12px,#40ffbf 16px,#40ffbf 20px,#40ffbf 24px,#20ffdf 28px,#00ffff 32px,#00ffff 36px,#00ffff 40px,#00ffff 44px,#00ffff 48px,#00ffff 52px,#00ffff 56px,#00ffff 60px,#00ffff 64px,#00dfff 68px,#00bfff 72px,#00bfff 76px,#00bfff 80px,#009fff 84px,#0080ff 88px,#0060ff 92px,#0040ff 96px,#0040ff 100px,#0040ff 104px,#0040ff 108px,#0040ff 112px,#0040ff 116px,#0040ff 120px,#0060ff 124px,#0080ff 128px,#0080ff 132px,#0080ff 136px,#0080ff 140px,#0080ff 144px)"></div><div style="top:108px;background:linear-gradient(90deg,#40ffbf 0px,#40ffbf 4px,#40ffbf 8px,#40ffbf 12px,#40ffbf 16px,#40ffbf 20px,#40ffbf 24px,#20ffdf 28px,#00ffff 32px,#00ffff 36px,#00ffff 40px,#00ffff 44px,#00ffff 48px,#00ffff 52px,#00ffff 56px,#00ffff 60px,#00ffff 64px,#00dfff 68px,#00bfff 72px,#00bfff 76px,#00bfff 80px,#009fff 84px,#0080ff 88px,#0060ff 92px,#0040ff 96px,#0040ff 100px,#0040ff 104px,#0040ff 108px,#0040ff 112px,#0040ff 116px,#0040ff 120px,#0060ff 124px,#0080ff 128px,#0080ff 132px,#0080ff 136px,#0080ff 140px,#0080ff 144px)"></div><div style="top:110px;background:linear-gradient(90deg,#40ffbf 0px,#40ffbf 4px,#40ffbf 8px,#40ffbf 12px,#40ffbf 16px,#40ffbf 20px,#40ffbf 24px,#20ffdf 28px,#00ffff 32px,#00ffff 36px,#00ffff 40px,#00ffff 44px,#00ffff 48px,#00ffff 52px,#00ffff 56px,#00ffff 60px,#00ffff 64px,#00dfff 68px,#00bfff 72px,#00bfff 76px,#00bfff 80px,#009fff 84px,#0080ff 88px,#0060ff 92px,#0040ff 96px,#0040ff 100px,#0040ff 104px,#0040ff 108px,#0040ff 112px,#0040ff 116px,#0040ff 120px,#0060ff 124px,#0080ff 128px,#0080ff 132px,#0080ff 136px,#0080ff 140px,#0080ff 144px)"></div></div><svg class="ov" width="136" height="107" viewBox="0 0 136 107"><polyline points="109.1,6.7 114.7,8.1 117.8,11.5 119.9,17.5 124.1,20.4 127.2,25.4 130.3,25.7 135.1,23.6 133.8,27.3 133.0,30.0 131.5,33.6 129.0,33.0 127.4,34.5 127.8,39.4 126.3,41.4 125.5,39.9 124.3,41.4 122.8,42.5 121.1,44.1 118.9,43.3 116.8,45.5 113.4,48.0 110.5,49.1 107.6,50.9 106.8,49.3 108.9,46.9 106.4,45.8 104.3,48.0 102.8,49.6 100.1,50.1 99.5,52.0 101.8,54.4 102.2,55.4 104.9,54.1 107.4,54.6 109.5,56.0 107.4,56.5 104.9,58.5 102.6,61.1 104.9,62.9 106.2,67.1 108.0,69.1 108.3,71.3 107.4,72.2 108.7,73.7 107.6,77.0 106.0,78.6 104.9,80.5 103.5,82.4 102.2,84.5 100.6,86.3 98.7,88.1 97.0,89.7 94.9,90.1 92.4,91.0 90.8,91.5 88.3,92.4 85.6,93.1 84.3,94.4 83.9,95.7 83.3,94.2 82.7,92.8 80.6,92.6 79.4,93.1 77.3,91.7 76.6,90.1 74.8,89.7 73.7,89.0 72.1,90.1 70.8,90.8 69.4,90.4 67.7,90.8 66.5,91.0 66.0,93.5 64.4,93.5 63.1,93.1 61.7,91.7 61.3,89.7 60.2,88.1 58.6,87.2 57.7,87.7 58.1,85.4 59.8,83.1 60.0,79.4 59.4,77.7 57.3,77.5 55.7,75.8 54.4,74.9 52.3,75.6 50.2,76.3 47.3,78.6 45.3,78.6 43.0,78.2 40.9,77.9 39.6,79.8 38.0,78.4 35.1,77.9 32.6,77.2 29.9,76.0 27.0,73.9 23.8,72.9 21.3,71.7 19.1,70.3 18.6,68.6 18.0,67.1 19.9,66.1 18.6,62.9 16.8,60.1 13.9,59.1 11.8,56.5 9.9,55.7 10.5,52.3 8.5,51.7 7.6,49.3 8.7,48.0 11.8,46.3 13.9,46.9 16.6,45.2 19.1,43.0 21.6,42.2 22.0,39.7 22.8,39.1 22.0,36.5 21.3,33.9 24.7,33.0 26.5,32.7 25.9,30.0 27.4,27.3 31.1,28.2 32.8,27.6 33.0,23.6 35.3,22.0 36.3,21.0 37.8,22.9 40.7,24.8 42.6,25.7 44.0,29.1 43.6,33.0 47.1,33.9 50.9,35.3 53.2,35.9 55.2,40.2 59.6,40.8 63.8,40.8 66.5,41.1 70.0,42.8 73.1,43.6 76.9,41.6 82.1,41.1 85.0,39.4 87.5,37.7 86.4,35.6 87.5,33.6 91.0,34.5 95.4,32.7 97.4,29.7 100.8,28.8 103.7,29.1 104.1,27.3 101.2,25.1 99.7,24.8 98.7,25.7 95.2,25.1 96.0,22.3 99.9,20.1 102.6,18.5 102.8,17.2 104.5,12.9 106.8,10.2 109.1,6.7" class="bd"/><polyline points="106.4,84.9 108.3,85.1 107.6,87.4 106.2,91.9 104.7,90.6 104.5,88.6 106.4,84.9" class="bd"/><polyline points="83.9,96.2 85.6,97.1 84.5,99.3 82.7,100.4 80.8,99.7 80.6,97.9 82.1,96.4 83.9,96.2" class="bd"/><polyline points="16.8,60.1 21.1,59.6 25.3,59.3 29.5,58.5 33.6,58.3 37.8,58.5 43.0,59.1" class="pv"/><polyline points="43.0,59.1 45.0,55.2 49.2,51.7 51.9,50.7 52.3,46.6 55.2,40.2" class="pv"/><polyline points="43.0,59.1 46.1,62.4 49.2,64.9 52.3,66.1 56.5,66.6 58.6,66.1 60.0,68.1 60.4,72.2 60.0,75.8 59.4,77.7" class="pv"/><polyline points="51.9,50.7 57.5,50.7 61.7,52.5 65.8,54.6 69.0,56.7 67.9,59.8 65.8,62.9 65.8,64.9" class="pv"/><polyline points="58.6,66.1 60.6,65.4 64.8,65.1 65.8,64.9 67.9,64.1 70.0,63.6 71.7,65.6 74.2,66.8" class="pv"/><polyline points="56.9,40.2 59.6,45.2 62.7,46.6 67.9,49.3 71.0,50.1 71.7,54.6 73.1,59.8 76.2,60.6 78.5,54.6 77.1,49.9 75.2,50.7 72.7,49.3" class="pv"/><polyline points="76.2,60.6 76.4,62.4 74.2,65.6 74.2,66.8" class="pv"/><polyline points="78.5,53.9 80.8,53.9 84.5,50.1 86.0,49.1 88.3,47.4 91.4,46.6 92.9,43.9 96.0,42.5 98.9,41.1 102.6,41.6 105.3,41.1 108.5,41.1 109.5,38.5 108.5,35.3 111.0,33.0 112.6,30.9 111.6,26.0 109.5,23.2 108.5,18.5 111.6,15.2 115.7,9.8" class="pv"/><polyline points="112.6,30.9 116.8,33.3 120.9,35.3 125.1,36.8 127.6,36.5" class="pv"/><polyline points="109.5,38.5 111.6,39.1 114.7,41.9 116.8,45.2" class="pv"/><polyline points="102.8,49.6 103.9,46.6 103.3,43.9 102.6,41.6" class="pv"/><polyline points="84.5,62.1 84.3,56.5 85.8,52.0 86.0,49.1" class="pv"/><polyline points="91.4,46.6 91.8,47.4 91.0,51.2 91.4,54.9 91.2,57.8 89.3,60.6 86.6,61.6 84.5,62.1" class="pv"/><polyline points="74.2,66.8 77.3,68.1 80.4,68.1 82.5,69.1 83.9,67.1 85.6,65.4 84.5,62.1" class="pv"/><polyline points="89.3,60.6 91.8,58.0 94.9,58.3 96.2,62.1 94.9,63.6 96.0,64.9 94.5,67.8 92.9,69.1 89.7,69.3 86.6,67.1 85.6,65.4" class="pv"/><polyline points="94.9,58.3 94.7,56.5 96.6,54.4 99.5,52.5" class="pv"/><polyline points="96.2,62.1 99.1,62.1 101.4,62.1 102.6,61.1" class="pv"/><polyline points="96.2,62.1 99.1,63.1 101.2,64.9 100.8,67.3 102.6,68.6 103.1,70.5 105.3,71.3 107.0,71.7" class="pv"/><polyline points="103.1,70.5 101.2,73.4 100.6,75.3 101.2,77.7 103.3,79.1 104.9,80.3" class="pv"/><polyline points="93.7,67.8 96.0,70.5 97.0,73.9 99.1,74.6 100.6,75.3" class="pv"/><polyline points="97.0,73.9 92.9,73.9 91.8,74.6 92.2,77.0 91.4,79.4 91.8,82.1 91.6,84.0 92.2,85.6 94.3,86.1 96.0,85.4 97.0,83.3 98.5,81.5 100.1,79.4 101.2,77.7" class="pv"/><polyline points="96.0,85.4 98.5,88.3" class="pv"/><polyline points="82.5,74.6 86.6,74.1 89.5,74.6 91.8,74.6" class="pv"/><polyline points="82.5,74.6 84.1,72.2 83.5,69.8 82.7,69.1" class="pv"/><polyline points="82.5,74.6 81.4,77.0 82.1,80.5 82.5,82.8 84.5,83.1 86.2,84.7 88.7,85.1 90.8,84.5 91.6,84.0" class="pv"/><polyline points="86.2,84.7 86.6,87.4 85.6,90.1 83.1,92.8" class="pv"/><polyline points="82.5,82.8 80.0,84.0 77.3,85.6 74.4,85.4 73.1,87.0 74.2,89.0" class="pv"/><polyline points="73.1,86.3 72.1,84.0 71.7,81.5 73.1,79.1 75.2,77.5 77.7,76.3 79.8,75.8 81.4,77.0" class="pv"/><polyline points="59.4,77.7 61.9,76.3 63.3,77.7 65.2,80.3 66.9,82.1 69.0,81.0 70.0,78.2 72.1,78.2 72.1,80.5" class="pv"/><polyline points="79.8,75.8 76.2,77.0 75.2,74.6 75.8,72.2 78.3,69.8 80.4,68.1" class="pv"/><rect x="0.5" y="0.5" width="135" height="106" class="fw"/><path d="M0.3 0.5H10.7M0.3 106.5H10.7M21.1 0.5H31.5M21.1 106.5H31.5M41.9 0.5H52.3M41.9 106.5H52.3M62.7 0.5H73.1M62.7 106.5H73.1M83.5 0.5H93.9M83.5 106.5H93.9M104.3 0.5H114.7M104.3 106.5H114.7M125.1 0.5H135.5M125.1 106.5H135.5M0.5 0.0V18.5M135.5 0.0V18.5M0.5 33.9V48.0M135.5 33.9V48.0M0.5 61.1V73.4M135.5 61.1V73.4M0.5 85.1V96.4M135.5 85.1V96.4" class="fb"/></svg></div>
<div class="cb" style="left:531.5px;top:148px;background:linear-gradient(180deg,#800000 0.00%,#9f0000 3.12%,#bf0000 6.25%,#df0000 9.38%,#ff0000 12.50%,#ff2000 15.62%,#ff4000 18.75%,#ff6000 21.88%,#ff8000 25.00%,#ff9f00 28.12%,#ffbf00 31.25%,#ffdf00 34.38%,#ffff00 37.50%,#dfff20 40.62%,#bfff40 43.75%,#9fff60 46.88%,#80ff80 50.00%,#60ff9f 53.12%,#40ffbf 56.25%,#20ffdf 59.38%,#00ffff 62.50%,#00dfff 65.62%,#00bfff 68.75%,#009fff 71.88%,#0080ff 75.00%,#0060ff 78.12%,#0040ff 81.25%,#0020ff 84.38%,#0000ff 87.50%,#0000df 90.62%,#0000bf 93.75%,#00009f 96.88%,#000080 100.00%)"></div>
<div class="t tk" style="left:523.8px;top:140.4px;width:20px;text-align:center">hPa</div>
<div class="t tk" style="left:538.6px;top:152.9px;width:7.0px;text-align:center">12</div>
<div class="t tk" style="left:538.6px;top:170.4px;width:7.0px;text-align:center">10</div>
<div class="t tk" style="left:538.6px;top:188.1px;width:7.0px;text-align:center">8</div>
<div class="t tk" style="left:538.6px;top:205.9px;width:7.0px;text-align:center">6</div>
<div class="t tk" style="left:538.6px;top:224.0px;width:7.0px;text-align:center">4</div>
<div class="t tk" style="left:538.6px;top:241.8px;width:7.0px;text-align:center">2</div>
<div class="t tk" style="left:375.5px;top:163.0px;width:14px;text-align:right">50°N</div>
<div class="t tk" style="left:375.5px;top:191.8px;width:14px;text-align:right">40°N</div>
<div class="t tk" style="left:375.5px;top:217.8px;width:14px;text-align:right">30°N</div>
<div class="t tk" style="left:375.5px;top:240.9px;width:14px;text-align:right">20°N</div>
<div class="t tk" style="left:377.4px;top:256.8px;width:30px;text-align:center">70°E</div>
<div class="t tk" style="left:398.2px;top:256.8px;width:30px;text-align:center">80°E</div>
<div class="t tk" style="left:419.0px;top:256.8px;width:30px;text-align:center">90°E</div>
<div class="t tk" style="left:439.8px;top:256.8px;width:30px;text-align:center">100°E</div>
<div class="t tk" style="left:460.6px;top:256.8px;width:30px;text-align:center">110°E</div>
<div class="t tk" style="left:481.4px;top:256.8px;width:30px;text-align:center">120°E</div>
<div class="t tk" style="left:502.2px;top:256.8px;width:30px;text-align:center">130°E</div>
<div class="t pl" style="left:395.5px;top:149.5px">(f)</div>
<div class="pn" style="left:32px;top:274px"><div class="w"><div style="top:0px;background:linear-gradient(90deg,#40ffbf 0px,#40ffbf 4px,#40ffbf 8px,#40ffbf 12px,#40ffbf 16px,#40ffbf 20px,#40ffbf 24px,#40ffbf 28px,#40ffbf 32px,#40ffbf 36px,#40ffbf 40px,#20ffdf 44px,#00ffff 48px,#00dfff 52px,#00bfff 56px,#00bfff 60px,#00bfff 64px,#00dfff 68px,#00ffff 72px,#00ffff 76px,#00ffff 80px,#00ffff 84px,#00ffff 88px,#00ffff 92px,#00ffff 96px,#00ffff 100px,#00ffff 104px,#00ffff 108px,#00ffff 112px,#00ffff 116px,#00ffff 120px,#00dfff 124px,#00bfff 128px,#00bfff 132px,#00bfff 136px,#00bfff 140px,#00bfff 144px)"></div><div style="top:2px;background:linear-gradient(90deg,#40ffbf 0px,#40ffbf 4px,#40ffbf 8px,#40ffbf 12px,#40ffbf 16px,#40ffbf 20px,#40ffbf 24px,#40ffbf 28px,#40ffbf 32px,#40ffbf 36px,#40ffbf 40px,#20ffdf 44px,#00ffff 48px,#00dfff 52px,#00bfff 56px,#00bfff 60px,#00bfff 64px,#00dfff 68px,#00ffff 72px,#00ffff 76px,#00ffff 80px,#00ffff 84px,#00ffff 88px,#00ffff 92px,#00ffff 96px,#00ffff 100px,#00ffff 104px,#00ffff 108px,#00ffff 112px,#00ffff 116px,#00ffff 120px,#00dfff 124px,#00bfff 128px,#00bfff 132px,#00bfff 136px,#00bfff 140px,#00bfff 144px)"></div><div style="top:4px;background:linear-gradient(90deg,#40ffbf 0px,#40ffbf 4px,#40ffbf 8px,#40ffbf 12px,#40ffbf 16px,#40ffbf 20px,#40ffbf 24px,#40ffbf 28px,#40ffbf 32px,#40ffbf 36px,#40ffbf 40px,#20ffdf 44px,#00ffff 48px,#00dfff 52px,#00bfff 56px,#00bfff 60px,#00bfff 64px,#00dfff 68px,#00ffff 72px,#00ffff 76px,#00ffff 80px,#00ffff 84px,#00ffff 88px,#00ffff 92px,#00ffff 96px,#00ffff 100px,#00ffff 104px,#00ffff 108px,#00ffff 112px,#00ffff 116px,#00ffff 120px,#00dfff 124px,#00bfff 128px,#00bfff 132px,#00bfff 136px,#00bfff 140px,#00bfff 144px)"></div><div style="top:6px;background:linear-gradient(90deg,#44ffbb 0px,#44ffbb 4px,#44ffbb 8px,#42ffbd 12px,#40ffbf 16px,#40ffbf 20px,#40ffbf 24px,#40ffbf 28px,#40ffbf 32px,#40ffbf 36px,#40ffbf 40px,#20ffdf 44px,#00ffff 48px,#00ddff 52px,#00bbff 56px,#00bfff 60px,#00c3ff 64px,#00e3ff 68px,#04fffb 72px,#04fffb 76px,#04fffb 80px,#04fffb 84px,#04fffb 88px,#04fffb 92px,#04fffb 96px,#04fffb 100px,#04fffb 104px,#02fffd 108px,#00ffff 112px,#00ffff 116px,#00ffff 120px,#00e1ff 124px,#00c3ff 128px,#00c3ff 132px,#00c3ff 136px,#00c3ff 140px,#00c3ff 144px)"></div><div style="top:8px;background:linear-gradient(90deg,#53ffac 0px,#53ffac 4px,#53ffac 8px,#4affb5 12px,#40ffbf 16px,#40ffbf 20px,#40ffbf 24px,#40ffbf 28px,#40ffbf 32px,#40ffbf 36px,#40ffbf 40px,#20ffdf 44px,#00ffff 48px,#00d5ff 52px,#00acff 56px,#00bfff 60px,#00d3ff 64px,#00f3ff 68px,#14ffeb 72px,#14ffeb 76px,#14ffeb 80px,#14ffeb 84px,#14ffeb 88px,#14ffeb 92px,#14ffeb 96px,#14ffeb 100px,#14ffeb 104px,#0afff5 108px,#00ffff 112px,#00ffff 116px,#00ffff 120px,#00e9ff 124px,#00d3ff 128px,#00d3ff 132px,#00d3ff 136px,#00d3ff 140px,#00d3ff 144px)"></div><div style="top:10px;background:linear-gradient(90deg,#67ff98 0px,#67ff98 4px,#67ff98 8px,#54ffab 12px,#40ffbf 16px,#40ffbf 20px,#40ffbf 24px,#40ffbf 28px,#40ffbf 32px,#40ffbf 36px,#40ffbf 40px,#20ffdf 44px,#00ffff 48px,#00cbff 52px,#0098ff 56px,#00bfff 60px,#00e7ff 64px,#08fff7 68px,#28ffd7 72px,#28ffd7 76px,#28ffd7 80px,#28ffd7 84px,#28ffd7 88px,#28ffd7 92px,#28ffd7 96px,#28ffd7 100px,#28ffd7 104px,#14ffeb 108px,#00ffff 112px,#00ffff 116px,#00ffff 120px,#00f3ff 124px,#00e7ff 128px,#00e7ff 132px,#00e7ff 136px,#00e7ff 140px,#00e7ff 144px)"></div><div style="top:12px;background:linear-gradient(90deg,#79ff86 0px,#79ff86 4px,#79ff86 8px,#5cffa3 12px,#40ffbf 16px,#40ffbf 20px,#40ffbf 24px,#40ffbf 28px,#40ffbf 32px,#40ffbf 36px,#40ffbf 40px,#20ffdf 44px,#00ffff 48px,#00c3ff 52px,#0086ff 56px,#00bfff 60px,#00f8ff 64px,#19ffe6 68px,#39ffc6 72px,#39ffc6 76px,#39ffc6 80px,#39ffc6 84px,#39ffc6 88px,#39ffc6 92px,#39ffc6 96px,#39ffc6 100px,#39ffc6 104px,#1cffe3 108px,#00ffff 112px,#00ffff 116px,#00ffff 120px,#00fcff 124px,#00f8ff 128px,#00f8ff 132px,#00f8ff 136px,#00f8ff 140px,#00f8ff 144px)"></div><div style="top:14px;background:linear-gradient(90deg,#85ff7a 0px,#85ff7a 4px,#85ff7a 8px,#66ff99 12px,#48ffb7 16px,#47ffb8 20px,#45ffba 24px,#44ffbb 28px,#42ffbd 32px,#42ffbd 36px,#42ffbd 40px,#20ffdf 44px,#00fcff 48px,#00beff 52px,#0080ff 56px,#00bfff 60px,#00ffff 64px,#20ffdf 68px,#40ffbf 72px,#40ffbf 76px,#40ffbf 80px,#40ffbf 84px,#40ffbf 88px,#40ffbf 92px,#40ffbf 96px,#40ffbf 100px,#40ffbf 104px,#20ffdf 108px,#00ffff 112px,#00ffff 116px,#00ffff 120px,#00ffff 124px,#00ffff 128px,#00ffff 132px,#00ffff 136px,#00ffff 140px,#00ffff 144px)"></div><div style="top:16px;background:linear-gradient(90deg,#a3ff5c 0px,#a3ff5c 4px,#a3ff5c 8px,#8cff73 12px,#75ff8a 16px,#6cff93 20px,#63ff9c 24px,#5affa5 28px,#51ffae 32px,#51ffae 36px,#51ffae 40px,#20ffdf 44px,#00edff 48px,#00b6ff 52px,#0080ff 56px,#00bfff 60px,#00ffff 64px,#20ffdf 68px,#40ffbf 72px,#40ffbf 76px,#40ffbf 80px,#40ffbf 84px,#40ffbf 88px,#40ffbf 92px,#40ffbf 96px,#40ffbf 100px,#40ffbf 104px,#20ffdf 108px,#00ffff 112px,#00ffff 116px,#00ffff 120px,#00ffff 124px,#00ffff 128px,#00ffff 132px,#00ffff 136px,#00ffff 140px,#00ffff 144px)"></div><div style="top:18px;background:linear-gradient(90deg,#caff35 0px,#caff35 4px,#caff35 8px,#bdff42 12px,#b0ff4f 16px,#9dff62 20px,#8aff75 24px,#78ff87 28px,#65ff9a 32px,#65ff9a 36px,#65ff9a 40px,#20ffdf 44px,#00daff 48px,#00adff 52px,#0080ff 56px,#00bfff 60px,#00ffff 64px,#20ffdf 68px,#40ffbf 72px,#40ffbf 76px,#40ffbf 80px,#40ffbf 84px,#40ffbf 88px,#40ffbf 92px,#40ffbf 96px,#40ffbf 100px,#40ffbf 104px,#20ffdf 108px,#00ffff 112px,#00ffff 116px,#00ffff 120px,#00ffff 124px,#00ffff 128px,#00ffff 132px,#00ffff 136px,#00ffff 140px,#00ffff 144px)"></div><div style="top:20px;background:linear-gradient(90deg,#eeff11 0px,#eeff11 4px,#eeff11 8px,#eaff15 12px,#e5ff1a 16px,#caff35 20px,#aeff51 24px,#93ff6c 28px,#77ff88 32px,#77ff88 36px,#77ff88 40px,#20ffdf 44px,#00c8ff 48px,#00a4ff 52px,#0080ff 56px,#00bfff 60px,#00ffff 64px,#20ffdf 68px,#40ffbf 72px,#40ffbf 76px,#40ffbf 80px,#40ffbf 84px,#40ffbf 88px,#40ffbf 92px,#40ffbf 96px,#40ffbf 100px,#40ffbf 104px,#20ffdf 108px,#00ffff 112px,#00ffff 116px,#00ffff 120px,#00ffff 124px,#00ffff 128px,#00ffff 132px,#00ffff 136px,#00ffff 140px,#00ffff 144px)"></div><div style="top:22px;background:linear-gradient(90deg,#fffc00 0px,#fffc00 4px,#fffc00 8px,#fffc00 12px,#fffc00 16px,#e2ff1d 20px,#c2ff3d 24px,#a1ff5e 28px,#80ff80 32px,#7fff80 36px,#7eff81 40px,#20ffdf 44px,#00c1ff 48px,#00a2ff 52px,#0083ff 56px,#00c0ff 60px,#00fdff 64px,#1effe1 68px,#3effc1 72px,#3fffc0 76px,#40ffbf 80px,#41ffbe 84px,#41ffbe 88px,#41ffbe 92px,#40ffbf 96px,#40ffbf 100px,#40ffbf 104px,#20ffdf 108px,#00ffff 112px,#00ffff 116px,#00ffff 120px,#00ffff 124px,#00ffff 128px,#00ffff 132px,#00ffff 136px,#00ffff 140px,#00ffff 144px)"></div><div style="top:24px;background:linear-gradient(90deg,#ffe000 0px,#ffe000 4px,#ffe000 8px,#ffe000 12px,#ffe000 16px,#feff01 20px,#deff21 24px,#afff50 28px,#80ff80 32px,#78ff87 36px,#70ff8f 40px,#20ffdf 44px,#00cfff 48px,#00b7ff 52px,#009fff 56px,#00c7ff 60px,#00efff 64px,#10ffef 68px,#30ffcf 72px,#38ffc7 76px,#40ffbf 80px,#48ffb7 84px,#4fffb0 88px,#48ffb7 92px,#40ffbf 96px,#40ffbf 100px,#40ffbf 104px,#20ffdf 108px,#00ffff 112px,#00ffff 116px,#00ffff 120px,#00ffff 124px,#00ffff 128px,#00ffff 132px,#00ffff 136px,#00ffff 140px,#00ffff 144px)"></div><div style="top:26px;background:linear-gradient(90deg,#ffb900 0px,#ffb900 4px,#ffb900 8px,#ffb900 12px,#ffb900 16px,#ffd900 20px,#fff900 24px,#c2ff3d 28px,#80ff80 32px,#6eff91 36px,#5dffa2 40px,#20ffdf 44px,#00e2ff 48px,#00d4ff 52px,#00c5ff 56px,#00d1ff 60px,#00dcff 64px,#00fcff 68px,#1dffe2 72px,#2effd1 76px,#40ffbf 80px,#51ffae 84px,#63ff9c 88px,#51ffae 92px,#40ffbf 96px,#40ffbf 100px,#40ffbf 104px,#20ffdf 108px,#00ffff 112px,#00ffff 116px,#00ffff 120px,#00ffff 124px,#00ffff 128px,#00ffff 132px,#00ffff 136px,#00ffff 140px,#00ffff 144px)"></div><div style="top:28px;background:linear-gradient(90deg,#ff9400 0px,#ff9400 4px,#ff9400 8px,#ff9400 12px,#ff9400 16px,#ffb400 20px,#ffd400 24px,#d5ff2a 28px,#80ff80 32px,#65ff9a 36px,#4affb5 40px,#20ffdf 44px,#00f5ff 48px,#00f0ff 52px,#00eaff 56px,#00daff 60px,#00caff 64px,#00e9ff 68px,#0afff5 72px,#25ffda 76px,#40ffbf 80px,#5affa5 84px,#75ff8a 88px,#5affa5 92px,#40ffbf 96px,#40ffbf 100px,#40ffbf 104px,#20ffdf 108px,#00ffff 112px,#00ffff 116px,#00ffff 120px,#00ffff 124px,#00ffff 128px,#00ffff 132px,#00ffff 136px,#00ffff 140px,#00ffff 144px)"></div><div style="top:30px;background:linear-gradient(90deg,#ff7f00 0px,#ff7f00 4px,#ff7f00 8px,#ff7f00 12px,#ff8000 16px,#ff9f00 20px,#ffbf00 24px,#e0ff1f 28px,#81ff7e 32px,#61ff9e 36px,#42ffbd 40px,#22ffdd 44px,#03fffc 48px,#02fffd 52px,#02fffd 56px,#00e1ff 60px,#00c1ff 64px,#00e0ff 68px,#00ffff 72px,#20ffdf 76px,#40ffbf 80px,#60ff9f 84px,#80ff7f 88px,#60ff9f 92px,#40ffbf 96px,#40ffbf 100px,#40ffbf 104px,#20ffdf 108px,#00ffff 112px,#00ffff 116px,#00ffff 120px,#00ffff 124px,#00ffff 128px,#00ffff 132px,#00ffff 136px,#00ffff 140px,#00ffff 144px)"></div><div style="top:32px;background:linear-gradient(90deg,#ff7200 0px,#ff7200 4px,#ff7200 8px,#ff7900 12px,#ff8000 16px,#ff9f00 20px,#ffbf00 24px,#edff12 28px,#9aff65 32px,#81ff7e 36px,#68ff97 40px,#4fffb0 44px,#36ffc9 48px,#2fffd0 52px,#28ffd7 56px,#02fffd 60px,#00daff 64px,#00edff 68px,#00ffff 72px,#20ffdf 76px,#40ffbf 80px,#66ff99 84px,#8dff72 88px,#66ff99 92px,#40ffbf 96px,#46ffb9 100px,#4dffb2 104px,#27ffd8 108px,#00ffff 112px,#00ffff 116px,#00ffff 120px,#00ffff 124px,#00ffff 128px,#00ffff 132px,#00ffff 136px,#00ffff 140px,#00ffff 144px)"></div><div style="top:34px;background:linear-gradient(90deg,#ff5f00 0px,#ff5f00 4px,#ff5f00 8px,#ff6f00 12px,#ff8000 16px,#ff9f00 20px,#ffbf00 24px,#fffe00 28px,#c1ff3e 32px,#b1ff4e 36px,#a2ff5d 40px,#92ff6d 44px,#83ff7c 48px,#72ff8d 52px,#62ff9d 56px,#32ffcd 60px,#02fffd 64px,#01fffe 68px,#00ffff 72px,#20ffdf 76px,#40ffbf 80px,#70ff8f 84px,#a0ff5f 88px,#70ff8f 92px,#40ffbf 96px,#50ffaf 100px,#60ff9f 104px,#30ffcf 108px,#00ffff 112px,#00ffff 116px,#00ffff 120px,#00ffff 124px,#00ffff 128px,#00ffff 132px,#00ffff 136px,#00ffff 140px,#00ffff 144px)"></div><div style="top:36px;background:linear-gradient(90deg,#ff4c00 0px,#ff4c00 4px,#ff4c00 8px,#ff6600 12px,#ff8000 16px,#ff9f00 20px,#ffbf00 24px,#ffeb00 28px,#e7ff18 32px,#e1ff1e 36px,#daff25 40px,#d4ff2b 44px,#ceff31 48px,#b4ff4b 52px,#9bff64 56px,#61ff9e 60px,#27ffd8 64px,#14ffeb 68px,#00ffff 72px,#20ffdf 76px,#40ffbf 80px,#79ff86 84px,#b3ff4c 88px,#79ff86 92px,#40ffbf 96px,#5affa5 100px,#73ff8c 104px,#3affc5 108px,#00ffff 112px,#00ffff 116px,#00ffff 120px,#00ffff 124px,#00ffff 128px,#00ffff 132px,#00ffff 136px,#00ffff 140px,#00ffff 144px)"></div><div style="top:38px;background:linear-gradient(90deg,#ff4000 0px,#ff4000 4px,#ff4000 8px,#ff6000 12px,#ff8000 16px,#ff9f00 20px,#ffbf00 24px,#ffdf00 28px,#ffff00 32px,#ffff00 36px,#ffff00 40px,#ffff00 44px,#ffff00 48px,#dfff20 52px,#bfff40 56px,#7fff80 60px,#40ffbf 64px,#20ffdf 68px,#00ffff 72px,#20ffdf 76px,#40ffbf 80px,#7fff80 84px,#bfff40 88px,#7fff80 92px,#40ffbf 96px,#60ff9f 100px,#7fff80 104px,#40ffbf 108px,#00ffff 112px,#00ffff 116px,#00ffff 120px,#00ffff 124px,#00ffff 128px,#00ffff 132px,#00ffff 136px,#00ffff 140px,#00ffff 144px)"></div><div style="top:40px;background:linear-gradient(90deg,#ff3400 0px,#ff3400 4px,#ff3400 8px,#ff6000 12px,#ff8b00 16px,#ffb100 20px,#ffd600 24px,#fff000 28px,#f3ff0c 32px,#eeff11 36px,#e8ff17 40px,#e2ff1d 44px,#dcff23 48px,#bcff43 52px,#9dff62 56px,#68ff97 60px,#34ffcb 64px,#1affe5 68px,#00ffff 72px,#20ffdf 76px,#40ffbf 80px,#7aff85 84px,#b4ff4b 88px,#80ff80 92px,#4bffb4 96px,#60ff9f 100px,#74ff8b 104px,#3affc5 108px,#00ffff 112px,#00ffff 116px,#00ffff 120px,#00ffff 124px,#00ffff 128px,#00ffff 132px,#00ffff 136px,#00ffff 140px,#00ffff 144px)"></div><div style="top:42px;background:linear-gradient(90deg,#ff3400 0px,#ff3400 4px,#ff3b00 8px,#ff7300 12px,#ffab00 16px,#ffd700 20px,#fff600 24px,#faff05 28px,#e7ff18 32px,#dbff24 36px,#ceff31 40px,#bcff43 44px,#a9ff56 48px,#8aff75 52px,#6aff95 56px,#4fffb0 60px,#34ffcb 64px,#27ffd8 68px,#13ffec 72px,#20ffdf 76px,#36ffc9 80px,#70ff8f 84px,#a1ff5e 88px,#80ff80 92px,#5effa1 96px,#60ff9f 100px,#61ff9e 104px,#31ffce 108px,#00ffff 112px,#00ffff 116px,#00ffff 120px,#00ffff 124px,#00ffff 128px,#00ffff 132px,#00ffff 136px,#00ffff 140px,#00ffff 144px)"></div><div style="top:44px;background:linear-gradient(90deg,#ff4300 0px,#ff4300 4px,#ff5600 8px,#ff9200 12px,#ffd000 16px,#f5ff0a 20px,#e3ff1c 24px,#e0ff1f 28px,#ceff31 32px,#c4ff3b 36px,#bdff42 40px,#abff54 44px,#96ff69 48px,#7aff85 52px,#61ff9e 56px,#5cffa3 60px,#52ffad 64px,#4fffb0 68px,#39ffc6 72px,#20ffdf 76px,#21ffde 80px,#67ff98 84px,#8eff71 88px,#80ff80 92px,#71ff8e 96px,#60ff9f 100px,#4effb1 104px,#27ffd8 108px,#00ffff 112px,#00ffff 116px,#00ffff 120px,#00ffff 124px,#00ffff 128px,#00ffff 132px,#00ffff 136px,#00ffff 140px,#00ffff 144px)"></div><div style="top:46px;background:linear-gradient(90deg,#ff1900 0px,#ff1900 4px,#ff3900 8px,#ff8c00 12px,#fff900 16px,#7fff80 20px,#38ffc7 24px,#38ffc7 28px,#31ffce 32px,#31ffce 36px,#4bffb4 40px,#78ff87 44px,#8cff73 48px,#86ff79 52px,#99ff66 56px,#99ff66 60px,#80ff80 64px,#80ff80 68px,#60ff9f 72px,#20ffdf 76px,#0dfff2 80px,#60ff9f 84px,#80ff7f 88px,#80ff80 92px,#7fff80 96px,#60ff9f 100px,#41ffbe 104px,#20ffdf 108px,#00ffff 112px,#00ffff 116px,#00ffff 120px,#00ffff 124px,#00ffff 128px,#00ffff 132px,#00ffff 136px,#00ffff 140px,#00ffff 144px)"></div><div style="top:48px;background:linear-gradient(90deg,#ff2500 0px,#ff2500 4px,#ff4500 8px,#ff9200 12px,#ffff00 16px,#60ff9f 20px,#00ffff 24px,#00ffff 28px,#00ffff 32px,#00ffff 36px,#1affe5 40px,#59ffa6 44px,#8cff73 48px,#98ff67 52px,#b2ff4d 56px,#acff53 60px,#8cff73 64px,#8cff73 68px,#6cff93 72px,#2cffd3 76px,#17ffe8 80px,#5bffa4 84px,#76ff89 88px,#6cff93 92px,#62ff9d 96px,#42ffbd 100px,#23ffdc 104px,#0cfff3 108px,#00f5ff 112px,#00ffff 116px,#0afff5 120px,#0ffff0 124px,#13ffec 128px,#13ffec 132px,#13ffec 136px,#13ffec 140px,#13ffec 144px)"></div><div style="top:50px;background:linear-gradient(90deg,#ff9a00 0px,#ff9a00 4px,#ffba00 8px,#ffcd00 12px,#ffff00 16px,#60ff9f 20px,#00ffff 24px,#00ffff 28px,#00ffff 32px,#00ffff 36px,#06fff9 40px,#46ffb9 44px,#b3ff4c 48px,#e6ff19 52px,#ecff13 56px,#d3ff2c 60px,#b3ff4c 64px,#b3ff4c 68px,#93ff6c 72px,#53ffac 76px,#36ffc9 80px,#52ffad 84px,#63ff9c 88px,#47ffb8 92px,#2bffd4 96px,#0cfff3 100px,#00ebff 104px,#00e7ff 108px,#00e3ff 112px,#00ffff 116px,#1cffe3 120px,#2affd5 124px,#38ffc7 128px,#38ffc7 132px,#38ffc7 136px,#38ffc7 140px,#38ffc7 144px)"></div><div style="top:52px;background:linear-gradient(90deg,#ffb300 0px,#ffb300 4px,#ffd300 8px,#ffd900 12px,#fff300 16px,#78ff87 20px,#0cfff3 24px,#00ffff 28px,#00ffff 32px,#00ffff 36px,#06fff9 40px,#4cffb3 44px,#c5ff3a 48px,#fff900 52px,#fff300 56px,#ebff14 60px,#ccff33 64px,#c5ff3a 68px,#9fff60 72px,#60ff9f 76px,#3bffc4 80px,#48ffb7 84px,#50ffaf 88px,#20ffdf 92px,#00f0ff 96px,#00d0ff 100px,#00b0ff 104px,#00c0ff 108px,#00cfff 112px,#00ffff 116px,#30ffcf 120px,#47ffb8 124px,#5fffa0 128px,#5fffa0 132px,#5fffa0 136px,#5fffa0 140px,#5fffa0 144px)"></div><div style="top:54px;background:linear-gradient(90deg,#ff8c00 0px,#ff8c00 4px,#ffac00 8px,#ffc500 12px,#ffcc00 16px,#c6ff39 20px,#33ffcc 24px,#00ffff 28px,#00ffff 32px,#00ffff 36px,#1affe5 40px,#73ff8c 44px,#d9ff26 48px,#ffe500 52px,#ffcc00 56px,#ffeb00 60px,#f3ff0c 64px,#d9ff26 68px,#9fff60 72px,#60ff9f 76px,#2bffd4 80px,#41ffbe 84px,#42ffbd 88px,#04fffb 92px,#00c5ff 96px,#00a5ff 100px,#0085ff 104px,#00a3ff 108px,#00c1ff 112px,#00ffff 116px,#3effc1 120px,#5dffa2 124px,#7cff83 128px,#7cff83 132px,#7cff83 136px,#7cff83 140px,#7cff83 144px)"></div><div style="top:56px;background:linear-gradient(90deg,#ff7300 0px,#ff7300 4px,#ff8700 8px,#ffa000 12px,#ffb300 16px,#ebff14 20px,#5fffa0 24px,#25ffda 28px,#25ffda 32px,#25ffda 36px,#3fffc0 40px,#8cff73 44px,#dfff20 48px,#ffe500 52px,#ffcc00 56px,#ffe500 60px,#ffff00 64px,#dfff20 68px,#9fff60 72px,#60ff9f 76px,#2affd5 80px,#38ffc7 84px,#38ffc7 88px,#00f3ff 92px,#00afff 96px,#0097ff 100px,#0080ff 104px,#009fff 108px,#00bfff 112px,#00fbff 116px,#38ffc7 120px,#58ffa7 124px,#78ff87 128px,#78ff87 132px,#78ff87 136px,#78ff87 140px,#78ff87 144px)"></div><div style="top:58px;background:linear-gradient(90deg,#ff4c00 0px,#ff4c00 4px,#ff3900 8px,#ff3f00 12px,#ff8c00 16px,#ffeb00 20px,#c0ff3f 24px,#9aff65 28px,#9aff65 32px,#9aff65 36px,#a0ff5f 40px,#b3ff4c 44px,#dfff20 48px,#fff900 52px,#fff300 56px,#fff900 60px,#ffff00 64px,#dfff20 68px,#9fff60 72px,#60ff9f 76px,#36ffc9 80px,#26ffd9 84px,#26ffd9 88px,#00d8ff 92px,#008cff 96px,#0086ff 100px,#0080ff 104px,#009fff 108px,#00bfff 112px,#00f2ff 116px,#26ffd9 120px,#46ffb9 124px,#66ff99 128px,#66ff99 132px,#66ff99 136px,#66ff99 140px,#66ff99 144px)"></div><div style="top:60px;background:linear-gradient(90deg,#ff3300 0px,#ff3300 4px,#ff1a00 8px,#ff1a00 12px,#ff7300 16px,#ffd300 20px,#e5ff1a 24px,#bfff40 28px,#bfff40 32px,#bfff40 36px,#bfff40 40px,#bfff40 44px,#d9ff26 48px,#f9ff06 52px,#ffff00 56px,#ffff00 60px,#f9ff06 64px,#d9ff26 68px,#9fff60 72px,#60ff9f 76px,#32ffcd 80px,#12ffed 84px,#12ffed 88px,#00bbff 92px,#0064ff 96px,#0072ff 100px,#0080ff 104px,#009fff 108px,#00bfff 112px,#00e8ff 116px,#12ffed 120px,#32ffcd 124px,#52ffad 128px,#52ffad 132px,#52ffad 136px,#52ffad 140px,#52ffad 144px)"></div><div style="top:62px;background:linear-gradient(90deg,#ff0c00 0px,#ff0c00 4px,#ff0600 8px,#ff0600 12px,#ff4c00 16px,#ffac00 20px,#f9ff06 24px,#bfff40 28px,#bfff40 32px,#bfff40 36px,#bfff40 40px,#bfff40 44px,#c5ff3a 48px,#e5ff1a 52px,#ffff00 56px,#ffff00 60px,#e5ff1a 64px,#c5ff3a 68px,#9fff60 72px,#60ff9f 76px,#1fffe0 80px,#03fffc 84px,#03fffc 88px,#00a4ff 92px,#0046ff 96px,#0063ff 100px,#0080ff 104px,#009fff 108px,#00bfff 112px,#00e1ff 116px,#03fffc 120px,#23ffdc 124px,#43ffbc 128px,#43ffbc 132px,#43ffbc 136px,#43ffbc 140px,#43ffbc 144px)"></div><div style="top:64px;background:linear-gradient(90deg,#ff2500 0px,#ff2500 4px,#ff1900 8px,#ff0600 12px,#ff3a00 16px,#ff9900 20px,#fff900 24px,#c5ff3a 28px,#bfff40 32px,#bfff40 36px,#bfff40 40px,#bfff40 44px,#bfff40 48px,#d9ff26 52px,#f3ff0c 56px,#f3ff0c 60px,#d9ff26 64px,#b9ff46 68px,#99ff66 72px,#60ff9f 76px,#1affe5 80px,#00fcff 84px,#00f9ff 88px,#009fff 92px,#0046ff 96px,#0063ff 100px,#0080ff 104px,#009cff 108px,#00b9ff 112px,#00d6ff 116px,#00f2ff 120px,#10ffef 124px,#2dffd2 128px,#2dffd2 132px,#2dffd2 136px,#2dffd2 140px,#2dffd2 144px)"></div><div style="top:66px;background:linear-gradient(90deg,#ff9a00 0px,#ff9a00 4px,#ff6700 8px,#ff1a00 12px,#ff2600 16px,#ff8600 20px,#ffe500 24px,#d9ff26 28px,#bfff40 32px,#bfff40 36px,#bfff40 40px,#bfff40 44px,#bfff40 48px,#c5ff3a 52px,#ccff33 56px,#ccff33 60px,#c5ff3a 64px,#a6ff59 68px,#86ff79 72px,#60ff9f 76px,#1affe5 80px,#00f3ff 84px,#00e8ff 88px,#009fff 92px,#0057ff 96px,#006bff 100px,#0080ff 104px,#0094ff 108px,#00a8ff 112px,#00bcff 116px,#00d0ff 120px,#00e4ff 124px,#00f8ff 128px,#00f8ff 132px,#00f8ff 136px,#00f8ff 140px,#00f8ff 144px)"></div><div style="top:68px;background:linear-gradient(90deg,#ffd800 0px,#ffd800 4px,#ff9e00 8px,#ff3f00 12px,#ff2600 16px,#ff7300 20px,#ffd900 24px,#e5ff1a 28px,#c5ff3a 32px,#bfff40 36px,#bfff40 40px,#bfff40 44px,#bfff40 48px,#bfff40 52px,#bfff40 56px,#bfff40 60px,#b9ff46 64px,#99ff66 68px,#80ff80 72px,#60ff9f 76px,#1affe5 80px,#00e9ff 84px,#00d4ff 88px,#009fff 92px,#006bff 96px,#0075ff 100px,#0080ff 104px,#008aff 108px,#0094ff 112px,#009eff 116px,#00a8ff 120px,#00b3ff 124px,#00bdff 128px,#00bdff 132px,#00bdff 136px,#00bdff 140px,#00bdff 144px)"></div><div style="top:70px;background:linear-gradient(90deg,#d8ff27 0px,#d8ff27 4px,#feff01 8px,#ffa000 12px,#ff3a00 16px,#ff4c00 20px,#ffc500 24px,#f9ff06 28px,#d9ff26 32px,#bfff40 36px,#bfff40 40px,#bfff40 44px,#bfff40 48px,#bfff40 52px,#bfff40 56px,#bfff40 60px,#a6ff59 64px,#86ff79 68px,#80ff80 72px,#60ff9f 76px,#1affe5 80px,#00e1ff 84px,#00c4ff 88px,#009fff 92px,#007bff 96px,#007dff 100px,#0080ff 104px,#0082ff 108px,#0084ff 112px,#0086ff 116px,#0088ff 120px,#008bff 124px,#008dff 128px,#008dff 132px,#008dff 136px,#008dff 140px,#008dff 144px)"></div><div style="top:72px;background:linear-gradient(90deg,#a7ff58 0px,#a7ff58 4px,#c0ff3f 8px,#ffe400 12px,#ff6500 16px,#ff4c00 20px,#ffad00 24px,#ffec00 28px,#ebff14 32px,#c5ff3a 36px,#bfff40 40px,#bfff40 44px,#bfff40 48px,#bfff40 52px,#bfff40 56px,#b9ff46 60px,#99ff66 64px,#80ff80 68px,#79ff86 72px,#59ffa6 76px,#19ffe6 80px,#00daff 84px,#00baff 88px,#009aff 92px,#007bff 96px,#007bff 100px,#007bff 104px,#007bff 108px,#007bff 112px,#007bff 116px,#007bff 120px,#007dff 124px,#0080ff 128px,#0080ff 132px,#0080ff 136px,#0080ff 140px,#0080ff 144px)"></div><div style="top:74px;background:linear-gradient(90deg,#58ffa7 0px,#58ffa7 4px,#5fffa0 8px,#a5ff5a 12px,#ffda00 16px,#ff7300 20px,#ff7200 24px,#ffb200 28px,#ffeb00 32px,#d9ff26 36px,#bfff40 40px,#bfff40 44px,#bfff40 48px,#bfff40 52px,#bfff40 56px,#a6ff59 60px,#86ff79 64px,#80ff80 68px,#66ff99 72px,#46ffb9 76px,#15ffea 80px,#00caff 84px,#00aaff 88px,#008aff 92px,#006aff 96px,#006aff 100px,#006aff 104px,#006aff 108px,#006aff 112px,#006aff 116px,#006aff 120px,#0075ff 124px,#0080ff 128px,#0080ff 132px,#0080ff 136px,#0080ff 140px,#0080ff 144px)"></div><div style="top:76px;background:linear-gradient(90deg,#33ffcc 0px,#33ffcc 4px,#33ffcc 8px,#67ff98 12px,#ceff31 16px,#ffc300 20px,#ff9100 24px,#ffac00 28px,#ffd900 32px,#e5ff1a 36px,#bfff40 40px,#b9ff46 44px,#b3ff4c 48px,#b3ff4c 52px,#adff52 56px,#8dff72 60px,#73ff8c 64px,#73ff8c 68px,#59ffa6 72px,#3affc5 76px,#0cfff3 80px,#00b6ff 84px,#0096ff 88px,#0076ff 92px,#0056ff 96px,#0056ff 100px,#0056ff 104px,#0056ff 108px,#0056ff 112px,#0056ff 116px,#0056ff 120px,#006bff 124px,#0080ff 128px,#0080ff 132px,#0080ff 136px,#0080ff 140px,#0080ff 144px)"></div><div style="top:78px;background:linear-gradient(90deg,#0cfff3 0px,#0cfff3 4px,#0cfff3 8px,#19ffe6 12px,#31ffce 16px,#64ff9b 20px,#d1ff2e 24px,#ffd300 28px,#ffc500 32px,#f9ff06 36px,#bfff40 40px,#a6ff59 44px,#8cff73 48px,#8cff73 52px,#72ff8d 56px,#52ffad 60px,#4cffb3 64px,#4cffb3 68px,#46ffb9 72px,#26ffd9 76px,#00f8ff 80px,#00a5ff 84px,#0085ff 88px,#0065ff 92px,#0046ff 96px,#0046ff 100px,#0046ff 104px,#0046ff 108px,#0046ff 112px,#0046ff 116px,#0046ff 120px,#0063ff 124px,#0080ff 128px,#0080ff 132px,#0080ff 136px,#0080ff 140px,#0080ff 144px)"></div><div style="top:80px;background:linear-gradient(90deg,#00f3ff 0px,#00f3ff 4px,#00f9ff 8px,#00f9ff 12px,#00f3ff 16px,#07fff8 20px,#62ff9d 24px,#c2ff3d 28px,#dcff23 32px,#afff50 36px,#88ff77 40px,#6eff91 44px,#48ffb7 48px,#48ffb7 52px,#3bffc4 56px,#2dffd2 60px,#33ffcc 64px,#33ffcc 68px,#33ffcc 72px,#14ffeb 76px,#00e8ff 80px,#009cff 84px,#007cff 88px,#005cff 92px,#003cff 96px,#003cff 100px,#003cff 104px,#003eff 108px,#0040ff 112px,#0042ff 116px,#0043ff 120px,#0063ff 124px,#0083ff 128px,#0083ff 132px,#0083ff 136px,#0083ff 140px,#0083ff 144px)"></div><div style="top:82px;background:linear-gradient(90deg,#00ccff 0px,#00ccff 4px,#00e5ff 8px,#00e5ff 12px,#00ccff 16px,#00b8ff 20px,#009dff 24px,#009cff 28px,#00a3ff 32px,#00b0ff 36px,#00d7ff 40px,#00d1ff 44px,#0097ff 48px,#0097ff 52px,#00c4ff 56px,#00f2ff 60px,#0cfff3 64px,#0cfff3 68px,#0cfff3 72px,#00ebff 76px,#00c5ff 80px,#008cff 84px,#006cff 88px,#004dff 92px,#002dff 96px,#002dff 100px,#002dff 104px,#0036ff 108px,#0040ff 112px,#0049ff 116px,#0053ff 120px,#0073ff 124px,#0093ff 128px,#0093ff 132px,#0093ff 136px,#0093ff 140px,#0093ff 144px)"></div><div style="top:84px;background:linear-gradient(90deg,#00bfff 0px,#00bfff 4px,#00d9ff 8px,#00d9ff 12px,#00b9ff 16px,#0099ff 20px,#0060ff 24px,#003aff 28px,#0033ff 32px,#004dff 36px,#0080ff 40px,#0080ff 44px,#004dff 48px,#0053ff 52px,#0093ff 56px,#00d3ff 60px,#00f9ff 64px,#00ffff 68px,#00f9ff 72px,#00d3ff 76px,#00aeff 80px,#0079ff 84px,#0059ff 88px,#0039ff 92px,#0019ff 96px,#0019ff 100px,#0019ff 104px,#002cff 108px,#0040ff 112px,#0053ff 116px,#0067ff 120px,#0086ff 124px,#00a6ff 128px,#00a6ff 132px,#00a6ff 136px,#00a6ff 140px,#00a6ff 144px)"></div><div style="top:86px;background:linear-gradient(90deg,#00a6ff 0px,#00a6ff 4px,#00a9ff 8px,#00a9ff 12px,#0096ff 16px,#0090ff 20px,#0086ff 24px,#005dff 28px,#0046ff 32px,#003fff 36px,#003bff 40px,#0045ff 44px,#0047ff 48px,#005fff 52px,#008dff 56px,#00c2ff 60px,#00f3ff 64px,#00f7ff 68px,#00dcff 72px,#00abff 76px,#0089ff 80px,#0067ff 84px,#0047ff 88px,#0027ff 92px,#0007ff 96px,#0007ff 100px,#0007ff 104px,#0024ff 108px,#0040ff 112px,#005cff 116px,#0078ff 120px,#0098ff 124px,#00b8ff 128px,#00b8ff 132px,#00b8ff 136px,#00b8ff 140px,#00b8ff 144px)"></div><div style="top:88px;background:linear-gradient(90deg,#008aff 0px,#008aff 4px,#008aff 8px,#008bff 12px,#0086ff 16px,#0098ff 20px,#00aaff 24px,#0085ff 28px,#0066ff 32px,#004dff 36px,#0033ff 40px,#004cff 44px,#0064ff 48px,#0084ff 52px,#00aaff 56px,#00d1ff 60px,#00f7ff 64px,#00e4ff 68px,#00c4ff 72px,#009eff 76px,#007eff 80px,#005dff 84px,#003dff 88px,#001fff 92px,#0000ff 96px,#0000ff 100px,#0000ff 104px,#001fff 108px,#003dff 112px,#005dff 116px,#007dff 120px,#009eff 124px,#00bfff 128px,#00bfff 132px,#00bfff 136px,#00bfff 140px,#00bfff 144px)"></div><div style="top:90px;background:linear-gradient(90deg,#006fff 0px,#006fff 4px,#006fff 8px,#0077ff 12px,#0080ff 16px,#0097ff 20px,#00aeff 24px,#0097ff 28px,#0080ff 32px,#0060ff 36px,#0040ff 40px,#0057ff 44px,#006fff 48px,#008eff 52px,#00aeff 56px,#00ceff 60px,#00eeff 64px,#00ceff 68px,#00aeff 72px,#008eff 76px,#006fff 80px,#004fff 84px,#002fff 88px,#0017ff 92px,#0000ff 96px,#0000ff 100px,#0000ff 104px,#0017ff 108px,#002fff 112px,#004fff 116px,#006fff 120px,#0097ff 124px,#00bfff 128px,#00bfff 132px,#00bfff 136px,#00bfff 140px,#00bfff 144px)"></div><div style="top:92px;background:linear-gradient(90deg,#005bff 0px,#005bff 4px,#005bff 8px,#006dff 12px,#0080ff 16px,#008dff 20px,#009bff 24px,#008dff 28px,#0080ff 32px,#0060ff 36px,#0040ff 40px,#004dff 44px,#005bff 48px,#007bff 52px,#009bff 56px,#00bbff 60px,#00daff 64px,#00bbff 68px,#009bff 72px,#007bff 76px,#005bff 80px,#003bff 84px,#001bff 88px,#000eff 92px,#0000ff 96px,#0000ff 100px,#0000ff 104px,#000eff 108px,#001bff 112px,#003bff 116px,#005bff 120px,#008dff 124px,#00bfff 128px,#00bfff 132px,#00bfff 136px,#00bfff 140px,#00bfff 144px)"></div><div style="top:94px;background:linear-gradient(90deg,#0049ff 0px,#0049ff 4px,#0049ff 8px,#0064ff 12px,#0080ff 16px,#0084ff 20px,#0089ff 24px,#0084ff 28px,#0080ff 32px,#0060ff 36px,#0040ff 40px,#0044ff 44px,#0049ff 48px,#0069ff 52px,#0089ff 56px,#00a9ff 60px,#00c8ff 64px,#00a9ff 68px,#0089ff 72px,#0069ff 76px,#0049ff 80px,#0029ff 84px,#0009ff 88px,#0005ff 92px,#0000ff 96px,#0000ff 100px,#0000ff 104px,#0005ff 108px,#0009ff 112px,#0029ff 116px,#0049ff 120px,#0084ff 124px,#00bfff 128px,#00bfff 132px,#00bfff 136px,#00bfff 140px,#00bfff 144px)"></div><div style="top:96px;background:linear-gradient(90deg,#003eff 0px,#003eff 4px,#003eff 8px,#005eff 12px,#007eff 16px,#007eff 20px,#007eff 24px,#007eff 28px,#007eff 32px,#005fff 36px,#0040ff 40px,#0040ff 44px,#0040ff 48px,#005eff 52px,#007dff 56px,#009dff 60px,#00bdff 64px,#009dff 68px,#007eff 72px,#005eff 76px,#003eff 80px,#001fff 84px,#0000ff 88px,#0000ff 92px,#0000ff 96px,#0000ff 100px,#0000ff 104px,#0000ff 108px,#0000ff 112px,#001fff 116px,#003eff 120px,#007eff 124px,#00bdff 128px,#00bdff 132px,#00bdff 136px,#00bdff 140px,#00bdff 144px)"></div><div style="top:98px;background:linear-gradient(90deg,#0031ff 0px,#0031ff 4px,#0031ff 8px,#0051ff 12px,#0071ff 16px,#0071ff 20px,#0071ff 24px,#0071ff 28px,#0071ff 32px,#0058ff 36px,#0040ff 40px,#0040ff 44px,#0040ff 48px,#0051ff 52px,#0062ff 56px,#0082ff 60px,#00a2ff 64px,#0089ff 68px,#0071ff 72px,#0051ff 76px,#0031ff 80px,#0018ff 84px,#0000ff 88px,#0000ff 92px,#0000ff 96px,#0000ff 100px,#0000ff 104px,#0000ff 108px,#0000ff 112px,#0018ff 116px,#0031ff 120px,#0069ff 124px,#00a2ff 128px,#00a2ff 132px,#00a2ff 136px,#00a2ff 140px,#00a2ff 144px)"></div><div style="top:100px;background:linear-gradient(90deg,#001eff 0px,#001eff 4px,#001eff 8px,#003dff 12px,#005dff 16px,#005dff 20px,#005dff 24px,#005dff 28px,#005dff 32px,#004fff 36px,#0040ff 40px,#0040ff 44px,#0040ff 48px,#003dff 52px,#003bff 56px,#005bff 60px,#007bff 64px,#006cff 68px,#005dff 72px,#003dff 76px,#001eff 80px,#000fff 84px,#0000ff 88px,#0000ff 92px,#0000ff 96px,#0000ff 100px,#0000ff 104px,#0000ff 108px,#0000ff 112px,#000fff 116px,#001eff 120px,#004cff 124px,#007bff 128px,#007bff 132px,#007bff 136px,#007bff 140px,#007bff 144px)"></div><div style="top:102px;background:linear-gradient(90deg,#000bff 0px,#000bff 4px,#000bff 8px,#002bff 12px,#004bff 16px,#004bff 20px,#004bff 24px,#004bff 28px,#004bff 32px,#0045ff 36px,#0040ff 40px,#0040ff 44px,#0040ff 48px,#002bff 52px,#0016ff 56px,#0036ff 60px,#0056ff 64px,#0050ff 68px,#004bff 72px,#002bff 76px,#000bff 80px,#0005ff 84px,#0000ff 88px,#0000ff 92px,#0000ff 96px,#0000ff 100px,#0000ff 104px,#0000ff 108px,#0000ff 112px,#0005ff 116px,#000bff 120px,#0030ff 124px,#0056ff 128px,#0056ff 132px,#0056ff 136px,#0056ff 140px,#0056ff 144px)"></div><div style="top:104px;background:linear-gradient(90deg,#0000ff 0px,#0000ff 4px,#0000ff 8px,#0020ff 12px,#0040ff 16px,#0040ff 20px,#0040ff 24px,#0040ff 28px,#0040ff 32px,#0040ff 36px,#0040ff 40px,#0040ff 44px,#0040ff 48px,#0020ff 52px,#0000ff 56px,#0020ff 60px,#0040ff 64px,#0040ff 68px,#0040ff 72px,#0020ff 76px,#0000ff 80px,#0000ff 84px,#0000ff 88px,#0000ff 92px,#0000ff 96px,#0000ff 100px,#0000ff 104px,#0000ff 108px,#0000ff 112px,#0000ff 116px,#0000ff 120px,#0020ff 124px,#0040ff 128px,#0040ff 132px,#0040ff 136px,#0040ff 140px,#0040ff 144px)"></div><div style="top:106px;background:linear-gradient(90deg,#0000ff 0px,#0000ff 4px,#0000ff 8px,#0020ff 12px,#0040ff 16px,#0040ff 20px,#0040ff 24px,#0040ff 28px,#0040ff 32px,#0040ff 36px,#0040ff 40px,#0040ff 44px,#0040ff 48px,#0020ff 52px,#0000ff 56px,#0020ff 60px,#0040ff 64px,#0040ff 68px,#0040ff 72px,#0020ff 76px,#0000ff 80px,#0000ff 84px,#0000ff 88px,#0000ff 92px,#0000ff 96px,#0000ff 100px,#0000ff 104px,#0000ff 108px,#0000ff 112px,#0000ff 116px,#0000ff 120px,#0020ff 124px,#0040ff 128px,#0040ff 132px,#0040ff 136px,#0040ff 140px,#0040ff 144px)"></div><div style="top:108px;background:linear-gradient(90deg,#0000ff 0px,#0000ff 4px,#0000ff 8px,#0020ff 12px,#0040ff 16px,#0040ff 20px,#0040ff 24px,#0040ff 28px,#0040ff 32px,#0040ff 36px,#0040ff 40px,#0040ff 44px,#0040ff 48px,#0020ff 52px,#0000ff 56px,#0020ff 60px,#0040ff 64px,#0040ff 68px,#0040ff 72px,#0020ff 76px,#0000ff 80px,#0000ff 84px,#0000ff 88px,#0000ff 92px,#0000ff 96px,#0000ff 100px,#0000ff 104px,#0000ff 108px,#0000ff 112px,#0000ff 116px,#0000ff 120px,#0020ff 124px,#0040ff 128px,#0040ff 132px,#0040ff 136px,#0040ff 140px,#0040ff 144px)"></div><div style="top:110px;background:linear-gradient(90deg,#0000ff 0px,#0000ff 4px,#0000ff 8px,#0020ff 12px,#0040ff 16px,#0040ff 20px,#0040ff 24px,#0040ff 28px,#0040ff 32px,#0040ff 36px,#0040ff 40px,#0040ff 44px,#0040ff 48px,#0020ff 52px,#0000ff 56px,#0020ff 60px,#0040ff 64px,#0040ff 68px,#0040ff 72px,#0020ff 76px,#0000ff 80px,#0000ff 84px,#0000ff 88px,#0000ff 92px,#0000ff 96px,#0000ff 100px,#0000ff 104px,#0000ff 108px,#0000ff 112px,#0000ff 116px,#0000ff 120px,#0020ff 124px,#0040ff 128px,#0040ff 132px,#0040ff 136px,#0040ff 140px,#0040ff 144px)"></div></div><svg class="ov" width="136" height="107" viewBox="0 0 136 107"><polyline points="109.1,6.7 114.7,8.1 117.8,11.5 119.9,17.5 124.1,20.4 127.2,25.4 130.3,25.7 135.1,23.6 133.8,27.3 133.0,30.0 131.5,33.6 129.0,33.0 127.4,34.5 127.8,39.4 126.3,41.4 125.5,39.9 124.3,41.4 122.8,42.5 121.1,44.1 118.9,43.3 116.8,45.5 113.4,48.0 110.5,49.1 107.6,50.9 106.8,49.3 108.9,46.9 106.4,45.8 104.3,48.0 102.8,49.6 100.1,50.1 99.5,52.0 101.8,54.4 102.2,55.4 104.9,54.1 107.4,54.6 109.5,56.0 107.4,56.5 104.9,58.5 102.6,61.1 104.9,62.9 106.2,67.1 108.0,69.1 108.3,71.3 107.4,72.2 108.7,73.7 107.6,77.0 106.0,78.6 104.9,80.5 103.5,82.4 102.2,84.5 100.6,86.3 98.7,88.1 97.0,89.7 94.9,90.1 92.4,91.0 90.8,91.5 88.3,92.4 85.6,93.1 84.3,94.4 83.9,95.7 83.3,94.2 82.7,92.8 80.6,92.6 79.4,93.1 77.3,91.7 76.6,90.1 74.8,89.7 73.7,89.0 72.1,90.1 70.8,90.8 69.4,90.4 67.7,90.8 66.5,91.0 66.0,93.5 64.4,93.5 63.1,93.1 61.7,91.7 61.3,89.7 60.2,88.1 58.6,87.2 57.7,87.7 58.1,85.4 59.8,83.1 60.0,79.4 59.4,77.7 57.3,77.5 55.7,75.8 54.4,74.9 52.3,75.6 50.2,76.3 47.3,78.6 45.3,78.6 43.0,78.2 40.9,77.9 39.6,79.8 38.0,78.4 35.1,77.9 32.6,77.2 29.9,76.0 27.0,73.9 23.8,72.9 21.3,71.7 19.1,70.3 18.6,68.6 18.0,67.1 19.9,66.1 18.6,62.9 16.8,60.1 13.9,59.1 11.8,56.5 9.9,55.7 10.5,52.3 8.5,51.7 7.6,49.3 8.7,48.0 11.8,46.3 13.9,46.9 16.6,45.2 19.1,43.0 21.6,42.2 22.0,39.7 22.8,39.1 22.0,36.5 21.3,33.9 24.7,33.0 26.5,32.7 25.9,30.0 27.4,27.3 31.1,28.2 32.8,27.6 33.0,23.6 35.3,22.0 36.3,21.0 37.8,22.9 40.7,24.8 42.6,25.7 44.0,29.1 43.6,33.0 47.1,33.9 50.9,35.3 53.2,35.9 55.2,40.2 59.6,40.8 63.8,40.8 66.5,41.1 70.0,42.8 73.1,43.6 76.9,41.6 82.1,41.1 85.0,39.4 87.5,37.7 86.4,35.6 87.5,33.6 91.0,34.5 95.4,32.7 97.4,29.7 100.8,28.8 103.7,29.1 104.1,27.3 101.2,25.1 99.7,24.8 98.7,25.7 95.2,25.1 96.0,22.3 99.9,20.1 102.6,18.5 102.8,17.2 104.5,12.9 106.8,10.2 109.1,6.7" class="bd"/><polyline points="106.4,84.9 108.3,85.1 107.6,87.4 106.2,91.9 104.7,90.6 104.5,88.6 106.4,84.9" class="bd"/><polyline points="83.9,96.2 85.6,97.1 84.5,99.3 82.7,100.4 80.8,99.7 80.6,97.9 82.1,96.4 83.9,96.2" class="bd"/><polyline points="16.8,60.1 21.1,59.6 25.3,59.3 29.5,58.5 33.6,58.3 37.8,58.5 43.0,59.1" class="pv"/><polyline points="43.0,59.1 45.0,55.2 49.2,51.7 51.9,50.7 52.3,46.6 55.2,40.2" class="pv"/><polyline points="43.0,59.1 46.1,62.4 49.2,64.9 52.3,66.1 56.5,66.6 58.6,66.1 60.0,68.1 60.4,72.2 60.0,75.8 59.4,77.7" class="pv"/><polyline points="51.9,50.7 57.5,50.7 61.7,52.5 65.8,54.6 69.0,56.7 67.9,59.8 65.8,62.9 65.8,64.9" class="pv"/><polyline points="58.6,66.1 60.6,65.4 64.8,65.1 65.8,64.9 67.9,64.1 70.0,63.6 71.7,65.6 74.2,66.8" class="pv"/><polyline points="56.9,40.2 59.6,45.2 62.7,46.6 67.9,49.3 71.0,50.1 71.7,54.6 73.1,59.8 76.2,60.6 78.5,54.6 77.1,49.9 75.2,50.7 72.7,49.3" class="pv"/><polyline points="76.2,60.6 76.4,62.4 74.2,65.6 74.2,66.8" class="pv"/><polyline points="78.5,53.9 80.8,53.9 84.5,50.1 86.0,49.1 88.3,47.4 91.4,46.6 92.9,43.9 96.0,42.5 98.9,41.1 102.6,41.6 105.3,41.1 108.5,41.1 109.5,38.5 108.5,35.3 111.0,33.0 112.6,30.9 111.6,26.0 109.5,23.2 108.5,18.5 111.6,15.2 115.7,9.8" class="pv"/><polyline points="112.6,30.9 116.8,33.3 120.9,35.3 125.1,36.8 127.6,36.5" class="pv"/><polyline points="109.5,38.5 111.6,39.1 114.7,41.9 116.8,45.2" class="pv"/><polyline points="102.8,49.6 103.9,46.6 103.3,43.9 102.6,41.6" class="pv"/><polyline points="84.5,62.1 84.3,56.5 85.8,52.0 86.0,49.1" class="pv"/><polyline points="91.4,46.6 91.8,47.4 91.0,51.2 91.4,54.9 91.2,57.8 89.3,60.6 86.6,61.6 84.5,62.1" class="pv"/><polyline points="74.2,66.8 77.3,68.1 80.4,68.1 82.5,69.1 83.9,67.1 85.6,65.4 84.5,62.1" class="pv"/><polyline points="89.3,60.6 91.8,58.0 94.9,58.3 96.2,62.1 94.9,63.6 96.0,64.9 94.5,67.8 92.9,69.1 89.7,69.3 86.6,67.1 85.6,65.4" class="pv"/><polyline points="94.9,58.3 94.7,56.5 96.6,54.4 99.5,52.5" class="pv"/><polyline points="96.2,62.1 99.1,62.1 101.4,62.1 102.6,61.1" class="pv"/><polyline points="96.2,62.1 99.1,63.1 101.2,64.9 100.8,67.3 102.6,68.6 103.1,70.5 105.3,71.3 107.0,71.7" class="pv"/><polyline points="103.1,70.5 101.2,73.4 100.6,75.3 101.2,77.7 103.3,79.1 104.9,80.3" class="pv"/><polyline points="93.7,67.8 96.0,70.5 97.0,73.9 99.1,74.6 100.6,75.3" class="pv"/><polyline points="97.0,73.9 92.9,73.9 91.8,74.6 92.2,77.0 91.4,79.4 91.8,82.1 91.6,84.0 92.2,85.6 94.3,86.1 96.0,85.4 97.0,83.3 98.5,81.5 100.1,79.4 101.2,77.7" class="pv"/><polyline points="96.0,85.4 98.5,88.3" class="pv"/><polyline points="82.5,74.6 86.6,74.1 89.5,74.6 91.8,74.6" class="pv"/><polyline points="82.5,74.6 84.1,72.2 83.5,69.8 82.7,69.1" class="pv"/><polyline points="82.5,74.6 81.4,77.0 82.1,80.5 82.5,82.8 84.5,83.1 86.2,84.7 88.7,85.1 90.8,84.5 91.6,84.0" class="pv"/><polyline points="86.2,84.7 86.6,87.4 85.6,90.1 83.1,92.8" class="pv"/><polyline points="82.5,82.8 80.0,84.0 77.3,85.6 74.4,85.4 73.1,87.0 74.2,89.0" class="pv"/><polyline points="73.1,86.3 72.1,84.0 71.7,81.5 73.1,79.1 75.2,77.5 77.7,76.3 79.8,75.8 81.4,77.0" class="pv"/><polyline points="59.4,77.7 61.9,76.3 63.3,77.7 65.2,80.3 66.9,82.1 69.0,81.0 70.0,78.2 72.1,78.2 72.1,80.5" class="pv"/><polyline points="79.8,75.8 76.2,77.0 75.2,74.6 75.8,72.2 78.3,69.8 80.4,68.1" class="pv"/><rect x="0.5" y="0.5" width="135" height="106" class="fw"/><path d="M0.3 0.5H10.7M0.3 106.5H10.7M21.1 0.5H31.5M21.1 106.5H31.5M41.9 0.5H52.3M41.9 106.5H52.3M62.7 0.5H73.1M62.7 106.5H73.1M83.5 0.5H93.9M83.5 106.5H93.9M104.3 0.5H114.7M104.3 106.5H114.7M125.1 0.5H135.5M125.1 106.5H135.5M0.5 0.0V18.5M135.5 0.0V18.5M0.5 33.9V48.0M135.5 33.9V48.0M0.5 61.1V73.4M135.5 61.1V73.4M0.5 85.1V96.4M135.5 85.1V96.4" class="fb"/></svg></div>
<div class="cb" style="left:171.5px;top:274px;background:linear-gradient(180deg,#800000 0.00%,#9f0000 3.12%,#bf0000 6.25%,#df0000 9.38%,#ff0000 12.50%,#ff2000 15.62%,#ff4000 18.75%,#ff6000 21.88%,#ff8000 25.00%,#ff9f00 28.12%,#ffbf00 31.25%,#ffdf00 34.38%,#ffff00 37.50%,#dfff20 40.62%,#bfff40 43.75%,#9fff60 46.88%,#80ff80 50.00%,#60ff9f 53.12%,#40ffbf 56.25%,#20ffdf 59.38%,#00ffff 62.50%,#00dfff 65.62%,#00bfff 68.75%,#009fff 71.88%,#0080ff 75.00%,#0060ff 78.12%,#0040ff 81.25%,#0020ff 84.38%,#0000ff 87.50%,#0000df 90.62%,#0000bf 93.75%,#00009f 96.88%,#000080 100.00%)"></div>
<div class="t tk" style="left:163.8px;top:266.4px;width:20px;text-align:center">hPa</div>
<div class="t tk" style="left:178.6px;top:284.4px;width:10.5px;text-align:center">2.0</div>
<div class="t tk" style="left:178.6px;top:307.4px;width:10.5px;text-align:center">1.5</div>
<div class="t tk" style="left:178.6px;top:330.2px;width:10.5px;text-align:center">1.0</div>
<div class="t tk" style="left:178.6px;top:353.5px;width:10.5px;text-align:center">0.5</div>
<div class="t tk" style="left:178.6px;top:376.3px;width:10.5px;text-align:center">0.0</div>
<div class="t tk" style="left:15.5px;top:289.0px;width:14px;text-align:right">50°N</div>
<div class="t tk" style="left:15.5px;top:317.8px;width:14px;text-align:right">40°N</div>
<div class="t tk" style="left:15.5px;top:343.8px;width:14px;text-align:right">30°N</div>
<div class="t tk" style="left:15.5px;top:366.9px;width:14px;text-align:right">20°N</div>
<div class="t tk" style="left:17.4px;top:382.8px;width:30px;text-align:center">70°E</div>
<div class="t tk" style="left:38.2px;top:382.8px;width:30px;text-align:center">80°E</div>
<div class="t tk" style="left:59.0px;top:382.8px;width:30px;text-align:center">90°E</div>
<div class="t tk" style="left:79.8px;top:382.8px;width:30px;text-align:center">100°E</div>
<div class="t tk" style="left:100.6px;top:382.8px;width:30px;text-align:center">110°E</div>
<div class="t tk" style="left:121.3px;top:382.8px;width:30px;text-align:center">120°E</div>
<div class="t tk" style="left:142.2px;top:382.8px;width:30px;text-align:center">130°E</div>
<div class="t pl" style="left:35.5px;top:275.5px">(g)</div>
<div class="pn" style="left:212px;top:274px"><div class="w"><div style="top:0px;background:linear-gradient(90deg,#0080ff 0px,#0080ff 4px,#0080ff 8px,#0080ff 12px,#0080ff 16px,#0060ff 20px,#0040ff 24px,#0060ff 28px,#0080ff 32px,#0060ff 36px,#0040ff 40px,#0040ff 44px,#0040ff 48px,#0060ff 52px,#0080ff 56px,#0060ff 60px,#0040ff 64px,#0040ff 68px,#0040ff 72px,#0040ff 76px,#0040ff 80px,#0080ff 84px,#00bfff 88px,#00dfff 92px,#00ffff 96px,#20ffdf 100px,#40ffbf 104px,#40ffbf 108px,#40ffbf 112px,#60ff9f 116px,#80ff80 120px,#80ff80 124px,#80ff80 128px,#40ffbf 132px,#00ffff 136px,#00ffff 140px,#00ffff 144px)"></div><div style="top:2px;background:linear-gradient(90deg,#0080ff 0px,#0080ff 4px,#0080ff 8px,#0080ff 12px,#0080ff 16px,#0060ff 20px,#0040ff 24px,#0060ff 28px,#0080ff 32px,#0060ff 36px,#0040ff 40px,#0040ff 44px,#0040ff 48px,#0060ff 52px,#0080ff 56px,#0060ff 60px,#0040ff 64px,#0040ff 68px,#0040ff 72px,#0040ff 76px,#0040ff 80px,#0080ff 84px,#00bfff 88px,#00dfff 92px,#00ffff 96px,#20ffdf 100px,#40ffbf 104px,#40ffbf 108px,#40ffbf 112px,#60ff9f 116px,#80ff80 120px,#80ff80 124px,#80ff80 128px,#40ffbf 132px,#00ffff 136px,#00ffff 140px,#00ffff 144px)"></div><div style="top:4px;background:linear-gradient(90deg,#0080ff 0px,#0080ff 4px,#0080ff 8px,#0080ff 12px,#0080ff 16px,#0060ff 20px,#0040ff 24px,#0060ff 28px,#0080ff 32px,#0060ff 36px,#0040ff 40px,#0040ff 44px,#0040ff 48px,#0060ff 52px,#0080ff 56px,#0060ff 60px,#0040ff 64px,#0040ff 68px,#0040ff 72px,#0040ff 76px,#0040ff 80px,#0080ff 84px,#00bfff 88px,#00dfff 92px,#00ffff 96px,#20ffdf 100px,#40ffbf 104px,#40ffbf 108px,#40ffbf 112px,#60ff9f 116px,#80ff80 120px,#80ff80 124px,#80ff80 128px,#40ffbf 132px,#00ffff 136px,#00ffff 140px,#00ffff 144px)"></div><div style="top:6px;background:linear-gradient(90deg,#0080ff 0px,#0080ff 4px,#0080ff 8px,#0080ff 12px,#0080ff 16px,#0064ff 20px,#0048ff 24px,#0066ff 28px,#0083ff 32px,#0068ff 36px,#004cff 40px,#004eff 44px,#0050ff 48px,#006aff 52px,#0083ff 56px,#0064ff 60px,#0044ff 64px,#0042ff 68px,#0040ff 72px,#0040ff 76px,#0040ff 80px,#0080ff 84px,#00bfff 88px,#00e1ff 92px,#04fffb 96px,#24ffdb 100px,#44ffbb 104px,#44ffbb 108px,#44ffbb 112px,#62ff9d 116px,#80ff80 120px,#85ff7a 124px,#8bff74 128px,#48ffb7 132px,#04fffb 136px,#04fffb 140px,#04fffb 144px)"></div><div style="top:8px;background:linear-gradient(90deg,#0080ff 0px,#0080ff 4px,#0080ff 8px,#0080ff 12px,#0080ff 16px,#0073ff 20px,#0067ff 24px,#007dff 28px,#0093ff 32px,#0087ff 36px,#007bff 40px,#0085ff 44px,#008fff 48px,#0091ff 52px,#0093ff 56px,#0073ff 60px,#0053ff 64px,#004aff 68px,#0040ff 72px,#0040ff 76px,#0040ff 80px,#0080ff 84px,#00bfff 88px,#00e9ff 92px,#14ffeb 96px,#34ffcb 100px,#53ffac 104px,#53ffac 108px,#53ffac 112px,#69ff96 116px,#80ff80 120px,#9dff62 124px,#bbff44 128px,#67ff98 132px,#14ffeb 136px,#14ffeb 140px,#14ffeb 144px)"></div><div style="top:10px;background:linear-gradient(90deg,#0080ff 0px,#0080ff 4px,#0080ff 8px,#0080ff 12px,#0080ff 16px,#0087ff 20px,#008fff 24px,#009bff 28px,#00a7ff 32px,#00afff 36px,#00b6ff 40px,#00caff 44px,#00deff 48px,#00c3ff 52px,#00a7ff 56px,#0087ff 60px,#0067ff 64px,#0054ff 68px,#0040ff 72px,#0040ff 76px,#0040ff 80px,#0080ff 84px,#00bfff 88px,#00f3ff 92px,#28ffd7 96px,#47ffb8 100px,#67ff98 104px,#67ff98 108px,#67ff98 112px,#73ff8c 116px,#80ff80 120px,#bbff44 124px,#f6ff09 128px,#8fff70 132px,#28ffd7 136px,#28ffd7 140px,#28ffd7 144px)"></div><div style="top:12px;background:linear-gradient(90deg,#0080ff 0px,#0080ff 4px,#0080ff 8px,#0080ff 12px,#0080ff 16px,#0098ff 20px,#00b1ff 24px,#00b5ff 28px,#00b8ff 32px,#00d1ff 36px,#00eaff 40px,#08fff7 44px,#24ffdb 48px,#00eeff 52px,#00b8ff 56px,#0098ff 60px,#0079ff 64px,#005cff 68px,#0040ff 72px,#0040ff 76px,#0040ff 80px,#0080ff 84px,#00bfff 88px,#00fcff 92px,#39ffc6 96px,#59ffa6 100px,#79ff86 104px,#79ff86 108px,#79ff86 112px,#7cff83 116px,#80ff80 120px,#d5ff2a 124px,#ffd400 128px,#b1ff4e 132px,#39ffc6 136px,#39ffc6 140px,#39ffc6 144px)"></div><div style="top:14px;background:linear-gradient(90deg,#0082ff 0px,#0082ff 4px,#0082ff 8px,#0081ff 12px,#0080ff 16px,#009eff 20px,#00bdff 24px,#00beff 28px,#00bfff 32px,#00e0ff 36px,#03fffc 40px,#21ffde 44px,#40ffbf 48px,#03fffc 52px,#00c5ff 56px,#00a5ff 60px,#0085ff 64px,#0065ff 68px,#0045ff 72px,#0044ff 76px,#0042ff 80px,#0082ff 84px,#00c2ff 88px,#01fffe 92px,#40ffbf 96px,#60ff9f 100px,#80ff80 104px,#80ff80 108px,#80ff80 112px,#80ff80 116px,#80ff80 120px,#dcff23 124px,#ffc500 128px,#bdff42 132px,#40ffbf 136px,#40ffbf 140px,#40ffbf 144px)"></div><div style="top:16px;background:linear-gradient(90deg,#0091ff 0px,#0091ff 4px,#0091ff 8px,#0088ff 12px,#0080ff 16px,#0097ff 20px,#00aeff 24px,#00b6ff 28px,#00bfff 32px,#00e8ff 36px,#12ffed 40px,#29ffd6 44px,#40ffbf 48px,#12ffed 52px,#00e2ff 56px,#00c3ff 60px,#00a3ff 64px,#0083ff 68px,#0063ff 72px,#005aff 76px,#0051ff 80px,#0091ff 84px,#00d1ff 88px,#09fff6 92px,#40ffbf 96px,#60ff9f 100px,#80ff80 104px,#80ff80 108px,#80ff80 112px,#80ff80 116px,#80ff80 120px,#ceff31 124px,#ffe200 128px,#aeff51 132px,#40ffbf 136px,#40ffbf 140px,#40ffbf 144px)"></div><div style="top:18px;background:linear-gradient(90deg,#00a5ff 0px,#00a5ff 4px,#00a5ff 8px,#0092ff 12px,#0080ff 16px,#008dff 20px,#009aff 24px,#00adff 28px,#00bfff 32px,#00f2ff 36px,#25ffda 40px,#33ffcc 44px,#40ffbf 48px,#25ffda 52px,#0bfff4 56px,#00eaff 60px,#00caff 64px,#00aaff 68px,#008aff 72px,#0078ff 76px,#0065ff 80px,#00a5ff 84px,#00e5ff 88px,#13ffec 92px,#40ffbf 96px,#60ff9f 100px,#80ff80 104px,#80ff80 108px,#80ff80 112px,#80ff80 116px,#80ff80 120px,#baff45 124px,#f4ff0b 128px,#9aff65 132px,#40ffbf 136px,#40ffbf 140px,#40ffbf 144px)"></div><div style="top:20px;background:linear-gradient(90deg,#00b7ff 0px,#00b7ff 4px,#00b7ff 8px,#009bff 12px,#0080ff 16px,#0084ff 20px,#0088ff 24px,#00a4ff 28px,#00bfff 32px,#00fbff 36px,#37ffc8 40px,#3bffc4 44px,#40ffbf 48px,#37ffc8 52px,#2fffd0 56px,#0ffff0 60px,#00eeff 64px,#00ceff 68px,#00aeff 72px,#0093ff 76px,#0077ff 80px,#00b7ff 84px,#00f6ff 88px,#1cffe3 92px,#40ffbf 96px,#60ff9f 100px,#80ff80 104px,#80ff80 108px,#80ff80 112px,#80ff80 116px,#80ff80 120px,#a8ff57 124px,#d0ff2f 128px,#88ff77 132px,#40ffbf 136px,#40ffbf 140px,#40ffbf 144px)"></div><div style="top:22px;background:linear-gradient(90deg,#00bfff 0px,#00bfff 4px,#00bfff 8px,#00a0ff 12px,#0081ff 16px,#0083ff 20px,#0084ff 24px,#00a8ff 28px,#00ccff 32px,#0bfff4 36px,#49ffb6 40px,#44ffbb 44px,#3effc1 48px,#3effc1 52px,#3effc1 56px,#1fffe0 60px,#00ffff 64px,#00e0ff 68px,#00c1ff 72px,#00a2ff 76px,#0083ff 80px,#00c1ff 84px,#00ffff 88px,#1fffe0 92px,#3effc1 96px,#5effa1 100px,#7eff81 104px,#7fff80 108px,#80ff80 112px,#80ff7f 116px,#81ff7e 120px,#a0ff5f 124px,#bfff40 128px,#80ff7f 132px,#41ffbe 136px,#41ffbe 140px,#41ffbe 144px)"></div><div style="top:24px;background:linear-gradient(90deg,#00bfff 0px,#00bfff 4px,#00bfff 8px,#00a7ff 12px,#008fff 16px,#009fff 20px,#00aeff 24px,#00f5ff 28px,#3cffc3 32px,#6dff92 36px,#9dff62 40px,#67ff98 44px,#30ffcf 48px,#30ffcf 52px,#30ffcf 56px,#18ffe7 60px,#00ffff 64px,#00e7ff 68px,#00cfff 72px,#00b7ff 76px,#009fff 80px,#00cfff 84px,#00ffff 88px,#18ffe7 92px,#30ffcf 96px,#50ffaf 100px,#70ff8f 104px,#78ff87 108px,#80ff80 112px,#87ff78 116px,#8fff70 120px,#a7ff58 124px,#bfff40 128px,#87ff78 132px,#4fffb0 136px,#4fffb0 140px,#4fffb0 144px)"></div><div style="top:26px;background:linear-gradient(90deg,#00bfff 0px,#00bfff 4px,#00bfff 8px,#00b1ff 12px,#00a2ff 16px,#00c5ff 20px,#00e8ff 24px,#61ff9e 28px,#d8ff27 32px,#f5ff0a 36px,#ffec00 40px,#97ff68 44px,#1dffe2 48px,#1dffe2 52px,#1dffe2 56px,#0efff1 60px,#00ffff 64px,#00f1ff 68px,#00e2ff 72px,#00d4ff 76px,#00c5ff 80px,#00e2ff 84px,#00ffff 88px,#0efff1 92px,#1dffe2 96px,#3dffc2 100px,#5dffa2 104px,#6eff91 108px,#80ff80 112px,#91ff6e 116px,#a2ff5d 120px,#b1ff4e 124px,#bfff40 128px,#91ff6e 132px,#63ff9c 136px,#63ff9c 140px,#63ff9c 144px)"></div><div style="top:28px;background:linear-gradient(90deg,#00bfff 0px,#00bfff 4px,#00bfff 8px,#00baff 12px,#00b5ff 16px,#00eaff 20px,#21ffde 24px,#c6ff39 28px,#ff9200 32px,#ff8800 36px,#ff7e00 40px,#c5ff3a 44px,#0afff5 48px,#0afff5 52px,#0afff5 56px,#05fffa 60px,#00ffff 64px,#00faff 68px,#00f5ff 72px,#00f0ff 76px,#00eaff 80px,#00f5ff 84px,#00ffff 88px,#05fffa 92px,#0afff5 96px,#2affd5 100px,#4affb5 104px,#65ff9a 108px,#80ff80 112px,#9aff65 116px,#b5ff4a 120px,#baff45 124px,#bfff40 128px,#9aff65 132px,#75ff8a 136px,#75ff8a 140px,#75ff8a 144px)"></div><div style="top:30px;background:linear-gradient(90deg,#00bfff 0px,#00bfff 4px,#00bfff 8px,#00c0ff 12px,#00c6ff 16px,#13ffec 20px,#79ff86 24px,#ffcc00 28px,#ff3900 32px,#ff6c00 36px,#ff9f00 40px,#adff52 44px,#01fffe 48px,#01fffe 52px,#00ffff 56px,#06fff9 60px,#0dfff2 64px,#13ffec 68px,#1affe5 72px,#20ffdf 76px,#1fffe0 80px,#00ffff 84px,#00ffff 88px,#00ffff 92px,#00ffff 96px,#20ffdf 100px,#40ffbf 104px,#5fffa0 108px,#7fff80 112px,#9fff60 116px,#bfff40 120px,#bfff40 124px,#bfff40 128px,#9fff60 132px,#7fff80 136px,#7fff80 140px,#7fff80 144px)"></div><div style="top:32px;background:linear-gradient(90deg,#00bfff 0px,#00bfff 4px,#00bfff 8px,#00c2ff 12px,#00d8ff 16px,#40ffbf 20px,#f0ff0f 24px,#ff6000 28px,#ff2000 32px,#ffa900 36px,#b9ff46 40px,#4fffb0 44px,#0bfff4 48px,#05fffa 52px,#00ffff 56px,#13ffec 60px,#26ffd9 64px,#39ffc6 68px,#4dffb2 72px,#60ff9f 76px,#5cffa3 80px,#00ffff 84px,#00ffff 88px,#00ffff 92px,#00ffff 96px,#20ffdf 100px,#40ffbf 104px,#59ffa6 108px,#72ff8d 112px,#99ff66 116px,#bfff40 120px,#bfff40 124px,#bfff40 128px,#99ff66 132px,#72ff8d 136px,#72ff8d 140px,#72ff8d 144px)"></div><div style="top:34px;background:linear-gradient(90deg,#00bfff 0px,#00bfff 4px,#00bfff 8px,#00bfff 12px,#00dfff 16px,#79ff86 20px,#ff8600 24px,#e50000 28px,#eb0000 32px,#ff6b00 36px,#94ff6b 40px,#00f9ff 44px,#00ffff 48px,#00ffff 52px,#00ffff 56px,#20ffdf 60px,#40ffbf 64px,#60ff9f 68px,#80ff80 72px,#9fff60 76px,#99ff66 80px,#00ffff 84px,#00ffff 88px,#00ffff 92px,#00ffff 96px,#20ffdf 100px,#40ffbf 104px,#4fffb0 108px,#5fffa0 112px,#8fff70 116px,#bfff40 120px,#bfff40 124px,#bfff40 128px,#8fff70 132px,#5fffa0 136px,#5fffa0 140px,#5fffa0 144px)"></div><div style="top:36px;background:linear-gradient(90deg,#00b3ff 0px,#00b3ff 4px,#00b9ff 8px,#00bfff 12px,#00dfff 16px,#67ff98 20px,#ffc300 24px,#ff3d00 28px,#ff3d00 32px,#ff8400 36px,#b3ff4c 40px,#0cfff3 44px,#00ffff 48px,#00ffff 52px,#00ffff 56px,#20ffdf 60px,#40ffbf 64px,#59ffa6 68px,#73ff8c 72px,#99ff66 76px,#99ff66 80px,#00ffff 84px,#00ffff 88px,#00ffff 92px,#00ffff 96px,#20ffdf 100px,#40ffbf 104px,#46ffb9 108px,#4cffb3 112px,#86ff79 116px,#bfff40 120px,#bfff40 124px,#bfff40 128px,#86ff79 132px,#4cffb3 136px,#4cffb3 140px,#4cffb3 144px)"></div><div style="top:38px;background:linear-gradient(90deg,#008cff 0px,#008cff 4px,#00a6ff 8px,#00bfff 12px,#00dfff 16px,#19ffe6 20px,#64ff9b 24px,#9cff63 28px,#9cff63 32px,#a4ff5b 36px,#8cff73 40px,#33ffcc 44px,#00ffff 48px,#00ffff 52px,#00ffff 56px,#20ffdf 60px,#40ffbf 64px,#46ffb9 68px,#4cffb3 72px,#86ff79 76px,#99ff66 80px,#00ffff 84px,#00ffff 88px,#00ffff 92px,#00ffff 96px,#20ffdf 100px,#40ffbf 104px,#40ffbf 108px,#40ffbf 112px,#80ff7f 116px,#bfff40 120px,#bfff40 124px,#bfff40 128px,#80ff7f 132px,#40ffbf 136px,#40ffbf 140px,#40ffbf 144px)"></div><div style="top:40px;background:linear-gradient(90deg,#0080ff 0px,#0080ff 4px,#009fff 8px,#00c5ff 12px,#00ebff 16px,#19ffe6 20px,#45ffba 24px,#6bff94 28px,#6bff94 32px,#78ff87 36px,#8cff73 40px,#52ffad 44px,#0cfff3 48px,#00ffff 52px,#00f9ff 56px,#0dfff2 60px,#2dffd2 64px,#33ffcc 68px,#33ffcc 72px,#67ff98 76px,#76ff89 80px,#00ffff 84px,#00ffff 88px,#00ffff 92px,#00ffff 96px,#1affe5 100px,#34ffcb 104px,#3affc5 108px,#40ffbf 112px,#7aff85 116px,#b4ff4b 120px,#aeff51 124px,#a8ff57 128px,#68ff97 132px,#29ffd6 136px,#29ffd6 140px,#29ffd6 144px)"></div><div style="top:42px;background:linear-gradient(90deg,#0080ff 0px,#0080ff 4px,#009fff 8px,#00d9ff 12px,#14ffeb 16px,#67ff98 20px,#baff45 24px,#f4ff0b 28px,#f4ff0b 32px,#c6ff39 36px,#b3ff4c 40px,#8dff72 44px,#33ffcc 48px,#00ffff 52px,#00e5ff 56px,#00d2ff 60px,#00f2ff 64px,#0cfff3 68px,#0cfff3 72px,#19ffe6 76px,#09fff6 80px,#00ffff 84px,#00ffff 88px,#00ffff 92px,#00ffff 96px,#11ffee 100px,#21ffde 104px,#31ffce 108px,#40ffbf 112px,#70ff8f 116px,#a1ff5e 120px,#92ff6d 124px,#83ff7c 128px,#43ffbc 132px,#03fffc 136px,#03fffc 140px,#03fffc 144px)"></div><div style="top:44px;background:linear-gradient(90deg,#008cff 0px,#008cff 4px,#00acff 8px,#00f8ff 12px,#51ffae 16px,#b7ff48 20px,#fff400 24px,#ffc000 28px,#ffc600 32px,#f8ff07 36px,#d2ff2d 40px,#acff53 44px,#46ffb9 48px,#00ffff 52px,#00e5ff 56px,#00ccff 60px,#00e5ff 64px,#00ffff 68px,#00ffff 72px,#00f9ff 76px,#00e1ff 80px,#00ffff 84px,#00ffff 88px,#00ffff 92px,#00ffff 96px,#07fff8 100px,#0efff1 104px,#27ffd8 108px,#40ffbf 112px,#67ff98 116px,#8eff71 120px,#75ff8a 124px,#5cffa3 128px,#1cffe3 132px,#00dcff 136px,#00dcff 140px,#00dcff 144px)"></div><div style="top:46px;background:linear-gradient(90deg,#00b3ff 0px,#00b3ff 4px,#00d3ff 8px,#47ffb8 12px,#edff12 16px,#ff9700 20px,#ff6b00 24px,#ff5f00 28px,#ff7800 32px,#ffb800 36px,#fff200 40px,#d3ff2c 44px,#59ffa6 48px,#00ffff 52px,#00f9ff 56px,#00f3ff 60px,#00f9ff 64px,#00ffff 68px,#00ffff 72px,#00e5ff 76px,#00d1ff 80px,#00ffff 84px,#00ffff 88px,#00ffff 92px,#00ffff 96px,#00ffff 100px,#01fffe 104px,#20ffdf 108px,#40ffbf 112px,#60ff9f 116px,#80ff7f 120px,#61ff9e 124px,#42ffbd 128px,#02fffd 132px,#00c1ff 136px,#00c1ff 140px,#00c1ff 144px)"></div><div style="top:48px;background:linear-gradient(90deg,#00bfff 0px,#00bfff 4px,#00dfff 8px,#6cff93 12px,#ffcd00 16px,#ff5300 20px,#ff3300 24px,#ff3a00 28px,#ff6000 32px,#ff9f00 36px,#ffeb00 40px,#c0ff3f 44px,#4dffb2 48px,#00f9ff 52px,#00f3ff 56px,#00f3ff 60px,#00f9ff 64px,#00ffff 68px,#00ffff 72px,#00dfff 76px,#00caff 80px,#00f5ff 84px,#00f5ff 88px,#00f5ff 92px,#00f5ff 96px,#00f0ff 100px,#00ecff 104px,#03fffc 108px,#19ffe6 112px,#39ffc6 116px,#59ffa6 120px,#3effc1 124px,#23ffdc 128px,#00ecff 132px,#00b6ff 136px,#00b6ff 140px,#00b6ff 144px)"></div><div style="top:50px;background:linear-gradient(90deg,#00bfff 0px,#00bfff 4px,#00dfff 8px,#93ff6c 12px,#ff9200 16px,#ff2c00 20px,#ff0c00 24px,#ff2600 28px,#ff6000 32px,#ff9f00 36px,#ebff14 40px,#5fffa0 44px,#13ffec 48px,#00e5ff 52px,#00ccff 56px,#00ccff 60px,#00e5ff 64px,#00ffff 68px,#00ffff 72px,#00dfff 76px,#00c6ff 80px,#00e3ff 84px,#00e3ff 88px,#00e3ff 92px,#00e3ff 96px,#00d5ff 100px,#00c7ff 104px,#00cbff 108px,#00cfff 112px,#00efff 116px,#0ffff0 120px,#00fdff 124px,#00ebff 128px,#00c7ff 132px,#00a3ff 136px,#00a3ff 140px,#00a3ff 144px)"></div><div style="top:52px;background:linear-gradient(90deg,#00ccff 0px,#00ccff 4px,#00e5ff 8px,#99ff66 12px,#ff8600 16px,#ff2600 20px,#ff0c00 24px,#ff2c00 28px,#ff6c00 32px,#ffb800 36px,#c6ff39 40px,#33ffcc 44px,#00f3ff 48px,#00d9ff 52px,#00bfff 56px,#00c5ff 60px,#00e5ff 64px,#00ffff 68px,#00f9ff 72px,#00d9ff 76px,#00beff 80px,#00cfff 84px,#00cfff 88px,#00cfff 92px,#00cfff 96px,#00b8ff 100px,#00a0ff 104px,#0090ff 108px,#0081ff 112px,#00a0ff 116px,#00c0ff 120px,#00b8ff 124px,#00b0ff 128px,#00a0ff 132px,#0090ff 136px,#0090ff 140px,#0090ff 144px)"></div><div style="top:54px;background:linear-gradient(90deg,#00f3ff 0px,#00f3ff 4px,#00f9ff 8px,#86ff79 12px,#ff9900 16px,#ff3a00 20px,#ff3300 24px,#ff5300 28px,#ff9300 32px,#f8ff07 36px,#78ff87 40px,#0cfff3 44px,#00ccff 48px,#00c5ff 52px,#00bfff 56px,#00d9ff 60px,#00f9ff 64px,#00ffff 68px,#00e5ff 72px,#00c5ff 76px,#00abff 80px,#00c1ff 84px,#00c1ff 88px,#00c1ff 92px,#00c1ff 96px,#00a2ff 100px,#0083ff 104px,#0065ff 108px,#0048ff 112px,#0067ff 116px,#0087ff 120px,#0086ff 124px,#0085ff 128px,#0083ff 132px,#0081ff 136px,#0081ff 140px,#0081ff 144px)"></div><div style="top:56px;background:linear-gradient(90deg,#31ffce 0px,#31ffce 4px,#25ffda 8px,#79ff86 12px,#ffcb00 16px,#ff6b00 20px,#ff6500 24px,#ff8b00 28px,#ffd700 32px,#b4ff4b 36px,#4dffb2 40px,#00f9ff 44px,#00bfff 48px,#00bfff 52px,#00bfff 56px,#00d9ff 60px,#00f3ff 64px,#00f9ff 68px,#00dfff 72px,#00b9ff 76px,#009fff 80px,#00b7ff 84px,#00b7ff 88px,#00b7ff 92px,#00b7ff 96px,#009bff 100px,#0080ff 104px,#0064ff 108px,#0048ff 112px,#0060ff 116px,#0078ff 120px,#0078ff 124px,#0078ff 128px,#0078ff 132px,#0078ff 136px,#0078ff 140px,#0078ff 144px)"></div><div style="top:58px;background:linear-gradient(90deg,#ceff31 0px,#ceff31 4px,#9aff65 8px,#66ff99 12px,#abff54 16px,#fff400 20px,#ffda00 24px,#eaff15 28px,#77ff88 32px,#2bffd4 36px,#13ffec 40px,#00e5ff 44px,#00bfff 48px,#00bfff 52px,#00bfff 56px,#00c5ff 60px,#00ccff 64px,#00e5ff 68px,#00dfff 72px,#00a6ff 76px,#008cff 80px,#00a6ff 84px,#00a6ff 88px,#00a6ff 92px,#00a6ff 96px,#0093ff 100px,#0080ff 104px,#006cff 108px,#0059ff 112px,#0060ff 116px,#0066ff 120px,#0066ff 124px,#0066ff 128px,#0066ff 132px,#0066ff 136px,#0066ff 140px,#0066ff 144px)"></div><div style="top:60px;background:linear-gradient(90deg,#fff300 0px,#fff300 4px,#d8ff27 8px,#6cff93 12px,#61ff9e 16px,#a1ff5e 20px,#b5ff4a 24px,#81ff7e 28px,#21ffde 32px,#00f9ff 36px,#06fff9 40px,#00ebff 44px,#00ccff 48px,#00ccff 52px,#00bfff 56px,#00b9ff 60px,#00bfff 64px,#00d9ff 68px,#00d3ff 72px,#0093ff 76px,#007eff 80px,#0092ff 84px,#0092ff 88px,#0092ff 92px,#0092ff 96px,#0089ff 100px,#0080ff 104px,#0076ff 108px,#006dff 112px,#0060ff 116px,#0052ff 120px,#0052ff 124px,#0052ff 128px,#0052ff 132px,#0052ff 136px,#0052ff 140px,#0052ff 144px)"></div><div style="top:62px;background:linear-gradient(90deg,#ffcc00 0px,#ffcc00 4px,#ffd800 8px,#93ff6c 12px,#00feff 16px,#00ddff 20px,#00caff 24px,#00bdff 28px,#00beff 32px,#00e5ff 36px,#1affe5 40px,#14ffeb 44px,#00f3ff 48px,#00f3ff 52px,#00bfff 56px,#00a6ff 60px,#00bfff 64px,#00c5ff 68px,#00acff 72px,#006cff 76px,#006cff 80px,#0083ff 84px,#0083ff 88px,#0083ff 92px,#0083ff 96px,#0081ff 100px,#0080ff 104px,#007eff 108px,#007cff 112px,#0060ff 116px,#0043ff 120px,#0043ff 124px,#0043ff 128px,#0043ff 132px,#0043ff 136px,#0043ff 140px,#0043ff 144px)"></div><div style="top:64px;background:linear-gradient(90deg,#dcff23 0px,#dcff23 4px,#e8ff17 8px,#87ff78 12px,#00e5ff 16px,#008dff 20px,#0067ff 24px,#0067ff 28px,#0087ff 32px,#00c6ff 36px,#07fff8 40px,#14ffeb 44px,#00ffff 48px,#00f9ff 52px,#00b9ff 56px,#0099ff 60px,#00b9ff 64px,#00bfff 68px,#0099ff 72px,#0059ff 76px,#0065ff 80px,#0079ff 84px,#0079ff 88px,#007cff 92px,#0080ff 96px,#0080ff 100px,#0080ff 104px,#007cff 108px,#0079ff 112px,#005cff 116px,#0040ff 120px,#0040ff 124px,#0040ff 128px,#003dff 132px,#0039ff 136px,#0039ff 140px,#0039ff 144px)"></div><div style="top:66px;background:linear-gradient(90deg,#00a3ff 0px,#00a3ff 4px,#00d6ff 8px,#39ffc6 12px,#00f9ff 16px,#0052ff 20px,#0019ff 24px,#0019ff 28px,#0039ff 32px,#0078ff 36px,#00b8ff 40px,#00ebff 44px,#00ffff 48px,#00e5ff 52px,#00a6ff 56px,#0086ff 60px,#00a6ff 64px,#00bfff 68px,#0086ff 72px,#0046ff 76px,#0061ff 80px,#0068ff 84px,#0068ff 88px,#0074ff 92px,#0080ff 96px,#0080ff 100px,#0080ff 104px,#0074ff 108px,#0068ff 112px,#0054ff 116px,#0040ff 120px,#0040ff 124px,#0040ff 128px,#0034ff 132px,#0028ff 136px,#0028ff 140px,#0028ff 144px)"></div><div style="top:68px;background:linear-gradient(90deg,#0058ff 0px,#0058ff 4px,#0092ff 8px,#14ffeb 12px,#00e6ff 16px,#0033ff 20px,#0000f3 24px,#0000f9 28px,#001aff 32px,#004dff 36px,#0087ff 40px,#00cdff 44px,#00ecff 48px,#00c6ff 52px,#0093ff 56px,#0080ff 60px,#0099ff 64px,#00b3ff 68px,#0079ff 72px,#0040ff 76px,#005dff 80px,#0054ff 84px,#0054ff 88px,#006aff 92px,#0080ff 96px,#0080ff 100px,#0080ff 104px,#006aff 108px,#0054ff 112px,#004aff 116px,#0040ff 120px,#0040ff 124px,#0040ff 128px,#002aff 132px,#0014ff 136px,#0014ff 140px,#0014ff 144px)"></div><div style="top:70px;background:linear-gradient(90deg,#00a7ff 0px,#00a7ff 4px,#00cdff 8px,#00ebff 12px,#0098ff 16px,#000cff 20px,#0000cc 24px,#0000e5 28px,#0006ff 32px,#0013ff 36px,#0039ff 40px,#0092ff 44px,#00b2ff 48px,#0078ff 52px,#006cff 56px,#0080ff 60px,#0086ff 64px,#008cff 68px,#0066ff 72px,#0040ff 76px,#005aff 80px,#0044ff 84px,#0044ff 88px,#0062ff 92px,#0080ff 96px,#0080ff 100px,#0080ff 104px,#0062ff 108px,#0044ff 112px,#0042ff 116px,#0040ff 120px,#0040ff 124px,#0040ff 128px,#0022ff 132px,#0004ff 136px,#0004ff 140px,#0004ff 144px)"></div><div style="top:72px;background:linear-gradient(90deg,#00d8ff 0px,#00d8ff 4px,#00f2ff 8px,#00ebff 12px,#0092ff 16px,#0019ff 20px,#0000d2 24px,#0000df 28px,#0000f9 32px,#0000ff 36px,#001aff 40px,#006dff 44px,#0087ff 48px,#004dff 52px,#0053ff 56px,#0073ff 60px,#0079ff 64px,#0080ff 68px,#0066ff 72px,#0046ff 76px,#0055ff 80px,#0045ff 84px,#0045ff 88px,#0062ff 92px,#0080ff 96px,#0080ff 100px,#0080ff 104px,#0060ff 108px,#0040ff 112px,#003dff 116px,#003bff 120px,#003bff 124px,#003bff 128px,#001dff 132px,#0000ff 136px,#0000ff 140px,#0000ff 144px)"></div><div style="top:74px;background:linear-gradient(90deg,#27ffd8 0px,#27ffd8 4px,#2dffd2 8px,#14ffeb 12px,#00cdff 16px,#0067ff 20px,#000dff 24px,#0000df 28px,#0000e5 32px,#0000ff 36px,#0006ff 40px,#0032ff 44px,#0039ff 48px,#0013ff 52px,#002cff 56px,#004cff 60px,#0066ff 64px,#0080ff 68px,#0079ff 72px,#0059ff 76px,#0049ff 80px,#0055ff 84px,#0055ff 88px,#006aff 92px,#0080ff 96px,#0080ff 100px,#0080ff 104px,#0060ff 108px,#0040ff 112px,#0035ff 116px,#002bff 120px,#002bff 124px,#002bff 128px,#0015ff 132px,#0000ff 136px,#0000ff 140px,#0000ff 144px)"></div><div style="top:76px;background:linear-gradient(90deg,#65ff9a 0px,#65ff9a 4px,#65ff9a 8px,#45ffba 12px,#05fffa 16px,#00a5ff 20px,#003fff 24px,#0000f8 28px,#0000eb 32px,#0000ff 36px,#0006ff 40px,#001aff 44px,#0014ff 48px,#0000ff 52px,#001aff 56px,#0040ff 60px,#0066ff 64px,#0080ff 68px,#0080ff 72px,#0060ff 76px,#0048ff 80px,#0069ff 84px,#0069ff 88px,#0074ff 92px,#0080ff 96px,#0080ff 100px,#0080ff 104px,#0060ff 108px,#0040ff 112px,#002bff 116px,#0017ff 120px,#0017ff 124px,#0017ff 128px,#000bff 132px,#0000ff 136px,#0000ff 140px,#0000ff 144px)"></div><div style="top:78px;background:linear-gradient(90deg,#daff25 0px,#daff25 4px,#daff25 8px,#baff45 12px,#7aff85 16px,#1bffe4 20px,#00a0ff 24px,#0047ff 28px,#0014ff 32px,#0000ff 36px,#001aff 40px,#0006ff 44px,#0000eb 48px,#0000ff 52px,#0006ff 56px,#0040ff 60px,#0079ff 64px,#0080ff 68px,#0080ff 72px,#0060ff 76px,#004bff 80px,#007aff 84px,#007aff 88px,#007dff 92px,#0080ff 96px,#0080ff 100px,#0080ff 104px,#0060ff 108px,#0040ff 112px,#0023ff 116px,#0006ff 120px,#0006ff 124px,#0006ff 128px,#0003ff 132px,#0000ff 136px,#0000ff 140px,#0000ff 144px)"></div><div style="top:80px;background:linear-gradient(90deg,#ffe600 0px,#ffe600 4px,#ffec00 8px,#ebff14 12px,#b2ff4d 16px,#65ff9a 20px,#00f7ff 24px,#0097ff 28px,#0051ff 32px,#0031ff 36px,#004bff 40px,#0025ff 44px,#0000f8 48px,#000cff 52px,#0006ff 56px,#0040ff 60px,#0086ff 64px,#0086ff 68px,#0080ff 72px,#0066ff 76px,#0056ff 80px,#0080ff 84px,#0080ff 88px,#0080ff 92px,#0080ff 96px,#007eff 100px,#007cff 104px,#005cff 108px,#003cff 112px,#001eff 116px,#0000ff 120px,#0000ff 124px,#0000ff 128px,#0000ff 132px,#0000ff 136px,#0000ff 140px,#0000ff 144px)"></div><div style="top:82px;background:linear-gradient(90deg,#ff9800 0px,#ff9800 4px,#ffb200 8px,#ffeb00 12px,#ecff13 16px,#daff25 20px,#a8ff57 24px,#48ffb7 28px,#00edff 32px,#00ceff 36px,#00d4ff 40px,#009aff 44px,#0047ff 48px,#0033ff 52px,#001aff 56px,#0040ff 60px,#0099ff 64px,#0099ff 68px,#0080ff 72px,#0079ff 76px,#0076ff 80px,#0080ff 84px,#0080ff 88px,#0080ff 92px,#0080ff 96px,#0076ff 100px,#006cff 104px,#004dff 108px,#002dff 112px,#0016ff 116px,#0000ff 120px,#0000ff 124px,#0000ff 128px,#0000ff 132px,#0000ff 136px,#0000ff 140px,#0000ff 144px)"></div><div style="top:84px;background:linear-gradient(90deg,#ff7300 0px,#ff7300 4px,#ff8d00 8px,#ffc600 12px,#ffec00 16px,#fff900 20px,#e5ff1a 24px,#92ff6d 28px,#3fffc0 32px,#1fffe0 36px,#19ffe6 40px,#00d2ff 44px,#006cff 48px,#0046ff 52px,#0026ff 56px,#004cff 60px,#00a6ff 64px,#00a6ff 68px,#0086ff 72px,#0080ff 76px,#0080ff 80px,#0080ff 84px,#0080ff 88px,#0080ff 92px,#0080ff 96px,#006cff 100px,#0059ff 104px,#0039ff 108px,#0019ff 112px,#000cff 116px,#0000ff 120px,#0000ff 124px,#0000ff 128px,#0000ff 132px,#0000ff 136px,#0000ff 140px,#0000ff 144px)"></div><div style="top:86px;background:linear-gradient(90deg,#ff4d00 0px,#ff4d00 4px,#ff5100 8px,#ff5e00 12px,#ff7700 16px,#ffaf00 20px,#ffdc00 24px,#f0ff0f 28px,#bdff42 32px,#9cff63 36px,#7eff81 40px,#31ffce 44px,#00cfff 48px,#00b7ff 52px,#00b0ff 56px,#00bcff 60px,#00cfff 64px,#00c4ff 68px,#00a5ff 72px,#008bff 76px,#0080ff 80px,#0080ff 84px,#0080ff 88px,#0080ff 92px,#0080ff 96px,#0063ff 100px,#0047ff 104px,#0027ff 108px,#0007ff 112px,#0004ff 116px,#0000ff 120px,#0000ff 124px,#0000ff 128px,#0000ff 132px,#0000ff 136px,#0000ff 140px,#0000ff 144px)"></div><div style="top:88px;background:linear-gradient(90deg,#ff4200 0px,#ff4200 4px,#ff4200 8px,#ff3000 12px,#ff2500 16px,#ff6500 20px,#ff9f00 24px,#ffd800 28px,#edff12 32px,#cdff32 36px,#adff52 40px,#6aff95 44px,#20ffdf 48px,#2dffd2 52px,#40ffbf 56px,#1affe5 60px,#00f2ff 64px,#00d9ff 68px,#00b9ff 72px,#0099ff 76px,#0080ff 80px,#0080ff 84px,#0080ff 88px,#007eff 92px,#007dff 96px,#005eff 100px,#0040ff 104px,#0021ff 108px,#0002ff 112px,#0002ff 116px,#0002ff 120px,#0001ff 124px,#0000ff 128px,#0000ff 132px,#0000ff 136px,#0000ff 140px,#0000ff 144px)"></div><div style="top:90px;background:linear-gradient(90deg,#ff5100 0px,#ff5100 4px,#ff5100 8px,#ff4200 12px,#ff3300 16px,#ff7200 20px,#ffb200 24px,#fff200 28px,#ccff33 32px,#acff53 36px,#8dff72 40px,#66ff99 44px,#40ffbf 48px,#60ff9f 52px,#80ff80 56px,#40ffbf 60px,#00ffff 64px,#00dfff 68px,#00bfff 72px,#009fff 76px,#0080ff 80px,#0080ff 84px,#0080ff 88px,#0077ff 92px,#006fff 96px,#0057ff 100px,#0040ff 104px,#0028ff 108px,#0011ff 112px,#0011ff 116px,#0011ff 120px,#0008ff 124px,#0000ff 128px,#0000ff 132px,#0000ff 136px,#0000ff 140px,#0000ff 144px)"></div><div style="top:92px;background:linear-gradient(90deg,#ff6400 0px,#ff6400 4px,#ff6400 8px,#ff6900 12px,#ff6e00 16px,#ffad00 20px,#ffed00 24px,#d1ff2e 28px,#91ff6e 32px,#72ff8d 36px,#52ffad 40px,#49ffb6 44px,#40ffbf 48px,#60ff9f 52px,#80ff80 56px,#40ffbf 60px,#00ffff 64px,#00dfff 68px,#00bfff 72px,#009fff 76px,#0080ff 80px,#0080ff 84px,#0080ff 88px,#006dff 92px,#005bff 96px,#004dff 100px,#0040ff 104px,#0032ff 108px,#0025ff 112px,#0025ff 116px,#0025ff 120px,#0012ff 124px,#0000ff 128px,#0000ff 132px,#0000ff 136px,#0000ff 140px,#0000ff 144px)"></div><div style="top:94px;background:linear-gradient(90deg,#ff7600 0px,#ff7600 4px,#ff7600 8px,#ff8d00 12px,#ffa400 16px,#ffe400 20px,#dbff24 24px,#9bff64 28px,#5bffa4 32px,#3bffc4 36px,#1bffe4 40px,#2effd1 44px,#40ffbf 48px,#60ff9f 52px,#80ff80 56px,#40ffbf 60px,#00ffff 64px,#00dfff 68px,#00bfff 72px,#009fff 76px,#0080ff 80px,#0080ff 84px,#0080ff 88px,#0064ff 92px,#0049ff 96px,#0044ff 100px,#0040ff 104px,#003bff 108px,#0037ff 112px,#0037ff 116px,#0037ff 120px,#001bff 124px,#0000ff 128px,#0000ff 132px,#0000ff 136px,#0000ff 140px,#0000ff 144px)"></div><div style="top:96px;background:linear-gradient(90deg,#ff8800 0px,#ff8800 4px,#ff8800 8px,#ffa800 12px,#ffc700 16px,#f8ff07 20px,#b9ff46 24px,#7aff85 28px,#3cffc3 32px,#1cffe3 36px,#00fbff 40px,#1cffe3 44px,#3cffc3 48px,#5cffa3 52px,#7cff83 56px,#3dffc2 60px,#00feff 64px,#00deff 68px,#00beff 72px,#009eff 76px,#007eff 80px,#007eff 84px,#007eff 88px,#005fff 92px,#0040ff 96px,#003fff 100px,#003eff 104px,#003eff 108px,#003eff 112px,#003eff 116px,#003eff 120px,#001fff 124px,#0000ff 128px,#0000ff 132px,#0000ff 136px,#0000ff 140px,#0000ff 144px)"></div><div style="top:98px;background:linear-gradient(90deg,#ffe700 0px,#ffe700 4px,#ffe700 8px,#feff01 12px,#e6ff19 16px,#adff52 20px,#75ff8a 24px,#44ffbb 28px,#13ffec 32px,#00f2ff 36px,#00d3ff 40px,#00f2ff 44px,#13ffec 48px,#33ffcc 52px,#53ffac 56px,#22ffdd 60px,#00f0ff 64px,#00d0ff 68px,#00b0ff 72px,#0091ff 76px,#0071ff 80px,#0071ff 84px,#0071ff 88px,#0058ff 92px,#0040ff 96px,#0038ff 100px,#0031ff 104px,#0031ff 108px,#0031ff 112px,#0031ff 116px,#0031ff 120px,#0018ff 124px,#0000ff 128px,#0000ff 132px,#0000ff 136px,#0000ff 140px,#0000ff 144px)"></div><div style="top:100px;background:linear-gradient(90deg,#8fff70 0px,#8fff70 4px,#8fff70 8px,#80ff7f 12px,#72ff8d 16px,#43ffbc 20px,#14ffeb 24px,#00f6ff 28px,#00d8ff 32px,#00b8ff 36px,#0098ff 40px,#00b8ff 44px,#00d8ff 48px,#00f8ff 52px,#19ffe6 56px,#00faff 60px,#00ddff 64px,#00bdff 68px,#009dff 72px,#007dff 76px,#005dff 80px,#005dff 84px,#005dff 88px,#004fff 92px,#0040ff 96px,#002fff 100px,#001eff 104px,#001eff 108px,#001eff 112px,#001eff 116px,#001eff 120px,#000fff 124px,#0000ff 128px,#0000ff 132px,#0000ff 136px,#0000ff 140px,#0000ff 144px)"></div><div style="top:102px;background:linear-gradient(90deg,#0dfff2 0px,#0dfff2 4px,#0dfff2 8px,#07fff8 12px,#02fffd 16px,#00dcff 20px,#00b6ff 24px,#00abff 28px,#00a0ff 32px,#0080ff 36px,#0061ff 40px,#0080ff 44px,#00a0ff 48px,#00c0ff 52px,#00e0ff 56px,#00d5ff 60px,#00caff 64px,#00aaff 68px,#008aff 72px,#006bff 76px,#004bff 80px,#004bff 84px,#004bff 88px,#0045ff 92px,#0040ff 96px,#0025ff 100px,#000bff 104px,#000bff 108px,#000bff 112px,#000bff 116px,#000bff 120px,#0005ff 124px,#0000ff 128px,#0000ff 132px,#0000ff 136px,#0000ff 140px,#0000ff 144px)"></div><div style="top:104px;background:linear-gradient(90deg,#00bfff 0px,#00bfff 4px,#00bfff 8px,#00bfff 12px,#00bfff 16px,#009fff 20px,#0080ff 24px,#0080ff 28px,#0080ff 32px,#0060ff 36px,#0040ff 40px,#0060ff 44px,#0080ff 48px,#009fff 52px,#00bfff 56px,#00bfff 60px,#00bfff 64px,#009fff 68px,#0080ff 72px,#0060ff 76px,#0040ff 80px,#0040ff 84px,#0040ff 88px,#0040ff 92px,#0040ff 96px,#0020ff 100px,#0000ff 104px,#0000ff 108px,#0000ff 112px,#0000ff 116px,#0000ff 120px,#0000ff 124px,#0000ff 128px,#0000ff 132px,#0000ff 136px,#0000ff 140px,#0000ff 144px)"></div><div style="top:106px;background:linear-gradient(90deg,#00bfff 0px,#00bfff 4px,#00bfff 8px,#00bfff 12px,#00bfff 16px,#009fff 20px,#0080ff 24px,#0080ff 28px,#0080ff 32px,#0060ff 36px,#0040ff 40px,#0060ff 44px,#0080ff 48px,#009fff 52px,#00bfff 56px,#00bfff 60px,#00bfff 64px,#009fff 68px,#0080ff 72px,#0060ff 76px,#0040ff 80px,#0040ff 84px,#0040ff 88px,#0040ff 92px,#0040ff 96px,#0020ff 100px,#0000ff 104px,#0000ff 108px,#0000ff 112px,#0000ff 116px,#0000ff 120px,#0000ff 124px,#0000ff 128px,#0000ff 132px,#0000ff 136px,#0000ff 140px,#0000ff 144px)"></div><div style="top:108px;background:linear-gradient(90deg,#00bfff 0px,#00bfff 4px,#00bfff 8px,#00bfff 12px,#00bfff 16px,#009fff 20px,#0080ff 24px,#0080ff 28px,#0080ff 32px,#0060ff 36px,#0040ff 40px,#0060ff 44px,#0080ff 48px,#009fff 52px,#00bfff 56px,#00bfff 60px,#00bfff 64px,#009fff 68px,#0080ff 72px,#0060ff 76px,#0040ff 80px,#0040ff 84px,#0040ff 88px,#0040ff 92px,#0040ff 96px,#0020ff 100px,#0000ff 104px,#0000ff 108px,#0000ff 112px,#0000ff 116px,#0000ff 120px,#0000ff 124px,#0000ff 128px,#0000ff 132px,#0000ff 136px,#0000ff 140px,#0000ff 144px)"></div><div style="top:110px;background:linear-gradient(90deg,#00bfff 0px,#00bfff 4px,#00bfff 8px,#00bfff 12px,#00bfff 16px,#009fff 20px,#0080ff 24px,#0080ff 28px,#0080ff 32px,#0060ff 36px,#0040ff 40px,#0060ff 44px,#0080ff 48px,#009fff 52px,#00bfff 56px,#00bfff 60px,#00bfff 64px,#009fff 68px,#0080ff 72px,#0060ff 76px,#0040ff 80px,#0040ff 84px,#0040ff 88px,#0040ff 92px,#0040ff 96px,#0020ff 100px,#0000ff 104px,#0000ff 108px,#0000ff 112px,#0000ff 116px,#0000ff 120px,#0000ff 124px,#0000ff 128px,#0000ff 132px,#0000ff 136px,#0000ff 140px,#0000ff 144px)"></div></div><svg class="ov" width="136" height="107" viewBox="0 0 136 107"><polyline points="109.1,6.7 114.7,8.1 117.8,11.5 119.9,17.5 124.1,20.4 127.2,25.4 130.3,25.7 135.1,23.6 133.8,27.3 133.0,30.0 131.5,33.6 129.0,33.0 127.4,34.5 127.8,39.4 126.3,41.4 125.5,39.9 124.3,41.4 122.8,42.5 121.1,44.1 118.9,43.3 116.8,45.5 113.4,48.0 110.5,49.1 107.6,50.9 106.8,49.3 108.9,46.9 106.4,45.8 104.3,48.0 102.8,49.6 100.1,50.1 99.5,52.0 101.8,54.4 102.2,55.4 104.9,54.1 107.4,54.6 109.5,56.0 107.4,56.5 104.9,58.5 102.6,61.1 104.9,62.9 106.2,67.1 108.0,69.1 108.3,71.3 107.4,72.2 108.7,73.7 107.6,77.0 106.0,78.6 104.9,80.5 103.5,82.4 102.2,84.5 100.6,86.3 98.7,88.1 97.0,89.7 94.9,90.1 92.4,91.0 90.8,91.5 88.3,92.4 85.6,93.1 84.3,94.4 83.9,95.7 83.3,94.2 82.7,92.8 80.6,92.6 79.4,93.1 77.3,91.7 76.6,90.1 74.8,89.7 73.7,89.0 72.1,90.1 70.8,90.8 69.4,90.4 67.7,90.8 66.5,91.0 66.0,93.5 64.4,93.5 63.1,93.1 61.7,91.7 61.3,89.7 60.2,88.1 58.6,87.2 57.7,87.7 58.1,85.4 59.8,83.1 60.0,79.4 59.4,77.7 57.3,77.5 55.7,75.8 54.4,74.9 52.3,75.6 50.2,76.3 47.3,78.6 45.3,78.6 43.0,78.2 40.9,77.9 39.6,79.8 38.0,78.4 35.1,77.9 32.6,77.2 29.9,76.0 27.0,73.9 23.8,72.9 21.3,71.7 19.1,70.3 18.6,68.6 18.0,67.1 19.9,66.1 18.6,62.9 16.8,60.1 13.9,59.1 11.8,56.5 9.9,55.7 10.5,52.3 8.5,51.7 7.6,49.3 8.7,48.0 11.8,46.3 13.9,46.9 16.6,45.2 19.1,43.0 21.6,42.2 22.0,39.7 22.8,39.1 22.0,36.5 21.3,33.9 24.7,33.0 26.5,32.7 25.9,30.0 27.4,27.3 31.1,28.2 32.8,27.6 33.0,23.6 35.3,22.0 36.3,21.0 37.8,22.9 40.7,24.8 42.6,25.7 44.0,29.1 43.6,33.0 47.1,33.9 50.9,35.3 53.2,35.9 55.2,40.2 59.6,40.8 63.8,40.8 66.5,41.1 70.0,42.8 73.1,43.6 76.9,41.6 82.1,41.1 85.0,39.4 87.5,37.7 86.4,35.6 87.5,33.6 91.0,34.5 95.4,32.7 97.4,29.7 100.8,28.8 103.7,29.1 104.1,27.3 101.2,25.1 99.7,24.8 98.7,25.7 95.2,25.1 96.0,22.3 99.9,20.1 102.6,18.5 102.8,17.2 104.5,12.9 106.8,10.2 109.1,6.7" class="bd"/><polyline points="106.4,84.9 108.3,85.1 107.6,87.4 106.2,91.9 104.7,90.6 104.5,88.6 106.4,84.9" class="bd"/><polyline points="83.9,96.2 85.6,97.1 84.5,99.3 82.7,100.4 80.8,99.7 80.6,97.9 82.1,96.4 83.9,96.2" class="bd"/><polyline points="16.8,60.1 21.1,59.6 25.3,59.3 29.5,58.5 33.6,58.3 37.8,58.5 43.0,59.1" class="pv"/><polyline points="43.0,59.1 45.0,55.2 49.2,51.7 51.9,50.7 52.3,46.6 55.2,40.2" class="pv"/><polyline points="43.0,59.1 46.1,62.4 49.2,64.9 52.3,66.1 56.5,66.6 58.6,66.1 60.0,68.1 60.4,72.2 60.0,75.8 59.4,77.7" class="pv"/><polyline points="51.9,50.7 57.5,50.7 61.7,52.5 65.8,54.6 69.0,56.7 67.9,59.8 65.8,62.9 65.8,64.9" class="pv"/><polyline points="58.6,66.1 60.6,65.4 64.8,65.1 65.8,64.9 67.9,64.1 70.0,63.6 71.7,65.6 74.2,66.8" class="pv"/><polyline points="56.9,40.2 59.6,45.2 62.7,46.6 67.9,49.3 71.0,50.1 71.7,54.6 73.1,59.8 76.2,60.6 78.5,54.6 77.1,49.9 75.2,50.7 72.7,49.3" class="pv"/><polyline points="76.2,60.6 76.4,62.4 74.2,65.6 74.2,66.8" class="pv"/><polyline points="78.5,53.9 80.8,53.9 84.5,50.1 86.0,49.1 88.3,47.4 91.4,46.6 92.9,43.9 96.0,42.5 98.9,41.1 102.6,41.6 105.3,41.1 108.5,41.1 109.5,38.5 108.5,35.3 111.0,33.0 112.6,30.9 111.6,26.0 109.5,23.2 108.5,18.5 111.6,15.2 115.7,9.8" class="pv"/><polyline points="112.6,30.9 116.8,33.3 120.9,35.3 125.1,36.8 127.6,36.5" class="pv"/><polyline points="109.5,38.5 111.6,39.1 114.7,41.9 116.8,45.2" class="pv"/><polyline points="102.8,49.6 103.9,46.6 103.3,43.9 102.6,41.6" class="pv"/><polyline points="84.5,62.1 84.3,56.5 85.8,52.0 86.0,49.1" class="pv"/><polyline points="91.4,46.6 91.8,47.4 91.0,51.2 91.4,54.9 91.2,57.8 89.3,60.6 86.6,61.6 84.5,62.1" class="pv"/><polyline points="74.2,66.8 77.3,68.1 80.4,68.1 82.5,69.1 83.9,67.1 85.6,65.4 84.5,62.1" class="pv"/><polyline points="89.3,60.6 91.8,58.0 94.9,58.3 96.2,62.1 94.9,63.6 96.0,64.9 94.5,67.8 92.9,69.1 89.7,69.3 86.6,67.1 85.6,65.4" class="pv"/><polyline points="94.9,58.3 94.7,56.5 96.6,54.4 99.5,52.5" class="pv"/><polyline points="96.2,62.1 99.1,62.1 101.4,62.1 102.6,61.1" class="pv"/><polyline points="96.2,62.1 99.1,63.1 101.2,64.9 100.8,67.3 102.6,68.6 103.1,70.5 105.3,71.3 107.0,71.7" class="pv"/><polyline points="103.1,70.5 101.2,73.4 100.6,75.3 101.2,77.7 103.3,79.1 104.9,80.3" class="pv"/><polyline points="93.7,67.8 96.0,70.5 97.0,73.9 99.1,74.6 100.6,75.3" class="pv"/><polyline points="97.0,73.9 92.9,73.9 91.8,74.6 92.2,77.0 91.4,79.4 91.8,82.1 91.6,84.0 92.2,85.6 94.3,86.1 96.0,85.4 97.0,83.3 98.5,81.5 100.1,79.4 101.2,77.7" class="pv"/><polyline points="96.0,85.4 98.5,88.3" class="pv"/><polyline points="82.5,74.6 86.6,74.1 89.5,74.6 91.8,74.6" class="pv"/><polyline points="82.5,74.6 84.1,72.2 83.5,69.8 82.7,69.1" class="pv"/><polyline points="82.5,74.6 81.4,77.0 82.1,80.5 82.5,82.8 84.5,83.1 86.2,84.7 88.7,85.1 90.8,84.5 91.6,84.0" class="pv"/><polyline points="86.2,84.7 86.6,87.4 85.6,90.1 83.1,92.8" class="pv"/><polyline points="82.5,82.8 80.0,84.0 77.3,85.6 74.4,85.4 73.1,87.0 74.2,89.0" class="pv"/><polyline points="73.1,86.3 72.1,84.0 71.7,81.5 73.1,79.1 75.2,77.5 77.7,76.3 79.8,75.8 81.4,77.0" class="pv"/><polyline points="59.4,77.7 61.9,76.3 63.3,77.7 65.2,80.3 66.9,82.1 69.0,81.0 70.0,78.2 72.1,78.2 72.1,80.5" class="pv"/><polyline points="79.8,75.8 76.2,77.0 75.2,74.6 75.8,72.2 78.3,69.8 80.4,68.1" class="pv"/><rect x="0.5" y="0.5" width="135" height="106" class="fw"/><path d="M0.3 0.5H10.7M0.3 106.5H10.7M21.1 0.5H31.5M21.1 106.5H31.5M41.9 0.5H52.3M41.9 106.5H52.3M62.7 0.5H73.1M62.7 106.5H73.1M83.5 0.5H93.9M83.5 106.5H93.9M104.3 0.5H114.7M104.3 106.5H114.7M125.1 0.5H135.5M125.1 106.5H135.5M0.5 0.0V18.5M135.5 0.0V18.5M0.5 33.9V48.0M135.5 33.9V48.0M0.5 61.1V73.4M135.5 61.1V73.4M0.5 85.1V96.4M135.5 85.1V96.4" class="fb"/></svg></div>
<div class="cb" style="left:351.5px;top:274px;background:linear-gradient(180deg,#800000 0.00%,#9f0000 3.12%,#bf0000 6.25%,#df0000 9.38%,#ff0000 12.50%,#ff2000 15.62%,#ff4000 18.75%,#ff6000 21.88%,#ff8000 25.00%,#ff9f00 28.12%,#ffbf00 31.25%,#ffdf00 34.38%,#ffff00 37.50%,#dfff20 40.62%,#bfff40 43.75%,#9fff60 46.88%,#80ff80 50.00%,#60ff9f 53.12%,#40ffbf 56.25%,#20ffdf 59.38%,#00ffff 62.50%,#00dfff 65.62%,#00bfff 68.75%,#009fff 71.88%,#0080ff 75.00%,#0060ff 78.12%,#0040ff 81.25%,#0020ff 84.38%,#0000ff 87.50%,#0000df 90.62%,#0000bf 93.75%,#00009f 96.88%,#000080 100.00%)"></div>
<div class="t tk" style="left:343.8px;top:266.4px;width:20px;text-align:center">K</div>
<div class="t tk" style="left:358.6px;top:285.4px;width:3.5px;text-align:center">4</div>
<div class="t tk" style="left:358.6px;top:308.0px;width:3.5px;text-align:center">3</div>
<div class="t tk" style="left:358.6px;top:330.8px;width:3.5px;text-align:center">2</div>
<div class="t tk" style="left:358.6px;top:353.5px;width:3.5px;text-align:center">1</div>
<div class="t tk" style="left:358.6px;top:376.3px;width:3.5px;text-align:center">0</div>
<div class="t tk" style="left:195.5px;top:289.0px;width:14px;text-align:right">50°N</div>
<div class="t tk" style="left:195.5px;top:317.8px;width:14px;text-align:right">40°N</div>
<div class="t tk" style="left:195.5px;top:343.8px;width:14px;text-align:right">30°N</div>
<div class="t tk" style="left:195.5px;top:366.9px;width:14px;text-align:right">20°N</div>
<div class="t tk" style="left:197.3px;top:382.8px;width:30px;text-align:center">70°E</div>
<div class="t tk" style="left:218.2px;top:382.8px;width:30px;text-align:center">80°E</div>
<div class="t tk" style="left:238.9px;top:382.8px;width:30px;text-align:center">90°E</div>
<div class="t tk" style="left:259.8px;top:382.8px;width:30px;text-align:center">100°E</div>
<div class="t tk" style="left:280.6px;top:382.8px;width:30px;text-align:center">110°E</div>
<div class="t tk" style="left:301.4px;top:382.8px;width:30px;text-align:center">120°E</div>
<div class="t tk" style="left:322.1px;top:382.8px;width:30px;text-align:center">130°E</div>
<div class="t pl" style="left:215.5px;top:275.5px">(h)</div>
<div class="pn" style="left:392px;top:274px"><div class="w"><div style="top:0px;background:linear-gradient(90deg,#00bfff 0px,#00bfff 4px,#00bfff 8px,#00dfff 12px,#00ffff 16px,#00ffff 20px,#00ffff 24px,#00ffff 28px,#00ffff 32px,#00ffff 36px,#00ffff 40px,#00ffff 44px,#00ffff 48px,#00ffff 52px,#00ffff 56px,#20ffdf 60px,#40ffbf 64px,#40ffbf 68px,#40ffbf 72px,#60ff9f 76px,#80ff80 80px,#80ff80 84px,#80ff80 88px,#9fff60 92px,#bfff40 96px,#bfff40 100px,#bfff40 104px,#dfff20 108px,#ffff00 112px,#ffff00 116px,#ffff00 120px,#ffff00 124px,#ffff00 128px,#dfff20 132px,#bfff40 136px,#bfff40 140px,#bfff40 144px)"></div><div style="top:2px;background:linear-gradient(90deg,#00bfff 0px,#00bfff 4px,#00bfff 8px,#00dfff 12px,#00ffff 16px,#00ffff 20px,#00ffff 24px,#00ffff 28px,#00ffff 32px,#00ffff 36px,#00ffff 40px,#00ffff 44px,#00ffff 48px,#00ffff 52px,#00ffff 56px,#20ffdf 60px,#40ffbf 64px,#40ffbf 68px,#40ffbf 72px,#60ff9f 76px,#80ff80 80px,#80ff80 84px,#80ff80 88px,#9fff60 92px,#bfff40 96px,#bfff40 100px,#bfff40 104px,#dfff20 108px,#ffff00 112px,#ffff00 116px,#ffff00 120px,#ffff00 124px,#ffff00 128px,#dfff20 132px,#bfff40 136px,#bfff40 140px,#bfff40 144px)"></div><div style="top:4px;background:linear-gradient(90deg,#00bfff 0px,#00bfff 4px,#00bfff 8px,#00dfff 12px,#00ffff 16px,#00ffff 20px,#00ffff 24px,#00ffff 28px,#00ffff 32px,#00ffff 36px,#00ffff 40px,#00ffff 44px,#00ffff 48px,#00ffff 52px,#00ffff 56px,#20ffdf 60px,#40ffbf 64px,#40ffbf 68px,#40ffbf 72px,#60ff9f 76px,#80ff80 80px,#80ff80 84px,#80ff80 88px,#9fff60 92px,#bfff40 96px,#bfff40 100px,#bfff40 104px,#dfff20 108px,#ffff00 112px,#ffff00 116px,#ffff00 120px,#ffff00 124px,#ffff00 128px,#dfff20 132px,#bfff40 136px,#bfff40 140px,#bfff40 144px)"></div><div style="top:6px;background:linear-gradient(90deg,#00bfff 0px,#00bfff 4px,#00bfff 8px,#00ddff 12px,#00fbff 16px,#00fbff 20px,#00fbff 24px,#00f9ff 28px,#00f7ff 32px,#00f7ff 36px,#00f7ff 40px,#00f9ff 44px,#00fbff 48px,#00fbff 52px,#00fbff 56px,#1cffe3 60px,#3cffc3 64px,#3effc1 68px,#40ffbf 72px,#5effa1 76px,#7cff83 80px,#7eff81 84px,#80ff80 88px,#9fff60 92px,#bfff40 96px,#c1ff3e 100px,#c3ff3c 104px,#e3ff1c 108px,#fffb00 112px,#fff900 116px,#fff700 120px,#fff900 124px,#fffb00 128px,#e3ff1c 132px,#c3ff3c 136px,#c3ff3c 140px,#c3ff3c 144px)"></div><div style="top:8px;background:linear-gradient(90deg,#00bfff 0px,#00bfff 4px,#00bfff 8px,#00d5ff 12px,#00ebff 16px,#00ebff 20px,#00ebff 24px,#00e1ff 28px,#00d8ff 32px,#00d8ff 36px,#00d8ff 40px,#00e1ff 44px,#00ebff 48px,#00ebff 52px,#00ebff 56px,#0cfff3 60px,#2cffd3 64px,#36ffc9 68px,#40ffbf 72px,#56ffa9 76px,#6cff93 80px,#76ff89 84px,#80ff80 88px,#9fff60 92px,#bfff40 96px,#c9ff36 100px,#d3ff2c 104px,#f3ff0c 108px,#ffeb00 112px,#ffe100 116px,#ffd800 120px,#ffe100 124px,#ffeb00 128px,#f3ff0c 132px,#d3ff2c 136px,#d3ff2c 140px,#d3ff2c 144px)"></div><div style="top:10px;background:linear-gradient(90deg,#00bfff 0px,#00bfff 4px,#00bfff 8px,#00cbff 12px,#00d7ff 16px,#00d7ff 20px,#00d7ff 24px,#00c4ff 28px,#00b0ff 32px,#00b0ff 36px,#00b0ff 40px,#00c4ff 44px,#00d7ff 48px,#00d7ff 52px,#00d7ff 56px,#00f7ff 60px,#18ffe7 64px,#2cffd3 68px,#40ffbf 72px,#4cffb3 76px,#58ffa7 80px,#6cff93 84px,#80ff80 88px,#9fff60 92px,#bfff40 96px,#d3ff2c 100px,#e7ff18 104px,#fff700 108px,#ffd700 112px,#ffc400 116px,#ffb000 120px,#ffc400 124px,#ffd700 128px,#fff700 132px,#e7ff18 136px,#e7ff18 140px,#e7ff18 144px)"></div><div style="top:12px;background:linear-gradient(90deg,#00bfff 0px,#00bfff 4px,#00bfff 8px,#00c3ff 12px,#00c6ff 16px,#00c6ff 20px,#00c6ff 24px,#00aaff 28px,#008dff 32px,#008dff 36px,#008dff 40px,#00aaff 44px,#00c6ff 48px,#00c6ff 52px,#00c6ff 56px,#00e6ff 60px,#07fff8 64px,#23ffdc 68px,#40ffbf 72px,#43ffbc 76px,#47ffb8 80px,#63ff9c 84px,#80ff80 88px,#9fff60 92px,#bfff40 96px,#dcff23 100px,#f8ff07 104px,#ffe600 108px,#ffc600 112px,#ffaa00 116px,#ff8d00 120px,#ffaa00 124px,#ffc600 128px,#ffe600 132px,#f8ff07 136px,#f8ff07 140px,#f8ff07 144px)"></div><div style="top:14px;background:linear-gradient(90deg,#00bdff 0px,#00bdff 4px,#00bdff 8px,#00bdff 12px,#00bdff 16px,#00bdff 20px,#00bdff 24px,#009dff 28px,#007dff 32px,#007eff 36px,#0080ff 40px,#009eff 44px,#00bdff 48px,#00bdff 52px,#00bdff 56px,#00dcff 60px,#00fcff 64px,#1dffe2 68px,#3dffc2 72px,#3dffc2 76px,#3dffc2 80px,#5dffa2 84px,#7dff82 88px,#9dff62 92px,#bdff42 96px,#deff21 100px,#ffff00 104px,#ffde00 108px,#ffbd00 112px,#ff9e00 116px,#ff8000 120px,#ff9e00 124px,#ffbd00 128px,#ffdc00 132px,#fffc00 136px,#fffc00 140px,#fffc00 144px)"></div><div style="top:16px;background:linear-gradient(90deg,#00aeff 0px,#00aeff 4px,#00aeff 8px,#00aeff 12px,#00aeff 16px,#00aeff 20px,#00aeff 24px,#008eff 28px,#006eff 32px,#0077ff 36px,#0080ff 40px,#0097ff 44px,#00aeff 48px,#00aeff 52px,#00aeff 56px,#00ceff 60px,#00edff 64px,#0efff1 68px,#2effd1 72px,#2effd1 76px,#2effd1 80px,#4effb1 84px,#6eff91 88px,#8eff71 92px,#aeff51 96px,#d6ff29 100px,#ffff00 104px,#ffd600 108px,#ffae00 112px,#ff9700 116px,#ff8000 120px,#ff9700 124px,#ffae00 128px,#ffce00 132px,#ffed00 136px,#ffed00 140px,#ffed00 144px)"></div><div style="top:18px;background:linear-gradient(90deg,#009aff 0px,#009aff 4px,#009aff 8px,#009aff 12px,#009aff 16px,#009aff 20px,#009aff 24px,#007aff 28px,#005aff 32px,#006dff 36px,#0080ff 40px,#008dff 44px,#009aff 48px,#009aff 52px,#009aff 56px,#00baff 60px,#00daff 64px,#00faff 68px,#1affe5 72px,#1affe5 76px,#1affe5 80px,#3affc5 84px,#5affa5 88px,#7aff85 92px,#9aff65 96px,#ccff33 100px,#ffff00 104px,#ffcc00 108px,#ff9a00 112px,#ff8d00 116px,#ff8000 120px,#ff8d00 124px,#ff9a00 128px,#ffba00 132px,#ffda00 136px,#ffda00 140px,#ffda00 144px)"></div><div style="top:20px;background:linear-gradient(90deg,#0088ff 0px,#0088ff 4px,#0088ff 8px,#0088ff 12px,#0088ff 16px,#0088ff 20px,#0088ff 24px,#0068ff 28px,#0048ff 32px,#0064ff 36px,#0080ff 40px,#0084ff 44px,#0088ff 48px,#0088ff 52px,#0088ff 56px,#00a8ff 60px,#00c8ff 64px,#00e8ff 68px,#09fff6 72px,#09fff6 76px,#09fff6 80px,#28ffd7 84px,#48ffb7 88px,#68ff97 92px,#88ff77 96px,#c4ff3b 100px,#ffff00 104px,#ffc400 108px,#ff8800 112px,#ff8400 116px,#ff8000 120px,#ff8400 124px,#ff8800 128px,#ffa800 132px,#ffc800 136px,#ffc800 140px,#ffc800 144px)"></div><div style="top:22px;background:linear-gradient(90deg,#007eff 0px,#007eff 4px,#007eff 8px,#007eff 12px,#007eff 16px,#007dff 20px,#007cff 24px,#005dff 28px,#003eff 32px,#005eff 36px,#007eff 40px,#007eff 44px,#007eff 48px,#007fff 52px,#0080ff 56px,#009fff 60px,#00bfff 64px,#00dfff 68px,#00ffff 72px,#00ffff 76px,#00ffff 80px,#1fffe0 84px,#3effc1 88px,#5effa1 92px,#7eff81 96px,#beff41 100px,#fdff02 104px,#ffc000 108px,#ff8000 112px,#ff8000 116px,#ff8000 120px,#ff8000 124px,#ff8100 128px,#ffa000 132px,#ffbf00 136px,#ffbf00 140px,#ffbf00 144px)"></div><div style="top:24px;background:linear-gradient(90deg,#0070ff 0px,#0070ff 4px,#0070ff 8px,#0070ff 12px,#0070ff 16px,#0068ff 20px,#0060ff 24px,#0048ff 28px,#0030ff 32px,#0050ff 36px,#0070ff 40px,#0070ff 44px,#0070ff 48px,#0078ff 52px,#0080ff 56px,#009fff 60px,#00bfff 64px,#00dfff 68px,#00ffff 72px,#00ffff 76px,#00ffff 80px,#18ffe7 84px,#30ffcf 88px,#50ffaf 92px,#70ff8f 96px,#b0ff4f 100px,#efff10 104px,#ffc700 108px,#ff8000 112px,#ff8000 116px,#ff8000 120px,#ff8700 124px,#ff8f00 128px,#ffa700 132px,#ffbf00 136px,#ffbf00 140px,#ffbf00 144px)"></div><div style="top:26px;background:linear-gradient(90deg,#005dff 0px,#005dff 4px,#005dff 8px,#005dff 12px,#005dff 16px,#004bff 20px,#003aff 24px,#002bff 28px,#001dff 32px,#003dff 36px,#005dff 40px,#005dff 44px,#005dff 48px,#006eff 52px,#0080ff 56px,#009fff 60px,#00bfff 64px,#00dfff 68px,#00ffff 72px,#00ffff 76px,#00ffff 80px,#0efff1 84px,#1dffe2 88px,#3dffc2 92px,#5dffa2 96px,#9cff63 100px,#dcff23 104px,#ffd100 108px,#ff8000 112px,#ff8000 116px,#ff8000 120px,#ff9100 124px,#ffa200 128px,#ffb100 132px,#ffbf00 136px,#ffbf00 140px,#ffbf00 144px)"></div><div style="top:28px;background:linear-gradient(90deg,#004aff 0px,#004aff 4px,#004aff 8px,#004aff 12px,#004aff 16px,#002fff 20px,#0015ff 24px,#000fff 28px,#000aff 32px,#002aff 36px,#004aff 40px,#004aff 44px,#004aff 48px,#0065ff 52px,#0080ff 56px,#009fff 60px,#00bfff 64px,#00dfff 68px,#00ffff 72px,#00ffff 76px,#00ffff 80px,#05fffa 84px,#0afff5 88px,#2affd5 92px,#4affb5 96px,#8aff75 100px,#caff35 104px,#ffda00 108px,#ff8000 112px,#ff8000 116px,#ff8000 120px,#ff9a00 124px,#ffb500 128px,#ffba00 132px,#ffbf00 136px,#ffbf00 140px,#ffbf00 144px)"></div><div style="top:30px;background:linear-gradient(90deg,#003fff 0px,#003fff 4px,#003fff 8px,#003fff 12px,#003fff 16px,#0020ff 20px,#0000ff 24px,#0000ff 28px,#0000ff 32px,#0020ff 36px,#003fff 40px,#003fff 44px,#0040ff 48px,#005fff 52px,#007fff 56px,#009fff 60px,#00bfff 64px,#00deff 68px,#00feff 72px,#00feff 76px,#00feff 80px,#00ffff 84px,#00ffff 88px,#20ffdf 92px,#40ffbf 96px,#80ff7f 100px,#c1ff3e 104px,#ffde00 108px,#ff7f00 112px,#ff8000 116px,#ff8000 120px,#ffa000 124px,#ffc000 128px,#ffc000 132px,#ffc000 136px,#ffc000 140px,#ffc000 144px)"></div><div style="top:32px;background:linear-gradient(90deg,#0032ff 0px,#0032ff 4px,#0032ff 8px,#0032ff 12px,#0032ff 16px,#0019ff 20px,#0000ff 24px,#0000ff 28px,#0000ff 32px,#0019ff 36px,#0032ff 40px,#0039ff 44px,#0040ff 48px,#0059ff 52px,#0072ff 56px,#0092ff 60px,#00b2ff 64px,#00d2ff 68px,#00f2ff 72px,#00f2ff 76px,#00f2ff 80px,#00f8ff 84px,#00ffff 88px,#27ffd8 92px,#4dffb2 96px,#94ff6b 100px,#daff25 104px,#ffcb00 108px,#ff7200 112px,#ff8000 116px,#ff8d00 120px,#ffad00 124px,#ffcd00 128px,#ffcd00 132px,#ffcd00 136px,#ffcd00 140px,#ffcd00 144px)"></div><div style="top:34px;background:linear-gradient(90deg,#001fff 0px,#001fff 4px,#001fff 8px,#001fff 12px,#001fff 16px,#0010ff 20px,#0000ff 24px,#0000ff 28px,#0000ff 32px,#0010ff 36px,#001fff 40px,#002fff 44px,#0040ff 48px,#004fff 52px,#005fff 56px,#007fff 60px,#009fff 64px,#00beff 68px,#00deff 72px,#00deff 76px,#00deff 80px,#00efff 84px,#00ffff 88px,#30ffcf 92px,#60ff9f 96px,#b0ff4f 100px,#fffd00 104px,#ffae00 108px,#ff5f00 112px,#ff8000 116px,#ffa000 120px,#ffc000 124px,#ffe000 128px,#ffe000 132px,#ffe000 136px,#ffe000 140px,#ffe000 144px)"></div><div style="top:36px;background:linear-gradient(90deg,#000cff 0px,#000cff 4px,#000cff 8px,#000cff 12px,#000cff 16px,#0006ff 20px,#0000ff 24px,#0000ff 28px,#0000ff 32px,#0006ff 36px,#000cff 40px,#0026ff 44px,#0040ff 48px,#0046ff 52px,#004cff 56px,#006cff 60px,#008cff 64px,#00acff 68px,#00cbff 72px,#00cbff 76px,#00cbff 80px,#00e5ff 84px,#00ffff 88px,#3affc5 92px,#73ff8c 96px,#cdff32 100px,#ffd800 104px,#ff9200 108px,#ff4c00 112px,#ff8000 116px,#ffb300 120px,#ffd300 124px,#fff300 128px,#fff300 132px,#fff300 136px,#fff300 140px,#fff300 144px)"></div><div style="top:38px;background:linear-gradient(90deg,#0000ff 0px,#0000ff 4px,#0000ff 8px,#0000ff 12px,#0000ff 16px,#0000ff 20px,#0000ff 24px,#0000ff 28px,#0000ff 32px,#0000ff 36px,#0000ff 40px,#0020ff 44px,#0040ff 48px,#0040ff 52px,#0040ff 56px,#0060ff 60px,#0080ff 64px,#009fff 68px,#00bfff 72px,#00bfff 76px,#00bfff 80px,#00dfff 84px,#00ffff 88px,#40ffbf 92px,#7fff80 96px,#dfff20 100px,#ffbf00 104px,#ff8000 108px,#ff4000 112px,#ff8000 116px,#ffbf00 120px,#ffdf00 124px,#ffff00 128px,#ffff00 132px,#ffff00 136px,#ffff00 140px,#ffff00 144px)"></div><div style="top:40px;background:linear-gradient(90deg,#000cff 0px,#000cff 4px,#000cff 8px,#0017ff 12px,#0023ff 16px,#0028ff 20px,#002eff 24px,#002eff 28px,#002eff 32px,#0028ff 36px,#0023ff 40px,#0037ff 44px,#004bff 48px,#0046ff 52px,#0040ff 56px,#0060ff 60px,#0080ff 64px,#009fff 68px,#00bfff 72px,#00bfff 76px,#00bfff 80px,#00dfff 84px,#00ffff 88px,#46ffb9 92px,#8bff74 96px,#ebff14 100px,#ffb400 104px,#ff8500 108px,#ff5700 112px,#ff9100 116px,#ffcb00 120px,#ffe500 124px,#ffff00 128px,#ffff00 132px,#ffff00 136px,#ffff00 140px,#ffff00 144px)"></div><div style="top:42px;background:linear-gradient(90deg,#001eff 0px,#001eff 4px,#001eff 8px,#003dff 12px,#005bff 16px,#006aff 20px,#0079ff 24px,#0079ff 28px,#0079ff 32px,#006aff 36px,#005bff 40px,#005dff 44px,#005eff 48px,#004fff 52px,#0040ff 56px,#0060ff 60px,#0080ff 64px,#009fff 68px,#00bfff 72px,#00bfff 76px,#00bfff 80px,#00dfff 84px,#00ffff 88px,#4fffb0 92px,#9eff61 96px,#fdff02 100px,#ffa100 104px,#ff8f00 108px,#ff7c00 112px,#ffad00 116px,#ffde00 120px,#ffee00 124px,#ffff00 128px,#ffff00 132px,#ffff00 136px,#ffff00 140px,#ffff00 144px)"></div><div style="top:44px;background:linear-gradient(90deg,#0032ff 0px,#0032ff 4px,#0032ff 8px,#0063ff 12px,#0095ff 16px,#00aeff 20px,#00c6ff 24px,#00c6ff 28px,#00c6ff 32px,#00aeff 36px,#0095ff 40px,#0083ff 44px,#0071ff 48px,#0059ff 52px,#0040ff 56px,#0060ff 60px,#0080ff 64px,#009fff 68px,#00bfff 72px,#00bfff 76px,#00bfff 80px,#00dfff 84px,#00ffff 88px,#59ffa6 92px,#b1ff4e 96px,#ffed00 100px,#ff8e00 104px,#ff9800 108px,#ffa300 112px,#ffca00 116px,#fff100 120px,#fff800 124px,#ffff00 128px,#ffff00 132px,#ffff00 136px,#ffff00 140px,#ffff00 144px)"></div><div style="top:46px;background:linear-gradient(90deg,#003fff 0px,#003fff 4px,#003fff 8px,#007eff 12px,#00bcff 16px,#00dcff 20px,#00fbff 24px,#00fbff 28px,#00fbff 32px,#00dcff 36px,#00bcff 40px,#009dff 44px,#007fff 48px,#005fff 52px,#0040ff 56px,#0060ff 60px,#0080ff 64px,#009fff 68px,#00bfff 72px,#00bfff 76px,#00bfff 80px,#00dfff 84px,#00ffff 88px,#5fffa0 92px,#beff41 96px,#ffe000 100px,#ff8000 104px,#ff9f00 108px,#ffbd00 112px,#ffde00 116px,#fffe00 120px,#ffff00 124px,#ffff00 128px,#ffff00 132px,#ffff00 136px,#ffff00 140px,#ffff00 144px)"></div><div style="top:48px;background:linear-gradient(90deg,#0040ff 0px,#0040ff 4px,#0040ff 8px,#0080ff 12px,#00bfff 16px,#00dfff 20px,#00ffff 24px,#00faff 28px,#00f5ff 32px,#00daff 36px,#00bfff 40px,#009fff 44px,#0080ff 48px,#0064ff 52px,#0049ff 56px,#0064ff 60px,#0080ff 64px,#009fff 68px,#00bfff 72px,#00c4ff 76px,#00c9ff 80px,#00e4ff 84px,#00ffff 88px,#6eff91 92px,#dcff23 96px,#ffd100 100px,#ff8000 104px,#ffa400 108px,#ffc900 112px,#ffe900 116px,#f5ff0a 120px,#f0ff0f 124px,#ecff13 128px,#ecff13 132px,#ecff13 136px,#ecff13 140px,#ecff13 144px)"></div><div style="top:50px;background:linear-gradient(90deg,#0040ff 0px,#0040ff 4px,#0040ff 8px,#0080ff 12px,#00bfff 16px,#00dfff 20px,#00ffff 24px,#00f1ff 28px,#00e3ff 32px,#00d1ff 36px,#00bfff 40px,#009fff 44px,#0080ff 48px,#006eff 52px,#005cff 56px,#006eff 60px,#0080ff 64px,#009fff 68px,#00bfff 72px,#00cdff 76px,#00dbff 80px,#00edff 84px,#00ffff 88px,#8aff75 92px,#ffeb00 96px,#ffb500 100px,#ff8000 104px,#ffad00 108px,#ffdb00 112px,#fffb00 116px,#e3ff1c 120px,#d5ff2a 124px,#c7ff38 128px,#c7ff38 132px,#c7ff38 136px,#c7ff38 140px,#c7ff38 144px)"></div><div style="top:52px;background:linear-gradient(90deg,#0040ff 0px,#0040ff 4px,#0040ff 8px,#0080ff 12px,#00bfff 16px,#00dfff 20px,#00ffff 24px,#00e7ff 28px,#00cfff 32px,#00c7ff 36px,#00bfff 40px,#009fff 44px,#0080ff 48px,#0077ff 52px,#006fff 56px,#0077ff 60px,#0080ff 64px,#009fff 68px,#00bfff 72px,#00d7ff 76px,#00efff 80px,#00f7ff 84px,#00ffff 88px,#a7ff58 92px,#ffb000 96px,#ff9800 100px,#ff8000 104px,#ffb700 108px,#ffef00 112px,#efff10 116px,#cfff30 120px,#b8ff47 124px,#a0ff5f 128px,#a0ff5f 132px,#a0ff5f 136px,#a0ff5f 140px,#a0ff5f 144px)"></div><div style="top:54px;background:linear-gradient(90deg,#0040ff 0px,#0040ff 4px,#0040ff 8px,#0080ff 12px,#00bfff 16px,#00dfff 20px,#00ffff 24px,#00e0ff 28px,#00c1ff 32px,#00c0ff 36px,#00bfff 40px,#009fff 44px,#0080ff 48px,#007fff 52px,#007eff 56px,#007fff 60px,#0080ff 64px,#009fff 68px,#00bfff 72px,#00deff 76px,#00fdff 80px,#00feff 84px,#00ffff 88px,#bcff43 92px,#ff8500 96px,#ff8200 100px,#ff8000 104px,#ffbe00 108px,#fffd00 112px,#e1ff1e 116px,#c1ff3e 120px,#a2ff5d 124px,#83ff7c 128px,#83ff7c 132px,#83ff7c 136px,#83ff7c 140px,#83ff7c 144px)"></div><div style="top:56px;background:linear-gradient(90deg,#0048ff 0px,#0048ff 4px,#0048ff 8px,#007cff 12px,#00afff 16px,#00cfff 20px,#00efff 24px,#00d3ff 28px,#00b7ff 32px,#00b7ff 36px,#00b7ff 40px,#009bff 44px,#0080ff 48px,#0080ff 52px,#0080ff 56px,#007cff 60px,#0078ff 64px,#0097ff 68px,#00b7ff 72px,#00dbff 76px,#00ffff 80px,#04fffb 84px,#08fff7 88px,#bbff44 92px,#ff8f00 96px,#ff9300 100px,#ff9700 104px,#ffd300 108px,#efff10 112px,#d3ff2c 116px,#b7ff48 120px,#97ff68 124px,#78ff87 128px,#78ff87 132px,#78ff87 136px,#78ff87 140px,#78ff87 144px)"></div><div style="top:58px;background:linear-gradient(90deg,#0059ff 0px,#0059ff 4px,#0059ff 8px,#0073ff 12px,#008cff 16px,#00acff 20px,#00ccff 24px,#00b9ff 28px,#00a6ff 32px,#00a6ff 36px,#00a6ff 40px,#0093ff 44px,#0080ff 48px,#0080ff 52px,#0080ff 56px,#0073ff 60px,#0066ff 64px,#0086ff 68px,#00a6ff 72px,#00d2ff 76px,#00ffff 80px,#0dfff2 84px,#1affe5 88px,#b2ff4d 92px,#ffb300 96px,#ffc000 100px,#ffcd00 104px,#feff01 108px,#ccff33 112px,#b9ff46 116px,#a6ff59 120px,#86ff79 124px,#66ff99 128px,#66ff99 132px,#66ff99 136px,#66ff99 140px,#66ff99 144px)"></div><div style="top:60px;background:linear-gradient(90deg,#006dff 0px,#006dff 4px,#006dff 8px,#0069ff 12px,#0064ff 16px,#0084ff 20px,#00a4ff 24px,#009bff 28px,#0092ff 32px,#0092ff 36px,#0092ff 40px,#0089ff 44px,#0080ff 48px,#0080ff 52px,#0080ff 56px,#0069ff 60px,#0052ff 64px,#0072ff 68px,#0092ff 72px,#00c8ff 76px,#00ffff 80px,#17ffe8 84px,#2dffd2 88px,#a9ff56 92px,#ffda00 96px,#fff100 100px,#f6ff09 104px,#cdff32 108px,#a4ff5b 112px,#9bff64 116px,#92ff6d 120px,#72ff8d 124px,#52ffad 128px,#52ffad 132px,#52ffad 136px,#52ffad 140px,#52ffad 144px)"></div><div style="top:62px;background:linear-gradient(90deg,#007cff 0px,#007cff 4px,#007cff 8px,#0061ff 12px,#0046ff 16px,#0066ff 20px,#0086ff 24px,#0084ff 28px,#0083ff 32px,#0083ff 36px,#0083ff 40px,#0081ff 44px,#0080ff 48px,#0080ff 52px,#0080ff 56px,#0061ff 60px,#0043ff 64px,#0063ff 68px,#0083ff 72px,#00c1ff 76px,#00ffff 80px,#1effe1 84px,#3dffc2 88px,#a1ff5e 92px,#fff900 96px,#e7ff18 100px,#c9ff36 104px,#a7ff58 108px,#86ff79 112px,#84ff7b 116px,#83ff7c 120px,#63ff9c 124px,#43ffbc 128px,#43ffbc 132px,#43ffbc 136px,#43ffbc 140px,#43ffbc 144px)"></div><div style="top:64px;background:linear-gradient(90deg,#00b9ff 0px,#00b9ff 4px,#00b9ff 8px,#0086ff 12px,#0053ff 16px,#0069ff 20px,#0080ff 24px,#0080ff 28px,#0080ff 32px,#0080ff 36px,#0080ff 40px,#0080ff 44px,#0080ff 48px,#0080ff 52px,#0080ff 56px,#005cff 60px,#0039ff 64px,#0059ff 68px,#0079ff 72px,#00b9ff 76px,#00f9ff 80px,#19ffe6 84px,#39ffc6 88px,#96ff69 92px,#f2ff0d 96px,#d6ff29 100px,#b9ff46 104px,#99ff66 108px,#79ff86 112px,#79ff86 116px,#79ff86 120px,#59ffa6 124px,#39ffc6 128px,#39ffc6 132px,#39ffc6 136px,#39ffc6 140px,#39ffc6 144px)"></div><div style="top:66px;background:linear-gradient(90deg,#53ffac 0px,#53ffac 4px,#53ffac 8px,#00ecff 12px,#0086ff 16px,#0083ff 20px,#0080ff 24px,#0080ff 28px,#0080ff 32px,#0080ff 36px,#0080ff 40px,#0080ff 44px,#0080ff 48px,#0080ff 52px,#0080ff 56px,#0054ff 60px,#0028ff 64px,#0048ff 68px,#0068ff 72px,#00a8ff 76px,#00e8ff 80px,#08fff7 84px,#28ffd7 88px,#7cff83 92px,#d0ff2f 96px,#bcff43 100px,#a8ff57 104px,#88ff77 108px,#68ff97 112px,#68ff97 116px,#68ff97 120px,#48ffb7 124px,#28ffd7 128px,#28ffd7 132px,#28ffd7 136px,#28ffd7 140px,#28ffd7 144px)"></div><div style="top:68px;background:linear-gradient(90deg,#fff800 0px,#fff800 4px,#fff800 8px,#64ff9b 12px,#00c2ff 16px,#00a1ff 20px,#0080ff 24px,#0080ff 28px,#0080ff 32px,#0080ff 36px,#0080ff 40px,#0080ff 44px,#0080ff 48px,#0080ff 52px,#0080ff 56px,#004aff 60px,#0014ff 64px,#0034ff 68px,#0054ff 72px,#0094ff 76px,#00d4ff 80px,#00f4ff 84px,#14ffeb 88px,#5effa1 92px,#a8ff57 96px,#9eff61 100px,#94ff6b 104px,#74ff8b 108px,#54ffab 112px,#54ffab 116px,#54ffab 120px,#34ffcb 124px,#14ffeb 128px,#14ffeb 132px,#14ffeb 136px,#14ffeb 140px,#14ffeb 144px)"></div><div style="top:70px;background:linear-gradient(90deg,#ff6800 0px,#ff6800 4px,#ff6800 8px,#c5ff3a 12px,#00f2ff 16px,#00b9ff 20px,#0080ff 24px,#0080ff 28px,#0080ff 32px,#0080ff 36px,#0080ff 40px,#0080ff 44px,#0080ff 48px,#0080ff 52px,#0080ff 56px,#0042ff 60px,#0004ff 64px,#0024ff 68px,#0044ff 72px,#0084ff 76px,#00c4ff 80px,#00e4ff 84px,#04fffb 88px,#46ffb9 92px,#88ff77 96px,#86ff79 100px,#84ff7b 104px,#64ff9b 108px,#44ffbb 112px,#44ffbb 116px,#44ffbb 120px,#24ffdb 124px,#04fffb 128px,#04fffb 132px,#04fffb 136px,#04fffb 140px,#04fffb 144px)"></div><div style="top:72px;background:linear-gradient(90deg,#ff4000 0px,#ff4000 4px,#ff4000 8px,#f3ff0c 12px,#27ffd8 16px,#00e6ff 20px,#00a7ff 24px,#0091ff 28px,#007bff 32px,#007bff 36px,#007bff 40px,#007bff 44px,#007bff 48px,#007dff 52px,#0080ff 56px,#0042ff 60px,#0005ff 64px,#0020ff 68px,#003bff 72px,#0078ff 76px,#00b5ff 80px,#00d3ff 84px,#00f0ff 88px,#2cffd3 92px,#67ff98 96px,#69ff96 100px,#6cff93 104px,#4fffb0 108px,#31ffce 112px,#31ffce 116px,#31ffce 120px,#11ffee 124px,#00f0ff 128px,#00f0ff 132px,#00f0ff 136px,#00f0ff 140px,#00f0ff 144px)"></div><div style="top:74px;background:linear-gradient(90deg,#ff4000 0px,#ff4000 4px,#ff4000 8px,#ffca00 12px,#aaff55 16px,#6aff95 20px,#2affd5 24px,#00caff 28px,#006aff 32px,#006aff 36px,#006aff 40px,#006aff 44px,#006aff 48px,#0075ff 52px,#0080ff 56px,#004aff 60px,#0015ff 64px,#0020ff 68px,#002bff 72px,#0060ff 76px,#0095ff 80px,#00aaff 84px,#00bfff 88px,#00eaff 92px,#15ffea 96px,#20ffdf 100px,#2bffd4 104px,#15ffea 108px,#00ffff 112px,#00ffff 116px,#00ffff 120px,#00dfff 124px,#00bfff 128px,#00bfff 132px,#00bfff 136px,#00bfff 140px,#00bfff 144px)"></div><div style="top:76px;background:linear-gradient(90deg,#ff4000 0px,#ff4000 4px,#ff4000 8px,#ff7b00 12px,#ffb600 16px,#fff500 20px,#c9ff36 24px,#10ffef 28px,#0056ff 32px,#0056ff 36px,#0056ff 40px,#0056ff 44px,#0056ff 48px,#006bff 52px,#0080ff 56px,#0054ff 60px,#0029ff 64px,#0020ff 68px,#0017ff 72px,#0042ff 76px,#006dff 80px,#0078ff 84px,#0084ff 88px,#009bff 92px,#00b1ff 96px,#00c6ff 100px,#00daff 104px,#00cfff 108px,#00c4ff 112px,#00c4ff 116px,#00c4ff 120px,#00a4ff 124px,#0084ff 128px,#0084ff 132px,#0084ff 136px,#0084ff 140px,#0084ff 144px)"></div><div style="top:78px;background:linear-gradient(90deg,#ff4000 0px,#ff4000 4px,#ff4000 8px,#ff3700 12px,#ff2f00 16px,#ff6f00 20px,#ffae00 24px,#4bffb4 28px,#0046ff 32px,#0046ff 36px,#0046ff 40px,#0046ff 44px,#0046ff 48px,#0063ff 52px,#0080ff 56px,#005dff 60px,#003aff 64px,#0020ff 68px,#0006ff 72px,#0029ff 76px,#004bff 80px,#004eff 84px,#0051ff 88px,#0057ff 92px,#005dff 96px,#007aff 100px,#0097ff 104px,#0094ff 108px,#0091ff 112px,#0091ff 116px,#0091ff 120px,#0071ff 124px,#0051ff 128px,#0051ff 132px,#0051ff 136px,#0051ff 140px,#0051ff 144px)"></div><div style="top:80px;background:linear-gradient(90deg,#ff4000 0px,#ff4000 4px,#ff4000 8px,#ff2200 12px,#ff0400 16px,#ff4200 20px,#ff8000 24px,#60ff9f 28px,#0040ff 32px,#003eff 36px,#003cff 40px,#003cff 44px,#003cff 48px,#005aff 52px,#0078ff 56px,#005aff 60px,#003cff 64px,#001cff 68px,#0000fb 72px,#001cff 76px,#003cff 80px,#003cff 84px,#003cff 88px,#003cff 92px,#003cff 96px,#005aff 100px,#0078ff 104px,#0078ff 108px,#0078ff 112px,#0077ff 116px,#0075ff 120px,#0057ff 124px,#0039ff 128px,#0039ff 132px,#0039ff 136px,#0039ff 140px,#0039ff 144px)"></div><div style="top:82px;background:linear-gradient(90deg,#ff4000 0px,#ff4000 4px,#ff4000 8px,#ff2900 12px,#ff1300 16px,#ff4900 20px,#ff8000 24px,#60ff9f 28px,#0040ff 32px,#0036ff 36px,#002dff 40px,#002dff 44px,#002dff 48px,#0043ff 52px,#0059ff 56px,#0043ff 60px,#002dff 64px,#000dff 68px,#0000ec 72px,#000dff 76px,#002dff 80px,#002dff 84px,#002dff 88px,#002dff 92px,#002dff 96px,#0043ff 100px,#0059ff 104px,#0059ff 108px,#0059ff 112px,#0050ff 116px,#0046ff 120px,#0030ff 124px,#001aff 128px,#001aff 132px,#001aff 136px,#001aff 140px,#001aff 144px)"></div><div style="top:84px;background:linear-gradient(90deg,#ff4000 0px,#ff4000 4px,#ff4000 8px,#ff3300 12px,#ff2700 16px,#ff5300 20px,#ff8000 24px,#60ff9f 28px,#0040ff 32px,#002cff 36px,#0019ff 40px,#0019ff 44px,#0019ff 48px,#0025ff 52px,#0032ff 56px,#0025ff 60px,#0019ff 64px,#0000f8 68px,#0000d8 72px,#0000f8 76px,#0019ff 80px,#0019ff 84px,#0019ff 88px,#0019ff 92px,#0019ff 96px,#0025ff 100px,#0032ff 104px,#0032ff 108px,#0032ff 112px,#001eff 116px,#000bff 120px,#0000fe 124px,#0000f1 128px,#0000f1 132px,#0000f1 136px,#0000f1 140px,#0000f1 144px)"></div><div style="top:86px;background:linear-gradient(90deg,#ff4000 0px,#ff4000 4px,#ff4000 8px,#ff3c00 12px,#ff3800 16px,#ff5c00 20px,#ff8000 24px,#60ff9f 28px,#0040ff 32px,#0024ff 36px,#0007ff 40px,#0007ff 44px,#0007ff 48px,#000bff 52px,#000fff 56px,#000bff 60px,#0007ff 64px,#0000e7 68px,#0000c7 72px,#0000e7 76px,#0007ff 80px,#0007ff 84px,#0007ff 88px,#0007ff 92px,#0007ff 96px,#000bff 100px,#000fff 104px,#000fff 108px,#000fff 112px,#0000f2 116px,#0000d6 120px,#0000d2 124px,#0000ce 128px,#0000ce 132px,#0000ce 136px,#0000ce 140px,#0000ce 144px)"></div><div style="top:88px;background:linear-gradient(90deg,#ff5700 0px,#ff5700 4px,#ff5700 8px,#ff5500 12px,#ff5200 16px,#ff6f00 20px,#ff8b00 24px,#61ff9e 28px,#004eff 32px,#002fff 36px,#0010ff 40px,#000dff 44px,#0009ff 48px,#0008ff 52px,#0007ff 56px,#0006ff 60px,#0005ff 64px,#0000e5 68px,#0000c6 72px,#0000e6 76px,#0007ff 80px,#0007ff 84px,#0007ff 88px,#0007ff 92px,#0007ff 96px,#0007ff 100px,#0007ff 104px,#0007ff 108px,#0007ff 112px,#0000e6 116px,#0000c6 120px,#0000c6 124px,#0000c6 128px,#0000c6 132px,#0000c6 136px,#0000c6 140px,#0000c6 144px)"></div><div style="top:90px;background:linear-gradient(90deg,#ffe900 0px,#ffe900 4px,#ffe900 8px,#ffd800 12px,#ffc700 16px,#ffcd00 20px,#ffd400 24px,#68ff97 28px,#00a5ff 32px,#008eff 36px,#0076ff 40px,#005dff 44px,#0044ff 48px,#003bff 52px,#0033ff 56px,#002aff 60px,#0022ff 64px,#000aff 68px,#0000f2 72px,#0013ff 76px,#0033ff 80px,#0033ff 84px,#0033ff 88px,#0033ff 92px,#0033ff 96px,#0033ff 100px,#0033ff 104px,#0033ff 108px,#0033ff 112px,#0013ff 116px,#0000f2 120px,#0000f2 124px,#0000f2 128px,#0000f2 132px,#0000f2 136px,#0000f2 140px,#0000f2 144px)"></div><div style="top:92px;background:linear-gradient(90deg,#51ffae 0px,#51ffae 4px,#51ffae 8px,#76ff89 12px,#9aff65 16px,#b1ff4e 20px,#c8ff37 24px,#72ff8d 28px,#1cffe3 32px,#0efff1 36px,#01fffe 40px,#00c9ff 44px,#0092ff 48px,#0080ff 52px,#006eff 56px,#005bff 60px,#0049ff 64px,#003bff 68px,#002eff 72px,#004eff 76px,#006eff 80px,#006eff 84px,#006eff 88px,#006eff 92px,#006eff 96px,#006eff 100px,#006eff 104px,#006eff 108px,#006eff 112px,#004eff 116px,#002eff 120px,#002eff 124px,#002eff 128px,#002eff 132px,#002eff 136px,#002eff 140px,#002eff 144px)"></div><div style="top:94px;background:linear-gradient(90deg,#009bff 0px,#009bff 4px,#009bff 8px,#00d2ff 12px,#09fff6 16px,#3bffc4 20px,#6dff92 24px,#7bff84 28px,#88ff77 32px,#84ff7b 36px,#7fff80 40px,#2dffd2 44px,#00daff 48px,#00bfff 52px,#00a4ff 56px,#0089ff 60px,#006dff 64px,#0069ff 68px,#0064ff 72px,#0084ff 76px,#00a4ff 80px,#00a4ff 84px,#00a4ff 88px,#00a4ff 92px,#00a4ff 96px,#00a4ff 100px,#00a4ff 104px,#00a4ff 108px,#00a4ff 112px,#0084ff 116px,#0064ff 120px,#0064ff 124px,#0064ff 128px,#0064ff 132px,#0064ff 136px,#0064ff 140px,#0064ff 144px)"></div><div style="top:96px;background:linear-gradient(90deg,#003eff 0px,#003eff 4px,#003eff 8px,#007fff 12px,#00bfff 16px,#00feff 20px,#3effc1 24px,#7eff81 28px,#beff41 32px,#bfff40 36px,#bfff40 40px,#61ff9e 44px,#03fffc 48px,#00e2ff 52px,#00c2ff 56px,#00a2ff 60px,#0082ff 64px,#0081ff 68px,#0081ff 72px,#00a0ff 76px,#00bfff 80px,#00bfff 84px,#00bfff 88px,#00bfff 92px,#00bfff 96px,#00bfff 100px,#00bfff 104px,#00bfff 108px,#00bfff 112px,#00a0ff 116px,#0081ff 120px,#0081ff 124px,#0081ff 128px,#0081ff 132px,#0081ff 136px,#0081ff 140px,#0081ff 144px)"></div><div style="top:98px;background:linear-gradient(90deg,#0031ff 0px,#0031ff 4px,#0031ff 8px,#0078ff 12px,#00bfff 16px,#00f8ff 20px,#31ffce 24px,#71ff8e 28px,#b0ff4f 32px,#b8ff47 36px,#bfff40 40px,#6eff91 44px,#1effe1 48px,#00fdff 52px,#00ddff 56px,#00bdff 60px,#009dff 64px,#0096ff 68px,#008eff 72px,#00a7ff 76px,#00bfff 80px,#00bfff 84px,#00bfff 88px,#00bfff 92px,#00bfff 96px,#00bfff 100px,#00bfff 104px,#00bfff 108px,#00bfff 112px,#00a7ff 116px,#008eff 120px,#008eff 124px,#008eff 128px,#008eff 132px,#008eff 136px,#008eff 140px,#008eff 144px)"></div><div style="top:100px;background:linear-gradient(90deg,#001eff 0px,#001eff 4px,#001eff 8px,#006eff 12px,#00bfff 16px,#00eeff 20px,#1effe1 24px,#5dffa2 28px,#9dff62 32px,#aeff51 36px,#bfff40 40px,#82ff7d 44px,#44ffbb 48px,#25ffda 52px,#05fffa 56px,#00e4ff 60px,#00c4ff 64px,#00b3ff 68px,#00a2ff 72px,#00b0ff 76px,#00bfff 80px,#00bfff 84px,#00bfff 88px,#00bfff 92px,#00bfff 96px,#00bfff 100px,#00bfff 104px,#00bfff 108px,#00bfff 112px,#00b0ff 116px,#00a2ff 120px,#00a2ff 124px,#00a2ff 128px,#00a2ff 132px,#00a2ff 136px,#00a2ff 140px,#00a2ff 144px)"></div><div style="top:102px;background:linear-gradient(90deg,#000bff 0px,#000bff 4px,#000bff 8px,#0065ff 12px,#00bfff 16px,#00e5ff 20px,#0bfff4 24px,#4bffb4 28px,#8aff75 32px,#a5ff5a 36px,#bfff40 40px,#94ff6b 44px,#6aff95 48px,#4affb5 52px,#2affd5 56px,#0afff5 60px,#00e9ff 64px,#00cfff 68px,#00b4ff 72px,#00baff 76px,#00bfff 80px,#00bfff 84px,#00bfff 88px,#00bfff 92px,#00bfff 96px,#00bfff 100px,#00bfff 104px,#00bfff 108px,#00bfff 112px,#00baff 116px,#00b4ff 120px,#00b4ff 124px,#00b4ff 128px,#00b4ff 132px,#00b4ff 136px,#00b4ff 140px,#00b4ff 144px)"></div><div style="top:104px;background:linear-gradient(90deg,#0000ff 0px,#0000ff 4px,#0000ff 8px,#0060ff 12px,#00bfff 16px,#00dfff 20px,#00ffff 24px,#40ffbf 28px,#80ff80 32px,#9fff60 36px,#bfff40 40px,#9fff60 44px,#80ff80 48px,#60ff9f 52px,#40ffbf 56px,#20ffdf 60px,#00ffff 64px,#00dfff 68px,#00bfff 72px,#00bfff 76px,#00bfff 80px,#00bfff 84px,#00bfff 88px,#00bfff 92px,#00bfff 96px,#00bfff 100px,#00bfff 104px,#00bfff 108px,#00bfff 112px,#00bfff 116px,#00bfff 120px,#00bfff 124px,#00bfff 128px,#00bfff 132px,#00bfff 136px,#00bfff 140px,#00bfff 144px)"></div><div style="top:106px;background:linear-gradient(90deg,#0000ff 0px,#0000ff 4px,#0000ff 8px,#0060ff 12px,#00bfff 16px,#00dfff 20px,#00ffff 24px,#40ffbf 28px,#80ff80 32px,#9fff60 36px,#bfff40 40px,#9fff60 44px,#80ff80 48px,#60ff9f 52px,#40ffbf 56px,#20ffdf 60px,#00ffff 64px,#00dfff 68px,#00bfff 72px,#00bfff 76px,#00bfff 80px,#00bfff 84px,#00bfff 88px,#00bfff 92px,#00bfff 96px,#00bfff 100px,#00bfff 104px,#00bfff 108px,#00bfff 112px,#00bfff 116px,#00bfff 120px,#00bfff 124px,#00bfff 128px,#00bfff 132px,#00bfff 136px,#00bfff 140px,#00bfff 144px)"></div><div style="top:108px;background:linear-gradient(90deg,#0000ff 0px,#0000ff 4px,#0000ff 8px,#0060ff 12px,#00bfff 16px,#00dfff 20px,#00ffff 24px,#40ffbf 28px,#80ff80 32px,#9fff60 36px,#bfff40 40px,#9fff60 44px,#80ff80 48px,#60ff9f 52px,#40ffbf 56px,#20ffdf 60px,#00ffff 64px,#00dfff 68px,#00bfff 72px,#00bfff 76px,#00bfff 80px,#00bfff 84px,#00bfff 88px,#00bfff 92px,#00bfff 96px,#00bfff 100px,#00bfff 104px,#00bfff 108px,#00bfff 112px,#00bfff 116px,#00bfff 120px,#00bfff 124px,#00bfff 128px,#00bfff 132px,#00bfff 136px,#00bfff 140px,#00bfff 144px)"></div><div style="top:110px;background:linear-gradient(90deg,#0000ff 0px,#0000ff 4px,#0000ff 8px,#0060ff 12px,#00bfff 16px,#00dfff 20px,#00ffff 24px,#40ffbf 28px,#80ff80 32px,#9fff60 36px,#bfff40 40px,#9fff60 44px,#80ff80 48px,#60ff9f 52px,#40ffbf 56px,#20ffdf 60px,#00ffff 64px,#00dfff 68px,#00bfff 72px,#00bfff 76px,#00bfff 80px,#00bfff 84px,#00bfff 88px,#00bfff 92px,#00bfff 96px,#00bfff 100px,#00bfff 104px,#00bfff 108px,#00bfff 112px,#00bfff 116px,#00bfff 120px,#00bfff 124px,#00bfff 128px,#00bfff 132px,#00bfff 136px,#00bfff 140px,#00bfff 144px)"></div></div><svg class="ov" width="136" height="107" viewBox="0 0 136 107"><polyline points="109.1,6.7 114.7,8.1 117.8,11.5 119.9,17.5 124.1,20.4 127.2,25.4 130.3,25.7 135.1,23.6 133.8,27.3 133.0,30.0 131.5,33.6 129.0,33.0 127.4,34.5 127.8,39.4 126.3,41.4 125.5,39.9 124.3,41.4 122.8,42.5 121.1,44.1 118.9,43.3 116.8,45.5 113.4,48.0 110.5,49.1 107.6,50.9 106.8,49.3 108.9,46.9 106.4,45.8 104.3,48.0 102.8,49.6 100.1,50.1 99.5,52.0 101.8,54.4 102.2,55.4 104.9,54.1 107.4,54.6 109.5,56.0 107.4,56.5 104.9,58.5 102.6,61.1 104.9,62.9 106.2,67.1 108.0,69.1 108.3,71.3 107.4,72.2 108.7,73.7 107.6,77.0 106.0,78.6 104.9,80.5 103.5,82.4 102.2,84.5 100.6,86.3 98.7,88.1 97.0,89.7 94.9,90.1 92.4,91.0 90.8,91.5 88.3,92.4 85.6,93.1 84.3,94.4 83.9,95.7 83.3,94.2 82.7,92.8 80.6,92.6 79.4,93.1 77.3,91.7 76.6,90.1 74.8,89.7 73.7,89.0 72.1,90.1 70.8,90.8 69.4,90.4 67.7,90.8 66.5,91.0 66.0,93.5 64.4,93.5 63.1,93.1 61.7,91.7 61.3,89.7 60.2,88.1 58.6,87.2 57.7,87.7 58.1,85.4 59.8,83.1 60.0,79.4 59.4,77.7 57.3,77.5 55.7,75.8 54.4,74.9 52.3,75.6 50.2,76.3 47.3,78.6 45.3,78.6 43.0,78.2 40.9,77.9 39.6,79.8 38.0,78.4 35.1,77.9 32.6,77.2 29.9,76.0 27.0,73.9 23.8,72.9 21.3,71.7 19.1,70.3 18.6,68.6 18.0,67.1 19.9,66.1 18.6,62.9 16.8,60.1 13.9,59.1 11.8,56.5 9.9,55.7 10.5,52.3 8.5,51.7 7.6,49.3 8.7,48.0 11.8,46.3 13.9,46.9 16.6,45.2 19.1,43.0 21.6,42.2 22.0,39.7 22.8,39.1 22.0,36.5 21.3,33.9 24.7,33.0 26.5,32.7 25.9,30.0 27.4,27.3 31.1,28.2 32.8,27.6 33.0,23.6 35.3,22.0 36.3,21.0 37.8,22.9 40.7,24.8 42.6,25.7 44.0,29.1 43.6,33.0 47.1,33.9 50.9,35.3 53.2,35.9 55.2,40.2 59.6,40.8 63.8,40.8 66.5,41.1 70.0,42.8 73.1,43.6 76.9,41.6 82.1,41.1 85.0,39.4 87.5,37.7 86.4,35.6 87.5,33.6 91.0,34.5 95.4,32.7 97.4,29.7 100.8,28.8 103.7,29.1 104.1,27.3 101.2,25.1 99.7,24.8 98.7,25.7 95.2,25.1 96.0,22.3 99.9,20.1 102.6,18.5 102.8,17.2 104.5,12.9 106.8,10.2 109.1,6.7" class="bd"/><polyline points="106.4,84.9 108.3,85.1 107.6,87.4 106.2,91.9 104.7,90.6 104.5,88.6 106.4,84.9" class="bd"/><polyline points="83.9,96.2 85.6,97.1 84.5,99.3 82.7,100.4 80.8,99.7 80.6,97.9 82.1,96.4 83.9,96.2" class="bd"/><polyline points="16.8,60.1 21.1,59.6 25.3,59.3 29.5,58.5 33.6,58.3 37.8,58.5 43.0,59.1" class="pv"/><polyline points="43.0,59.1 45.0,55.2 49.2,51.7 51.9,50.7 52.3,46.6 55.2,40.2" class="pv"/><polyline points="43.0,59.1 46.1,62.4 49.2,64.9 52.3,66.1 56.5,66.6 58.6,66.1 60.0,68.1 60.4,72.2 60.0,75.8 59.4,77.7" class="pv"/><polyline points="51.9,50.7 57.5,50.7 61.7,52.5 65.8,54.6 69.0,56.7 67.9,59.8 65.8,62.9 65.8,64.9" class="pv"/><polyline points="58.6,66.1 60.6,65.4 64.8,65.1 65.8,64.9 67.9,64.1 70.0,63.6 71.7,65.6 74.2,66.8" class="pv"/><polyline points="56.9,40.2 59.6,45.2 62.7,46.6 67.9,49.3 71.0,50.1 71.7,54.6 73.1,59.8 76.2,60.6 78.5,54.6 77.1,49.9 75.2,50.7 72.7,49.3" class="pv"/><polyline points="76.2,60.6 76.4,62.4 74.2,65.6 74.2,66.8" class="pv"/><polyline points="78.5,53.9 80.8,53.9 84.5,50.1 86.0,49.1 88.3,47.4 91.4,46.6 92.9,43.9 96.0,42.5 98.9,41.1 102.6,41.6 105.3,41.1 108.5,41.1 109.5,38.5 108.5,35.3 111.0,33.0 112.6,30.9 111.6,26.0 109.5,23.2 108.5,18.5 111.6,15.2 115.7,9.8" class="pv"/><polyline points="112.6,30.9 116.8,33.3 120.9,35.3 125.1,36.8 127.6,36.5" class="pv"/><polyline points="109.5,38.5 111.6,39.1 114.7,41.9 116.8,45.2" class="pv"/><polyline points="102.8,49.6 103.9,46.6 103.3,43.9 102.6,41.6" class="pv"/><polyline points="84.5,62.1 84.3,56.5 85.8,52.0 86.0,49.1" class="pv"/><polyline points="91.4,46.6 91.8,47.4 91.0,51.2 91.4,54.9 91.2,57.8 89.3,60.6 86.6,61.6 84.5,62.1" class="pv"/><polyline points="74.2,66.8 77.3,68.1 80.4,68.1 82.5,69.1 83.9,67.1 85.6,65.4 84.5,62.1" class="pv"/><polyline points="89.3,60.6 91.8,58.0 94.9,58.3 96.2,62.1 94.9,63.6 96.0,64.9 94.5,67.8 92.9,69.1 89.7,69.3 86.6,67.1 85.6,65.4" class="pv"/><polyline points="94.9,58.3 94.7,56.5 96.6,54.4 99.5,52.5" class="pv"/><polyline points="96.2,62.1 99.1,62.1 101.4,62.1 102.6,61.1" class="pv"/><polyline points="96.2,62.1 99.1,63.1 101.2,64.9 100.8,67.3 102.6,68.6 103.1,70.5 105.3,71.3 107.0,71.7" class="pv"/><polyline points="103.1,70.5 101.2,73.4 100.6,75.3 101.2,77.7 103.3,79.1 104.9,80.3" class="pv"/><polyline points="93.7,67.8 96.0,70.5 97.0,73.9 99.1,74.6 100.6,75.3" class="pv"/><polyline points="97.0,73.9 92.9,73.9 91.8,74.6 92.2,77.0 91.4,79.4 91.8,82.1 91.6,84.0 92.2,85.6 94.3,86.1 96.0,85.4 97.0,83.3 98.5,81.5 100.1,79.4 101.2,77.7" class="pv"/><polyline points="96.0,85.4 98.5,88.3" class="pv"/><polyline points="82.5,74.6 86.6,74.1 89.5,74.6 91.8,74.6" class="pv"/><polyline points="82.5,74.6 84.1,72.2 83.5,69.8 82.7,69.1" class="pv"/><polyline points="82.5,74.6 81.4,77.0 82.1,80.5 82.5,82.8 84.5,83.1 86.2,84.7 88.7,85.1 90.8,84.5 91.6,84.0" class="pv"/><polyline points="86.2,84.7 86.6,87.4 85.6,90.1 83.1,92.8" class="pv"/><polyline points="82.5,82.8 80.0,84.0 77.3,85.6 74.4,85.4 73.1,87.0 74.2,89.0" class="pv"/><polyline points="73.1,86.3 72.1,84.0 71.7,81.5 73.1,79.1 75.2,77.5 77.7,76.3 79.8,75.8 81.4,77.0" class="pv"/><polyline points="59.4,77.7 61.9,76.3 63.3,77.7 65.2,80.3 66.9,82.1 69.0,81.0 70.0,78.2 72.1,78.2 72.1,80.5" class="pv"/><polyline points="79.8,75.8 76.2,77.0 75.2,74.6 75.8,72.2 78.3,69.8 80.4,68.1" class="pv"/><rect x="0.5" y="0.5" width="135" height="106" class="fw"/><path d="M0.3 0.5H10.7M0.3 106.5H10.7M21.1 0.5H31.5M21.1 106.5H31.5M41.9 0.5H52.3M41.9 106.5H52.3M62.7 0.5H73.1M62.7 106.5H73.1M83.5 0.5H93.9M83.5 106.5H93.9M104.3 0.5H114.7M104.3 106.5H114.7M125.1 0.5H135.5M125.1 106.5H135.5M0.5 0.0V18.5M135.5 0.0V18.5M0.5 33.9V48.0M135.5 33.9V48.0M0.5 61.1V73.4M135.5 61.1V73.4M0.5 85.1V96.4M135.5 85.1V96.4" class="fb"/></svg></div>
<div class="cb" style="left:531.5px;top:274px;background:linear-gradient(180deg,#800000 0.00%,#9f0000 3.12%,#bf0000 6.25%,#df0000 9.38%,#ff0000 12.50%,#ff2000 15.62%,#ff4000 18.75%,#ff6000 21.88%,#ff8000 25.00%,#ff9f00 28.12%,#ffbf00 31.25%,#ffdf00 34.38%,#ffff00 37.50%,#dfff20 40.62%,#bfff40 43.75%,#9fff60 46.88%,#80ff80 50.00%,#60ff9f 53.12%,#40ffbf 56.25%,#20ffdf 59.38%,#00ffff 62.50%,#00dfff 65.62%,#00bfff 68.75%,#009fff 71.88%,#0080ff 75.00%,#0060ff 78.12%,#0040ff 81.25%,#0020ff 84.38%,#0000ff 87.50%,#0000df 90.62%,#0000bf 93.75%,#00009f 96.88%,#000080 100.00%)"></div>
<div class="t tk" style="left:523.8px;top:266.4px;width:20px;text-align:center">hPa</div>
<div class="t tk" style="left:538.6px;top:275.6px;width:3.5px;text-align:center">4</div>
<div class="t tk" style="left:538.6px;top:300.6px;width:3.5px;text-align:center">3</div>
<div class="t tk" style="left:538.6px;top:326.0px;width:3.5px;text-align:center">2</div>
<div class="t tk" style="left:538.6px;top:351.3px;width:3.5px;text-align:center">1</div>
<div class="t tk" style="left:538.6px;top:376.3px;width:3.5px;text-align:center">0</div>
<div class="t tk" style="left:375.5px;top:289.0px;width:14px;text-align:right">50°N</div>
<div class="t tk" style="left:375.5px;top:317.8px;width:14px;text-align:right">40°N</div>
<div class="t tk" style="left:375.5px;top:343.8px;width:14px;text-align:right">30°N</div>
<div class="t tk" style="left:375.5px;top:366.9px;width:14px;text-align:right">20°N</div>
<div class="t tk" style="left:377.4px;top:382.8px;width:30px;text-align:center">70°E</div>
<div class="t tk" style="left:398.2px;top:382.8px;width:30px;text-align:center">80°E</div>
<div class="t tk" style="left:419.0px;top:382.8px;width:30px;text-align:center">90°E</div>
<div class="t tk" style="left:439.8px;top:382.8px;width:30px;text-align:center">100°E</div>
<div class="t tk" style="left:460.6px;top:382.8px;width:30px;text-align:center">110°E</div>
<div class="t tk" style="left:481.4px;top:382.8px;width:30px;text-align:center">120°E</div>
<div class="t tk" style="left:502.2px;top:382.8px;width:30px;text-align:center">130°E</div>
<div class="t pl" style="left:395.5px;top:275.5px">(i)</div></body></html>
